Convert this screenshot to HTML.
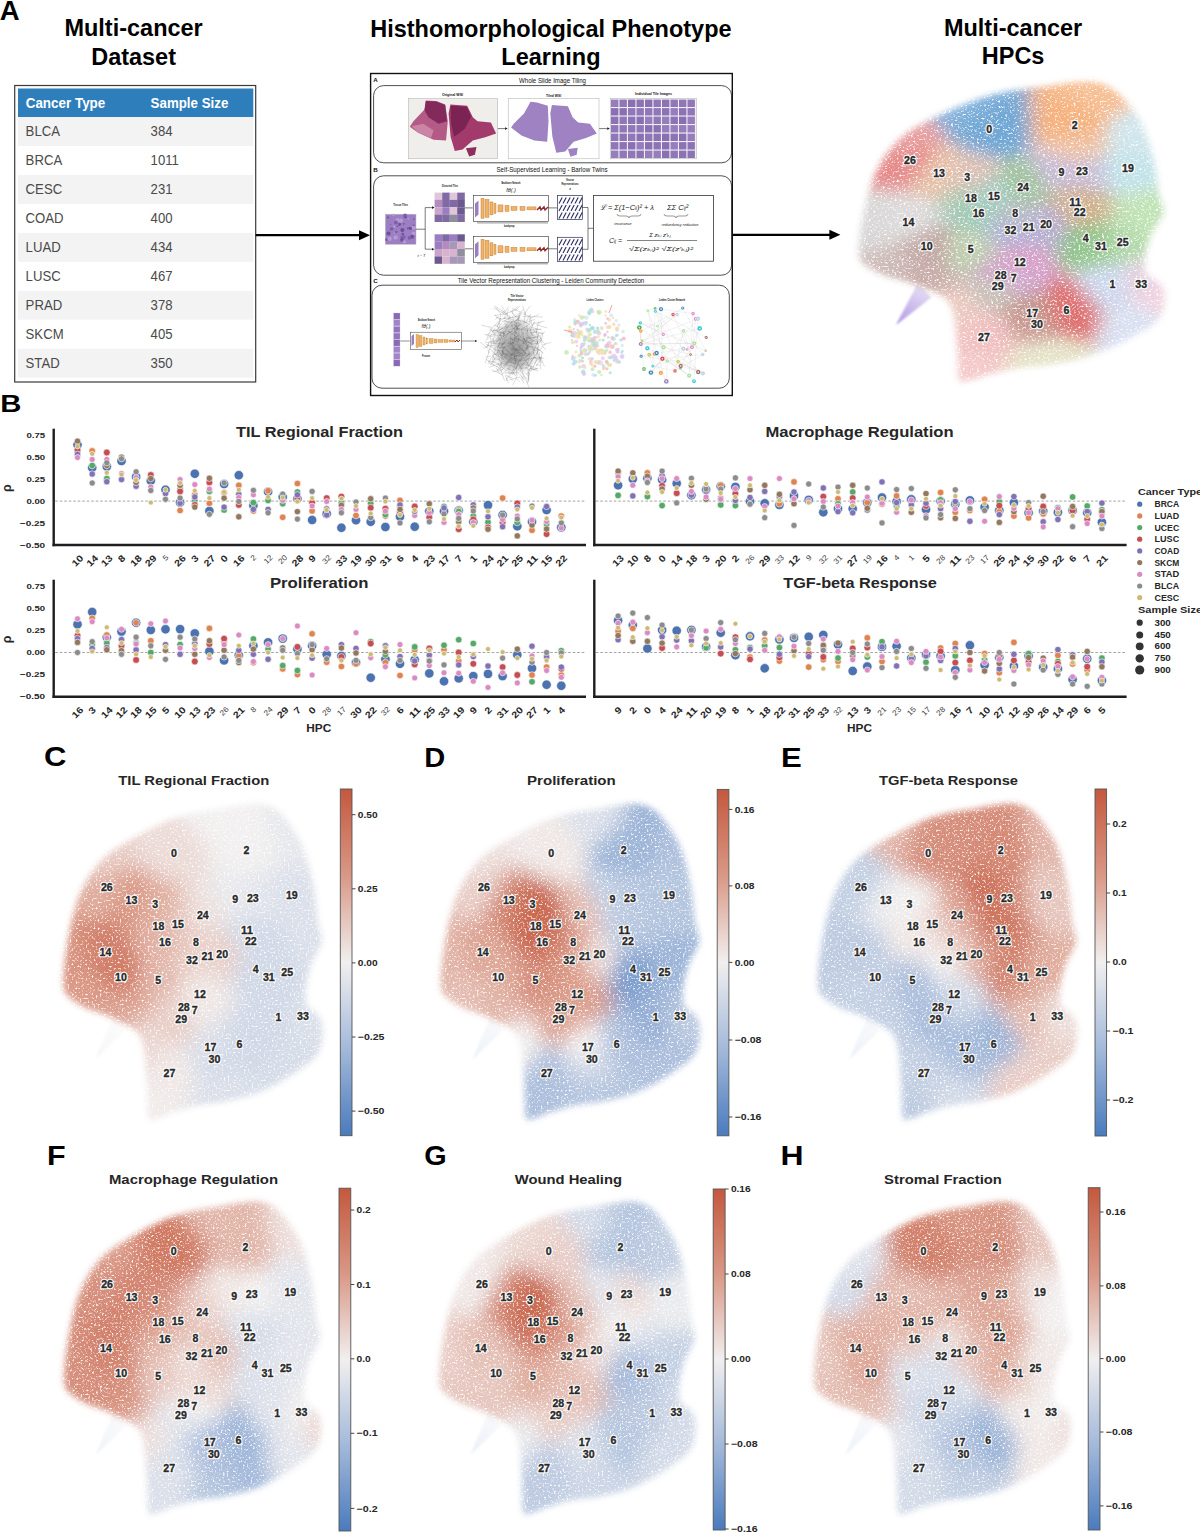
<!DOCTYPE html><html><head><meta charset="utf-8"><title>HPC figure</title><style>html,body{margin:0;padding:0;background:#fff;width:1200px;height:1532px;overflow:hidden}svg{display:block}text{font-family:"Liberation Sans",sans-serif}</style></head><body><svg width="1200" height="1532" viewBox="0 0 1200 1532"><rect width="1200" height="1532" fill="#fff"/><defs><path id="uo" d="M63.5,985.0 C63.1,980.0 63.6,973.3 64.5,965.0 C65.4,956.7 67.1,945.0 69.0,935.0 C70.9,925.0 72.8,914.5 76.0,905.0 C79.2,895.5 83.3,885.8 88.0,878.0 C92.7,870.2 98.3,863.5 104.0,858.0 C109.7,852.5 115.2,849.3 122.0,845.0 C128.8,840.7 137.0,836.2 145.0,832.0 C153.0,827.8 161.7,823.2 170.0,820.0 C178.3,816.8 186.7,814.8 195.0,813.0 C203.3,811.2 212.2,810.3 220.0,809.0 C227.8,807.7 235.0,805.8 242.0,805.0 C249.0,804.2 256.0,803.0 262.0,804.0 C268.0,805.0 273.2,807.3 278.0,811.0 C282.8,814.7 286.8,820.0 291.0,826.0 C295.2,832.0 299.8,839.7 303.0,847.0 C306.2,854.3 308.0,862.0 310.0,870.0 C312.0,878.0 313.7,886.3 315.0,895.0 C316.3,903.7 316.8,914.5 318.0,922.0 C319.2,929.5 322.0,935.2 322.0,940.0 C322.0,944.8 319.8,946.8 318.0,951.0 C316.2,955.2 313.0,958.8 311.0,965.0 C309.0,971.2 306.7,981.2 306.0,988.0 C305.3,994.8 305.2,1001.7 307.0,1006.0 C308.8,1010.3 314.4,1010.7 317.0,1014.0 C319.6,1017.3 321.8,1020.7 322.5,1026.0 C323.2,1031.3 322.4,1040.7 321.0,1046.0 C319.6,1051.3 317.0,1054.5 314.0,1058.0 C311.0,1061.5 308.3,1063.2 303.0,1067.0 C297.7,1070.8 289.5,1076.7 282.0,1081.0 C274.5,1085.3 267.0,1089.7 258.0,1093.0 C249.0,1096.3 237.7,1099.0 228.0,1101.0 C218.3,1103.0 208.5,1103.3 200.0,1105.0 C191.5,1106.7 184.0,1108.8 177.0,1111.0 C170.0,1113.2 162.7,1116.7 158.0,1118.0 C153.3,1119.3 150.8,1122.0 149.0,1119.0 C147.2,1116.0 147.9,1107.0 147.5,1100.0 C147.1,1093.0 147.1,1085.5 146.5,1077.0 C145.9,1068.5 145.6,1056.5 144.0,1049.0 C142.4,1041.5 141.3,1036.7 137.0,1032.0 C132.7,1027.3 123.2,1023.8 118.0,1021.0 C112.8,1018.2 111.7,1017.3 106.0,1015.0 C100.3,1012.7 90.5,1010.3 84.0,1007.0 C77.5,1003.7 70.4,998.7 67.0,995.0 C63.6,991.3 63.9,990.0 63.5,985.0Z"/><path id="ut" d="M113.0,1017.0 L118.0,1021.5 L125.0,1031.0 L97.0,1058.0 L95.0,1059.5Z"/><filter id="fsoft" x="-20%" y="-20%" width="140%" height="140%"><feGaussianBlur stdDeviation="3.2"/></filter><filter id="fsoft1" x="-30%" y="-30%" width="160%" height="160%"><feGaussianBlur stdDeviation="0.9"/></filter><filter id="fblob" x="-50%" y="-50%" width="200%" height="200%"><feGaussianBlur stdDeviation="10"/></filter><filter id="fblob2" x="-50%" y="-50%" width="200%" height="200%"><feGaussianBlur stdDeviation="8.5"/></filter><filter id="fspeck" x="0" y="760" width="400" height="400" filterUnits="userSpaceOnUse"><feGaussianBlur in="SourceGraphic" stdDeviation="3.2" result="b"/><feTurbulence type="fractalNoise" baseFrequency="0.5" numOctaves="2" seed="5" result="n"/><feColorMatrix in="n" type="matrix" values="0 0 0 0 1 0 0 0 0 1 0 0 0 0 1 4 0 0 0 -0.8" result="nm"/><feComposite in="b" in2="nm" operator="in"/></filter><mask id="um" maskUnits="userSpaceOnUse" x="0" y="760" width="400" height="400"><g filter="url(#fspeck)"><use href="#uo" fill="#fff"/></g></mask><linearGradient id="cmap" x1="0" y1="0" x2="0" y2="1"><stop offset="0" stop-color="#c4583e"/><stop offset="0.25" stop-color="#d99886"/><stop offset="0.5" stop-color="#f1efef"/><stop offset="0.75" stop-color="#a3b9da"/><stop offset="1" stop-color="#4a7bbd"/></linearGradient></defs><text x="-0.3" y="20.3" font-size="27.50" font-weight="bold" fill="#000" text-anchor="start">A</text><text x="133.6" y="36.4" font-size="23.60" font-weight="bold" fill="#000" text-anchor="middle" textLength="138.3" lengthAdjust="spacingAndGlyphs">Multi-cancer</text><text x="133.6" y="64.6" font-size="23.60" font-weight="bold" fill="#000" text-anchor="middle" textLength="84.8" lengthAdjust="spacingAndGlyphs">Dataset</text><text x="550.9" y="36.7" font-size="23.60" font-weight="bold" fill="#000" text-anchor="middle" textLength="361.4" lengthAdjust="spacingAndGlyphs">Histhomorphological Phenotype</text><text x="550.9" y="65.0" font-size="23.60" font-weight="bold" fill="#000" text-anchor="middle" textLength="99.2" lengthAdjust="spacingAndGlyphs">Learning</text><text x="1013.1" y="36.4" font-size="23.60" font-weight="bold" fill="#000" text-anchor="middle" textLength="138.3" lengthAdjust="spacingAndGlyphs">Multi-cancer</text><text x="1013.1" y="64.4" font-size="23.60" font-weight="bold" fill="#000" text-anchor="middle" textLength="62.6" lengthAdjust="spacingAndGlyphs">HPCs</text><rect x="14.7" y="85.5" width="241" height="296.5" fill="#fff" stroke="#3a3a3a" stroke-width="1.2"/><rect x="18" y="88.5" width="235.3" height="28.6" fill="#2e7ebc"/><rect x="18" y="117.1" width="235.3" height="28.95" fill="#f3f3f3"/><text x="25.6" y="136.4" font-size="14.60" fill="#4a4a4a" text-anchor="start" textLength="34.4" lengthAdjust="spacingAndGlyphs">BLCA</text><text x="150.6" y="136.4" font-size="14.60" fill="#4a4a4a" text-anchor="start" textLength="21.9" lengthAdjust="spacingAndGlyphs">384</text><rect x="18" y="146.0" width="235.3" height="28.95" fill="#fff"/><text x="25.6" y="165.3" font-size="14.60" fill="#4a4a4a" text-anchor="start" textLength="36.6" lengthAdjust="spacingAndGlyphs">BRCA</text><text x="150.6" y="165.3" font-size="14.60" fill="#4a4a4a" text-anchor="start" textLength="28.2" lengthAdjust="spacingAndGlyphs">1011</text><rect x="18" y="175.0" width="235.3" height="28.95" fill="#f3f3f3"/><text x="25.6" y="194.3" font-size="14.60" fill="#4a4a4a" text-anchor="start" textLength="36.6" lengthAdjust="spacingAndGlyphs">CESC</text><text x="150.6" y="194.3" font-size="14.60" fill="#4a4a4a" text-anchor="start" textLength="21.9" lengthAdjust="spacingAndGlyphs">231</text><rect x="18" y="203.9" width="235.3" height="28.95" fill="#fff"/><text x="25.6" y="223.2" font-size="14.60" fill="#4a4a4a" text-anchor="start" textLength="38.0" lengthAdjust="spacingAndGlyphs">COAD</text><text x="150.6" y="223.2" font-size="14.60" fill="#4a4a4a" text-anchor="start" textLength="21.9" lengthAdjust="spacingAndGlyphs">400</text><rect x="18" y="232.9" width="235.3" height="28.95" fill="#f3f3f3"/><text x="25.6" y="252.2" font-size="14.60" fill="#4a4a4a" text-anchor="start" textLength="35.1" lengthAdjust="spacingAndGlyphs">LUAD</text><text x="150.6" y="252.2" font-size="14.60" fill="#4a4a4a" text-anchor="start" textLength="21.9" lengthAdjust="spacingAndGlyphs">434</text><rect x="18" y="261.9" width="235.3" height="28.95" fill="#fff"/><text x="25.6" y="281.2" font-size="14.60" fill="#4a4a4a" text-anchor="start" textLength="35.1" lengthAdjust="spacingAndGlyphs">LUSC</text><text x="150.6" y="281.2" font-size="14.60" fill="#4a4a4a" text-anchor="start" textLength="21.9" lengthAdjust="spacingAndGlyphs">467</text><rect x="18" y="290.8" width="235.3" height="28.95" fill="#f3f3f3"/><text x="25.6" y="310.1" font-size="14.60" fill="#4a4a4a" text-anchor="start" textLength="36.6" lengthAdjust="spacingAndGlyphs">PRAD</text><text x="150.6" y="310.1" font-size="14.60" fill="#4a4a4a" text-anchor="start" textLength="21.9" lengthAdjust="spacingAndGlyphs">378</text><rect x="18" y="319.8" width="235.3" height="28.95" fill="#fff"/><text x="25.6" y="339.1" font-size="14.60" fill="#4a4a4a" text-anchor="start" textLength="38.0" lengthAdjust="spacingAndGlyphs">SKCM</text><text x="150.6" y="339.1" font-size="14.60" fill="#4a4a4a" text-anchor="start" textLength="21.9" lengthAdjust="spacingAndGlyphs">405</text><rect x="18" y="348.7" width="235.3" height="28.95" fill="#f3f3f3"/><text x="25.6" y="368.0" font-size="14.60" fill="#4a4a4a" text-anchor="start" textLength="34.1" lengthAdjust="spacingAndGlyphs">STAD</text><text x="150.6" y="368.0" font-size="14.60" fill="#4a4a4a" text-anchor="start" textLength="21.9" lengthAdjust="spacingAndGlyphs">350</text><text x="25.7" y="108.0" font-size="15.00" font-weight="bold" fill="#fff" text-anchor="start" textLength="79.6" lengthAdjust="spacingAndGlyphs">Cancer Type</text><text x="150.6" y="108.0" font-size="15.00" font-weight="bold" fill="#fff" text-anchor="start" textLength="77.7" lengthAdjust="spacingAndGlyphs">Sample Size</text><line x1="255.7" y1="235.2" x2="360.0" y2="235.2" stroke="#000" stroke-width="2.2"/><path d="M370.0,235.2 L359.0,230.2 L359.0,240.2Z" fill="#000"/><line x1="732.8" y1="234.8" x2="830.4" y2="234.8" stroke="#000" stroke-width="2.2"/><path d="M840.4,234.8 L829.4,229.8 L829.4,239.8Z" fill="#000"/><rect x="370.6" y="73.5" width="361.7" height="322" fill="#fff" stroke="#111" stroke-width="1.4"/><text x="373.2" y="82.0" font-size="6.20" font-weight="bold" fill="#111" text-anchor="start">A</text><text x="552.5" y="82.6" font-size="6.30" fill="#111" text-anchor="middle" textLength="67.0" lengthAdjust="spacingAndGlyphs">Whole Slide Image Tiling</text><rect x="373.6" y="85.6" width="358" height="77.2" rx="10" fill="none" stroke="#222" stroke-width="0.8"/><text x="452.5" y="96.0" font-size="3.80" font-weight="bold" fill="#111" text-anchor="middle" textLength="21.0" lengthAdjust="spacingAndGlyphs">Original WSI</text><text x="553.6" y="96.6" font-size="3.80" font-weight="bold" fill="#111" text-anchor="middle" textLength="15.0" lengthAdjust="spacingAndGlyphs">Tiled WSI</text><text x="653.5" y="95.4" font-size="3.80" font-weight="bold" fill="#111" text-anchor="middle" textLength="37.0" lengthAdjust="spacingAndGlyphs">Individual Tile Images</text><rect x="408.4" y="98.6" width="89.3" height="60.2" fill="#efeeea" stroke="#aaa" stroke-width="0.5"/><path d="M425.8,100.5 L436.2,101.0 L445.2,104.4 L447.8,121.2 L446.0,140.5 L433.6,139.8 L418.1,132.8 L409.8,126.8 L413.4,121.2 L424.5,109.5 Z" fill="#b45a86"/><path d="M425.8,101.0 L436.2,101.5 L445.2,104.9 L447.0,121.2 L438.7,123.7 L428.4,117.3 L424.5,110.1 Z" fill="#7e2456" opacity="0.9"/><path d="M450.4,104.4 L467.2,105.7 L472.8,117.3 L477.5,121.2 L490.9,122.5 L496.1,133.6 L485.2,137.2 L472.8,140.5 L462.5,149.6 L454.8,151.1 L450.6,136.7 L448.6,113.4 Z" fill="#a23a6c"/><path d="M450.6,105.7 L466.6,106.7 L471.3,116.5 L464.6,128.9 L454.2,136.7 L451.1,123.7 Z" fill="#74204e" opacity="0.85"/><path d="M465.9,148.3 L476.5,147.0 L474.9,154.7 L469.2,156.6 Z" fill="#8e2e5e"/><path d="M411.6,126.3 L423.2,123.7 L433.6,130.2 L431.0,138.0 L418.1,132.8 Z" fill="#cf8fae" opacity="0.8"/><rect x="508.2" y="98.6" width="90.8" height="60.2" fill="#fff" stroke="#aaa" stroke-width="0.5"/><path d="M530.5,101.8 L536.9,102.6 L547.8,105.7 L548.5,121.2 L547.2,141.8 L534.3,140.5 L521.4,135.4 L511.1,127.6 L513.7,123.7 L524.0,113.4 Z" fill="#9f82c2"/><path d="M551.9,105.1 L567.9,106.2 L572.6,117.3 L578.2,122.5 L589.9,123.7 L596.8,133.6 L586.0,138.0 L573.6,141.8 L565.3,151.6 L556.3,152.7 L552.4,136.7 L550.3,113.4 Z" fill="#9f82c2"/><path d="M567.9,149.1 L577.7,147.8 L576.7,154.7 L570.5,156.8 Z" fill="#9f82c2"/><rect x="610.2" y="98.6" width="86.1" height="60.2" fill="#f2eef6" stroke="#aaa" stroke-width="0.5"/><rect x="611.0" y="99.6" width="7.4" height="7.4" fill="#967dbb"/><rect x="611.0" y="108.1" width="7.4" height="7.4" fill="#8a70b2"/><rect x="611.0" y="116.6" width="7.4" height="7.4" fill="#8c74b4"/><rect x="611.0" y="125.1" width="7.4" height="7.4" fill="#9077b7"/><rect x="611.0" y="133.6" width="7.4" height="7.4" fill="#9077b7"/><rect x="611.0" y="142.1" width="7.4" height="7.4" fill="#9077b7"/><rect x="611.0" y="150.6" width="7.4" height="7.4" fill="#967dbb"/><rect x="619.5" y="99.6" width="7.4" height="7.4" fill="#9077b7"/><rect x="619.5" y="108.1" width="7.4" height="7.4" fill="#8a70b2"/><rect x="619.5" y="116.6" width="7.4" height="7.4" fill="#9077b7"/><rect x="619.5" y="125.1" width="7.4" height="7.4" fill="#9077b7"/><rect x="619.5" y="133.6" width="7.4" height="7.4" fill="#8c74b4"/><rect x="619.5" y="142.1" width="7.4" height="7.4" fill="#8c74b4"/><rect x="619.5" y="150.6" width="7.4" height="7.4" fill="#9077b7"/><rect x="628.0" y="99.6" width="7.4" height="7.4" fill="#8a70b2"/><rect x="628.0" y="108.1" width="7.4" height="7.4" fill="#9077b7"/><rect x="628.0" y="116.6" width="7.4" height="7.4" fill="#8c74b4"/><rect x="628.0" y="125.1" width="7.4" height="7.4" fill="#9077b7"/><rect x="628.0" y="133.6" width="7.4" height="7.4" fill="#9077b7"/><rect x="628.0" y="142.1" width="7.4" height="7.4" fill="#8a70b2"/><rect x="628.0" y="150.6" width="7.4" height="7.4" fill="#9077b7"/><rect x="636.5" y="99.6" width="7.4" height="7.4" fill="#8c74b4"/><rect x="636.5" y="108.1" width="7.4" height="7.4" fill="#9077b7"/><rect x="636.5" y="116.6" width="7.4" height="7.4" fill="#8a70b2"/><rect x="636.5" y="125.1" width="7.4" height="7.4" fill="#9077b7"/><rect x="636.5" y="133.6" width="7.4" height="7.4" fill="#8a70b2"/><rect x="636.5" y="142.1" width="7.4" height="7.4" fill="#967dbb"/><rect x="636.5" y="150.6" width="7.4" height="7.4" fill="#8c74b4"/><rect x="645.0" y="99.6" width="7.4" height="7.4" fill="#8a70b2"/><rect x="645.0" y="108.1" width="7.4" height="7.4" fill="#9077b7"/><rect x="645.0" y="116.6" width="7.4" height="7.4" fill="#967dbb"/><rect x="645.0" y="125.1" width="7.4" height="7.4" fill="#8a70b2"/><rect x="645.0" y="133.6" width="7.4" height="7.4" fill="#9077b7"/><rect x="645.0" y="142.1" width="7.4" height="7.4" fill="#8a70b2"/><rect x="645.0" y="150.6" width="7.4" height="7.4" fill="#967dbb"/><rect x="653.5" y="99.6" width="7.4" height="7.4" fill="#9077b7"/><rect x="653.5" y="108.1" width="7.4" height="7.4" fill="#9077b7"/><rect x="653.5" y="116.6" width="7.4" height="7.4" fill="#9077b7"/><rect x="653.5" y="125.1" width="7.4" height="7.4" fill="#8a70b2"/><rect x="653.5" y="133.6" width="7.4" height="7.4" fill="#8c74b4"/><rect x="653.5" y="142.1" width="7.4" height="7.4" fill="#8c74b4"/><rect x="653.5" y="150.6" width="7.4" height="7.4" fill="#967dbb"/><rect x="662.0" y="99.6" width="7.4" height="7.4" fill="#8c74b4"/><rect x="662.0" y="108.1" width="7.4" height="7.4" fill="#8c74b4"/><rect x="662.0" y="116.6" width="7.4" height="7.4" fill="#967dbb"/><rect x="662.0" y="125.1" width="7.4" height="7.4" fill="#967dbb"/><rect x="662.0" y="133.6" width="7.4" height="7.4" fill="#8a70b2"/><rect x="662.0" y="142.1" width="7.4" height="7.4" fill="#8a70b2"/><rect x="662.0" y="150.6" width="7.4" height="7.4" fill="#8a70b2"/><rect x="670.5" y="99.6" width="7.4" height="7.4" fill="#9077b7"/><rect x="670.5" y="108.1" width="7.4" height="7.4" fill="#967dbb"/><rect x="670.5" y="116.6" width="7.4" height="7.4" fill="#8c74b4"/><rect x="670.5" y="125.1" width="7.4" height="7.4" fill="#967dbb"/><rect x="670.5" y="133.6" width="7.4" height="7.4" fill="#8c74b4"/><rect x="670.5" y="142.1" width="7.4" height="7.4" fill="#967dbb"/><rect x="670.5" y="150.6" width="7.4" height="7.4" fill="#9077b7"/><rect x="679.0" y="99.6" width="7.4" height="7.4" fill="#9077b7"/><rect x="679.0" y="108.1" width="7.4" height="7.4" fill="#8c74b4"/><rect x="679.0" y="116.6" width="7.4" height="7.4" fill="#8a70b2"/><rect x="679.0" y="125.1" width="7.4" height="7.4" fill="#967dbb"/><rect x="679.0" y="133.6" width="7.4" height="7.4" fill="#8a70b2"/><rect x="679.0" y="142.1" width="7.4" height="7.4" fill="#8c74b4"/><rect x="679.0" y="150.6" width="7.4" height="7.4" fill="#8c74b4"/><rect x="687.5" y="99.6" width="7.4" height="7.4" fill="#9077b7"/><rect x="687.5" y="108.1" width="7.4" height="7.4" fill="#9077b7"/><rect x="687.5" y="116.6" width="7.4" height="7.4" fill="#967dbb"/><rect x="687.5" y="125.1" width="7.4" height="7.4" fill="#967dbb"/><rect x="687.5" y="133.6" width="7.4" height="7.4" fill="#967dbb"/><rect x="687.5" y="142.1" width="7.4" height="7.4" fill="#8c74b4"/><rect x="687.5" y="150.6" width="7.4" height="7.4" fill="#8c74b4"/><line x1="497.9" y1="128.6" x2="506.1" y2="128.6" stroke="#222" stroke-width="0.6"/><path d="M507.6,128.6 L505.1,127.2 L505.1,130Z" fill="#222"/><line x1="599.2" y1="128.6" x2="608.3" y2="128.6" stroke="#222" stroke-width="0.6"/><path d="M609.8,128.6 L607.3,127.2 L607.3,130Z" fill="#222"/><text x="373.2" y="171.8" font-size="6.20" font-weight="bold" fill="#111" text-anchor="start">B</text><text x="552.0" y="172.2" font-size="6.30" fill="#111" text-anchor="middle" textLength="111.0" lengthAdjust="spacingAndGlyphs">Self-Supervised Learning - Barlow Twins</text><rect x="373.6" y="175.8" width="358" height="99.4" rx="10" fill="none" stroke="#222" stroke-width="0.8"/><text x="400.6" y="206.2" font-size="3.60" font-weight="bold" fill="#111" text-anchor="middle" textLength="14.5" lengthAdjust="spacingAndGlyphs">Tissue Tiles</text><rect x="385.3" y="214.2" width="30.7" height="30.1" fill="#9c7fc3" stroke="#bbb" stroke-width="0.5"/><circle cx="388.0" cy="217.6" r="1.0" fill="#6e4f99"/><circle cx="405.3" cy="216.7" r="1.7" fill="#6e4f99"/><circle cx="402.8" cy="234.1" r="1.3" fill="#6e4f99"/><circle cx="397.2" cy="233.7" r="0.6" fill="#b49bd3"/><circle cx="396.3" cy="232.1" r="1.4" fill="#7d5ea8"/><circle cx="408.3" cy="218.6" r="1.0" fill="#b49bd3"/><circle cx="412.6" cy="228.9" r="0.9" fill="#b49bd3"/><circle cx="401.9" cy="239.7" r="1.9" fill="#6e4f99"/><circle cx="394.1" cy="226.6" r="1.2" fill="#b49bd3"/><circle cx="413.8" cy="219.2" r="0.9" fill="#7d5ea8"/><circle cx="405.1" cy="215.3" r="1.9" fill="#7d5ea8"/><circle cx="393.6" cy="215.1" r="1.3" fill="#b49bd3"/><circle cx="403.7" cy="223.9" r="0.8" fill="#6e4f99"/><circle cx="413.6" cy="233.3" r="1.8" fill="#b49bd3"/><circle cx="412.1" cy="236.8" r="2.0" fill="#6e4f99"/><circle cx="397.4" cy="226.2" r="0.8" fill="#6e4f99"/><circle cx="397.6" cy="220.3" r="2.2" fill="#b49bd3"/><circle cx="390.7" cy="224.5" r="0.7" fill="#7d5ea8"/><circle cx="402.4" cy="230.0" r="2.1" fill="#6e4f99"/><circle cx="386.7" cy="239.5" r="1.6" fill="#7d5ea8"/><circle cx="404.4" cy="241.8" r="1.6" fill="#b49bd3"/><circle cx="389.6" cy="238.8" r="2.2" fill="#b49bd3"/><circle cx="399.9" cy="223.7" r="0.8" fill="#6e4f99"/><circle cx="395.9" cy="222.4" r="1.9" fill="#7d5ea8"/><circle cx="401.0" cy="220.7" r="2.1" fill="#b49bd3"/><circle cx="390.3" cy="230.2" r="0.6" fill="#6e4f99"/><circle cx="394.6" cy="233.0" r="0.7" fill="#b49bd3"/><circle cx="401.0" cy="240.4" r="1.2" fill="#7d5ea8"/><circle cx="401.4" cy="236.8" r="1.1" fill="#7d5ea8"/><circle cx="403.8" cy="237.1" r="1.8" fill="#7d5ea8"/><circle cx="409.4" cy="237.9" r="1.8" fill="#7d5ea8"/><circle cx="391.8" cy="228.8" r="1.8" fill="#7d5ea8"/><circle cx="408.9" cy="228.2" r="0.9" fill="#6e4f99"/><circle cx="413.7" cy="227.5" r="2.1" fill="#b49bd3"/><circle cx="413.7" cy="225.2" r="1.0" fill="#7d5ea8"/><circle cx="399.6" cy="224.5" r="1.4" fill="#6e4f99"/><circle cx="410.4" cy="228.4" r="1.6" fill="#6e4f99"/><circle cx="388.5" cy="233.5" r="2.1" fill="#6e4f99"/><circle cx="407.8" cy="228.4" r="0.9" fill="#6e4f99"/><circle cx="395.6" cy="237.4" r="2.2" fill="#b49bd3"/><path d="M416,229.2 H425.2 M425.2,207.6 V249.2 M425.2,207.6 H432.6 M425.2,249.2 H432.6" stroke="#222" stroke-width="0.6" fill="none"/><path d="M434.6,207.6 L432,206.3 L432,208.9Z M434.6,249.2 L432,247.9 L432,250.5Z" fill="#222"/><text x="421.5" y="257" font-size="4" font-style="italic" fill="#222" font-family="Liberation Serif,serif" text-anchor="middle">t ~ T</text><text x="450.0" y="186.5" font-size="3.60" font-weight="bold" fill="#111" text-anchor="middle" textLength="16.0" lengthAdjust="spacingAndGlyphs">Distorted Tiles</text><rect x="434.6" y="192.6" width="7.6" height="7.4" fill="#e0c6da"/><rect x="434.6" y="199.9" width="7.6" height="7.4" fill="#b58ac0"/><rect x="434.6" y="207.3" width="7.6" height="7.4" fill="#c9a5c9"/><rect x="434.6" y="214.6" width="7.6" height="7.4" fill="#7f6aa3"/><rect x="442.2" y="192.6" width="7.6" height="7.4" fill="#7f6aa3"/><rect x="442.2" y="199.9" width="7.6" height="7.4" fill="#7f6aa3"/><rect x="442.2" y="207.3" width="7.6" height="7.4" fill="#9b7ec2"/><rect x="442.2" y="214.6" width="7.6" height="7.4" fill="#7f6aa3"/><rect x="449.7" y="192.6" width="7.6" height="7.4" fill="#e0c6da"/><rect x="449.7" y="199.9" width="7.6" height="7.4" fill="#7f6aa3"/><rect x="449.7" y="207.3" width="7.6" height="7.4" fill="#e0c6da"/><rect x="449.7" y="214.6" width="7.6" height="7.4" fill="#8e8e9e"/><rect x="457.2" y="192.6" width="7.6" height="7.4" fill="#7f6aa3"/><rect x="457.2" y="199.9" width="7.6" height="7.4" fill="#6c5a8e"/><rect x="457.2" y="207.3" width="7.6" height="7.4" fill="#6c5a8e"/><rect x="457.2" y="214.6" width="7.6" height="7.4" fill="#7f6aa3"/><rect x="434.6" y="234.3" width="7.6" height="7.4" fill="#9b7ec2"/><rect x="434.6" y="241.7" width="7.6" height="7.4" fill="#9b7ec2"/><rect x="434.6" y="249.0" width="7.6" height="7.4" fill="#c9a5c9"/><rect x="434.6" y="256.4" width="7.6" height="7.4" fill="#6c5a8e"/><rect x="442.2" y="234.3" width="7.6" height="7.4" fill="#7f6aa3"/><rect x="442.2" y="241.7" width="7.6" height="7.4" fill="#b58ac0"/><rect x="442.2" y="249.0" width="7.6" height="7.4" fill="#d8b3cf"/><rect x="442.2" y="256.4" width="7.6" height="7.4" fill="#d8b3cf"/><rect x="449.7" y="234.3" width="7.6" height="7.4" fill="#9b7ec2"/><rect x="449.7" y="241.7" width="7.6" height="7.4" fill="#a898b8"/><rect x="449.7" y="249.0" width="7.6" height="7.4" fill="#d8b3cf"/><rect x="449.7" y="256.4" width="7.6" height="7.4" fill="#a898b8"/><rect x="457.2" y="234.3" width="7.6" height="7.4" fill="#6c5a8e"/><rect x="457.2" y="241.7" width="7.6" height="7.4" fill="#d8b3cf"/><rect x="457.2" y="249.0" width="7.6" height="7.4" fill="#8e8e9e"/><rect x="457.2" y="256.4" width="7.6" height="7.4" fill="#a898b8"/><text x="511.0" y="184.0" font-size="3.60" font-weight="bold" fill="#111" text-anchor="middle" textLength="19.0" lengthAdjust="spacingAndGlyphs">Backbone Network</text><text x="511" y="191.5" font-size="5.5" font-style="italic" fill="#222" font-family="Liberation Serif,serif" text-anchor="middle">fθ(.)</text><line x1="464.9" y1="207.9" x2="472.8" y2="207.9" stroke="#222" stroke-width="0.6"/><rect x="473.3" y="195.4" width="75.1" height="26" fill="#fff" stroke="#333" stroke-width="0.6"/><path d="M475,203.4 l3.5,-3 v14 l-3.5,3Z" fill="#9b7ec2"/><rect x="481.0" y="198.4" width="3.0" height="20.0" fill="#f0b266" stroke="#b7772e" stroke-width="0.4"/><rect x="485.0" y="199.4" width="4.0" height="18.0" fill="#f0b266" stroke="#b7772e" stroke-width="0.4"/><rect x="490.0" y="201.9" width="3.0" height="13.0" fill="#f0b266" stroke="#b7772e" stroke-width="0.4"/><rect x="494.0" y="203.4" width="2.0" height="10.0" fill="#f0b266" stroke="#b7772e" stroke-width="0.4"/><rect x="498.0" y="204.9" width="5.0" height="7.0" fill="#f0b266" stroke="#b7772e" stroke-width="0.4"/><rect x="505.0" y="205.4" width="4.0" height="6.0" fill="#f0b266" stroke="#b7772e" stroke-width="0.4"/><rect x="511.0" y="206.4" width="6.0" height="4.0" fill="#f0b266" stroke="#b7772e" stroke-width="0.4"/><rect x="520.0" y="206.4" width="5.0" height="4.0" fill="#f0b266" stroke="#b7772e" stroke-width="0.4"/><rect x="527.0" y="206.9" width="9.0" height="3.0" fill="#f0b266" stroke="#b7772e" stroke-width="0.4"/><path d="M537,209.9 l3,-3 l1,3 l3,-3 l1,3 l3,-3" stroke="#8e2a2a" stroke-width="1.4" fill="none"/><line x1="548.5" y1="207.9" x2="557" y2="207.9" stroke="#222" stroke-width="0.6"/><line x1="548" y1="222.9" x2="477" y2="222.9" stroke="#222" stroke-width="0.5"/><text x="509.5" y="226.6" font-size="3.50" font-weight="bold" fill="#111" text-anchor="middle" textLength="11.0" lengthAdjust="spacingAndGlyphs">backprop.</text><line x1="464.9" y1="248.8" x2="472.8" y2="248.8" stroke="#222" stroke-width="0.6"/><rect x="473.3" y="236.3" width="75.1" height="26" fill="#fff" stroke="#333" stroke-width="0.6"/><path d="M475,244.3 l3.5,-3 v14 l-3.5,3Z" fill="#9b7ec2"/><rect x="481.0" y="239.3" width="3.0" height="20.0" fill="#f0b266" stroke="#b7772e" stroke-width="0.4"/><rect x="485.0" y="240.3" width="4.0" height="18.0" fill="#f0b266" stroke="#b7772e" stroke-width="0.4"/><rect x="490.0" y="242.8" width="3.0" height="13.0" fill="#f0b266" stroke="#b7772e" stroke-width="0.4"/><rect x="494.0" y="244.3" width="2.0" height="10.0" fill="#f0b266" stroke="#b7772e" stroke-width="0.4"/><rect x="498.0" y="245.8" width="5.0" height="7.0" fill="#f0b266" stroke="#b7772e" stroke-width="0.4"/><rect x="505.0" y="246.3" width="4.0" height="6.0" fill="#f0b266" stroke="#b7772e" stroke-width="0.4"/><rect x="511.0" y="247.3" width="6.0" height="4.0" fill="#f0b266" stroke="#b7772e" stroke-width="0.4"/><rect x="520.0" y="247.3" width="5.0" height="4.0" fill="#f0b266" stroke="#b7772e" stroke-width="0.4"/><rect x="527.0" y="247.8" width="9.0" height="3.0" fill="#f0b266" stroke="#b7772e" stroke-width="0.4"/><path d="M537,250.8 l3,-3 l1,3 l3,-3 l1,3 l3,-3" stroke="#8e2a2a" stroke-width="1.4" fill="none"/><line x1="548.5" y1="248.8" x2="557" y2="248.8" stroke="#222" stroke-width="0.6"/><line x1="548" y1="263.8" x2="477" y2="263.8" stroke="#222" stroke-width="0.5"/><text x="509.5" y="267.5" font-size="3.50" font-weight="bold" fill="#111" text-anchor="middle" textLength="11.0" lengthAdjust="spacingAndGlyphs">backprop.</text><text x="570.0" y="181.0" font-size="3.50" font-weight="bold" fill="#111" text-anchor="middle" textLength="8.0" lengthAdjust="spacingAndGlyphs">Vector</text><text x="570.0" y="185.2" font-size="3.50" font-weight="bold" fill="#111" text-anchor="middle" textLength="17.0" lengthAdjust="spacingAndGlyphs">Representations</text><text x="570.0" y="189.5" font-size="3.50" font-weight="bold" fill="#111" text-anchor="middle">z</text><rect x="557.6" y="195.4" width="24.7" height="24.2" fill="#fff" stroke="#2a2a55" stroke-width="0.7"/><line x1="559.0" y1="203.4" x2="562.2" y2="197.4" stroke="#2a2a5e" stroke-width="1.1"/><line x1="559.0" y1="211.0" x2="562.2" y2="205.0" stroke="#2a2a5e" stroke-width="1.1"/><line x1="559.0" y1="218.6" x2="562.2" y2="212.6" stroke="#2a2a5e" stroke-width="1.1"/><line x1="563.0" y1="203.4" x2="566.2" y2="197.4" stroke="#2a2a5e" stroke-width="1.1"/><line x1="563.0" y1="211.0" x2="566.2" y2="205.0" stroke="#2a2a5e" stroke-width="1.1"/><line x1="563.0" y1="218.6" x2="566.2" y2="212.6" stroke="#2a2a5e" stroke-width="1.1"/><line x1="567.0" y1="203.4" x2="570.2" y2="197.4" stroke="#2a2a5e" stroke-width="1.1"/><line x1="567.0" y1="211.0" x2="570.2" y2="205.0" stroke="#2a2a5e" stroke-width="1.1"/><line x1="567.0" y1="218.6" x2="570.2" y2="212.6" stroke="#2a2a5e" stroke-width="1.1"/><line x1="571.0" y1="203.4" x2="574.2" y2="197.4" stroke="#2a2a5e" stroke-width="1.1"/><line x1="571.0" y1="211.0" x2="574.2" y2="205.0" stroke="#2a2a5e" stroke-width="1.1"/><line x1="571.0" y1="218.6" x2="574.2" y2="212.6" stroke="#2a2a5e" stroke-width="1.1"/><line x1="575.0" y1="203.4" x2="578.2" y2="197.4" stroke="#2a2a5e" stroke-width="1.1"/><line x1="575.0" y1="211.0" x2="578.2" y2="205.0" stroke="#2a2a5e" stroke-width="1.1"/><line x1="575.0" y1="218.6" x2="578.2" y2="212.6" stroke="#2a2a5e" stroke-width="1.1"/><line x1="579.0" y1="203.4" x2="582.2" y2="197.4" stroke="#2a2a5e" stroke-width="1.1"/><line x1="579.0" y1="211.0" x2="582.2" y2="205.0" stroke="#2a2a5e" stroke-width="1.1"/><line x1="579.0" y1="218.6" x2="582.2" y2="212.6" stroke="#2a2a5e" stroke-width="1.1"/><rect x="557.6" y="237.3" width="24.7" height="24.2" fill="#fff" stroke="#2a2a55" stroke-width="0.7"/><line x1="559.0" y1="245.3" x2="562.2" y2="239.3" stroke="#2a2a5e" stroke-width="1.1"/><line x1="559.0" y1="252.9" x2="562.2" y2="246.9" stroke="#2a2a5e" stroke-width="1.1"/><line x1="559.0" y1="260.5" x2="562.2" y2="254.5" stroke="#2a2a5e" stroke-width="1.1"/><line x1="563.0" y1="245.3" x2="566.2" y2="239.3" stroke="#2a2a5e" stroke-width="1.1"/><line x1="563.0" y1="252.9" x2="566.2" y2="246.9" stroke="#2a2a5e" stroke-width="1.1"/><line x1="563.0" y1="260.5" x2="566.2" y2="254.5" stroke="#2a2a5e" stroke-width="1.1"/><line x1="567.0" y1="245.3" x2="570.2" y2="239.3" stroke="#2a2a5e" stroke-width="1.1"/><line x1="567.0" y1="252.9" x2="570.2" y2="246.9" stroke="#2a2a5e" stroke-width="1.1"/><line x1="567.0" y1="260.5" x2="570.2" y2="254.5" stroke="#2a2a5e" stroke-width="1.1"/><line x1="571.0" y1="245.3" x2="574.2" y2="239.3" stroke="#2a2a5e" stroke-width="1.1"/><line x1="571.0" y1="252.9" x2="574.2" y2="246.9" stroke="#2a2a5e" stroke-width="1.1"/><line x1="571.0" y1="260.5" x2="574.2" y2="254.5" stroke="#2a2a5e" stroke-width="1.1"/><line x1="575.0" y1="245.3" x2="578.2" y2="239.3" stroke="#2a2a5e" stroke-width="1.1"/><line x1="575.0" y1="252.9" x2="578.2" y2="246.9" stroke="#2a2a5e" stroke-width="1.1"/><line x1="575.0" y1="260.5" x2="578.2" y2="254.5" stroke="#2a2a5e" stroke-width="1.1"/><line x1="579.0" y1="245.3" x2="582.2" y2="239.3" stroke="#2a2a5e" stroke-width="1.1"/><line x1="579.0" y1="252.9" x2="582.2" y2="246.9" stroke="#2a2a5e" stroke-width="1.1"/><line x1="579.0" y1="260.5" x2="582.2" y2="254.5" stroke="#2a2a5e" stroke-width="1.1"/><path d="M582.3,207.5 H588 V228.3 H593 M582.3,249.3 H588 V228.3" stroke="#222" stroke-width="0.6" fill="none"/><rect x="593.4" y="195.4" width="120.1" height="65.8" fill="#fff" stroke="#333" stroke-width="0.8"/><text x="600" y="210" font-size="7.6" font-family="Liberation Serif,serif" font-style="italic" fill="#222" textLength="54" lengthAdjust="spacingAndGlyphs">ℒ = Σ(1−C<tspan font-size="4.5">ii</tspan>)² + λ</text><text x="667" y="210" font-size="7.6" font-family="Liberation Serif,serif" font-style="italic" fill="#222">ΣΣ C<tspan font-size="4.5">ij</tspan>²</text><path d="M617,214 q0,2 3,2 h6 q3,0 3,2 q0,-2 3,-2 h6 q3,0 3,-2" stroke="#333" stroke-width="0.5" fill="none"/><path d="M664,214 q0,2 3,2 h6 q3,0 3,2 q0,-2 3,-2 h6 q3,0 3,-2" stroke="#333" stroke-width="0.5" fill="none"/><text x="623" y="225" font-size="3.8" font-family="Liberation Serif,serif" font-style="italic" fill="#222" text-anchor="middle">invariance</text><text x="680" y="226" font-size="3.8" font-family="Liberation Serif,serif" font-style="italic" fill="#222" text-anchor="middle">redundancy reduction</text><text x="609" y="243" font-size="7" font-family="Liberation Serif,serif" font-style="italic" fill="#222">C<tspan font-size="4.5">ij</tspan> =</text><text x="660" y="237" font-size="6" font-family="Liberation Serif,serif" font-style="italic" fill="#222" text-anchor="middle">Σ z<tspan font-size="3.5">b,i</tspan> z′<tspan font-size="3.5">b,j</tspan></text><line x1="627" y1="240.5" x2="697" y2="240.5" stroke="#333" stroke-width="0.6"/><text x="661" y="251" font-size="6.2" font-family="Liberation Serif,serif" font-style="italic" fill="#222" text-anchor="middle" textLength="64" lengthAdjust="spacingAndGlyphs">√Σ(z<tspan font-size="3.5">b,i</tspan>)² √Σ(z′<tspan font-size="3.5">b,j</tspan>)²</text><text x="373.2" y="282.6" font-size="6.20" font-weight="bold" fill="#111" text-anchor="start">C</text><text x="551.0" y="282.9" font-size="6.30" fill="#111" text-anchor="middle" textLength="186.5" lengthAdjust="spacingAndGlyphs">Tile Vector Representation Clustering - Leiden Community Detection</text><rect x="372" y="285.2" width="357.3" height="103" rx="10" fill="none" stroke="#222" stroke-width="0.8"/><rect x="393.6" y="313.0" width="6.4" height="6.2" fill="#8a69b3" stroke="#c9b8dd" stroke-width="0.3"/><rect x="393.6" y="319.7" width="6.4" height="6.2" fill="#a284c7" stroke="#c9b8dd" stroke-width="0.3"/><rect x="393.6" y="326.4" width="6.4" height="6.2" fill="#9474bd" stroke="#c9b8dd" stroke-width="0.3"/><rect x="393.6" y="333.1" width="6.4" height="6.2" fill="#9474bd" stroke="#c9b8dd" stroke-width="0.3"/><rect x="393.6" y="339.8" width="6.4" height="6.2" fill="#8a69b3" stroke="#c9b8dd" stroke-width="0.3"/><rect x="393.6" y="346.5" width="6.4" height="6.2" fill="#a284c7" stroke="#c9b8dd" stroke-width="0.3"/><rect x="393.6" y="353.2" width="6.4" height="6.2" fill="#a284c7" stroke="#c9b8dd" stroke-width="0.3"/><rect x="393.6" y="359.9" width="6.4" height="6.2" fill="#8a69b3" stroke="#c9b8dd" stroke-width="0.3"/><line x1="400.3" y1="341" x2="409.8" y2="341" stroke="#222" stroke-width="0.5"/><text x="426.5" y="320.8" font-size="3.30" font-weight="bold" fill="#111" text-anchor="middle" textLength="17.0" lengthAdjust="spacingAndGlyphs">Backbone Network</text><text x="426" y="328" font-size="5" font-family="Liberation Serif,serif" font-style="italic" fill="#222" text-anchor="middle">fθ(.)</text><rect x="410.3" y="332.2" width="51" height="17.4" fill="#fff" stroke="#333" stroke-width="0.5"/><path d="M411.5,336 l2.5,-2 v10 l-2.5,2Z" fill="#9b7ec2"/><rect x="416.0" y="334.5" width="2.5" height="13.0" fill="#f0b266" stroke="#b7772e" stroke-width="0.3"/><rect x="419.0" y="335.5" width="3.0" height="11.0" fill="#f0b266" stroke="#b7772e" stroke-width="0.3"/><rect x="423.0" y="337.0" width="2.0" height="8.0" fill="#f0b266" stroke="#b7772e" stroke-width="0.3"/><rect x="426.0" y="338.0" width="1.5" height="6.0" fill="#f0b266" stroke="#b7772e" stroke-width="0.3"/><rect x="429.0" y="338.5" width="4.0" height="5.0" fill="#f0b266" stroke="#b7772e" stroke-width="0.3"/><rect x="434.0" y="339.0" width="3.0" height="4.0" fill="#f0b266" stroke="#b7772e" stroke-width="0.3"/><rect x="438.0" y="339.5" width="5.0" height="3.0" fill="#f0b266" stroke="#b7772e" stroke-width="0.3"/><rect x="444.0" y="339.5" width="4.0" height="3.0" fill="#f0b266" stroke="#b7772e" stroke-width="0.3"/><rect x="449.0" y="340.0" width="6.0" height="2.0" fill="#f0b266" stroke="#b7772e" stroke-width="0.3"/><path d="M455,342 l2,-2 l1,2 l2,-2" stroke="#8e2a2a" stroke-width="1" fill="none"/><line x1="461.3" y1="341" x2="476" y2="341" stroke="#222" stroke-width="0.5"/><path d="M477.5,341 L475,340 L475,342Z" fill="#222"/><text x="426.0" y="357.0" font-size="3.30" font-weight="bold" fill="#111" text-anchor="middle" textLength="8.0" lengthAdjust="spacingAndGlyphs">Frozen</text><text x="517.0" y="296.8" font-size="3.40" font-weight="bold" fill="#111" text-anchor="middle" textLength="13.0" lengthAdjust="spacingAndGlyphs">Tile Vector</text><text x="517.0" y="300.8" font-size="3.40" font-weight="bold" fill="#111" text-anchor="middle" textLength="18.0" lengthAdjust="spacingAndGlyphs">Representations</text><path d="M492.2,327.5l-11.0,-2.3M495.8,343.8l-3.2,-0.3M505.6,348.6l7.2,7.2M523.4,363.7l-3.2,7.3M506.3,365.0l-6.5,7.7M530.5,359.3l5.2,-1.8M517.6,320.9l3.7,-9.1M529.7,332.8l7.5,-0.8M492.6,341.9l-7.7,0.9M488.3,348.6l-8.6,-6.7M526.7,338.5l11.4,-1.4M519.6,335.0l-5.7,-4.1M525.7,350.6l2.8,-8.6M520.6,312.0l-8.7,-3.7M510.3,334.8l9.6,-6.6M520.2,377.4l4.2,6.1M540.0,342.0l1.0,-6.8M500.4,342.2l-2.6,5.3M514.5,340.8l0.3,-7.0M529.3,346.0l6.2,4.4M540.5,357.6l0.2,11.7M525.0,353.7l3.8,-9.3M513.9,354.2l2.0,11.0M520.2,329.9l-9.3,-6.4M494.6,331.9l-1.3,3.3M508.7,324.6l-9.9,5.8M498.7,321.1l-7.3,7.8M538.4,357.0l5.9,1.4M489.7,333.1l-3.4,2.3M503.3,341.5l-0.8,4.4M525.2,348.2l5.2,-2.4M515.8,327.4l0.3,-4.6M513.6,346.6l1.2,2.9M512.9,319.7l-7.1,-1.6M521.7,340.4l4.5,5.2M489.9,345.0l-6.8,3.3M504.4,312.0l-8.9,-5.5M509.3,318.3l-3.7,-4.9M522.7,347.4l1.9,-9.5M514.7,355.8l10.6,-0.6M530.1,324.0l-0.6,-5.1M510.3,365.2l6.2,3.2M512.7,378.1l-7.3,-3.1M516.0,378.3l4.4,4.3M530.7,344.1l7.5,-0.7M520.6,366.1l4.1,-3.5M528.6,354.8l1.0,-3.1M511.1,357.8l-4.9,6.0M515.1,316.8l8.3,-7.1M504.0,355.4l-1.4,-4.1M511.5,317.5l-9.6,4.3M531.5,327.4l10.0,2.6M527.2,362.2l6.6,8.2M523.4,314.6l6.9,-8.6M505.8,318.4l-3.3,-0.2M525.2,358.1l7.7,-7.1M495.2,334.5l-5.9,-7.0M514.1,344.1l-4.2,-8.8M495.8,343.6l-2.8,-2.2M514.0,328.7l-5.3,1.1M513.6,330.6l8.7,-8.0M499.3,344.7l-9.1,1.1M517.2,318.0l2.3,-2.9M522.4,356.3l-1.9,5.4M513.2,343.0l-1.3,5.3M504.4,319.2l1.2,-5.5M497.4,341.7l-4.1,0.1M523.3,335.8l3.7,10.8M532.4,346.4l2.1,11.5M502.9,349.0l-1.1,11.5M519.9,368.5l7.7,-0.8M523.0,341.0l4.2,6.3M532.2,325.5l-2.4,-10.8M512.0,344.3l3.6,6.5M502.0,349.2l1.1,6.0M504.8,372.9l9.8,-0.1M519.2,335.7l7.2,6.0M525.9,334.3l2.8,-5.9M535.4,343.8l5.8,-3.7M514.3,349.6l10.4,1.4M509.0,376.8l3.8,3.8M504.7,343.1l-10.5,4.9M533.5,323.5l11.0,-2.3M533.2,335.1l3.0,1.7M513.1,322.4l6.9,-5.5M514.0,349.6l-3.9,-1.5M500.5,347.2l-5.3,8.0M527.3,341.7l5.1,2.6M500.0,336.9l-2.5,3.7M521.9,375.8l1.4,4.8M538.2,324.6l3.0,-3.0M517.3,351.8l3.2,2.1M515.8,359.5l-2.3,10.7M515.0,323.4l-2.6,-7.3M504.5,356.8l4.5,3.2M522.9,342.0l8.5,-1.6M522.3,333.4l-1.1,-5.1M501.1,356.7l-4.0,-9.9M517.0,341.5l-8.4,-4.3M529.2,330.4l2.9,-0.9M494.2,365.1l-8.7,-6.2M527.0,341.4l-0.7,-4.3M493.0,340.1l3.1,-9.0M500.7,320.2l-5.8,-5.5M538.4,351.4l7.7,-8.3M506.6,330.4l-4.4,2.9M500.2,322.7l-2.8,2.3M495.0,340.1l-4.8,1.5M513.5,342.7l-7.1,1.1M535.8,337.1l2.1,7.0M516.2,359.1l-9.2,-1.6M514.0,347.3l-3.1,8.5M504.1,351.5l-11.2,-1.9M515.5,348.6l4.8,4.8M510.6,331.9l6.7,-7.0M504.2,343.6l1.9,-5.5M519.9,330.9l-6.1,-7.7M507.4,376.6l-1.2,4.5M517.8,364.4l-5.5,10.2M524.7,359.9l11.5,-2.7M518.0,348.6l4.2,-5.0M535.9,324.6l11.5,3.4M528.1,336.5l-1.3,-11.3M514.9,339.6l3.8,-5.2M504.9,356.9l1.6,2.6M512.2,362.4l-3.7,-1.7M525.6,341.0l7.3,-7.4M522.4,325.0l-7.1,-1.6M496.4,367.9l2.8,5.6M517.7,341.4l5.5,-8.7M515.4,338.9l-3.5,0.7M525.9,336.5l9.8,5.2M508.2,357.6l-5.8,-6.3M513.2,372.6l3.3,4.3M538.7,344.7l-1.0,8.6M517.8,342.7l1.1,-7.2M541.2,334.9l3.9,-3.5M498.4,353.8l-1.4,-4.4M522.6,316.4l9.9,0.5M503.8,332.8l-6.2,0.3M516.2,336.5l-8.3,-5.2M515.1,350.8l7.6,-2.4M502.3,374.7l-10.8,-5.1M514.4,351.9l7.5,0.4M510.7,323.1l-6.5,-1.7M498.9,325.1l1.9,-10.5M511.0,335.5l4.1,-3.8M500.9,336.1l-0.9,-4.7M515.2,359.1l10.8,1.8M502.4,335.6l-11.9,-0.9M503.4,343.3l-2.5,-8.5M522.1,343.5l10.2,-1.6M529.3,316.1l-5.4,-1.7M522.6,352.8l-7.2,4.0M529.0,335.8l3.7,6.0M513.5,374.0l-3.8,-1.1M497.7,329.1l-5.5,3.2M521.8,354.5l8.4,-0.8M508.8,333.0l-3.2,5.0M510.6,332.5l-4.5,-1.7M520.5,320.6l-3.9,-0.4M499.5,359.0l-3.8,0.4M526.6,368.1l4.4,3.4M505.4,375.8l3.1,7.5M504.7,360.2l-10.1,-6.4M508.1,354.0l-4.8,-0.3M541.3,345.2l10.0,-2.8M493.4,362.0l-3.3,3.0M534.5,346.3l8.9,6.8M532.9,358.0l7.5,0.3M523.0,357.0l6.1,9.5M529.2,358.4l-3.8,11.1M517.6,353.6l-11.7,1.5M510.2,344.7l0.2,-6.5M532.3,329.1l3.4,2.8M517.5,330.2l-1.7,-10.5M519.8,332.9l-3.9,-5.3M499.3,341.8l-0.9,5.1M510.9,311.6l-7.4,3.3M515.2,339.1l4.0,-0.7M499.1,329.7l-2.4,-5.2M497.3,356.2l-6.2,6.4M498.9,351.0l5.3,6.7M503.3,345.0l-5.5,-8.4M505.3,347.2l-3.7,1.4M526.7,359.2l4.7,-5.1M510.9,343.7l-3.1,-2.1M512.5,314.1l-0.2,-3.5M499.4,343.5l1.1,-4.1M532.4,316.7l10.3,0.3M524.6,376.5l4.4,10.8M523.2,338.0l9.2,6.7M528.7,351.5l0.6,4.4M525.3,334.2l3.5,2.5M488.4,343.5l-2.2,4.9M500.9,343.3l1.1,4.5M529.2,372.5l-1.8,10.9M526.8,370.4l6.9,-3.6M505.1,329.7l5.6,-5.7M492.2,328.3l-5.6,10.5M504.0,329.4l2.3,-4.9M535.1,342.5l8.1,-5.7M505.7,348.4l-2.8,-2.0M520.2,330.1l9.9,-6.4M496.2,329.9l-2.9,0.6M523.7,346.4l5.4,4.3M488.9,341.4l-0.9,5.0M513.4,341.1l-3.2,5.3M526.8,355.7l7.5,-3.5M505.9,336.8l-3.6,-6.3M532.8,369.2l4.3,-0.8M532.6,359.1l-5.0,8.7M504.7,353.1l7.4,4.8M501.2,336.9l-3.9,-5.8M536.5,332.8l1.9,-11.0M533.4,350.5l5.1,-0.5M537.5,354.8l-0.1,-8.0M523.1,340.1l-0.0,-8.5M493.6,342.8l-1.2,-4.4M510.0,359.8l10.9,1.5M519.7,316.0l-10.4,2.1M514.5,321.9l5.7,-4.2M516.1,353.0l3.1,1.1M502.9,369.3l-10.3,2.7M512.0,328.6l-0.2,-6.9M519.5,321.0l-5.6,-6.7M525.9,341.0l0.8,3.0M514.2,358.7l-9.9,5.8M514.7,326.1l5.9,-0.4M516.8,376.9l-4.1,8.3M501.0,314.2l-6.4,-8.4M506.7,313.8l-5.2,-8.0M502.5,336.6l-6.5,5.6M538.4,359.5l1.9,-2.6M536.0,364.8l4.3,0.2M519.1,344.9l5.1,7.1M507.4,316.5l-7.3,4.0M498.8,367.5l-10.1,-4.5M538.5,356.9l-5.5,10.1M523.5,352.4l2.1,-2.5M529.2,318.8l9.5,-4.3M506.0,331.8l-2.8,2.7M515.5,330.5l-4.3,-5.3M527.3,346.0l7.0,-6.4M505.4,357.0l-3.9,-6.4M527.5,322.9l-6.4,-2.2M492.9,355.7l-5.0,7.9M504.1,340.7l0.4,-3.8M519.1,333.0l-4.8,-0.1M517.1,309.6l-7.0,2.4M490.6,345.6l-1.9,7.2M500.6,369.7l3.9,10.8M512.7,357.6l-6.3,4.0M531.5,361.0l5.6,-8.4M507.1,315.3l1.1,-6.1M502.0,355.6l-2.2,-3.1M517.3,341.5l-1.6,-5.1M530.0,330.6l4.9,-9.8M516.8,365.9l-0.2,9.8M515.4,317.1l-3.3,-4.9M529.2,370.2l-0.5,9.7M523.3,362.7l-4.6,6.8M527.4,359.7l-3.5,3.7M519.9,359.9l-4.6,9.6M520.2,353.5l5.9,-0.2M505.7,342.4l-4.0,2.5M537.9,339.5l-2.1,-11.5M527.7,355.8l-8.6,5.5M513.2,322.9l-8.5,-2.2M523.5,352.4l3.2,0.7M495.4,362.0l-7.4,-1.0M503.1,327.7l-7.0,4.8M495.7,360.5l-3.5,-5.9M494.0,330.8l-5.0,-0.8M510.5,312.1l7.4,-5.6M528.3,321.8l6.6,-2.5M506.8,368.4l6.3,2.4M519.6,316.0l3.5,-3.9M499.5,354.1l-6.7,-0.0M502.9,314.1l-8.8,1.5M517.8,324.5l1.6,-11.7M533.9,349.8l4.4,-9.0M532.6,335.4l-3.2,-7.5M492.8,336.7l-8.3,-2.6M524.0,323.2l1.6,-11.4M520.5,371.0l6.2,7.7M534.9,368.1l3.4,0.7M512.5,364.0l6.6,-1.5M495.2,357.5l-2.5,4.8M518.7,372.9l-7.7,-0.2M519.8,374.1l2.9,4.0M531.5,365.8l-4.0,7.7M495.6,348.8l-3.2,11.2M502.1,365.3l-9.7,-3.6M501.8,347.3l-4.1,0.0M522.6,327.7l5.1,1.9M506.2,354.8l-2.2,4.1M538.0,344.5l3.4,-3.9M509.2,365.3l-0.3,8.7M506.8,328.0l9.7,-4.4M538.4,355.0l-4.0,9.2M530.9,368.2l0.5,3.1M542.1,346.4l4.0,3.4M522.0,350.5l9.1,-4.1M509.8,353.3l-8.1,-6.1M527.9,372.4l0.8,10.0M502.2,315.5l6.3,-8.5M522.3,370.6l2.0,9.5M490.9,356.2l-5.3,0.9M515.9,354.7l0.4,3.5M506.4,346.3l-7.3,1.8M490.2,336.1l1.6,10.4M495.6,349.0l-9.5,-4.7M503.3,358.7l-1.8,-3.2M501.1,323.8l-4.4,7.3M504.0,313.4l-10.6,-5.4M496.9,342.5l0.3,-3.3M510.8,318.1l-8.0,-7.1M503.1,360.7l-7.3,6.7M519.2,364.6l4.2,6.8M521.2,329.2l6.5,1.5M502.2,343.6l-11.8,-0.6M501.3,318.9l-5.6,-1.7M508.8,368.2l-7.5,6.6M537.3,351.2l-1.8,7.7M527.9,349.2l-0.4,-4.7M533.3,331.7l10.0,1.4M532.6,330.0l8.6,-0.9M508.2,319.8l1.9,-4.5M506.3,325.0l2.0,-3.4M516.6,348.4l-6.9,8.8M506.4,328.0l6.5,-7.7M503.5,338.1l-6.3,2.7M508.0,363.2l-9.6,6.2M533.8,352.4l0.3,-4.1M522.4,320.7l6.2,3.3M530.8,345.8l10.3,5.0M532.8,341.3l3.5,-1.8M508.2,333.1l-2.8,1.5M537.3,344.8l1.0,-11.7M536.9,360.9l1.9,-2.5M512.7,329.3l3.2,-3.5M537.8,353.3l4.2,9.8M514.2,336.1l3.5,-8.7M489.0,352.2l-3.9,11.0M514.6,341.7l-7.4,4.8M517.5,337.0l-3.1,-9.0M527.9,371.6l1.9,3.0M501.5,362.6l-4.3,8.0M530.0,368.1l8.2,3.1M503.6,328.9l-9.4,-3.5M537.8,333.7l5.6,-0.4M540.6,356.8l3.8,9.7M504.8,366.5l-6.9,-7.9M503.9,333.7l-10.3,-3.8M499.1,363.5l-10.3,4.0M519.6,328.6l-5.4,0.3M497.0,355.9l-7.8,-7.7M539.2,352.2l0.6,10.8M503.4,337.0l2.9,-9.8M504.4,313.6l-3.2,-2.0M491.9,333.9l-6.4,7.4M525.7,337.9l9.1,-0.0M504.4,346.9l-3.5,9.1M519.5,322.8l-10.1,-1.9M516.6,329.5l4.9,-9.9M529.2,328.3l5.7,-6.0M518.9,356.1l9.3,-0.8M502.1,362.9l-2.4,7.3M517.6,348.4l-6.2,1.4M531.7,360.4l-1.1,4.3M502.9,333.4l-2.5,-2.0M542.2,351.3l-0.8,7.3M503.6,337.6l-0.2,-6.8M537.5,334.2l6.9,9.4M514.9,348.9l4.3,1.8M519.1,346.9l7.9,7.4M488.8,352.8l-0.7,-3.5M501.9,332.4l-7.2,9.1M514.1,368.8l-6.6,9.5M507.3,326.5l-2.9,-3.4M542.2,336.6l0.8,-3.2M514.4,362.7l-11.1,-0.9M517.3,339.2l9.3,1.1M498.2,316.4l-2.8,3.2M515.8,310.3l3.8,-4.2M495.1,327.9l-3.2,5.0M514.6,354.0l0.1,4.5M515.6,354.9l-1.9,2.5M512.9,331.1l-10.0,5.4M519.9,377.0l-10.5,3.1M526.0,360.6l8.4,-7.6M526.6,321.8l2.3,-5.6M523.0,323.9l3.5,-2.4M515.9,350.2l-5.0,6.2M530.8,369.4l6.7,-0.2M522.1,357.3l-4.2,4.3M524.0,363.9l10.5,3.6M535.8,366.7l5.5,-9.6M509.6,332.0l-3.2,-4.6M514.5,357.4l5.7,10.5M541.7,343.6l-0.3,-5.6M519.0,340.2l5.5,1.4M517.3,343.6l2.8,5.4M515.4,344.6l-4.6,6.2M521.7,363.5l-4.7,1.6M507.3,339.4l-6.7,7.3M512.5,331.2l-3.6,1.3M500.7,329.5l-4.7,1.1M497.7,325.5l3.1,-7.7M516.6,350.5l-3.9,5.4M514.1,337.9l5.3,-2.9M529.0,317.1l1.6,-2.7M530.2,332.0l3.3,4.3M524.8,372.8l3.6,2.7M500.9,362.6l7.2,2.6M497.3,351.9l2.7,9.0M525.4,314.7l-2.8,-9.0M497.7,364.0l8.7,6.5M532.6,337.5l7.6,-1.8" stroke="#3a3a3a" stroke-width="0.25" stroke-opacity="0.7" fill="none"/><ellipse cx="516" cy="346" rx="20" ry="25" fill="#444" fill-opacity="0.3" filter="url(#fsoft)"/><ellipse cx="514" cy="350" rx="11" ry="14" fill="#333" fill-opacity="0.25" filter="url(#fsoft)"/><text x="595.0" y="301.2" font-size="3.40" font-weight="bold" fill="#111" text-anchor="middle" textLength="17.0" lengthAdjust="spacingAndGlyphs">Leiden Clusters</text><circle cx="593.1" cy="343.5" r="2.4" fill="#f9d8a8" fill-opacity="0.8"/><circle cx="588.7" cy="337.2" r="1.4" fill="#e6e6a0" fill-opacity="0.8"/><circle cx="596.1" cy="341.3" r="1.1" fill="#f9d8a8" fill-opacity="0.8"/><circle cx="593.1" cy="374.8" r="1.9" fill="#cfe8f8" fill-opacity="0.8"/><circle cx="571.8" cy="340.1" r="1.1" fill="#b6d7f4" fill-opacity="0.8"/><circle cx="594.3" cy="340.1" r="1.2" fill="#cfe8f8" fill-opacity="0.8"/><circle cx="573.7" cy="329.1" r="1.2" fill="#b6d7f4" fill-opacity="0.8"/><circle cx="588.8" cy="348.9" r="1.8" fill="#f9d8a8" fill-opacity="0.8"/><circle cx="607.2" cy="362.9" r="2.0" fill="#c5e6b5" fill-opacity="0.8"/><circle cx="596.7" cy="343.3" r="1.9" fill="#f0c8e8" fill-opacity="0.8"/><circle cx="577.7" cy="329.9" r="1.1" fill="#f4b6c2" fill-opacity="0.8"/><circle cx="597.4" cy="327.8" r="1.3" fill="#a8e0dc" fill-opacity="0.8"/><circle cx="589.3" cy="313.7" r="1.8" fill="#a8e0dc" fill-opacity="0.8"/><circle cx="605.6" cy="315.4" r="1.1" fill="#e6e6a0" fill-opacity="0.8"/><circle cx="608.9" cy="365.3" r="1.5" fill="#f0c8e8" fill-opacity="0.8"/><circle cx="594.3" cy="342.7" r="1.2" fill="#c5e6b5" fill-opacity="0.8"/><circle cx="610.1" cy="352.2" r="1.7" fill="#f4b6c2" fill-opacity="0.8"/><circle cx="597.5" cy="362.9" r="1.6" fill="#cfe8f8" fill-opacity="0.8"/><circle cx="577.7" cy="321.6" r="2.2" fill="#f4b6c2" fill-opacity="0.8"/><circle cx="616.5" cy="349.5" r="1.4" fill="#d7c4ec" fill-opacity="0.8"/><circle cx="577.1" cy="322.3" r="1.1" fill="#b6d7f4" fill-opacity="0.8"/><circle cx="594.9" cy="366.2" r="1.6" fill="#f4b6c2" fill-opacity="0.8"/><circle cx="591.9" cy="358.8" r="1.9" fill="#b6d7f4" fill-opacity="0.8"/><circle cx="622.1" cy="356.6" r="2.3" fill="#d7c4ec" fill-opacity="0.8"/><circle cx="612.9" cy="356.2" r="2.3" fill="#cfe8f8" fill-opacity="0.8"/><circle cx="600.2" cy="349.9" r="1.4" fill="#f0c8e8" fill-opacity="0.8"/><circle cx="584.3" cy="337.4" r="2.0" fill="#e6e6a0" fill-opacity="0.8"/><circle cx="591.0" cy="363.6" r="2.0" fill="#f9d8a8" fill-opacity="0.8"/><circle cx="589.3" cy="334.8" r="2.0" fill="#cfe8f8" fill-opacity="0.8"/><circle cx="605.1" cy="334.4" r="1.7" fill="#d7c4ec" fill-opacity="0.8"/><circle cx="608.7" cy="347.1" r="1.3" fill="#e6e6a0" fill-opacity="0.8"/><circle cx="579.7" cy="360.1" r="1.0" fill="#a8e0dc" fill-opacity="0.8"/><circle cx="610.2" cy="372.8" r="1.5" fill="#a8e0dc" fill-opacity="0.8"/><circle cx="582.6" cy="344.8" r="2.4" fill="#d7c4ec" fill-opacity="0.8"/><circle cx="596.9" cy="344.8" r="1.8" fill="#a8e0dc" fill-opacity="0.8"/><circle cx="591.0" cy="345.8" r="1.5" fill="#cfe8f8" fill-opacity="0.8"/><circle cx="579.9" cy="367.0" r="1.7" fill="#c5e6b5" fill-opacity="0.8"/><circle cx="575.4" cy="357.2" r="1.2" fill="#f9d8a8" fill-opacity="0.8"/><circle cx="575.1" cy="323.2" r="2.1" fill="#e6e6a0" fill-opacity="0.8"/><circle cx="617.3" cy="361.7" r="2.3" fill="#cfe8f8" fill-opacity="0.8"/><circle cx="592.5" cy="369.2" r="1.9" fill="#c5e6b5" fill-opacity="0.8"/><circle cx="589.8" cy="347.7" r="1.6" fill="#e6e6a0" fill-opacity="0.8"/><circle cx="579.2" cy="333.0" r="2.3" fill="#c5e6b5" fill-opacity="0.8"/><circle cx="573.0" cy="358.6" r="2.2" fill="#b6d7f4" fill-opacity="0.8"/><circle cx="582.5" cy="357.8" r="1.6" fill="#a8e0dc" fill-opacity="0.8"/><circle cx="590.9" cy="361.5" r="1.8" fill="#f0c8e8" fill-opacity="0.8"/><circle cx="594.5" cy="343.1" r="2.0" fill="#cfe8f8" fill-opacity="0.8"/><circle cx="585.5" cy="354.3" r="1.8" fill="#c5e6b5" fill-opacity="0.8"/><circle cx="581.1" cy="351.0" r="1.3" fill="#a8e0dc" fill-opacity="0.8"/><circle cx="583.1" cy="371.8" r="2.2" fill="#a8e0dc" fill-opacity="0.8"/><circle cx="599.7" cy="362.5" r="2.3" fill="#f4b6c2" fill-opacity="0.8"/><circle cx="606.4" cy="346.2" r="2.3" fill="#d7c4ec" fill-opacity="0.8"/><circle cx="617.0" cy="330.0" r="1.8" fill="#f0c8e8" fill-opacity="0.8"/><circle cx="576.2" cy="341.6" r="2.0" fill="#f0c8e8" fill-opacity="0.8"/><circle cx="591.9" cy="344.8" r="1.9" fill="#cfe8f8" fill-opacity="0.8"/><circle cx="616.6" cy="335.4" r="1.7" fill="#b6d7f4" fill-opacity="0.8"/><circle cx="579.4" cy="355.6" r="1.9" fill="#c5e6b5" fill-opacity="0.8"/><circle cx="616.3" cy="320.6" r="1.7" fill="#cfe8f8" fill-opacity="0.8"/><circle cx="598.0" cy="311.7" r="1.8" fill="#e6e6a0" fill-opacity="0.8"/><circle cx="594.9" cy="337.4" r="1.5" fill="#a8e0dc" fill-opacity="0.8"/><circle cx="621.0" cy="339.9" r="1.7" fill="#b6d7f4" fill-opacity="0.8"/><circle cx="587.9" cy="331.6" r="1.5" fill="#e6e6a0" fill-opacity="0.8"/><circle cx="607.5" cy="331.7" r="1.2" fill="#d7c4ec" fill-opacity="0.8"/><circle cx="599.0" cy="333.3" r="2.3" fill="#f0c8e8" fill-opacity="0.8"/><circle cx="603.9" cy="367.1" r="1.8" fill="#a8e0dc" fill-opacity="0.8"/><circle cx="575.3" cy="333.2" r="2.0" fill="#f0c8e8" fill-opacity="0.8"/><circle cx="595.5" cy="344.0" r="2.0" fill="#e6e6a0" fill-opacity="0.8"/><circle cx="608.0" cy="344.4" r="2.2" fill="#f4b6c2" fill-opacity="0.8"/><circle cx="590.3" cy="334.2" r="1.7" fill="#e6e6a0" fill-opacity="0.8"/><circle cx="570.1" cy="331.0" r="2.3" fill="#e6e6a0" fill-opacity="0.8"/><circle cx="615.3" cy="343.6" r="1.6" fill="#b6d7f4" fill-opacity="0.8"/><circle cx="606.6" cy="361.5" r="1.7" fill="#f4b6c2" fill-opacity="0.8"/><circle cx="602.0" cy="350.0" r="1.7" fill="#cfe8f8" fill-opacity="0.8"/><circle cx="575.4" cy="324.4" r="1.1" fill="#f4b6c2" fill-opacity="0.8"/><circle cx="586.8" cy="322.1" r="1.2" fill="#f9d8a8" fill-opacity="0.8"/><circle cx="589.7" cy="352.0" r="1.4" fill="#b6d7f4" fill-opacity="0.8"/><circle cx="613.3" cy="317.9" r="1.1" fill="#f9d8a8" fill-opacity="0.8"/><circle cx="580.4" cy="349.6" r="1.1" fill="#f0c8e8" fill-opacity="0.8"/><circle cx="569.7" cy="327.1" r="1.6" fill="#f9d8a8" fill-opacity="0.8"/><circle cx="595.0" cy="347.9" r="2.3" fill="#c5e6b5" fill-opacity="0.8"/><circle cx="584.0" cy="373.8" r="2.1" fill="#d7c4ec" fill-opacity="0.8"/><circle cx="585.0" cy="350.5" r="2.2" fill="#b6d7f4" fill-opacity="0.8"/><circle cx="595.7" cy="362.1" r="2.0" fill="#f9d8a8" fill-opacity="0.8"/><circle cx="581.5" cy="353.5" r="2.0" fill="#f4b6c2" fill-opacity="0.8"/><circle cx="598.0" cy="331.5" r="1.2" fill="#a8e0dc" fill-opacity="0.8"/><circle cx="594.3" cy="344.8" r="2.2" fill="#f0c8e8" fill-opacity="0.8"/><circle cx="588.9" cy="341.1" r="1.7" fill="#f0c8e8" fill-opacity="0.8"/><circle cx="583.6" cy="366.2" r="2.3" fill="#f0c8e8" fill-opacity="0.8"/><circle cx="601.6" cy="329.0" r="1.3" fill="#f9d8a8" fill-opacity="0.8"/><circle cx="581.1" cy="347.4" r="1.6" fill="#d7c4ec" fill-opacity="0.8"/><circle cx="587.7" cy="329.8" r="1.2" fill="#c5e6b5" fill-opacity="0.8"/><circle cx="605.0" cy="351.7" r="2.2" fill="#c5e6b5" fill-opacity="0.8"/><circle cx="578.4" cy="337.0" r="2.1" fill="#f9d8a8" fill-opacity="0.8"/><circle cx="602.8" cy="358.2" r="2.0" fill="#f0c8e8" fill-opacity="0.8"/><circle cx="580.9" cy="326.6" r="1.4" fill="#cfe8f8" fill-opacity="0.8"/><circle cx="584.4" cy="343.6" r="1.6" fill="#c5e6b5" fill-opacity="0.8"/><circle cx="623.0" cy="331.6" r="1.8" fill="#cfe8f8" fill-opacity="0.8"/><circle cx="582.3" cy="334.9" r="1.3" fill="#e6e6a0" fill-opacity="0.8"/><circle cx="601.4" cy="374.9" r="1.2" fill="#e6e6a0" fill-opacity="0.8"/><circle cx="617.5" cy="361.0" r="2.0" fill="#f0c8e8" fill-opacity="0.8"/><circle cx="618.4" cy="349.0" r="1.2" fill="#f4b6c2" fill-opacity="0.8"/><circle cx="590.9" cy="348.0" r="1.2" fill="#f9d8a8" fill-opacity="0.8"/><circle cx="585.3" cy="367.7" r="1.2" fill="#e6e6a0" fill-opacity="0.8"/><circle cx="617.1" cy="328.5" r="2.1" fill="#f9d8a8" fill-opacity="0.8"/><circle cx="607.1" cy="350.2" r="1.3" fill="#c5e6b5" fill-opacity="0.8"/><circle cx="601.4" cy="327.2" r="1.5" fill="#cfe8f8" fill-opacity="0.8"/><circle cx="599.3" cy="312.3" r="2.2" fill="#c5e6b5" fill-opacity="0.8"/><circle cx="603.2" cy="340.0" r="1.5" fill="#a8e0dc" fill-opacity="0.8"/><circle cx="596.8" cy="342.4" r="2.0" fill="#cfe8f8" fill-opacity="0.8"/><circle cx="595.3" cy="375.2" r="1.5" fill="#b6d7f4" fill-opacity="0.8"/><circle cx="597.8" cy="351.0" r="2.3" fill="#f9d8a8" fill-opacity="0.8"/><circle cx="594.3" cy="340.4" r="1.1" fill="#c5e6b5" fill-opacity="0.8"/><circle cx="572.6" cy="356.1" r="1.2" fill="#f4b6c2" fill-opacity="0.8"/><circle cx="574.5" cy="335.8" r="2.3" fill="#f9d8a8" fill-opacity="0.8"/><circle cx="573.5" cy="332.2" r="1.4" fill="#f0c8e8" fill-opacity="0.8"/><circle cx="585.2" cy="323.2" r="2.3" fill="#b6d7f4" fill-opacity="0.8"/><circle cx="607.7" cy="318.7" r="1.4" fill="#f4b6c2" fill-opacity="0.8"/><circle cx="609.6" cy="327.0" r="2.0" fill="#f9d8a8" fill-opacity="0.8"/><circle cx="593.7" cy="340.8" r="1.4" fill="#a8e0dc" fill-opacity="0.8"/><circle cx="595.0" cy="337.7" r="2.0" fill="#f0c8e8" fill-opacity="0.8"/><circle cx="616.4" cy="343.7" r="1.3" fill="#e6e6a0" fill-opacity="0.8"/><circle cx="619.4" cy="362.0" r="1.6" fill="#a8e0dc" fill-opacity="0.8"/><circle cx="586.3" cy="317.6" r="2.2" fill="#cfe8f8" fill-opacity="0.8"/><circle cx="572.2" cy="342.6" r="1.3" fill="#e6e6a0" fill-opacity="0.8"/><circle cx="609.4" cy="319.9" r="1.7" fill="#f9d8a8" fill-opacity="0.8"/><circle cx="617.6" cy="351.4" r="2.1" fill="#d7c4ec" fill-opacity="0.8"/><circle cx="598.9" cy="352.8" r="2.1" fill="#f9d8a8" fill-opacity="0.8"/><circle cx="584.1" cy="340.4" r="1.1" fill="#a8e0dc" fill-opacity="0.8"/><circle cx="591.7" cy="349.4" r="1.9" fill="#c5e6b5" fill-opacity="0.8"/><circle cx="610.4" cy="364.8" r="1.9" fill="#f9d8a8" fill-opacity="0.8"/><circle cx="594.8" cy="343.1" r="2.0" fill="#c5e6b5" fill-opacity="0.8"/><circle cx="608.3" cy="337.4" r="1.4" fill="#c5e6b5" fill-opacity="0.8"/><circle cx="585.6" cy="337.2" r="1.9" fill="#b6d7f4" fill-opacity="0.8"/><circle cx="571.4" cy="335.4" r="1.2" fill="#c5e6b5" fill-opacity="0.8"/><circle cx="580.8" cy="332.2" r="2.1" fill="#f9d8a8" fill-opacity="0.8"/><circle cx="604.5" cy="353.7" r="1.5" fill="#f9d8a8" fill-opacity="0.8"/><circle cx="621.8" cy="352.7" r="1.4" fill="#b6d7f4" fill-opacity="0.8"/><circle cx="589.9" cy="325.0" r="1.2" fill="#a8e0dc" fill-opacity="0.8"/><circle cx="576.0" cy="352.0" r="1.4" fill="#e6e6a0" fill-opacity="0.8"/><circle cx="596.1" cy="344.6" r="2.4" fill="#cfe8f8" fill-opacity="0.8"/><circle cx="615.5" cy="358.0" r="2.4" fill="#d7c4ec" fill-opacity="0.8"/><circle cx="609.1" cy="357.4" r="1.6" fill="#f9d8a8" fill-opacity="0.8"/><circle cx="597.9" cy="328.5" r="1.5" fill="#b6d7f4" fill-opacity="0.8"/><circle cx="581.7" cy="324.1" r="2.3" fill="#d7c4ec" fill-opacity="0.8"/><circle cx="592.1" cy="339.2" r="2.0" fill="#f4b6c2" fill-opacity="0.8"/><circle cx="599.1" cy="313.4" r="1.4" fill="#c5e6b5" fill-opacity="0.8"/><circle cx="613.6" cy="338.7" r="2.3" fill="#c5e6b5" fill-opacity="0.8"/><circle cx="614.1" cy="360.6" r="1.4" fill="#a8e0dc" fill-opacity="0.8"/><circle cx="578.9" cy="361.7" r="1.5" fill="#f9d8a8" fill-opacity="0.8"/><circle cx="581.6" cy="361.0" r="1.5" fill="#d7c4ec" fill-opacity="0.8"/><circle cx="595.2" cy="347.7" r="1.8" fill="#f0c8e8" fill-opacity="0.8"/><circle cx="618.9" cy="325.1" r="1.7" fill="#cfe8f8" fill-opacity="0.8"/><circle cx="591.4" cy="309.4" r="1.8" fill="#b6d7f4" fill-opacity="0.8"/><circle cx="601.7" cy="353.7" r="1.2" fill="#f0c8e8" fill-opacity="0.8"/><circle cx="597.7" cy="346.0" r="1.6" fill="#f9d8a8" fill-opacity="0.8"/><circle cx="598.0" cy="361.2" r="1.0" fill="#e6e6a0" fill-opacity="0.8"/><circle cx="583.9" cy="350.5" r="1.9" fill="#e6e6a0" fill-opacity="0.8"/><circle cx="588.3" cy="312.7" r="1.1" fill="#f4b6c2" fill-opacity="0.8"/><circle cx="581.8" cy="317.5" r="2.3" fill="#c5e6b5" fill-opacity="0.8"/><circle cx="594.5" cy="344.5" r="2.1" fill="#a8e0dc" fill-opacity="0.8"/><circle cx="578.9" cy="335.5" r="1.8" fill="#e6e6a0" fill-opacity="0.8"/><circle cx="566.5" cy="352.4" r="2.3" fill="#c5e6b5" fill-opacity="0.8"/><circle cx="623.8" cy="338.5" r="1.9" fill="#f4b6c2" fill-opacity="0.8"/><circle cx="592.6" cy="328.1" r="1.9" fill="#f0c8e8" fill-opacity="0.8"/><circle cx="612.2" cy="337.9" r="1.9" fill="#d7c4ec" fill-opacity="0.8"/><circle cx="607.8" cy="327.2" r="1.9" fill="#f9d8a8" fill-opacity="0.8"/><circle cx="599.2" cy="371.9" r="2.0" fill="#c5e6b5" fill-opacity="0.8"/><circle cx="587.0" cy="329.2" r="1.8" fill="#f0c8e8" fill-opacity="0.8"/><circle cx="588.0" cy="353.9" r="1.6" fill="#d7c4ec" fill-opacity="0.8"/><circle cx="601.8" cy="350.9" r="2.2" fill="#e6e6a0" fill-opacity="0.8"/><circle cx="595.0" cy="331.8" r="2.2" fill="#b6d7f4" fill-opacity="0.8"/><circle cx="603.7" cy="368.4" r="2.0" fill="#f9d8a8" fill-opacity="0.8"/><circle cx="585.0" cy="339.9" r="1.8" fill="#b6d7f4" fill-opacity="0.8"/><circle cx="592.5" cy="311.4" r="1.8" fill="#f0c8e8" fill-opacity="0.8"/><circle cx="584.0" cy="316.9" r="1.2" fill="#e6e6a0" fill-opacity="0.8"/><circle cx="572.5" cy="335.4" r="2.1" fill="#b6d7f4" fill-opacity="0.8"/><circle cx="574.6" cy="319.7" r="1.7" fill="#cfe8f8" fill-opacity="0.8"/><circle cx="602.5" cy="328.1" r="1.2" fill="#f9d8a8" fill-opacity="0.8"/><circle cx="571.8" cy="332.7" r="1.2" fill="#f4b6c2" fill-opacity="0.8"/><circle cx="592.1" cy="346.3" r="1.1" fill="#f9d8a8" fill-opacity="0.8"/><circle cx="588.4" cy="346.0" r="1.2" fill="#b6d7f4" fill-opacity="0.8"/><circle cx="575.3" cy="322.1" r="1.8" fill="#a8e0dc" fill-opacity="0.8"/><circle cx="607.0" cy="368.8" r="1.5" fill="#f4b6c2" fill-opacity="0.8"/><circle cx="598.2" cy="336.8" r="1.5" fill="#e6e6a0" fill-opacity="0.8"/><circle cx="617.6" cy="335.1" r="1.1" fill="#a8e0dc" fill-opacity="0.8"/><circle cx="611.0" cy="357.5" r="2.1" fill="#b6d7f4" fill-opacity="0.8"/><circle cx="622.4" cy="351.0" r="1.3" fill="#a8e0dc" fill-opacity="0.8"/><circle cx="601.0" cy="362.7" r="2.2" fill="#cfe8f8" fill-opacity="0.8"/><circle cx="596.5" cy="345.5" r="1.2" fill="#d7c4ec" fill-opacity="0.8"/><circle cx="602.9" cy="365.3" r="1.4" fill="#f0c8e8" fill-opacity="0.8"/><circle cx="605.7" cy="323.3" r="1.4" fill="#d7c4ec" fill-opacity="0.8"/><circle cx="596.4" cy="343.4" r="1.5" fill="#c5e6b5" fill-opacity="0.8"/><circle cx="577.0" cy="345.7" r="1.0" fill="#f4b6c2" fill-opacity="0.8"/><circle cx="614.2" cy="355.3" r="1.9" fill="#f0c8e8" fill-opacity="0.8"/><circle cx="611.2" cy="315.5" r="2.0" fill="#cfe8f8" fill-opacity="0.8"/><circle cx="573.6" cy="363.8" r="1.9" fill="#b6d7f4" fill-opacity="0.8"/><circle cx="582.7" cy="361.2" r="1.4" fill="#c5e6b5" fill-opacity="0.8"/><circle cx="592.2" cy="341.9" r="1.2" fill="#a8e0dc" fill-opacity="0.8"/><circle cx="593.0" cy="328.0" r="1.7" fill="#a8e0dc" fill-opacity="0.8"/><circle cx="589.5" cy="359.0" r="1.7" fill="#f9d8a8" fill-opacity="0.8"/><circle cx="612.3" cy="346.6" r="2.4" fill="#f4b6c2" fill-opacity="0.8"/><circle cx="578.7" cy="323.5" r="1.2" fill="#f0c8e8" fill-opacity="0.8"/><circle cx="592.3" cy="365.3" r="1.4" fill="#e6e6a0" fill-opacity="0.8"/><circle cx="588.5" cy="339.5" r="2.0" fill="#e6e6a0" fill-opacity="0.8"/><circle cx="599.7" cy="340.1" r="1.3" fill="#f0c8e8" fill-opacity="0.8"/><circle cx="580.4" cy="325.1" r="1.5" fill="#d7c4ec" fill-opacity="0.8"/><circle cx="597.9" cy="331.7" r="2.1" fill="#c5e6b5" fill-opacity="0.8"/><circle cx="589.5" cy="330.2" r="2.1" fill="#a8e0dc" fill-opacity="0.8"/><circle cx="573.2" cy="342.6" r="1.5" fill="#e6e6a0" fill-opacity="0.8"/><circle cx="592.0" cy="328.1" r="2.0" fill="#a8e0dc" fill-opacity="0.8"/><circle cx="613.8" cy="324.3" r="1.7" fill="#f9d8a8" fill-opacity="0.8"/><circle cx="605.9" cy="311.5" r="1.2" fill="#f9d8a8" fill-opacity="0.8"/><circle cx="622.2" cy="345.4" r="1.6" fill="#cfe8f8" fill-opacity="0.8"/><circle cx="575.1" cy="361.7" r="2.3" fill="#b6d7f4" fill-opacity="0.8"/><circle cx="609.7" cy="365.8" r="1.4" fill="#e6e6a0" fill-opacity="0.8"/><circle cx="579.1" cy="315.3" r="1.1" fill="#f9d8a8" fill-opacity="0.8"/><circle cx="590.6" cy="341.0" r="1.3" fill="#a8e0dc" fill-opacity="0.8"/><circle cx="609.5" cy="342.7" r="2.1" fill="#f0c8e8" fill-opacity="0.8"/><circle cx="589.9" cy="311.5" r="2.2" fill="#a8e0dc" fill-opacity="0.8"/><circle cx="604.8" cy="335.6" r="1.4" fill="#f4b6c2" fill-opacity="0.8"/><path d="M564,330 l8,2 M612,305 l-3,8" stroke="#e88" stroke-width="0.8"/><text x="672.0" y="301.2" font-size="3.40" font-weight="bold" fill="#111" text-anchor="middle" textLength="26.0" lengthAdjust="spacingAndGlyphs">Leiden Cluster Network</text><path d="M667.2,361.0L689.2,375.6M650.9,372.6L697.9,318.7M694.3,343.3L640.8,344.0M666.3,381.4L667.2,361.0M640.3,323.0L705.7,350.7M640.8,344.0L640.8,331.1M655.1,308.5L647.8,310.7M647.3,348.3L698.2,372.0M690.6,354.6L673.1,314.6M702.7,354.5L675.0,370.9M652.9,366.1L667.2,361.0M699.7,328.5L680.5,367.8M657.6,326.2L640.3,323.0M663.3,334.5L640.3,323.0M647.3,348.3L666.3,381.4M680.5,367.8L655.1,308.5M693.1,313.6L655.1,308.5M693.1,313.6L689.2,375.6M662.4,358.7L650.9,372.6M680.5,367.8L667.2,361.0M640.8,344.0L640.8,331.1M662.4,358.7L702.7,354.5M680.7,366.0L702.9,373.4M694.3,343.3L640.8,344.0M657.6,326.2L682.7,308.1M654.6,354.0L680.7,366.0M678.1,361.6L702.9,373.4M706.2,337.4L655.4,311.3M683.5,330.8L690.6,354.6M694.3,343.3L650.9,372.6M682.7,308.1L640.8,331.1M652.9,366.1L649.2,354.8M694.0,381.2L697.9,318.7M640.8,344.0L677.0,314.6M699.7,328.5L640.8,344.0M692.0,347.2L695.8,318.9M642.2,341.0L697.9,318.7M661.0,309.1L662.4,358.7M678.1,361.6L702.9,373.4M652.9,366.1L655.1,308.5M644.0,369.0L639.3,327.6M690.6,354.6L678.1,361.6M702.9,373.4L639.3,327.6M641.2,356.2L692.0,347.2M667.2,361.0L647.8,310.7M682.7,308.1L705.7,350.7M652.9,366.1L675.0,370.9M655.4,311.3L663.3,334.5M683.5,330.8L702.7,354.5M647.3,348.3L689.2,375.6M675.0,370.9L683.5,330.8M642.2,341.0L677.0,314.6M650.9,372.6L660.9,372.9M666.3,381.4L656.6,353.1M690.6,354.6L642.2,341.0M678.1,361.6L641.2,356.2M694.0,381.2L680.5,367.8M657.6,326.2L662.4,358.7M656.6,353.1L647.8,310.7M698.2,372.0L655.1,308.5" stroke="#bbb" stroke-width="0.2" fill="none"/><circle cx="690.6" cy="354.6" r="1.4" fill="#8c564b" stroke="#fff" stroke-width="0.4"/><circle cx="690.6" cy="354.6" r="0.6" fill="#f4f0f0" fill-opacity="0.85"/><circle cx="655.1" cy="308.5" r="1.4" fill="#2ca02c" stroke="#fff" stroke-width="0.4"/><circle cx="655.1" cy="308.5" r="0.6" fill="#f4f0f0" fill-opacity="0.85"/><circle cx="642.2" cy="341.0" r="1.4" fill="#bcbd22" stroke="#fff" stroke-width="0.4"/><circle cx="642.2" cy="341.0" r="0.6" fill="#f4f0f0" fill-opacity="0.85"/><circle cx="699.7" cy="328.5" r="2.4" fill="#17becf" stroke="#fff" stroke-width="0.4"/><circle cx="699.7" cy="328.5" r="1.1" fill="#f4f0f0" fill-opacity="0.85"/><circle cx="673.1" cy="314.6" r="1.8" fill="#d62728" stroke="#fff" stroke-width="0.4"/><circle cx="673.1" cy="314.6" r="0.8" fill="#f4f0f0" fill-opacity="0.85"/><circle cx="655.4" cy="311.3" r="1.5" fill="#17becf" stroke="#fff" stroke-width="0.4"/><circle cx="655.4" cy="311.3" r="0.7" fill="#f4f0f0" fill-opacity="0.85"/><circle cx="647.8" cy="310.7" r="1.5" fill="#98df8a" stroke="#fff" stroke-width="0.4"/><circle cx="647.8" cy="310.7" r="0.7" fill="#f4f0f0" fill-opacity="0.85"/><circle cx="644.0" cy="369.0" r="1.9" fill="#2ca02c" stroke="#fff" stroke-width="0.4"/><circle cx="644.0" cy="369.0" r="0.9" fill="#f4f0f0" fill-opacity="0.85"/><circle cx="678.1" cy="361.6" r="1.9" fill="#bcbd22" stroke="#fff" stroke-width="0.4"/><circle cx="678.1" cy="361.6" r="0.8" fill="#f4f0f0" fill-opacity="0.85"/><circle cx="639.3" cy="327.6" r="2.4" fill="#2ca02c" stroke="#fff" stroke-width="0.4"/><circle cx="639.3" cy="327.6" r="1.1" fill="#f4f0f0" fill-opacity="0.85"/><circle cx="682.7" cy="308.1" r="1.7" fill="#1f77b4" stroke="#fff" stroke-width="0.4"/><circle cx="682.7" cy="308.1" r="0.8" fill="#f4f0f0" fill-opacity="0.85"/><circle cx="661.0" cy="309.1" r="2.2" fill="#1f77b4" stroke="#fff" stroke-width="0.4"/><circle cx="661.0" cy="309.1" r="1.0" fill="#f4f0f0" fill-opacity="0.85"/><circle cx="660.9" cy="372.9" r="2.1" fill="#ff7f0e" stroke="#fff" stroke-width="0.4"/><circle cx="660.9" cy="372.9" r="0.9" fill="#f4f0f0" fill-opacity="0.85"/><circle cx="640.8" cy="344.0" r="2.1" fill="#9467bd" stroke="#fff" stroke-width="0.4"/><circle cx="640.8" cy="344.0" r="0.9" fill="#f4f0f0" fill-opacity="0.85"/><circle cx="680.5" cy="367.8" r="1.6" fill="#2ca02c" stroke="#fff" stroke-width="0.4"/><circle cx="680.5" cy="367.8" r="0.7" fill="#f4f0f0" fill-opacity="0.85"/><circle cx="650.9" cy="372.6" r="2.4" fill="#1f77b4" stroke="#fff" stroke-width="0.4"/><circle cx="650.9" cy="372.6" r="1.1" fill="#f4f0f0" fill-opacity="0.85"/><circle cx="693.1" cy="313.6" r="1.9" fill="#e377c2" stroke="#fff" stroke-width="0.4"/><circle cx="693.1" cy="313.6" r="0.8" fill="#f4f0f0" fill-opacity="0.85"/><circle cx="680.7" cy="366.0" r="2.2" fill="#8c564b" stroke="#fff" stroke-width="0.4"/><circle cx="680.7" cy="366.0" r="1.0" fill="#f4f0f0" fill-opacity="0.85"/><circle cx="706.2" cy="337.4" r="1.6" fill="#8c564b" stroke="#fff" stroke-width="0.4"/><circle cx="706.2" cy="337.4" r="0.7" fill="#f4f0f0" fill-opacity="0.85"/><circle cx="702.9" cy="373.4" r="2.1" fill="#aec7e8" stroke="#fff" stroke-width="0.4"/><circle cx="702.9" cy="373.4" r="0.9" fill="#f4f0f0" fill-opacity="0.85"/><circle cx="640.8" cy="331.1" r="1.8" fill="#ff7f0e" stroke="#fff" stroke-width="0.4"/><circle cx="640.8" cy="331.1" r="0.8" fill="#f4f0f0" fill-opacity="0.85"/><circle cx="683.5" cy="330.8" r="1.9" fill="#98df8a" stroke="#fff" stroke-width="0.4"/><circle cx="683.5" cy="330.8" r="0.9" fill="#f4f0f0" fill-opacity="0.85"/><circle cx="667.2" cy="361.0" r="1.8" fill="#98df8a" stroke="#fff" stroke-width="0.4"/><circle cx="667.2" cy="361.0" r="0.8" fill="#f4f0f0" fill-opacity="0.85"/><circle cx="695.8" cy="318.9" r="2.1" fill="#e377c2" stroke="#fff" stroke-width="0.4"/><circle cx="695.8" cy="318.9" r="0.9" fill="#f4f0f0" fill-opacity="0.85"/><circle cx="640.3" cy="323.0" r="1.8" fill="#17becf" stroke="#fff" stroke-width="0.4"/><circle cx="640.3" cy="323.0" r="0.8" fill="#f4f0f0" fill-opacity="0.85"/><circle cx="675.0" cy="370.9" r="1.8" fill="#d62728" stroke="#fff" stroke-width="0.4"/><circle cx="675.0" cy="370.9" r="0.8" fill="#f4f0f0" fill-opacity="0.85"/><circle cx="663.3" cy="334.5" r="1.7" fill="#e377c2" stroke="#fff" stroke-width="0.4"/><circle cx="663.3" cy="334.5" r="0.8" fill="#f4f0f0" fill-opacity="0.85"/><circle cx="662.4" cy="358.7" r="2.3" fill="#d62728" stroke="#fff" stroke-width="0.4"/><circle cx="662.4" cy="358.7" r="1.0" fill="#f4f0f0" fill-opacity="0.85"/><circle cx="697.9" cy="318.7" r="2.3" fill="#aec7e8" stroke="#fff" stroke-width="0.4"/><circle cx="697.9" cy="318.7" r="1.0" fill="#f4f0f0" fill-opacity="0.85"/><circle cx="705.7" cy="350.7" r="1.3" fill="#c49c94" stroke="#fff" stroke-width="0.4"/><circle cx="705.7" cy="350.7" r="0.6" fill="#f4f0f0" fill-opacity="0.85"/><circle cx="654.6" cy="354.0" r="1.9" fill="#ff7f0e" stroke="#fff" stroke-width="0.4"/><circle cx="654.6" cy="354.0" r="0.8" fill="#f4f0f0" fill-opacity="0.85"/><circle cx="694.3" cy="343.3" r="2.1" fill="#98df8a" stroke="#fff" stroke-width="0.4"/><circle cx="694.3" cy="343.3" r="0.9" fill="#f4f0f0" fill-opacity="0.85"/><circle cx="641.2" cy="356.2" r="1.7" fill="#1f77b4" stroke="#fff" stroke-width="0.4"/><circle cx="641.2" cy="356.2" r="0.8" fill="#f4f0f0" fill-opacity="0.85"/><circle cx="683.3" cy="348.8" r="2.2" fill="#aec7e8" stroke="#fff" stroke-width="0.4"/><circle cx="683.3" cy="348.8" r="1.0" fill="#f4f0f0" fill-opacity="0.85"/><circle cx="687.0" cy="349.5" r="1.4" fill="#c49c94" stroke="#fff" stroke-width="0.4"/><circle cx="687.0" cy="349.5" r="0.6" fill="#f4f0f0" fill-opacity="0.85"/><circle cx="663.6" cy="347.3" r="2.2" fill="#98df8a" stroke="#fff" stroke-width="0.4"/><circle cx="663.6" cy="347.3" r="1.0" fill="#f4f0f0" fill-opacity="0.85"/><circle cx="657.6" cy="326.2" r="1.4" fill="#98df8a" stroke="#fff" stroke-width="0.4"/><circle cx="657.6" cy="326.2" r="0.6" fill="#f4f0f0" fill-opacity="0.85"/><circle cx="677.0" cy="314.6" r="1.9" fill="#aec7e8" stroke="#fff" stroke-width="0.4"/><circle cx="677.0" cy="314.6" r="0.9" fill="#f4f0f0" fill-opacity="0.85"/><circle cx="694.0" cy="381.2" r="2.0" fill="#17becf" stroke="#fff" stroke-width="0.4"/><circle cx="694.0" cy="381.2" r="0.9" fill="#f4f0f0" fill-opacity="0.85"/><circle cx="649.2" cy="354.8" r="2.0" fill="#bcbd22" stroke="#fff" stroke-width="0.4"/><circle cx="649.2" cy="354.8" r="0.9" fill="#f4f0f0" fill-opacity="0.85"/><circle cx="666.3" cy="381.4" r="2.4" fill="#9467bd" stroke="#fff" stroke-width="0.4"/><circle cx="666.3" cy="381.4" r="1.1" fill="#f4f0f0" fill-opacity="0.85"/><circle cx="702.7" cy="354.5" r="1.8" fill="#aec7e8" stroke="#fff" stroke-width="0.4"/><circle cx="702.7" cy="354.5" r="0.8" fill="#f4f0f0" fill-opacity="0.85"/><circle cx="647.3" cy="348.3" r="2.2" fill="#17becf" stroke="#fff" stroke-width="0.4"/><circle cx="647.3" cy="348.3" r="1.0" fill="#f4f0f0" fill-opacity="0.85"/><circle cx="652.9" cy="366.1" r="1.7" fill="#17becf" stroke="#fff" stroke-width="0.4"/><circle cx="652.9" cy="366.1" r="0.8" fill="#f4f0f0" fill-opacity="0.85"/><circle cx="656.6" cy="353.1" r="2.4" fill="#1f77b4" stroke="#fff" stroke-width="0.4"/><circle cx="656.6" cy="353.1" r="1.1" fill="#f4f0f0" fill-opacity="0.85"/><circle cx="689.2" cy="375.6" r="2.2" fill="#98df8a" stroke="#fff" stroke-width="0.4"/><circle cx="689.2" cy="375.6" r="1.0" fill="#f4f0f0" fill-opacity="0.85"/><circle cx="698.2" cy="372.0" r="2.3" fill="#8c564b" stroke="#fff" stroke-width="0.4"/><circle cx="698.2" cy="372.0" r="1.0" fill="#f4f0f0" fill-opacity="0.85"/><circle cx="692.0" cy="347.2" r="2.1" fill="#e377c2" stroke="#fff" stroke-width="0.4"/><circle cx="692.0" cy="347.2" r="0.9" fill="#f4f0f0" fill-opacity="0.85"/><g transform="matrix(1.1787,0,0,0.9493,784.1,-681.2)"><linearGradient id="tg1" gradientUnits="userSpaceOnUse" x1="120" y1="1024" x2="96" y2="1059"><stop offset="0" stop-color="#ad93e0" stop-opacity="0.33"/><stop offset="1" stop-color="#ad93e0" stop-opacity="0.95"/></linearGradient><use href="#ut" fill="url(#tg1)" filter="url(#fsoft1)"/><g mask="url(#um)"><rect x="40" y="780" width="305" height="360" fill="#ddd"/><g filter="url(#fblob2)"><path d="M207.6,801.3 L210.9,864.7 L209.3,870.2 L204.0,877.4 L184.7,886.4 L147.7,872.6 L137.5,863.3 L137.3,860.0Z" fill="#72a8d5"/><path d="M270.8,1048.1 L241.3,1005.4 L242.8,1004.7 L282.9,995.0 L290.1,996.4 L291.4,1037.7Z" fill="#cdd9ee"/><path d="M275.3,844.0 L272.1,861.0 L210.9,864.7 L207.6,801.3 L208.2,798.9Z" fill="#f6b27f"/><path d="M147.7,872.6 L184.7,886.4 L182.1,897.1 L167.2,913.6 L141.1,917.4Z" fill="#ddc1b6"/><path d="M242.8,1004.7 L241.3,1005.4 L238.3,1004.7 L229.1,984.2 L240.9,957.2 L273.7,951.4 L273.2,955.2Z" fill="#91c48d"/><path d="M181.3,980.5 L179.6,985.9 L156.2,1008.0 L151.2,1010.9 L138.2,994.0 L141.6,958.0 L170.9,963.3Z" fill="#c1d0b2"/><path d="M239.7,1073.6 L225.3,1048.8 L222.4,1020.6 L228.7,1012.2 L238.3,1004.7 L241.3,1005.4 L270.8,1048.1 L262.1,1082.2Z" fill="#df6f6f"/><path d="M191.6,1000.4 L228.7,1012.2 L222.4,1020.6 L198.5,1030.8 L187.7,1014.6Z" fill="#d1aad1"/><path d="M216.1,933.1 L212.4,941.0 L198.4,952.1 L180.6,948.1 L180.5,940.0 L193.0,927.3Z" fill="#bac0c1"/><path d="M204.0,877.4 L209.3,870.2 L243.2,888.0 L245.1,913.5 L225.7,920.8Z" fill="#c9bdd7"/><path d="M95.9,975.5 L135.7,950.5 L141.6,958.0 L138.2,994.0 L108.9,993.1Z" fill="#c3a8a4"/><path d="M233.6,941.5 L222.6,929.8 L225.7,920.8 L245.1,913.5 L273.8,918.6 L278.8,924.9Z" fill="#d1b292"/><path d="M179.6,985.9 L181.3,980.5 L203.3,975.3 L218.8,978.4 L229.1,984.2 L238.3,1004.7 L228.7,1012.2 L191.6,1000.4Z" fill="#d9a2c9"/><path d="M137.5,863.3 L147.7,872.6 L141.1,917.4 L128.0,931.2 L105.0,919.6 L134.4,865.7Z" fill="#e8c3aa"/><path d="M79.7,919.1 L105.0,919.6 L128.0,931.2 L134.9,945.1 L135.7,950.5 L95.9,975.5 L91.7,974.2Z" fill="#dddbdb"/><path d="M167.2,913.6 L182.1,897.1 L193.0,927.3 L180.5,940.0 L168.8,931.7Z" fill="#a4cdc5"/><path d="M168.8,931.7 L180.5,940.0 L180.6,948.1 L170.9,963.3 L141.6,958.0 L135.7,950.5 L134.9,945.1Z" fill="#a1cbb9"/><path d="M198.5,1030.8 L222.4,1020.6 L225.3,1048.8 L190.3,1061.0 L182.0,1048.0Z" fill="#c4988e"/><path d="M141.1,917.4 L167.2,913.6 L168.8,931.7 L134.9,945.1 L128.0,931.2Z" fill="#aac9b2"/><path d="M345.0,889.1 L345.0,907.7 L279.2,925.2 L278.8,924.9 L273.8,918.6 L271.2,882.2 L275.5,872.9Z" fill="#c3e3ea"/><path d="M240.9,957.2 L229.1,984.2 L218.8,978.4 L212.4,941.0 L216.1,933.1 L222.6,929.8 L233.6,941.5Z" fill="#b9aed1"/><path d="M198.4,952.1 L212.4,941.0 L218.8,978.4 L203.3,975.3Z" fill="#b6b2d5"/><path d="M273.7,951.4 L240.9,957.2 L233.6,941.5 L278.8,924.9 L279.2,925.2 L277.6,946.8Z" fill="#d0b08c"/><path d="M273.8,918.6 L245.1,913.5 L243.2,888.0 L271.2,882.2Z" fill="#c9bdd7"/><path d="M182.1,897.1 L184.7,886.4 L204.0,877.4 L225.7,920.8 L222.6,929.8 L216.1,933.1 L193.0,927.3Z" fill="#a2c4a0"/><path d="M331.6,981.6 L290.1,996.4 L282.9,995.0 L273.2,955.2 L273.7,951.4 L277.6,946.8Z" fill="#b2d9aa"/><path d="M134.4,865.7 L105.0,919.6 L79.7,919.1 L40.0,899.1 L40.0,889.3Z" fill="#e68c8c"/><path d="M168.5,1045.0 L182.0,1048.0 L190.3,1061.0 L196.5,1080.2 L187.3,1101.7 L134.1,1080.6Z" fill="#f2c1c1"/><path d="M156.2,1008.0 L179.6,985.9 L191.6,1000.4 L187.7,1014.6Z" fill="#d1a2c9"/><path d="M151.2,1010.9 L156.2,1008.0 L187.7,1014.6 L198.5,1030.8 L182.0,1048.0 L168.5,1045.0 L150.5,1015.8Z" fill="#c9c1b9"/><path d="M196.5,1080.2 L190.3,1061.0 L225.3,1048.8 L239.7,1073.6Z" fill="#ca9a92"/><path d="M282.9,995.0 L242.8,1004.7 L273.2,955.2Z" fill="#9ac992"/><path d="M203.3,975.3 L181.3,980.5 L170.9,963.3 L180.6,948.1 L198.4,952.1Z" fill="#b2b2d5"/><path d="M343.8,982.0 L299.9,1038.3 L291.4,1037.7 L290.1,996.4 L331.6,981.6Z" fill="#e8d1e1"/><path d="M40.0,1000.0 L40.0,899.1 L79.7,919.1 L91.7,974.2Z" fill="#d9d7d7"/><path d="M40.0,1103.8 L40.0,1000.0 L91.7,974.2 L95.9,975.5 L108.9,993.2 L89.9,1050.4 L44.0,1101.4Z" fill="#cebbb7"/><path d="M108.9,993.1 L138.2,994.0 L151.2,1010.9 L150.5,1015.8 L89.9,1050.4Z" fill="#c9aeaa"/><path d="M40.0,780.0 L81.2,780.0 L137.3,860.0 L137.5,863.3 L134.4,865.7 L40.0,889.3Z" fill="#e9a2a2"/><path d="M345.0,797.5 L345.0,889.1 L275.5,872.9 L272.1,861.0 L275.3,844.0Z" fill="#d0e6ec"/><path d="M345.0,1068.3 L345.0,1140.0 L287.3,1140.0 L262.1,1082.2 L270.8,1048.1 L291.4,1037.7 L299.9,1038.3Z" fill="#d9e1f2"/><path d="M287.3,1140.0 L196.2,1140.0 L187.3,1101.7 L196.5,1080.2 L239.7,1073.6 L262.1,1082.2Z" fill="#e6e3c9"/><path d="M196.2,1140.0 L40.0,1140.0 L40.0,1103.8 L44.0,1101.4 L134.1,1080.6 L187.3,1101.7Z" fill="#f4cbcb"/><path d="M44.0,1101.4 L89.9,1050.4 L150.5,1015.8 L168.5,1045.0 L134.1,1080.6Z" fill="#eccbc1"/><path d="M345.0,981.8 L345.0,1068.3 L299.9,1038.3 L343.8,982.0Z" fill="#f3d4df"/><path d="M345.0,907.7 L345.0,981.8 L343.8,982.0 L331.6,981.6 L277.6,946.8 L279.2,925.2Z" fill="#c1e3b6"/><path d="M81.2,780.0 L206.7,780.0 L208.2,798.9 L207.6,801.3 L137.3,860.0Z" fill="#83b2db"/><path d="M206.7,780.0 L345.0,780.0 L345.0,797.5 L275.3,844.0 L208.2,798.9Z" fill="#f7bf94"/><path d="M243.2,888.0 L209.3,870.2 L210.9,864.7 L272.1,861.0 L275.5,872.9 L271.2,882.2Z" fill="#eec4a8"/></g></g></g><text x="989.2" y="132.8" font-size="10.4" font-weight="bold" fill="#fff" stroke="#fff" stroke-width="2.6" stroke-linejoin="round" text-anchor="middle" textLength="5.9" lengthAdjust="spacingAndGlyphs">0</text><text x="989.2" y="132.8" font-size="10.4" font-weight="bold" fill="#2a2a2a" stroke="#2a2a2a" stroke-width="0.35" text-anchor="middle" textLength="5.9" lengthAdjust="spacingAndGlyphs">0</text><text x="1074.6" y="129.2" font-size="10.4" font-weight="bold" fill="#fff" stroke="#fff" stroke-width="2.6" stroke-linejoin="round" text-anchor="middle" textLength="5.9" lengthAdjust="spacingAndGlyphs">2</text><text x="1074.6" y="129.2" font-size="10.4" font-weight="bold" fill="#2a2a2a" stroke="#2a2a2a" stroke-width="0.35" text-anchor="middle" textLength="5.9" lengthAdjust="spacingAndGlyphs">2</text><text x="909.9" y="164.3" font-size="10.4" font-weight="bold" fill="#fff" stroke="#fff" stroke-width="2.6" stroke-linejoin="round" text-anchor="middle" textLength="11.8" lengthAdjust="spacingAndGlyphs">26</text><text x="909.9" y="164.3" font-size="10.4" font-weight="bold" fill="#2a2a2a" stroke="#2a2a2a" stroke-width="0.35" text-anchor="middle" textLength="11.8" lengthAdjust="spacingAndGlyphs">26</text><text x="939.1" y="177.1" font-size="10.4" font-weight="bold" fill="#fff" stroke="#fff" stroke-width="2.6" stroke-linejoin="round" text-anchor="middle" textLength="11.8" lengthAdjust="spacingAndGlyphs">13</text><text x="939.1" y="177.1" font-size="10.4" font-weight="bold" fill="#2a2a2a" stroke="#2a2a2a" stroke-width="0.35" text-anchor="middle" textLength="11.8" lengthAdjust="spacingAndGlyphs">13</text><text x="967.1" y="180.5" font-size="10.4" font-weight="bold" fill="#fff" stroke="#fff" stroke-width="2.6" stroke-linejoin="round" text-anchor="middle" textLength="5.9" lengthAdjust="spacingAndGlyphs">3</text><text x="967.1" y="180.5" font-size="10.4" font-weight="bold" fill="#2a2a2a" stroke="#2a2a2a" stroke-width="0.35" text-anchor="middle" textLength="5.9" lengthAdjust="spacingAndGlyphs">3</text><text x="1061.4" y="176.0" font-size="10.4" font-weight="bold" fill="#fff" stroke="#fff" stroke-width="2.6" stroke-linejoin="round" text-anchor="middle" textLength="5.9" lengthAdjust="spacingAndGlyphs">9</text><text x="1061.4" y="176.0" font-size="10.4" font-weight="bold" fill="#2a2a2a" stroke="#2a2a2a" stroke-width="0.35" text-anchor="middle" textLength="5.9" lengthAdjust="spacingAndGlyphs">9</text><text x="1082.0" y="174.8" font-size="10.4" font-weight="bold" fill="#fff" stroke="#fff" stroke-width="2.6" stroke-linejoin="round" text-anchor="middle" textLength="11.8" lengthAdjust="spacingAndGlyphs">23</text><text x="1082.0" y="174.8" font-size="10.4" font-weight="bold" fill="#2a2a2a" stroke="#2a2a2a" stroke-width="0.35" text-anchor="middle" textLength="11.8" lengthAdjust="spacingAndGlyphs">23</text><text x="1128.0" y="172.2" font-size="10.4" font-weight="bold" fill="#fff" stroke="#fff" stroke-width="2.6" stroke-linejoin="round" text-anchor="middle" textLength="11.8" lengthAdjust="spacingAndGlyphs">19</text><text x="1128.0" y="172.2" font-size="10.4" font-weight="bold" fill="#2a2a2a" stroke="#2a2a2a" stroke-width="0.35" text-anchor="middle" textLength="11.8" lengthAdjust="spacingAndGlyphs">19</text><text x="1023.1" y="191.4" font-size="10.4" font-weight="bold" fill="#fff" stroke="#fff" stroke-width="2.6" stroke-linejoin="round" text-anchor="middle" textLength="11.8" lengthAdjust="spacingAndGlyphs">24</text><text x="1023.1" y="191.4" font-size="10.4" font-weight="bold" fill="#2a2a2a" stroke="#2a2a2a" stroke-width="0.35" text-anchor="middle" textLength="11.8" lengthAdjust="spacingAndGlyphs">24</text><text x="970.9" y="201.6" font-size="10.4" font-weight="bold" fill="#fff" stroke="#fff" stroke-width="2.6" stroke-linejoin="round" text-anchor="middle" textLength="11.8" lengthAdjust="spacingAndGlyphs">18</text><text x="970.9" y="201.6" font-size="10.4" font-weight="bold" fill="#2a2a2a" stroke="#2a2a2a" stroke-width="0.35" text-anchor="middle" textLength="11.8" lengthAdjust="spacingAndGlyphs">18</text><text x="993.9" y="199.9" font-size="10.4" font-weight="bold" fill="#fff" stroke="#fff" stroke-width="2.6" stroke-linejoin="round" text-anchor="middle" textLength="11.8" lengthAdjust="spacingAndGlyphs">15</text><text x="993.9" y="199.9" font-size="10.4" font-weight="bold" fill="#2a2a2a" stroke="#2a2a2a" stroke-width="0.35" text-anchor="middle" textLength="11.8" lengthAdjust="spacingAndGlyphs">15</text><text x="1075.2" y="205.9" font-size="10.4" font-weight="bold" fill="#fff" stroke="#fff" stroke-width="2.6" stroke-linejoin="round" text-anchor="middle" textLength="11.8" lengthAdjust="spacingAndGlyphs">11</text><text x="1075.2" y="205.9" font-size="10.4" font-weight="bold" fill="#2a2a2a" stroke="#2a2a2a" stroke-width="0.35" text-anchor="middle" textLength="11.8" lengthAdjust="spacingAndGlyphs">11</text><text x="1079.7" y="215.6" font-size="10.4" font-weight="bold" fill="#fff" stroke="#fff" stroke-width="2.6" stroke-linejoin="round" text-anchor="middle" textLength="11.8" lengthAdjust="spacingAndGlyphs">22</text><text x="1079.7" y="215.6" font-size="10.4" font-weight="bold" fill="#2a2a2a" stroke="#2a2a2a" stroke-width="0.35" text-anchor="middle" textLength="11.8" lengthAdjust="spacingAndGlyphs">22</text><text x="978.6" y="217.3" font-size="10.4" font-weight="bold" fill="#fff" stroke="#fff" stroke-width="2.6" stroke-linejoin="round" text-anchor="middle" textLength="11.8" lengthAdjust="spacingAndGlyphs">16</text><text x="978.6" y="217.3" font-size="10.4" font-weight="bold" fill="#2a2a2a" stroke="#2a2a2a" stroke-width="0.35" text-anchor="middle" textLength="11.8" lengthAdjust="spacingAndGlyphs">16</text><text x="1015.1" y="216.8" font-size="10.4" font-weight="bold" fill="#fff" stroke="#fff" stroke-width="2.6" stroke-linejoin="round" text-anchor="middle" textLength="5.9" lengthAdjust="spacingAndGlyphs">8</text><text x="1015.1" y="216.8" font-size="10.4" font-weight="bold" fill="#2a2a2a" stroke="#2a2a2a" stroke-width="0.35" text-anchor="middle" textLength="5.9" lengthAdjust="spacingAndGlyphs">8</text><text x="908.5" y="226.3" font-size="10.4" font-weight="bold" fill="#fff" stroke="#fff" stroke-width="2.6" stroke-linejoin="round" text-anchor="middle" textLength="11.8" lengthAdjust="spacingAndGlyphs">14</text><text x="908.5" y="226.3" font-size="10.4" font-weight="bold" fill="#2a2a2a" stroke="#2a2a2a" stroke-width="0.35" text-anchor="middle" textLength="11.8" lengthAdjust="spacingAndGlyphs">14</text><text x="1028.7" y="230.5" font-size="10.4" font-weight="bold" fill="#fff" stroke="#fff" stroke-width="2.6" stroke-linejoin="round" text-anchor="middle" textLength="11.8" lengthAdjust="spacingAndGlyphs">21</text><text x="1028.7" y="230.5" font-size="10.4" font-weight="bold" fill="#2a2a2a" stroke="#2a2a2a" stroke-width="0.35" text-anchor="middle" textLength="11.8" lengthAdjust="spacingAndGlyphs">21</text><text x="1046.1" y="228.2" font-size="10.4" font-weight="bold" fill="#fff" stroke="#fff" stroke-width="2.6" stroke-linejoin="round" text-anchor="middle" textLength="11.8" lengthAdjust="spacingAndGlyphs">20</text><text x="1046.1" y="228.2" font-size="10.4" font-weight="bold" fill="#2a2a2a" stroke="#2a2a2a" stroke-width="0.35" text-anchor="middle" textLength="11.8" lengthAdjust="spacingAndGlyphs">20</text><text x="1010.4" y="233.6" font-size="10.4" font-weight="bold" fill="#fff" stroke="#fff" stroke-width="2.6" stroke-linejoin="round" text-anchor="middle" textLength="11.8" lengthAdjust="spacingAndGlyphs">32</text><text x="1010.4" y="233.6" font-size="10.4" font-weight="bold" fill="#2a2a2a" stroke="#2a2a2a" stroke-width="0.35" text-anchor="middle" textLength="11.8" lengthAdjust="spacingAndGlyphs">32</text><text x="1085.6" y="242.2" font-size="10.4" font-weight="bold" fill="#fff" stroke="#fff" stroke-width="2.6" stroke-linejoin="round" text-anchor="middle" textLength="5.9" lengthAdjust="spacingAndGlyphs">4</text><text x="1085.6" y="242.2" font-size="10.4" font-weight="bold" fill="#2a2a2a" stroke="#2a2a2a" stroke-width="0.35" text-anchor="middle" textLength="5.9" lengthAdjust="spacingAndGlyphs">4</text><text x="1100.9" y="249.8" font-size="10.4" font-weight="bold" fill="#fff" stroke="#fff" stroke-width="2.6" stroke-linejoin="round" text-anchor="middle" textLength="11.8" lengthAdjust="spacingAndGlyphs">31</text><text x="1100.9" y="249.8" font-size="10.4" font-weight="bold" fill="#2a2a2a" stroke="#2a2a2a" stroke-width="0.35" text-anchor="middle" textLength="11.8" lengthAdjust="spacingAndGlyphs">31</text><text x="1122.7" y="245.5" font-size="10.4" font-weight="bold" fill="#fff" stroke="#fff" stroke-width="2.6" stroke-linejoin="round" text-anchor="middle" textLength="11.8" lengthAdjust="spacingAndGlyphs">25</text><text x="1122.7" y="245.5" font-size="10.4" font-weight="bold" fill="#2a2a2a" stroke="#2a2a2a" stroke-width="0.35" text-anchor="middle" textLength="11.8" lengthAdjust="spacingAndGlyphs">25</text><text x="926.7" y="249.8" font-size="10.4" font-weight="bold" fill="#fff" stroke="#fff" stroke-width="2.6" stroke-linejoin="round" text-anchor="middle" textLength="11.8" lengthAdjust="spacingAndGlyphs">10</text><text x="926.7" y="249.8" font-size="10.4" font-weight="bold" fill="#2a2a2a" stroke="#2a2a2a" stroke-width="0.35" text-anchor="middle" textLength="11.8" lengthAdjust="spacingAndGlyphs">10</text><text x="970.6" y="253.1" font-size="10.4" font-weight="bold" fill="#fff" stroke="#fff" stroke-width="2.6" stroke-linejoin="round" text-anchor="middle" textLength="5.9" lengthAdjust="spacingAndGlyphs">5</text><text x="970.6" y="253.1" font-size="10.4" font-weight="bold" fill="#2a2a2a" stroke="#2a2a2a" stroke-width="0.35" text-anchor="middle" textLength="5.9" lengthAdjust="spacingAndGlyphs">5</text><text x="1019.8" y="265.9" font-size="10.4" font-weight="bold" fill="#fff" stroke="#fff" stroke-width="2.6" stroke-linejoin="round" text-anchor="middle" textLength="11.8" lengthAdjust="spacingAndGlyphs">12</text><text x="1019.8" y="265.9" font-size="10.4" font-weight="bold" fill="#2a2a2a" stroke="#2a2a2a" stroke-width="0.35" text-anchor="middle" textLength="11.8" lengthAdjust="spacingAndGlyphs">12</text><text x="1000.7" y="278.7" font-size="10.4" font-weight="bold" fill="#fff" stroke="#fff" stroke-width="2.6" stroke-linejoin="round" text-anchor="middle" textLength="11.8" lengthAdjust="spacingAndGlyphs">28</text><text x="1000.7" y="278.7" font-size="10.4" font-weight="bold" fill="#2a2a2a" stroke="#2a2a2a" stroke-width="0.35" text-anchor="middle" textLength="11.8" lengthAdjust="spacingAndGlyphs">28</text><text x="1013.7" y="281.6" font-size="10.4" font-weight="bold" fill="#fff" stroke="#fff" stroke-width="2.6" stroke-linejoin="round" text-anchor="middle" textLength="5.9" lengthAdjust="spacingAndGlyphs">7</text><text x="1013.7" y="281.6" font-size="10.4" font-weight="bold" fill="#2a2a2a" stroke="#2a2a2a" stroke-width="0.35" text-anchor="middle" textLength="5.9" lengthAdjust="spacingAndGlyphs">7</text><text x="997.7" y="290.1" font-size="10.4" font-weight="bold" fill="#fff" stroke="#fff" stroke-width="2.6" stroke-linejoin="round" text-anchor="middle" textLength="11.8" lengthAdjust="spacingAndGlyphs">29</text><text x="997.7" y="290.1" font-size="10.4" font-weight="bold" fill="#2a2a2a" stroke="#2a2a2a" stroke-width="0.35" text-anchor="middle" textLength="11.8" lengthAdjust="spacingAndGlyphs">29</text><text x="1112.4" y="288.2" font-size="10.4" font-weight="bold" fill="#fff" stroke="#fff" stroke-width="2.6" stroke-linejoin="round" text-anchor="middle" textLength="5.9" lengthAdjust="spacingAndGlyphs">1</text><text x="1112.4" y="288.2" font-size="10.4" font-weight="bold" fill="#2a2a2a" stroke="#2a2a2a" stroke-width="0.35" text-anchor="middle" textLength="5.9" lengthAdjust="spacingAndGlyphs">1</text><text x="1141.2" y="287.5" font-size="10.4" font-weight="bold" fill="#fff" stroke="#fff" stroke-width="2.6" stroke-linejoin="round" text-anchor="middle" textLength="11.8" lengthAdjust="spacingAndGlyphs">33</text><text x="1141.2" y="287.5" font-size="10.4" font-weight="bold" fill="#2a2a2a" stroke="#2a2a2a" stroke-width="0.35" text-anchor="middle" textLength="11.8" lengthAdjust="spacingAndGlyphs">33</text><text x="1032.2" y="316.7" font-size="10.4" font-weight="bold" fill="#fff" stroke="#fff" stroke-width="2.6" stroke-linejoin="round" text-anchor="middle" textLength="11.8" lengthAdjust="spacingAndGlyphs">17</text><text x="1032.2" y="316.7" font-size="10.4" font-weight="bold" fill="#2a2a2a" stroke="#2a2a2a" stroke-width="0.35" text-anchor="middle" textLength="11.8" lengthAdjust="spacingAndGlyphs">17</text><text x="1066.4" y="313.8" font-size="10.4" font-weight="bold" fill="#fff" stroke="#fff" stroke-width="2.6" stroke-linejoin="round" text-anchor="middle" textLength="5.9" lengthAdjust="spacingAndGlyphs">6</text><text x="1066.4" y="313.8" font-size="10.4" font-weight="bold" fill="#2a2a2a" stroke="#2a2a2a" stroke-width="0.35" text-anchor="middle" textLength="5.9" lengthAdjust="spacingAndGlyphs">6</text><text x="1036.9" y="327.6" font-size="10.4" font-weight="bold" fill="#fff" stroke="#fff" stroke-width="2.6" stroke-linejoin="round" text-anchor="middle" textLength="11.8" lengthAdjust="spacingAndGlyphs">30</text><text x="1036.9" y="327.6" font-size="10.4" font-weight="bold" fill="#2a2a2a" stroke="#2a2a2a" stroke-width="0.35" text-anchor="middle" textLength="11.8" lengthAdjust="spacingAndGlyphs">30</text><text x="983.9" y="341.4" font-size="10.4" font-weight="bold" fill="#fff" stroke="#fff" stroke-width="2.6" stroke-linejoin="round" text-anchor="middle" textLength="11.8" lengthAdjust="spacingAndGlyphs">27</text><text x="983.9" y="341.4" font-size="10.4" font-weight="bold" fill="#2a2a2a" stroke="#2a2a2a" stroke-width="0.35" text-anchor="middle" textLength="11.8" lengthAdjust="spacingAndGlyphs">27</text><text transform="translate(0.3,411.8) scale(1.190,1)" x="0" y="0" font-size="24.6" font-weight="bold" fill="#000">B</text><line x1="55.2" y1="501.1" x2="585.7" y2="501.1" stroke="#9a9a9a" stroke-width="0.9" stroke-dasharray="2.6,1.9"/><circle cx="77.5" cy="444.8" r="4.7" fill="#4c72b0" stroke="#fff" stroke-width="0.6"/><circle cx="77.5" cy="451.6" r="3.3" fill="#dd8452" stroke="#fff" stroke-width="0.6"/><circle cx="77.5" cy="449.8" r="3.4" fill="#c44e52" stroke="#fff" stroke-width="0.6"/><circle cx="77.5" cy="454.3" r="3.2" fill="#8172b3" stroke="#fff" stroke-width="0.6"/><circle cx="77.5" cy="441.2" r="3.2" fill="#937860" stroke="#fff" stroke-width="0.6"/><circle cx="77.5" cy="457.6" r="3.0" fill="#da8bc3" stroke="#fff" stroke-width="0.6"/><circle cx="77.5" cy="446.4" r="2.5" fill="#ccb974" stroke="#fff" stroke-width="0.6"/><text transform="translate(77.5,560.8) rotate(-45)" x="0" y="3.2" font-size="9.2" font-weight="bold" fill="#262626" text-anchor="middle" textLength="12.0" lengthAdjust="spacingAndGlyphs">10</text><circle cx="92.2" cy="467.8" r="4.7" fill="#4c72b0" stroke="#fff" stroke-width="0.6"/><circle cx="92.2" cy="450.9" r="3.3" fill="#dd8452" stroke="#fff" stroke-width="0.6"/><circle cx="92.2" cy="465.5" r="3.3" fill="#55a868" stroke="#fff" stroke-width="0.6"/><circle cx="92.2" cy="474.0" r="3.2" fill="#8172b3" stroke="#fff" stroke-width="0.6"/><circle cx="92.2" cy="459.4" r="3.0" fill="#da8bc3" stroke="#fff" stroke-width="0.6"/><circle cx="92.2" cy="483.0" r="3.1" fill="#8c8c8c" stroke="#fff" stroke-width="0.6"/><circle cx="92.2" cy="453.8" r="2.5" fill="#ccb974" stroke="#fff" stroke-width="0.6"/><text transform="translate(92.2,560.8) rotate(-45)" x="0" y="3.2" font-size="9.2" font-weight="bold" fill="#262626" text-anchor="middle" textLength="12.0" lengthAdjust="spacingAndGlyphs">14</text><circle cx="106.8" cy="466.6" r="4.7" fill="#4c72b0" stroke="#fff" stroke-width="0.6"/><circle cx="106.8" cy="478.6" r="3.3" fill="#55a868" stroke="#fff" stroke-width="0.6"/><circle cx="106.8" cy="452.5" r="3.4" fill="#c44e52" stroke="#fff" stroke-width="0.6"/><circle cx="106.8" cy="481.7" r="3.2" fill="#8172b3" stroke="#fff" stroke-width="0.6"/><circle cx="106.8" cy="465.5" r="3.2" fill="#937860" stroke="#fff" stroke-width="0.6"/><circle cx="106.8" cy="459.4" r="3.0" fill="#da8bc3" stroke="#fff" stroke-width="0.6"/><circle cx="106.8" cy="462.8" r="3.1" fill="#8c8c8c" stroke="#fff" stroke-width="0.6"/><circle cx="106.8" cy="472.7" r="2.5" fill="#ccb974" stroke="#fff" stroke-width="0.6"/><text transform="translate(106.8,560.8) rotate(-45)" x="0" y="3.2" font-size="9.2" font-weight="bold" fill="#262626" text-anchor="middle" textLength="12.0" lengthAdjust="spacingAndGlyphs">13</text><circle cx="121.5" cy="461.0" r="4.7" fill="#4c72b0" stroke="#fff" stroke-width="0.6"/><circle cx="121.5" cy="479.5" r="3.2" fill="#8172b3" stroke="#fff" stroke-width="0.6"/><circle cx="121.5" cy="457.2" r="3.2" fill="#937860" stroke="#fff" stroke-width="0.6"/><circle cx="121.5" cy="473.4" r="3.0" fill="#da8bc3" stroke="#fff" stroke-width="0.6"/><circle cx="121.5" cy="458.8" r="3.1" fill="#8c8c8c" stroke="#fff" stroke-width="0.6"/><circle cx="121.5" cy="474.5" r="2.5" fill="#ccb974" stroke="#fff" stroke-width="0.6"/><text transform="translate(121.5,558.7) rotate(-45)" x="0" y="3.2" font-size="9.2" font-weight="bold" fill="#262626" text-anchor="middle" textLength="6.0" lengthAdjust="spacingAndGlyphs">8</text><circle cx="136.1" cy="476.8" r="4.7" fill="#4c72b0" stroke="#fff" stroke-width="0.6"/><circle cx="136.1" cy="486.2" r="3.2" fill="#8172b3" stroke="#fff" stroke-width="0.6"/><circle cx="136.1" cy="482.4" r="3.2" fill="#937860" stroke="#fff" stroke-width="0.6"/><circle cx="136.1" cy="477.4" r="3.0" fill="#da8bc3" stroke="#fff" stroke-width="0.6"/><circle cx="136.1" cy="471.8" r="3.1" fill="#8c8c8c" stroke="#fff" stroke-width="0.6"/><circle cx="136.1" cy="480.1" r="2.5" fill="#ccb974" stroke="#fff" stroke-width="0.6"/><text transform="translate(136.1,560.8) rotate(-45)" x="0" y="3.2" font-size="9.2" font-weight="bold" fill="#262626" text-anchor="middle" textLength="12.0" lengthAdjust="spacingAndGlyphs">18</text><circle cx="150.8" cy="480.8" r="4.7" fill="#4c72b0" stroke="#fff" stroke-width="0.6"/><circle cx="150.8" cy="475.0" r="3.4" fill="#c44e52" stroke="#fff" stroke-width="0.6"/><circle cx="150.8" cy="478.6" r="3.2" fill="#937860" stroke="#fff" stroke-width="0.6"/><circle cx="150.8" cy="486.9" r="3.0" fill="#da8bc3" stroke="#fff" stroke-width="0.6"/><circle cx="150.8" cy="490.5" r="3.1" fill="#8c8c8c" stroke="#fff" stroke-width="0.6"/><circle cx="150.8" cy="502.6" r="2.5" fill="#ccb974" stroke="#fff" stroke-width="0.6"/><text transform="translate(150.8,560.8) rotate(-45)" x="0" y="3.2" font-size="9.2" font-weight="bold" fill="#262626" text-anchor="middle" textLength="12.0" lengthAdjust="spacingAndGlyphs">29</text><circle cx="165.5" cy="489.8" r="4.7" fill="#4c72b0" stroke="#fff" stroke-width="0.6"/><circle cx="165.5" cy="493.6" r="3.2" fill="#8172b3" stroke="#fff" stroke-width="0.6"/><circle cx="165.5" cy="499.3" r="3.0" fill="#da8bc3" stroke="#fff" stroke-width="0.6"/><circle cx="165.5" cy="499.3" r="3.1" fill="#8c8c8c" stroke="#fff" stroke-width="0.6"/><circle cx="165.5" cy="489.8" r="2.5" fill="#ccb974" stroke="#fff" stroke-width="0.6"/><text transform="translate(165.5,557.8) rotate(-45)" x="0" y="2.6" font-size="7.6" fill="#444" text-anchor="middle" textLength="4.6" lengthAdjust="spacingAndGlyphs">5</text><circle cx="180.1" cy="502.6" r="4.7" fill="#4c72b0" stroke="#fff" stroke-width="0.6"/><circle cx="180.1" cy="510.5" r="3.3" fill="#dd8452" stroke="#fff" stroke-width="0.6"/><circle cx="180.1" cy="489.1" r="3.3" fill="#55a868" stroke="#fff" stroke-width="0.6"/><circle cx="180.1" cy="491.4" r="3.4" fill="#c44e52" stroke="#fff" stroke-width="0.6"/><circle cx="180.1" cy="503.3" r="3.2" fill="#8172b3" stroke="#fff" stroke-width="0.6"/><circle cx="180.1" cy="485.3" r="3.2" fill="#937860" stroke="#fff" stroke-width="0.6"/><circle cx="180.1" cy="479.5" r="3.0" fill="#da8bc3" stroke="#fff" stroke-width="0.6"/><circle cx="180.1" cy="498.1" r="3.1" fill="#8c8c8c" stroke="#fff" stroke-width="0.6"/><circle cx="180.1" cy="483.0" r="2.5" fill="#ccb974" stroke="#fff" stroke-width="0.6"/><text transform="translate(180.1,560.8) rotate(-45)" x="0" y="3.2" font-size="9.2" font-weight="bold" fill="#262626" text-anchor="middle" textLength="12.0" lengthAdjust="spacingAndGlyphs">26</text><circle cx="194.8" cy="473.8" r="4.7" fill="#4c72b0" stroke="#fff" stroke-width="0.6"/><circle cx="194.8" cy="494.8" r="3.3" fill="#dd8452" stroke="#fff" stroke-width="0.6"/><circle cx="194.8" cy="500.4" r="3.3" fill="#55a868" stroke="#fff" stroke-width="0.6"/><circle cx="194.8" cy="504.9" r="3.4" fill="#c44e52" stroke="#fff" stroke-width="0.6"/><circle cx="194.8" cy="497.0" r="3.2" fill="#8172b3" stroke="#fff" stroke-width="0.6"/><circle cx="194.8" cy="507.1" r="3.2" fill="#937860" stroke="#fff" stroke-width="0.6"/><circle cx="194.8" cy="484.6" r="3.0" fill="#da8bc3" stroke="#fff" stroke-width="0.6"/><circle cx="194.8" cy="490.7" r="2.5" fill="#ccb974" stroke="#fff" stroke-width="0.6"/><text transform="translate(194.8,558.7) rotate(-45)" x="0" y="3.2" font-size="9.2" font-weight="bold" fill="#262626" text-anchor="middle" textLength="6.0" lengthAdjust="spacingAndGlyphs">3</text><circle cx="209.4" cy="511.0" r="4.7" fill="#4c72b0" stroke="#fff" stroke-width="0.6"/><circle cx="209.4" cy="503.3" r="3.3" fill="#dd8452" stroke="#fff" stroke-width="0.6"/><circle cx="209.4" cy="491.4" r="3.3" fill="#55a868" stroke="#fff" stroke-width="0.6"/><circle cx="209.4" cy="482.4" r="3.4" fill="#c44e52" stroke="#fff" stroke-width="0.6"/><circle cx="209.4" cy="478.3" r="3.2" fill="#937860" stroke="#fff" stroke-width="0.6"/><circle cx="209.4" cy="489.1" r="3.0" fill="#da8bc3" stroke="#fff" stroke-width="0.6"/><circle cx="209.4" cy="514.3" r="3.1" fill="#8c8c8c" stroke="#fff" stroke-width="0.6"/><circle cx="209.4" cy="498.1" r="2.5" fill="#ccb974" stroke="#fff" stroke-width="0.6"/><text transform="translate(209.4,560.8) rotate(-45)" x="0" y="3.2" font-size="9.2" font-weight="bold" fill="#262626" text-anchor="middle" textLength="12.0" lengthAdjust="spacingAndGlyphs">27</text><circle cx="224.1" cy="484.0" r="4.7" fill="#4c72b0" stroke="#fff" stroke-width="0.6"/><circle cx="224.1" cy="492.5" r="3.3" fill="#dd8452" stroke="#fff" stroke-width="0.6"/><circle cx="224.1" cy="510.0" r="3.3" fill="#55a868" stroke="#fff" stroke-width="0.6"/><circle cx="224.1" cy="507.1" r="3.2" fill="#8172b3" stroke="#fff" stroke-width="0.6"/><circle cx="224.1" cy="498.1" r="3.2" fill="#937860" stroke="#fff" stroke-width="0.6"/><circle cx="224.1" cy="483.0" r="3.1" fill="#8c8c8c" stroke="#fff" stroke-width="0.6"/><circle cx="224.1" cy="492.0" r="2.5" fill="#ccb974" stroke="#fff" stroke-width="0.6"/><text transform="translate(224.1,558.7) rotate(-45)" x="0" y="3.2" font-size="9.2" font-weight="bold" fill="#262626" text-anchor="middle" textLength="6.0" lengthAdjust="spacingAndGlyphs">0</text><circle cx="238.8" cy="475.2" r="4.7" fill="#4c72b0" stroke="#fff" stroke-width="0.6"/><circle cx="238.8" cy="485.3" r="3.3" fill="#dd8452" stroke="#fff" stroke-width="0.6"/><circle cx="238.8" cy="504.9" r="3.4" fill="#c44e52" stroke="#fff" stroke-width="0.6"/><circle cx="238.8" cy="494.3" r="3.2" fill="#8172b3" stroke="#fff" stroke-width="0.6"/><circle cx="238.8" cy="516.8" r="3.2" fill="#937860" stroke="#fff" stroke-width="0.6"/><circle cx="238.8" cy="497.5" r="3.0" fill="#da8bc3" stroke="#fff" stroke-width="0.6"/><circle cx="238.8" cy="501.5" r="3.1" fill="#8c8c8c" stroke="#fff" stroke-width="0.6"/><circle cx="238.8" cy="489.8" r="2.5" fill="#ccb974" stroke="#fff" stroke-width="0.6"/><text transform="translate(238.8,560.8) rotate(-45)" x="0" y="3.2" font-size="9.2" font-weight="bold" fill="#262626" text-anchor="middle" textLength="12.0" lengthAdjust="spacingAndGlyphs">16</text><circle cx="253.4" cy="505.6" r="4.7" fill="#4c72b0" stroke="#fff" stroke-width="0.6"/><circle cx="253.4" cy="511.0" r="3.3" fill="#dd8452" stroke="#fff" stroke-width="0.6"/><circle cx="253.4" cy="502.6" r="3.3" fill="#55a868" stroke="#fff" stroke-width="0.6"/><circle cx="253.4" cy="509.4" r="3.2" fill="#8172b3" stroke="#fff" stroke-width="0.6"/><circle cx="253.4" cy="494.8" r="3.0" fill="#da8bc3" stroke="#fff" stroke-width="0.6"/><circle cx="253.4" cy="490.3" r="3.1" fill="#8c8c8c" stroke="#fff" stroke-width="0.6"/><text transform="translate(253.4,557.8) rotate(-45)" x="0" y="2.6" font-size="7.6" fill="#444" text-anchor="middle" textLength="4.6" lengthAdjust="spacingAndGlyphs">2</text><circle cx="268.1" cy="491.8" r="4.7" fill="#4c72b0" stroke="#fff" stroke-width="0.6"/><circle cx="268.1" cy="490.7" r="3.3" fill="#dd8452" stroke="#fff" stroke-width="0.6"/><circle cx="268.1" cy="500.4" r="3.3" fill="#55a868" stroke="#fff" stroke-width="0.6"/><circle cx="268.1" cy="509.4" r="3.2" fill="#8172b3" stroke="#fff" stroke-width="0.6"/><circle cx="268.1" cy="512.8" r="3.1" fill="#8c8c8c" stroke="#fff" stroke-width="0.6"/><circle cx="268.1" cy="497.0" r="2.5" fill="#ccb974" stroke="#fff" stroke-width="0.6"/><text transform="translate(268.1,559.4) rotate(-45)" x="0" y="2.6" font-size="7.6" fill="#444" text-anchor="middle" textLength="9.2" lengthAdjust="spacingAndGlyphs">12</text><circle cx="282.7" cy="497.0" r="4.7" fill="#4c72b0" stroke="#fff" stroke-width="0.6"/><circle cx="282.7" cy="517.3" r="3.3" fill="#dd8452" stroke="#fff" stroke-width="0.6"/><circle cx="282.7" cy="503.8" r="3.3" fill="#55a868" stroke="#fff" stroke-width="0.6"/><circle cx="282.7" cy="500.4" r="3.0" fill="#da8bc3" stroke="#fff" stroke-width="0.6"/><circle cx="282.7" cy="494.1" r="3.1" fill="#8c8c8c" stroke="#fff" stroke-width="0.6"/><circle cx="282.7" cy="497.5" r="2.5" fill="#ccb974" stroke="#fff" stroke-width="0.6"/><text transform="translate(282.7,559.4) rotate(-45)" x="0" y="2.6" font-size="7.6" fill="#444" text-anchor="middle" textLength="9.2" lengthAdjust="spacingAndGlyphs">20</text><circle cx="297.4" cy="498.8" r="4.7" fill="#4c72b0" stroke="#fff" stroke-width="0.6"/><circle cx="297.4" cy="483.5" r="3.3" fill="#dd8452" stroke="#fff" stroke-width="0.6"/><circle cx="297.4" cy="492.0" r="3.3" fill="#55a868" stroke="#fff" stroke-width="0.6"/><circle cx="297.4" cy="499.0" r="3.4" fill="#c44e52" stroke="#fff" stroke-width="0.6"/><circle cx="297.4" cy="494.8" r="3.2" fill="#8172b3" stroke="#fff" stroke-width="0.6"/><circle cx="297.4" cy="511.6" r="3.2" fill="#937860" stroke="#fff" stroke-width="0.6"/><circle cx="297.4" cy="519.1" r="3.1" fill="#8c8c8c" stroke="#fff" stroke-width="0.6"/><circle cx="297.4" cy="501.5" r="2.5" fill="#ccb974" stroke="#fff" stroke-width="0.6"/><text transform="translate(297.4,560.8) rotate(-45)" x="0" y="3.2" font-size="9.2" font-weight="bold" fill="#262626" text-anchor="middle" textLength="12.0" lengthAdjust="spacingAndGlyphs">28</text><circle cx="312.1" cy="520.0" r="4.7" fill="#4c72b0" stroke="#fff" stroke-width="0.6"/><circle cx="312.1" cy="511.0" r="3.3" fill="#dd8452" stroke="#fff" stroke-width="0.6"/><circle cx="312.1" cy="502.6" r="3.4" fill="#c44e52" stroke="#fff" stroke-width="0.6"/><circle cx="312.1" cy="506.0" r="3.0" fill="#da8bc3" stroke="#fff" stroke-width="0.6"/><circle cx="312.1" cy="491.4" r="3.1" fill="#8c8c8c" stroke="#fff" stroke-width="0.6"/><circle cx="312.1" cy="498.1" r="2.5" fill="#ccb974" stroke="#fff" stroke-width="0.6"/><text transform="translate(312.1,558.7) rotate(-45)" x="0" y="3.2" font-size="9.2" font-weight="bold" fill="#262626" text-anchor="middle" textLength="6.0" lengthAdjust="spacingAndGlyphs">9</text><circle cx="326.7" cy="513.9" r="4.7" fill="#4c72b0" stroke="#fff" stroke-width="0.6"/><circle cx="326.7" cy="498.1" r="3.4" fill="#c44e52" stroke="#fff" stroke-width="0.6"/><circle cx="326.7" cy="515.0" r="3.2" fill="#8172b3" stroke="#fff" stroke-width="0.6"/><circle cx="326.7" cy="501.5" r="3.0" fill="#da8bc3" stroke="#fff" stroke-width="0.6"/><circle cx="326.7" cy="508.7" r="3.1" fill="#8c8c8c" stroke="#fff" stroke-width="0.6"/><circle cx="326.7" cy="510.0" r="2.5" fill="#ccb974" stroke="#fff" stroke-width="0.6"/><text transform="translate(326.7,559.4) rotate(-45)" x="0" y="2.6" font-size="7.6" fill="#444" text-anchor="middle" textLength="9.2" lengthAdjust="spacingAndGlyphs">32</text><circle cx="341.4" cy="527.8" r="4.7" fill="#4c72b0" stroke="#fff" stroke-width="0.6"/><circle cx="341.4" cy="502.6" r="3.3" fill="#55a868" stroke="#fff" stroke-width="0.6"/><circle cx="341.4" cy="496.6" r="3.4" fill="#c44e52" stroke="#fff" stroke-width="0.6"/><circle cx="341.4" cy="505.3" r="3.2" fill="#937860" stroke="#fff" stroke-width="0.6"/><circle cx="341.4" cy="509.4" r="3.0" fill="#da8bc3" stroke="#fff" stroke-width="0.6"/><circle cx="341.4" cy="512.8" r="3.1" fill="#8c8c8c" stroke="#fff" stroke-width="0.6"/><circle cx="341.4" cy="498.6" r="2.5" fill="#ccb974" stroke="#fff" stroke-width="0.6"/><text transform="translate(341.4,560.8) rotate(-45)" x="0" y="3.2" font-size="9.2" font-weight="bold" fill="#262626" text-anchor="middle" textLength="12.0" lengthAdjust="spacingAndGlyphs">33</text><circle cx="356.0" cy="520.2" r="4.7" fill="#4c72b0" stroke="#fff" stroke-width="0.6"/><circle cx="356.0" cy="515.5" r="3.3" fill="#dd8452" stroke="#fff" stroke-width="0.6"/><circle cx="356.0" cy="509.4" r="3.0" fill="#da8bc3" stroke="#fff" stroke-width="0.6"/><circle cx="356.0" cy="502.0" r="3.1" fill="#8c8c8c" stroke="#fff" stroke-width="0.6"/><circle cx="356.0" cy="506.0" r="2.5" fill="#ccb974" stroke="#fff" stroke-width="0.6"/><text transform="translate(356.0,560.8) rotate(-45)" x="0" y="3.2" font-size="9.2" font-weight="bold" fill="#262626" text-anchor="middle" textLength="12.0" lengthAdjust="spacingAndGlyphs">19</text><circle cx="370.7" cy="521.8" r="4.7" fill="#4c72b0" stroke="#fff" stroke-width="0.6"/><circle cx="370.7" cy="503.3" r="3.3" fill="#55a868" stroke="#fff" stroke-width="0.6"/><circle cx="370.7" cy="507.8" r="3.4" fill="#c44e52" stroke="#fff" stroke-width="0.6"/><circle cx="370.7" cy="498.8" r="3.2" fill="#937860" stroke="#fff" stroke-width="0.6"/><circle cx="370.7" cy="517.7" r="3.1" fill="#8c8c8c" stroke="#fff" stroke-width="0.6"/><circle cx="370.7" cy="513.4" r="2.5" fill="#ccb974" stroke="#fff" stroke-width="0.6"/><text transform="translate(370.7,560.8) rotate(-45)" x="0" y="3.2" font-size="9.2" font-weight="bold" fill="#262626" text-anchor="middle" textLength="12.0" lengthAdjust="spacingAndGlyphs">30</text><circle cx="385.4" cy="527.0" r="4.7" fill="#4c72b0" stroke="#fff" stroke-width="0.6"/><circle cx="385.4" cy="516.1" r="3.3" fill="#dd8452" stroke="#fff" stroke-width="0.6"/><circle cx="385.4" cy="514.6" r="3.3" fill="#55a868" stroke="#fff" stroke-width="0.6"/><circle cx="385.4" cy="508.7" r="3.4" fill="#c44e52" stroke="#fff" stroke-width="0.6"/><circle cx="385.4" cy="511.2" r="3.0" fill="#da8bc3" stroke="#fff" stroke-width="0.6"/><circle cx="385.4" cy="498.1" r="3.1" fill="#8c8c8c" stroke="#fff" stroke-width="0.6"/><circle cx="385.4" cy="501.5" r="2.5" fill="#ccb974" stroke="#fff" stroke-width="0.6"/><text transform="translate(385.4,560.8) rotate(-45)" x="0" y="3.2" font-size="9.2" font-weight="bold" fill="#262626" text-anchor="middle" textLength="12.0" lengthAdjust="spacingAndGlyphs">31</text><circle cx="400.0" cy="516.8" r="4.7" fill="#4c72b0" stroke="#fff" stroke-width="0.6"/><circle cx="400.0" cy="500.4" r="3.3" fill="#dd8452" stroke="#fff" stroke-width="0.6"/><circle cx="400.0" cy="506.5" r="3.3" fill="#55a868" stroke="#fff" stroke-width="0.6"/><circle cx="400.0" cy="512.0" r="3.4" fill="#c44e52" stroke="#fff" stroke-width="0.6"/><circle cx="400.0" cy="504.9" r="3.2" fill="#8172b3" stroke="#fff" stroke-width="0.6"/><circle cx="400.0" cy="509.4" r="3.2" fill="#937860" stroke="#fff" stroke-width="0.6"/><circle cx="400.0" cy="522.9" r="3.1" fill="#8c8c8c" stroke="#fff" stroke-width="0.6"/><circle cx="400.0" cy="515.0" r="2.5" fill="#ccb974" stroke="#fff" stroke-width="0.6"/><text transform="translate(400.0,558.7) rotate(-45)" x="0" y="3.2" font-size="9.2" font-weight="bold" fill="#262626" text-anchor="middle" textLength="6.0" lengthAdjust="spacingAndGlyphs">6</text><circle cx="414.7" cy="526.7" r="4.7" fill="#4c72b0" stroke="#fff" stroke-width="0.6"/><circle cx="414.7" cy="506.5" r="3.4" fill="#c44e52" stroke="#fff" stroke-width="0.6"/><circle cx="414.7" cy="515.5" r="3.0" fill="#da8bc3" stroke="#fff" stroke-width="0.6"/><circle cx="414.7" cy="511.5" r="3.1" fill="#8c8c8c" stroke="#fff" stroke-width="0.6"/><circle cx="414.7" cy="510.0" r="2.5" fill="#ccb974" stroke="#fff" stroke-width="0.6"/><text transform="translate(414.7,558.7) rotate(-45)" x="0" y="3.2" font-size="9.2" font-weight="bold" fill="#262626" text-anchor="middle" textLength="6.0" lengthAdjust="spacingAndGlyphs">4</text><circle cx="429.3" cy="511.2" r="4.7" fill="#4c72b0" stroke="#fff" stroke-width="0.6"/><circle cx="429.3" cy="517.3" r="3.4" fill="#c44e52" stroke="#fff" stroke-width="0.6"/><circle cx="429.3" cy="503.8" r="3.2" fill="#937860" stroke="#fff" stroke-width="0.6"/><circle cx="429.3" cy="512.5" r="3.0" fill="#da8bc3" stroke="#fff" stroke-width="0.6"/><circle cx="429.3" cy="521.8" r="3.1" fill="#8c8c8c" stroke="#fff" stroke-width="0.6"/><circle cx="429.3" cy="508.7" r="2.5" fill="#ccb974" stroke="#fff" stroke-width="0.6"/><text transform="translate(429.3,560.8) rotate(-45)" x="0" y="3.2" font-size="9.2" font-weight="bold" fill="#262626" text-anchor="middle" textLength="12.0" lengthAdjust="spacingAndGlyphs">23</text><circle cx="444.0" cy="511.2" r="4.7" fill="#4c72b0" stroke="#fff" stroke-width="0.6"/><circle cx="444.0" cy="506.5" r="3.3" fill="#55a868" stroke="#fff" stroke-width="0.6"/><circle cx="444.0" cy="508.0" r="3.2" fill="#8172b3" stroke="#fff" stroke-width="0.6"/><circle cx="444.0" cy="522.4" r="3.0" fill="#da8bc3" stroke="#fff" stroke-width="0.6"/><circle cx="444.0" cy="513.9" r="3.1" fill="#8c8c8c" stroke="#fff" stroke-width="0.6"/><circle cx="444.0" cy="519.0" r="2.5" fill="#ccb974" stroke="#fff" stroke-width="0.6"/><text transform="translate(444.0,560.8) rotate(-45)" x="0" y="3.2" font-size="9.2" font-weight="bold" fill="#262626" text-anchor="middle" textLength="12.0" lengthAdjust="spacingAndGlyphs">17</text><circle cx="458.7" cy="510.5" r="4.7" fill="#4c72b0" stroke="#fff" stroke-width="0.6"/><circle cx="458.7" cy="510.0" r="3.3" fill="#dd8452" stroke="#fff" stroke-width="0.6"/><circle cx="458.7" cy="511.5" r="3.3" fill="#55a868" stroke="#fff" stroke-width="0.6"/><circle cx="458.7" cy="529.2" r="3.4" fill="#c44e52" stroke="#fff" stroke-width="0.6"/><circle cx="458.7" cy="497.5" r="3.2" fill="#8172b3" stroke="#fff" stroke-width="0.6"/><circle cx="458.7" cy="521.8" r="3.2" fill="#937860" stroke="#fff" stroke-width="0.6"/><circle cx="458.7" cy="514.6" r="3.0" fill="#da8bc3" stroke="#fff" stroke-width="0.6"/><circle cx="458.7" cy="518.4" r="3.1" fill="#8c8c8c" stroke="#fff" stroke-width="0.6"/><circle cx="458.7" cy="526.3" r="2.5" fill="#ccb974" stroke="#fff" stroke-width="0.6"/><text transform="translate(458.7,558.7) rotate(-45)" x="0" y="3.2" font-size="9.2" font-weight="bold" fill="#262626" text-anchor="middle" textLength="6.0" lengthAdjust="spacingAndGlyphs">7</text><circle cx="473.3" cy="521.8" r="4.7" fill="#4c72b0" stroke="#fff" stroke-width="0.6"/><circle cx="473.3" cy="516.1" r="3.3" fill="#55a868" stroke="#fff" stroke-width="0.6"/><circle cx="473.3" cy="519.5" r="3.4" fill="#c44e52" stroke="#fff" stroke-width="0.6"/><circle cx="473.3" cy="504.9" r="3.2" fill="#8172b3" stroke="#fff" stroke-width="0.6"/><circle cx="473.3" cy="508.0" r="3.2" fill="#937860" stroke="#fff" stroke-width="0.6"/><circle cx="473.3" cy="522.5" r="3.0" fill="#da8bc3" stroke="#fff" stroke-width="0.6"/><circle cx="473.3" cy="511.0" r="3.1" fill="#8c8c8c" stroke="#fff" stroke-width="0.6"/><circle cx="473.3" cy="525.8" r="2.5" fill="#ccb974" stroke="#fff" stroke-width="0.6"/><text transform="translate(473.3,558.7) rotate(-45)" x="0" y="3.2" font-size="9.2" font-weight="bold" fill="#262626" text-anchor="middle" textLength="6.0" lengthAdjust="spacingAndGlyphs">1</text><circle cx="488.0" cy="505.1" r="4.7" fill="#4c72b0" stroke="#fff" stroke-width="0.6"/><circle cx="488.0" cy="522.2" r="3.3" fill="#55a868" stroke="#fff" stroke-width="0.6"/><circle cx="488.0" cy="527.4" r="3.4" fill="#c44e52" stroke="#fff" stroke-width="0.6"/><circle cx="488.0" cy="516.8" r="3.2" fill="#8172b3" stroke="#fff" stroke-width="0.6"/><circle cx="488.0" cy="529.2" r="3.2" fill="#937860" stroke="#fff" stroke-width="0.6"/><circle cx="488.0" cy="511.2" r="2.5" fill="#ccb974" stroke="#fff" stroke-width="0.6"/><text transform="translate(488.0,560.8) rotate(-45)" x="0" y="3.2" font-size="9.2" font-weight="bold" fill="#262626" text-anchor="middle" textLength="12.0" lengthAdjust="spacingAndGlyphs">24</text><circle cx="502.6" cy="515.0" r="4.7" fill="#4c72b0" stroke="#fff" stroke-width="0.6"/><circle cx="502.6" cy="498.1" r="3.3" fill="#dd8452" stroke="#fff" stroke-width="0.6"/><circle cx="502.6" cy="522.4" r="3.4" fill="#c44e52" stroke="#fff" stroke-width="0.6"/><circle cx="502.6" cy="526.7" r="3.2" fill="#8172b3" stroke="#fff" stroke-width="0.6"/><circle cx="502.6" cy="519.5" r="3.0" fill="#da8bc3" stroke="#fff" stroke-width="0.6"/><circle cx="502.6" cy="515.0" r="3.1" fill="#8c8c8c" stroke="#fff" stroke-width="0.6"/><text transform="translate(502.6,560.8) rotate(-45)" x="0" y="3.2" font-size="9.2" font-weight="bold" fill="#262626" text-anchor="middle" textLength="12.0" lengthAdjust="spacingAndGlyphs">21</text><circle cx="517.3" cy="526.3" r="4.7" fill="#4c72b0" stroke="#fff" stroke-width="0.6"/><circle cx="517.3" cy="522.5" r="3.3" fill="#55a868" stroke="#fff" stroke-width="0.6"/><circle cx="517.3" cy="503.3" r="3.4" fill="#c44e52" stroke="#fff" stroke-width="0.6"/><circle cx="517.3" cy="507.1" r="3.2" fill="#8172b3" stroke="#fff" stroke-width="0.6"/><circle cx="517.3" cy="535.9" r="3.2" fill="#937860" stroke="#fff" stroke-width="0.6"/><circle cx="517.3" cy="516.1" r="3.0" fill="#da8bc3" stroke="#fff" stroke-width="0.6"/><circle cx="517.3" cy="519.0" r="3.1" fill="#8c8c8c" stroke="#fff" stroke-width="0.6"/><circle cx="517.3" cy="509.5" r="2.5" fill="#ccb974" stroke="#fff" stroke-width="0.6"/><text transform="translate(517.3,560.8) rotate(-45)" x="0" y="3.2" font-size="9.2" font-weight="bold" fill="#262626" text-anchor="middle" textLength="12.0" lengthAdjust="spacingAndGlyphs">25</text><circle cx="532.0" cy="521.8" r="4.7" fill="#4c72b0" stroke="#fff" stroke-width="0.6"/><circle cx="532.0" cy="530.3" r="3.3" fill="#dd8452" stroke="#fff" stroke-width="0.6"/><circle cx="532.0" cy="525.1" r="3.2" fill="#937860" stroke="#fff" stroke-width="0.6"/><circle cx="532.0" cy="520.2" r="3.0" fill="#da8bc3" stroke="#fff" stroke-width="0.6"/><circle cx="532.0" cy="506.0" r="3.1" fill="#8c8c8c" stroke="#fff" stroke-width="0.6"/><circle cx="532.0" cy="507.8" r="2.5" fill="#ccb974" stroke="#fff" stroke-width="0.6"/><text transform="translate(532.0,560.8) rotate(-45)" x="0" y="3.2" font-size="9.2" font-weight="bold" fill="#262626" text-anchor="middle" textLength="12.0" lengthAdjust="spacingAndGlyphs">11</text><circle cx="546.6" cy="510.0" r="4.7" fill="#4c72b0" stroke="#fff" stroke-width="0.6"/><circle cx="546.6" cy="524.0" r="3.3" fill="#55a868" stroke="#fff" stroke-width="0.6"/><circle cx="546.6" cy="534.1" r="3.4" fill="#c44e52" stroke="#fff" stroke-width="0.6"/><circle cx="546.6" cy="506.5" r="3.2" fill="#8172b3" stroke="#fff" stroke-width="0.6"/><circle cx="546.6" cy="529.0" r="3.2" fill="#937860" stroke="#fff" stroke-width="0.6"/><circle cx="546.6" cy="521.5" r="3.0" fill="#da8bc3" stroke="#fff" stroke-width="0.6"/><circle cx="546.6" cy="518.4" r="2.5" fill="#ccb974" stroke="#fff" stroke-width="0.6"/><text transform="translate(546.6,560.8) rotate(-45)" x="0" y="3.2" font-size="9.2" font-weight="bold" fill="#262626" text-anchor="middle" textLength="12.0" lengthAdjust="spacingAndGlyphs">15</text><circle cx="561.3" cy="527.4" r="4.7" fill="#4c72b0" stroke="#fff" stroke-width="0.6"/><circle cx="561.3" cy="516.1" r="3.3" fill="#dd8452" stroke="#fff" stroke-width="0.6"/><circle cx="561.3" cy="528.0" r="3.0" fill="#da8bc3" stroke="#fff" stroke-width="0.6"/><circle cx="561.3" cy="522.9" r="3.1" fill="#8c8c8c" stroke="#fff" stroke-width="0.6"/><circle cx="561.3" cy="517.5" r="2.5" fill="#ccb974" stroke="#fff" stroke-width="0.6"/><text transform="translate(561.3,560.8) rotate(-45)" x="0" y="3.2" font-size="9.2" font-weight="bold" fill="#262626" text-anchor="middle" textLength="12.0" lengthAdjust="spacingAndGlyphs">22</text><line x1="53.7" y1="428.7" x2="53.7" y2="546.2" stroke="#1e1e1e" stroke-width="2.4"/><line x1="52.5" y1="545.0" x2="586.0" y2="545.0" stroke="#1e1e1e" stroke-width="2.4"/><text x="319.5" y="436.9" font-size="14.00" font-weight="bold" fill="#262626" text-anchor="middle" textLength="167.0" lengthAdjust="spacingAndGlyphs">TIL Regional Fraction</text><text x="45.2" y="437.9" font-size="8.00" font-weight="bold" fill="#262626" text-anchor="end" textLength="18.7" lengthAdjust="spacingAndGlyphs">0.75</text><text x="45.2" y="459.9" font-size="8.00" font-weight="bold" fill="#262626" text-anchor="end" textLength="18.7" lengthAdjust="spacingAndGlyphs">0.50</text><text x="45.2" y="481.9" font-size="8.00" font-weight="bold" fill="#262626" text-anchor="end" textLength="18.7" lengthAdjust="spacingAndGlyphs">0.25</text><text x="45.2" y="503.9" font-size="8.00" font-weight="bold" fill="#262626" text-anchor="end" textLength="18.7" lengthAdjust="spacingAndGlyphs">0.00</text><text x="45.2" y="525.9" font-size="8.00" font-weight="bold" fill="#262626" text-anchor="end" textLength="25.3" lengthAdjust="spacingAndGlyphs">−0.25</text><text x="45.2" y="547.9" font-size="8.00" font-weight="bold" fill="#262626" text-anchor="end" textLength="25.3" lengthAdjust="spacingAndGlyphs">−0.50</text><text transform="translate(10.8,488.1) rotate(-90)" x="0" y="0" font-size="12.5" font-weight="bold" fill="#262626" text-anchor="middle">ρ</text><line x1="595.8" y1="501.1" x2="1126.3" y2="501.1" stroke="#9a9a9a" stroke-width="0.9" stroke-dasharray="2.6,1.9"/><circle cx="618.1" cy="485.3" r="4.7" fill="#4c72b0" stroke="#fff" stroke-width="0.6"/><circle cx="618.1" cy="495.4" r="3.3" fill="#55a868" stroke="#fff" stroke-width="0.6"/><circle cx="618.1" cy="472.9" r="3.2" fill="#8172b3" stroke="#fff" stroke-width="0.6"/><circle cx="618.1" cy="471.1" r="3.2" fill="#937860" stroke="#fff" stroke-width="0.6"/><circle cx="618.1" cy="476.8" r="3.0" fill="#da8bc3" stroke="#fff" stroke-width="0.6"/><circle cx="618.1" cy="480.8" r="2.5" fill="#ccb974" stroke="#fff" stroke-width="0.6"/><text transform="translate(618.1,560.8) rotate(-45)" x="0" y="3.2" font-size="9.2" font-weight="bold" fill="#262626" text-anchor="middle" textLength="12.0" lengthAdjust="spacingAndGlyphs">13</text><circle cx="632.8" cy="479.0" r="4.7" fill="#4c72b0" stroke="#fff" stroke-width="0.6"/><circle cx="632.8" cy="495.9" r="3.2" fill="#8172b3" stroke="#fff" stroke-width="0.6"/><circle cx="632.8" cy="472.9" r="3.2" fill="#937860" stroke="#fff" stroke-width="0.6"/><circle cx="632.8" cy="485.3" r="3.0" fill="#da8bc3" stroke="#fff" stroke-width="0.6"/><circle cx="632.8" cy="477.8" r="2.5" fill="#ccb974" stroke="#fff" stroke-width="0.6"/><text transform="translate(632.8,560.8) rotate(-45)" x="0" y="3.2" font-size="9.2" font-weight="bold" fill="#262626" text-anchor="middle" textLength="12.0" lengthAdjust="spacingAndGlyphs">10</text><circle cx="647.4" cy="478.3" r="4.7" fill="#4c72b0" stroke="#fff" stroke-width="0.6"/><circle cx="647.4" cy="472.9" r="3.3" fill="#dd8452" stroke="#fff" stroke-width="0.6"/><circle cx="647.4" cy="496.6" r="3.3" fill="#55a868" stroke="#fff" stroke-width="0.6"/><circle cx="647.4" cy="476.3" r="3.2" fill="#937860" stroke="#fff" stroke-width="0.6"/><circle cx="647.4" cy="480.8" r="3.0" fill="#da8bc3" stroke="#fff" stroke-width="0.6"/><circle cx="647.4" cy="482.5" r="3.1" fill="#8c8c8c" stroke="#fff" stroke-width="0.6"/><circle cx="647.4" cy="492.5" r="2.5" fill="#ccb974" stroke="#fff" stroke-width="0.6"/><text transform="translate(647.4,558.7) rotate(-45)" x="0" y="3.2" font-size="9.2" font-weight="bold" fill="#262626" text-anchor="middle" textLength="6.0" lengthAdjust="spacingAndGlyphs">8</text><circle cx="662.1" cy="479.7" r="4.7" fill="#4c72b0" stroke="#fff" stroke-width="0.6"/><circle cx="662.1" cy="505.6" r="3.3" fill="#55a868" stroke="#fff" stroke-width="0.6"/><circle cx="662.1" cy="485.8" r="3.4" fill="#c44e52" stroke="#fff" stroke-width="0.6"/><circle cx="662.1" cy="475.6" r="3.2" fill="#8172b3" stroke="#fff" stroke-width="0.6"/><circle cx="662.1" cy="489.0" r="3.2" fill="#937860" stroke="#fff" stroke-width="0.6"/><circle cx="662.1" cy="478.6" r="3.0" fill="#da8bc3" stroke="#fff" stroke-width="0.6"/><circle cx="662.1" cy="471.1" r="3.1" fill="#8c8c8c" stroke="#fff" stroke-width="0.6"/><circle cx="662.1" cy="492.0" r="2.5" fill="#ccb974" stroke="#fff" stroke-width="0.6"/><text transform="translate(662.1,558.7) rotate(-45)" x="0" y="3.2" font-size="9.2" font-weight="bold" fill="#262626" text-anchor="middle" textLength="6.0" lengthAdjust="spacingAndGlyphs">0</text><circle cx="676.7" cy="483.5" r="4.7" fill="#4c72b0" stroke="#fff" stroke-width="0.6"/><circle cx="676.7" cy="493.2" r="3.4" fill="#c44e52" stroke="#fff" stroke-width="0.6"/><circle cx="676.7" cy="478.6" r="3.0" fill="#da8bc3" stroke="#fff" stroke-width="0.6"/><circle cx="676.7" cy="502.9" r="3.1" fill="#8c8c8c" stroke="#fff" stroke-width="0.6"/><circle cx="676.7" cy="488.0" r="2.5" fill="#ccb974" stroke="#fff" stroke-width="0.6"/><text transform="translate(676.7,560.8) rotate(-45)" x="0" y="3.2" font-size="9.2" font-weight="bold" fill="#262626" text-anchor="middle" textLength="12.0" lengthAdjust="spacingAndGlyphs">14</text><circle cx="691.4" cy="495.2" r="4.7" fill="#4c72b0" stroke="#fff" stroke-width="0.6"/><circle cx="691.4" cy="495.2" r="3.2" fill="#8172b3" stroke="#fff" stroke-width="0.6"/><circle cx="691.4" cy="485.3" r="3.2" fill="#937860" stroke="#fff" stroke-width="0.6"/><circle cx="691.4" cy="491.4" r="3.0" fill="#da8bc3" stroke="#fff" stroke-width="0.6"/><circle cx="691.4" cy="478.3" r="3.1" fill="#8c8c8c" stroke="#fff" stroke-width="0.6"/><circle cx="691.4" cy="483.0" r="2.5" fill="#ccb974" stroke="#fff" stroke-width="0.6"/><text transform="translate(691.4,560.8) rotate(-45)" x="0" y="3.2" font-size="9.2" font-weight="bold" fill="#262626" text-anchor="middle" textLength="12.0" lengthAdjust="spacingAndGlyphs">18</text><circle cx="706.1" cy="489.8" r="4.7" fill="#4c72b0" stroke="#fff" stroke-width="0.6"/><circle cx="706.1" cy="491.4" r="3.2" fill="#8172b3" stroke="#fff" stroke-width="0.6"/><circle cx="706.1" cy="499.3" r="3.2" fill="#937860" stroke="#fff" stroke-width="0.6"/><circle cx="706.1" cy="497.0" r="3.0" fill="#da8bc3" stroke="#fff" stroke-width="0.6"/><circle cx="706.1" cy="489.1" r="3.1" fill="#8c8c8c" stroke="#fff" stroke-width="0.6"/><circle cx="706.1" cy="484.0" r="2.5" fill="#ccb974" stroke="#fff" stroke-width="0.6"/><text transform="translate(706.1,558.7) rotate(-45)" x="0" y="3.2" font-size="9.2" font-weight="bold" fill="#262626" text-anchor="middle" textLength="6.0" lengthAdjust="spacingAndGlyphs">3</text><circle cx="720.7" cy="486.2" r="4.7" fill="#4c72b0" stroke="#fff" stroke-width="0.6"/><circle cx="720.7" cy="485.3" r="3.3" fill="#dd8452" stroke="#fff" stroke-width="0.6"/><circle cx="720.7" cy="504.9" r="3.3" fill="#55a868" stroke="#fff" stroke-width="0.6"/><circle cx="720.7" cy="498.1" r="3.2" fill="#937860" stroke="#fff" stroke-width="0.6"/><circle cx="720.7" cy="499.3" r="3.0" fill="#da8bc3" stroke="#fff" stroke-width="0.6"/><circle cx="720.7" cy="489.1" r="3.1" fill="#8c8c8c" stroke="#fff" stroke-width="0.6"/><circle cx="720.7" cy="493.0" r="2.5" fill="#ccb974" stroke="#fff" stroke-width="0.6"/><text transform="translate(720.7,560.8) rotate(-45)" x="0" y="3.2" font-size="9.2" font-weight="bold" fill="#262626" text-anchor="middle" textLength="12.0" lengthAdjust="spacingAndGlyphs">20</text><circle cx="735.4" cy="486.9" r="4.7" fill="#4c72b0" stroke="#fff" stroke-width="0.6"/><circle cx="735.4" cy="505.6" r="3.3" fill="#55a868" stroke="#fff" stroke-width="0.6"/><circle cx="735.4" cy="493.6" r="3.4" fill="#c44e52" stroke="#fff" stroke-width="0.6"/><circle cx="735.4" cy="500.4" r="3.2" fill="#8172b3" stroke="#fff" stroke-width="0.6"/><circle cx="735.4" cy="488.5" r="3.0" fill="#da8bc3" stroke="#fff" stroke-width="0.6"/><circle cx="735.4" cy="477.9" r="3.1" fill="#8c8c8c" stroke="#fff" stroke-width="0.6"/><circle cx="735.4" cy="497.0" r="2.5" fill="#ccb974" stroke="#fff" stroke-width="0.6"/><text transform="translate(735.4,558.7) rotate(-45)" x="0" y="3.2" font-size="9.2" font-weight="bold" fill="#262626" text-anchor="middle" textLength="6.0" lengthAdjust="spacingAndGlyphs">2</text><circle cx="750.0" cy="501.5" r="4.7" fill="#4c72b0" stroke="#fff" stroke-width="0.6"/><circle cx="750.0" cy="497.5" r="3.2" fill="#8172b3" stroke="#fff" stroke-width="0.6"/><circle cx="750.0" cy="489.8" r="3.2" fill="#937860" stroke="#fff" stroke-width="0.6"/><circle cx="750.0" cy="478.6" r="3.0" fill="#da8bc3" stroke="#fff" stroke-width="0.6"/><circle cx="750.0" cy="504.2" r="3.1" fill="#8c8c8c" stroke="#fff" stroke-width="0.6"/><circle cx="750.0" cy="485.3" r="2.5" fill="#ccb974" stroke="#fff" stroke-width="0.6"/><text transform="translate(750.0,559.4) rotate(-45)" x="0" y="2.6" font-size="7.6" fill="#444" text-anchor="middle" textLength="9.2" lengthAdjust="spacingAndGlyphs">26</text><circle cx="764.7" cy="503.3" r="4.7" fill="#4c72b0" stroke="#fff" stroke-width="0.6"/><circle cx="764.7" cy="491.4" r="3.2" fill="#8172b3" stroke="#fff" stroke-width="0.6"/><circle cx="764.7" cy="485.3" r="3.2" fill="#937860" stroke="#fff" stroke-width="0.6"/><circle cx="764.7" cy="506.5" r="3.0" fill="#da8bc3" stroke="#fff" stroke-width="0.6"/><circle cx="764.7" cy="517.7" r="3.1" fill="#8c8c8c" stroke="#fff" stroke-width="0.6"/><circle cx="764.7" cy="510.5" r="2.5" fill="#ccb974" stroke="#fff" stroke-width="0.6"/><text transform="translate(764.7,560.8) rotate(-45)" x="0" y="3.2" font-size="9.2" font-weight="bold" fill="#262626" text-anchor="middle" textLength="12.0" lengthAdjust="spacingAndGlyphs">29</text><circle cx="779.4" cy="504.9" r="4.7" fill="#4c72b0" stroke="#fff" stroke-width="0.6"/><circle cx="779.4" cy="503.8" r="3.3" fill="#dd8452" stroke="#fff" stroke-width="0.6"/><circle cx="779.4" cy="497.0" r="3.2" fill="#8172b3" stroke="#fff" stroke-width="0.6"/><circle cx="779.4" cy="494.3" r="3.2" fill="#937860" stroke="#fff" stroke-width="0.6"/><circle cx="779.4" cy="478.6" r="3.0" fill="#da8bc3" stroke="#fff" stroke-width="0.6"/><circle cx="779.4" cy="500.4" r="2.5" fill="#ccb974" stroke="#fff" stroke-width="0.6"/><text transform="translate(779.4,559.4) rotate(-45)" x="0" y="2.6" font-size="7.6" fill="#444" text-anchor="middle" textLength="9.2" lengthAdjust="spacingAndGlyphs">33</text><circle cx="794.0" cy="495.9" r="4.7" fill="#4c72b0" stroke="#fff" stroke-width="0.6"/><circle cx="794.0" cy="481.9" r="3.3" fill="#dd8452" stroke="#fff" stroke-width="0.6"/><circle cx="794.0" cy="492.0" r="3.2" fill="#8172b3" stroke="#fff" stroke-width="0.6"/><circle cx="794.0" cy="503.8" r="3.2" fill="#937860" stroke="#fff" stroke-width="0.6"/><circle cx="794.0" cy="498.8" r="3.0" fill="#da8bc3" stroke="#fff" stroke-width="0.6"/><circle cx="794.0" cy="525.4" r="3.1" fill="#8c8c8c" stroke="#fff" stroke-width="0.6"/><text transform="translate(794.0,560.8) rotate(-45)" x="0" y="3.2" font-size="9.2" font-weight="bold" fill="#262626" text-anchor="middle" textLength="12.0" lengthAdjust="spacingAndGlyphs">12</text><circle cx="808.7" cy="499.9" r="4.7" fill="#4c72b0" stroke="#fff" stroke-width="0.6"/><circle cx="808.7" cy="500.4" r="3.0" fill="#da8bc3" stroke="#fff" stroke-width="0.6"/><circle cx="808.7" cy="484.0" r="3.1" fill="#8c8c8c" stroke="#fff" stroke-width="0.6"/><circle cx="808.7" cy="502.6" r="2.5" fill="#ccb974" stroke="#fff" stroke-width="0.6"/><text transform="translate(808.7,557.8) rotate(-45)" x="0" y="2.6" font-size="7.6" fill="#444" text-anchor="middle" textLength="4.6" lengthAdjust="spacingAndGlyphs">9</text><circle cx="823.3" cy="512.3" r="4.7" fill="#4c72b0" stroke="#fff" stroke-width="0.6"/><circle cx="823.3" cy="496.6" r="3.4" fill="#c44e52" stroke="#fff" stroke-width="0.6"/><circle cx="823.3" cy="488.0" r="3.2" fill="#8172b3" stroke="#fff" stroke-width="0.6"/><circle cx="823.3" cy="501.5" r="3.0" fill="#da8bc3" stroke="#fff" stroke-width="0.6"/><circle cx="823.3" cy="507.1" r="3.1" fill="#8c8c8c" stroke="#fff" stroke-width="0.6"/><text transform="translate(823.3,559.4) rotate(-45)" x="0" y="2.6" font-size="7.6" fill="#444" text-anchor="middle" textLength="9.2" lengthAdjust="spacingAndGlyphs">32</text><circle cx="838.0" cy="508.7" r="4.7" fill="#4c72b0" stroke="#fff" stroke-width="0.6"/><circle cx="838.0" cy="498.8" r="3.3" fill="#dd8452" stroke="#fff" stroke-width="0.6"/><circle cx="838.0" cy="503.8" r="3.3" fill="#55a868" stroke="#fff" stroke-width="0.6"/><circle cx="838.0" cy="511.6" r="3.2" fill="#8172b3" stroke="#fff" stroke-width="0.6"/><circle cx="838.0" cy="506.0" r="3.0" fill="#da8bc3" stroke="#fff" stroke-width="0.6"/><circle cx="838.0" cy="487.1" r="3.1" fill="#8c8c8c" stroke="#fff" stroke-width="0.6"/><circle cx="838.0" cy="492.0" r="2.5" fill="#ccb974" stroke="#fff" stroke-width="0.6"/><text transform="translate(838.0,559.4) rotate(-45)" x="0" y="2.6" font-size="7.6" fill="#444" text-anchor="middle" textLength="9.2" lengthAdjust="spacingAndGlyphs">31</text><circle cx="852.7" cy="508.7" r="4.7" fill="#4c72b0" stroke="#fff" stroke-width="0.6"/><circle cx="852.7" cy="492.0" r="3.3" fill="#55a868" stroke="#fff" stroke-width="0.6"/><circle cx="852.7" cy="498.1" r="3.4" fill="#c44e52" stroke="#fff" stroke-width="0.6"/><circle cx="852.7" cy="512.8" r="3.2" fill="#8172b3" stroke="#fff" stroke-width="0.6"/><circle cx="852.7" cy="485.3" r="3.2" fill="#937860" stroke="#fff" stroke-width="0.6"/><circle cx="852.7" cy="502.6" r="3.0" fill="#da8bc3" stroke="#fff" stroke-width="0.6"/><circle cx="852.7" cy="505.6" r="2.5" fill="#ccb974" stroke="#fff" stroke-width="0.6"/><text transform="translate(852.7,560.8) rotate(-45)" x="0" y="3.2" font-size="9.2" font-weight="bold" fill="#262626" text-anchor="middle" textLength="12.0" lengthAdjust="spacingAndGlyphs">27</text><circle cx="867.3" cy="502.6" r="4.7" fill="#4c72b0" stroke="#fff" stroke-width="0.6"/><circle cx="867.3" cy="502.6" r="3.3" fill="#dd8452" stroke="#fff" stroke-width="0.6"/><circle cx="867.3" cy="510.0" r="3.2" fill="#8172b3" stroke="#fff" stroke-width="0.6"/><circle cx="867.3" cy="508.3" r="3.2" fill="#937860" stroke="#fff" stroke-width="0.6"/><circle cx="867.3" cy="497.0" r="3.0" fill="#da8bc3" stroke="#fff" stroke-width="0.6"/><circle cx="867.3" cy="488.0" r="3.1" fill="#8c8c8c" stroke="#fff" stroke-width="0.6"/><text transform="translate(867.3,559.4) rotate(-45)" x="0" y="2.6" font-size="7.6" fill="#444" text-anchor="middle" textLength="9.2" lengthAdjust="spacingAndGlyphs">19</text><circle cx="882.0" cy="497.5" r="4.7" fill="#4c72b0" stroke="#fff" stroke-width="0.6"/><circle cx="882.0" cy="503.8" r="3.4" fill="#c44e52" stroke="#fff" stroke-width="0.6"/><circle cx="882.0" cy="481.9" r="3.2" fill="#8172b3" stroke="#fff" stroke-width="0.6"/><circle cx="882.0" cy="503.3" r="3.0" fill="#da8bc3" stroke="#fff" stroke-width="0.6"/><circle cx="882.0" cy="522.9" r="3.1" fill="#8c8c8c" stroke="#fff" stroke-width="0.6"/><circle cx="882.0" cy="498.8" r="2.5" fill="#ccb974" stroke="#fff" stroke-width="0.6"/><text transform="translate(882.0,560.8) rotate(-45)" x="0" y="3.2" font-size="9.2" font-weight="bold" fill="#262626" text-anchor="middle" textLength="12.0" lengthAdjust="spacingAndGlyphs">16</text><circle cx="896.6" cy="501.5" r="4.7" fill="#4c72b0" stroke="#fff" stroke-width="0.6"/><circle cx="896.6" cy="495.9" r="3.3" fill="#dd8452" stroke="#fff" stroke-width="0.6"/><circle cx="896.6" cy="506.5" r="3.3" fill="#55a868" stroke="#fff" stroke-width="0.6"/><circle cx="896.6" cy="502.6" r="3.2" fill="#8172b3" stroke="#fff" stroke-width="0.6"/><circle cx="896.6" cy="512.3" r="3.0" fill="#da8bc3" stroke="#fff" stroke-width="0.6"/><circle cx="896.6" cy="489.6" r="3.1" fill="#8c8c8c" stroke="#fff" stroke-width="0.6"/><circle cx="896.6" cy="508.7" r="2.5" fill="#ccb974" stroke="#fff" stroke-width="0.6"/><text transform="translate(896.6,557.8) rotate(-45)" x="0" y="2.6" font-size="7.6" fill="#444" text-anchor="middle" textLength="4.6" lengthAdjust="spacingAndGlyphs">4</text><circle cx="911.3" cy="499.3" r="4.7" fill="#4c72b0" stroke="#fff" stroke-width="0.6"/><circle cx="911.3" cy="504.9" r="3.2" fill="#8172b3" stroke="#fff" stroke-width="0.6"/><circle cx="911.3" cy="512.3" r="3.2" fill="#937860" stroke="#fff" stroke-width="0.6"/><circle cx="911.3" cy="500.0" r="3.0" fill="#da8bc3" stroke="#fff" stroke-width="0.6"/><circle cx="911.3" cy="488.5" r="3.1" fill="#8c8c8c" stroke="#fff" stroke-width="0.6"/><circle cx="911.3" cy="508.7" r="2.5" fill="#ccb974" stroke="#fff" stroke-width="0.6"/><text transform="translate(911.3,557.8) rotate(-45)" x="0" y="2.6" font-size="7.6" fill="#444" text-anchor="middle" textLength="4.6" lengthAdjust="spacingAndGlyphs">1</text><circle cx="926.0" cy="509.4" r="4.7" fill="#4c72b0" stroke="#fff" stroke-width="0.6"/><circle cx="926.0" cy="506.0" r="3.4" fill="#c44e52" stroke="#fff" stroke-width="0.6"/><circle cx="926.0" cy="503.3" r="3.2" fill="#8172b3" stroke="#fff" stroke-width="0.6"/><circle cx="926.0" cy="493.6" r="3.2" fill="#937860" stroke="#fff" stroke-width="0.6"/><circle cx="926.0" cy="515.7" r="3.0" fill="#da8bc3" stroke="#fff" stroke-width="0.6"/><circle cx="926.0" cy="517.9" r="3.1" fill="#8c8c8c" stroke="#fff" stroke-width="0.6"/><circle cx="926.0" cy="498.8" r="2.5" fill="#ccb974" stroke="#fff" stroke-width="0.6"/><text transform="translate(926.0,558.7) rotate(-45)" x="0" y="3.2" font-size="9.2" font-weight="bold" fill="#262626" text-anchor="middle" textLength="6.0" lengthAdjust="spacingAndGlyphs">5</text><circle cx="940.6" cy="501.1" r="4.7" fill="#4c72b0" stroke="#fff" stroke-width="0.6"/><circle cx="940.6" cy="492.5" r="3.3" fill="#dd8452" stroke="#fff" stroke-width="0.6"/><circle cx="940.6" cy="499.9" r="3.3" fill="#55a868" stroke="#fff" stroke-width="0.6"/><circle cx="940.6" cy="508.7" r="3.2" fill="#8172b3" stroke="#fff" stroke-width="0.6"/><circle cx="940.6" cy="517.7" r="3.2" fill="#937860" stroke="#fff" stroke-width="0.6"/><circle cx="940.6" cy="502.6" r="3.0" fill="#da8bc3" stroke="#fff" stroke-width="0.6"/><circle cx="940.6" cy="514.6" r="3.1" fill="#8c8c8c" stroke="#fff" stroke-width="0.6"/><circle cx="940.6" cy="505.6" r="2.5" fill="#ccb974" stroke="#fff" stroke-width="0.6"/><text transform="translate(940.6,559.4) rotate(-45)" x="0" y="2.6" font-size="7.6" fill="#444" text-anchor="middle" textLength="9.2" lengthAdjust="spacingAndGlyphs">28</text><circle cx="955.3" cy="504.2" r="4.7" fill="#4c72b0" stroke="#fff" stroke-width="0.6"/><circle cx="955.3" cy="512.3" r="3.3" fill="#dd8452" stroke="#fff" stroke-width="0.6"/><circle cx="955.3" cy="503.8" r="3.3" fill="#55a868" stroke="#fff" stroke-width="0.6"/><circle cx="955.3" cy="501.5" r="3.2" fill="#8172b3" stroke="#fff" stroke-width="0.6"/><circle cx="955.3" cy="518.4" r="3.2" fill="#937860" stroke="#fff" stroke-width="0.6"/><circle cx="955.3" cy="508.7" r="3.0" fill="#da8bc3" stroke="#fff" stroke-width="0.6"/><circle cx="955.3" cy="489.8" r="3.1" fill="#8c8c8c" stroke="#fff" stroke-width="0.6"/><circle cx="955.3" cy="496.1" r="2.5" fill="#ccb974" stroke="#fff" stroke-width="0.6"/><text transform="translate(955.3,560.8) rotate(-45)" x="0" y="3.2" font-size="9.2" font-weight="bold" fill="#262626" text-anchor="middle" textLength="12.0" lengthAdjust="spacingAndGlyphs">11</text><circle cx="969.9" cy="500.4" r="4.7" fill="#4c72b0" stroke="#fff" stroke-width="0.6"/><circle cx="969.9" cy="510.5" r="3.3" fill="#dd8452" stroke="#fff" stroke-width="0.6"/><circle cx="969.9" cy="521.3" r="3.2" fill="#8172b3" stroke="#fff" stroke-width="0.6"/><circle cx="969.9" cy="501.5" r="3.0" fill="#da8bc3" stroke="#fff" stroke-width="0.6"/><circle cx="969.9" cy="508.7" r="3.1" fill="#8c8c8c" stroke="#fff" stroke-width="0.6"/><text transform="translate(969.9,559.4) rotate(-45)" x="0" y="2.6" font-size="7.6" fill="#444" text-anchor="middle" textLength="9.2" lengthAdjust="spacingAndGlyphs">23</text><circle cx="984.6" cy="507.1" r="4.7" fill="#4c72b0" stroke="#fff" stroke-width="0.6"/><circle cx="984.6" cy="499.3" r="3.3" fill="#dd8452" stroke="#fff" stroke-width="0.6"/><circle cx="984.6" cy="521.3" r="3.0" fill="#da8bc3" stroke="#fff" stroke-width="0.6"/><circle cx="984.6" cy="510.5" r="3.1" fill="#8c8c8c" stroke="#fff" stroke-width="0.6"/><circle cx="984.6" cy="503.8" r="2.5" fill="#ccb974" stroke="#fff" stroke-width="0.6"/><text transform="translate(984.6,559.4) rotate(-45)" x="0" y="2.6" font-size="7.6" fill="#444" text-anchor="middle" textLength="9.2" lengthAdjust="spacingAndGlyphs">17</text><circle cx="999.3" cy="510.5" r="4.7" fill="#4c72b0" stroke="#fff" stroke-width="0.6"/><circle cx="999.3" cy="511.6" r="3.3" fill="#dd8452" stroke="#fff" stroke-width="0.6"/><circle cx="999.3" cy="501.5" r="3.3" fill="#55a868" stroke="#fff" stroke-width="0.6"/><circle cx="999.3" cy="505.6" r="3.4" fill="#c44e52" stroke="#fff" stroke-width="0.6"/><circle cx="999.3" cy="514.6" r="3.2" fill="#8172b3" stroke="#fff" stroke-width="0.6"/><circle cx="999.3" cy="522.4" r="3.2" fill="#937860" stroke="#fff" stroke-width="0.6"/><circle cx="999.3" cy="496.6" r="3.0" fill="#da8bc3" stroke="#fff" stroke-width="0.6"/><text transform="translate(999.3,560.8) rotate(-45)" x="0" y="3.2" font-size="9.2" font-weight="bold" fill="#262626" text-anchor="middle" textLength="12.0" lengthAdjust="spacingAndGlyphs">25</text><circle cx="1013.9" cy="502.6" r="4.7" fill="#4c72b0" stroke="#fff" stroke-width="0.6"/><circle cx="1013.9" cy="516.1" r="3.3" fill="#dd8452" stroke="#fff" stroke-width="0.6"/><circle cx="1013.9" cy="496.6" r="3.2" fill="#8172b3" stroke="#fff" stroke-width="0.6"/><circle cx="1013.9" cy="511.6" r="3.2" fill="#937860" stroke="#fff" stroke-width="0.6"/><circle cx="1013.9" cy="508.3" r="3.0" fill="#da8bc3" stroke="#fff" stroke-width="0.6"/><circle cx="1013.9" cy="505.0" r="2.5" fill="#ccb974" stroke="#fff" stroke-width="0.6"/><text transform="translate(1013.9,560.8) rotate(-45)" x="0" y="3.2" font-size="9.2" font-weight="bold" fill="#262626" text-anchor="middle" textLength="12.0" lengthAdjust="spacingAndGlyphs">24</text><circle cx="1028.6" cy="512.8" r="4.7" fill="#4c72b0" stroke="#fff" stroke-width="0.6"/><circle cx="1028.6" cy="517.9" r="3.3" fill="#dd8452" stroke="#fff" stroke-width="0.6"/><circle cx="1028.6" cy="508.3" r="3.4" fill="#c44e52" stroke="#fff" stroke-width="0.6"/><circle cx="1028.6" cy="512.8" r="3.0" fill="#da8bc3" stroke="#fff" stroke-width="0.6"/><circle cx="1028.6" cy="502.6" r="3.1" fill="#8c8c8c" stroke="#fff" stroke-width="0.6"/><circle cx="1028.6" cy="506.0" r="2.5" fill="#ccb974" stroke="#fff" stroke-width="0.6"/><text transform="translate(1028.6,560.8) rotate(-45)" x="0" y="3.2" font-size="9.2" font-weight="bold" fill="#262626" text-anchor="middle" textLength="12.0" lengthAdjust="spacingAndGlyphs">15</text><circle cx="1043.2" cy="511.2" r="4.7" fill="#4c72b0" stroke="#fff" stroke-width="0.6"/><circle cx="1043.2" cy="513.9" r="3.3" fill="#dd8452" stroke="#fff" stroke-width="0.6"/><circle cx="1043.2" cy="506.5" r="3.4" fill="#c44e52" stroke="#fff" stroke-width="0.6"/><circle cx="1043.2" cy="521.8" r="3.2" fill="#8172b3" stroke="#fff" stroke-width="0.6"/><circle cx="1043.2" cy="496.3" r="3.2" fill="#937860" stroke="#fff" stroke-width="0.6"/><circle cx="1043.2" cy="526.9" r="3.0" fill="#da8bc3" stroke="#fff" stroke-width="0.6"/><circle cx="1043.2" cy="511.6" r="3.1" fill="#8c8c8c" stroke="#fff" stroke-width="0.6"/><text transform="translate(1043.2,560.8) rotate(-45)" x="0" y="3.2" font-size="9.2" font-weight="bold" fill="#262626" text-anchor="middle" textLength="12.0" lengthAdjust="spacingAndGlyphs">30</text><circle cx="1057.9" cy="512.3" r="4.7" fill="#4c72b0" stroke="#fff" stroke-width="0.6"/><circle cx="1057.9" cy="507.8" r="3.3" fill="#55a868" stroke="#fff" stroke-width="0.6"/><circle cx="1057.9" cy="519.5" r="3.2" fill="#8172b3" stroke="#fff" stroke-width="0.6"/><circle cx="1057.9" cy="508.7" r="3.0" fill="#da8bc3" stroke="#fff" stroke-width="0.6"/><circle cx="1057.9" cy="512.8" r="2.5" fill="#ccb974" stroke="#fff" stroke-width="0.6"/><text transform="translate(1057.9,560.8) rotate(-45)" x="0" y="3.2" font-size="9.2" font-weight="bold" fill="#262626" text-anchor="middle" textLength="12.0" lengthAdjust="spacingAndGlyphs">22</text><circle cx="1072.6" cy="510.5" r="4.7" fill="#4c72b0" stroke="#fff" stroke-width="0.6"/><circle cx="1072.6" cy="497.0" r="3.3" fill="#55a868" stroke="#fff" stroke-width="0.6"/><circle cx="1072.6" cy="510.5" r="3.4" fill="#c44e52" stroke="#fff" stroke-width="0.6"/><circle cx="1072.6" cy="506.5" r="3.2" fill="#937860" stroke="#fff" stroke-width="0.6"/><circle cx="1072.6" cy="526.7" r="3.1" fill="#8c8c8c" stroke="#fff" stroke-width="0.6"/><circle cx="1072.6" cy="515.7" r="2.5" fill="#ccb974" stroke="#fff" stroke-width="0.6"/><text transform="translate(1072.6,558.7) rotate(-45)" x="0" y="3.2" font-size="9.2" font-weight="bold" fill="#262626" text-anchor="middle" textLength="6.0" lengthAdjust="spacingAndGlyphs">6</text><circle cx="1087.2" cy="512.8" r="4.7" fill="#4c72b0" stroke="#fff" stroke-width="0.6"/><circle cx="1087.2" cy="506.0" r="3.3" fill="#55a868" stroke="#fff" stroke-width="0.6"/><circle cx="1087.2" cy="519.0" r="3.4" fill="#c44e52" stroke="#fff" stroke-width="0.6"/><circle cx="1087.2" cy="511.6" r="3.2" fill="#8172b3" stroke="#fff" stroke-width="0.6"/><circle cx="1087.2" cy="523.6" r="3.0" fill="#da8bc3" stroke="#fff" stroke-width="0.6"/><circle cx="1087.2" cy="516.1" r="2.5" fill="#ccb974" stroke="#fff" stroke-width="0.6"/><text transform="translate(1087.2,558.7) rotate(-45)" x="0" y="3.2" font-size="9.2" font-weight="bold" fill="#262626" text-anchor="middle" textLength="6.0" lengthAdjust="spacingAndGlyphs">7</text><circle cx="1101.9" cy="522.2" r="4.7" fill="#4c72b0" stroke="#fff" stroke-width="0.6"/><circle cx="1101.9" cy="513.9" r="3.3" fill="#dd8452" stroke="#fff" stroke-width="0.6"/><circle cx="1101.9" cy="509.8" r="3.3" fill="#55a868" stroke="#fff" stroke-width="0.6"/><circle cx="1101.9" cy="503.1" r="3.2" fill="#8172b3" stroke="#fff" stroke-width="0.6"/><circle cx="1101.9" cy="511.6" r="3.2" fill="#937860" stroke="#fff" stroke-width="0.6"/><circle cx="1101.9" cy="516.1" r="3.0" fill="#da8bc3" stroke="#fff" stroke-width="0.6"/><circle cx="1101.9" cy="528.5" r="3.1" fill="#8c8c8c" stroke="#fff" stroke-width="0.6"/><circle cx="1101.9" cy="524.6" r="2.5" fill="#ccb974" stroke="#fff" stroke-width="0.6"/><text transform="translate(1101.9,560.8) rotate(-45)" x="0" y="3.2" font-size="9.2" font-weight="bold" fill="#262626" text-anchor="middle" textLength="12.0" lengthAdjust="spacingAndGlyphs">21</text><line x1="594.3" y1="428.7" x2="594.3" y2="546.2" stroke="#1e1e1e" stroke-width="2.4"/><line x1="593.1" y1="545.0" x2="1126.6" y2="545.0" stroke="#1e1e1e" stroke-width="2.4"/><text x="859.5" y="436.6" font-size="14.00" font-weight="bold" fill="#262626" text-anchor="middle" textLength="188.1" lengthAdjust="spacingAndGlyphs">Macrophage Regulation</text><line x1="55.2" y1="652.5" x2="585.7" y2="652.5" stroke="#9a9a9a" stroke-width="0.9" stroke-dasharray="2.6,1.9"/><circle cx="77.5" cy="624.4" r="4.7" fill="#4c72b0" stroke="#fff" stroke-width="0.6"/><circle cx="77.5" cy="635.6" r="3.4" fill="#c44e52" stroke="#fff" stroke-width="0.6"/><circle cx="77.5" cy="638.6" r="3.2" fill="#8172b3" stroke="#fff" stroke-width="0.6"/><circle cx="77.5" cy="642.4" r="3.2" fill="#937860" stroke="#fff" stroke-width="0.6"/><circle cx="77.5" cy="618.8" r="3.0" fill="#da8bc3" stroke="#fff" stroke-width="0.6"/><circle cx="77.5" cy="652.5" r="3.1" fill="#8c8c8c" stroke="#fff" stroke-width="0.6"/><circle cx="77.5" cy="631.1" r="2.5" fill="#ccb974" stroke="#fff" stroke-width="0.6"/><text transform="translate(77.5,712.5) rotate(-45)" x="0" y="3.2" font-size="9.2" font-weight="bold" fill="#262626" text-anchor="middle" textLength="12.0" lengthAdjust="spacingAndGlyphs">16</text><circle cx="92.2" cy="612.0" r="4.7" fill="#4c72b0" stroke="#fff" stroke-width="0.6"/><circle cx="92.2" cy="618.3" r="3.3" fill="#dd8452" stroke="#fff" stroke-width="0.6"/><circle cx="92.2" cy="644.6" r="3.3" fill="#55a868" stroke="#fff" stroke-width="0.6"/><circle cx="92.2" cy="648.5" r="3.2" fill="#8172b3" stroke="#fff" stroke-width="0.6"/><circle cx="92.2" cy="621.7" r="3.0" fill="#da8bc3" stroke="#fff" stroke-width="0.6"/><circle cx="92.2" cy="641.7" r="3.1" fill="#8c8c8c" stroke="#fff" stroke-width="0.6"/><circle cx="92.2" cy="651.4" r="2.5" fill="#ccb974" stroke="#fff" stroke-width="0.6"/><text transform="translate(92.2,710.4) rotate(-45)" x="0" y="3.2" font-size="9.2" font-weight="bold" fill="#262626" text-anchor="middle" textLength="6.0" lengthAdjust="spacingAndGlyphs">3</text><circle cx="106.8" cy="637.2" r="4.7" fill="#4c72b0" stroke="#fff" stroke-width="0.6"/><circle cx="106.8" cy="635.0" r="3.3" fill="#dd8452" stroke="#fff" stroke-width="0.6"/><circle cx="106.8" cy="643.1" r="3.3" fill="#55a868" stroke="#fff" stroke-width="0.6"/><circle cx="106.8" cy="647.6" r="3.2" fill="#8172b3" stroke="#fff" stroke-width="0.6"/><circle cx="106.8" cy="649.8" r="3.2" fill="#937860" stroke="#fff" stroke-width="0.6"/><circle cx="106.8" cy="637.9" r="3.0" fill="#da8bc3" stroke="#fff" stroke-width="0.6"/><circle cx="106.8" cy="627.3" r="2.5" fill="#ccb974" stroke="#fff" stroke-width="0.6"/><text transform="translate(106.8,712.5) rotate(-45)" x="0" y="3.2" font-size="9.2" font-weight="bold" fill="#262626" text-anchor="middle" textLength="12.0" lengthAdjust="spacingAndGlyphs">14</text><circle cx="121.5" cy="631.6" r="4.7" fill="#4c72b0" stroke="#fff" stroke-width="0.6"/><circle cx="121.5" cy="645.8" r="3.4" fill="#c44e52" stroke="#fff" stroke-width="0.6"/><circle cx="121.5" cy="639.5" r="3.2" fill="#8172b3" stroke="#fff" stroke-width="0.6"/><circle cx="121.5" cy="650.7" r="3.2" fill="#937860" stroke="#fff" stroke-width="0.6"/><circle cx="121.5" cy="629.3" r="3.0" fill="#da8bc3" stroke="#fff" stroke-width="0.6"/><circle cx="121.5" cy="654.3" r="3.1" fill="#8c8c8c" stroke="#fff" stroke-width="0.6"/><circle cx="121.5" cy="643.1" r="2.5" fill="#ccb974" stroke="#fff" stroke-width="0.6"/><text transform="translate(121.5,712.5) rotate(-45)" x="0" y="3.2" font-size="9.2" font-weight="bold" fill="#262626" text-anchor="middle" textLength="12.0" lengthAdjust="spacingAndGlyphs">12</text><circle cx="136.1" cy="622.8" r="4.7" fill="#4c72b0" stroke="#fff" stroke-width="0.6"/><circle cx="136.1" cy="622.8" r="3.3" fill="#dd8452" stroke="#fff" stroke-width="0.6"/><circle cx="136.1" cy="643.1" r="3.3" fill="#55a868" stroke="#fff" stroke-width="0.6"/><circle cx="136.1" cy="659.9" r="3.4" fill="#c44e52" stroke="#fff" stroke-width="0.6"/><circle cx="136.1" cy="649.8" r="3.2" fill="#8172b3" stroke="#fff" stroke-width="0.6"/><circle cx="136.1" cy="644.0" r="3.0" fill="#da8bc3" stroke="#fff" stroke-width="0.6"/><circle cx="136.1" cy="637.2" r="3.1" fill="#8c8c8c" stroke="#fff" stroke-width="0.6"/><circle cx="136.1" cy="654.3" r="2.5" fill="#ccb974" stroke="#fff" stroke-width="0.6"/><text transform="translate(136.1,712.5) rotate(-45)" x="0" y="3.2" font-size="9.2" font-weight="bold" fill="#262626" text-anchor="middle" textLength="12.0" lengthAdjust="spacingAndGlyphs">18</text><circle cx="150.8" cy="630.0" r="4.7" fill="#4c72b0" stroke="#fff" stroke-width="0.6"/><circle cx="150.8" cy="640.8" r="3.3" fill="#dd8452" stroke="#fff" stroke-width="0.6"/><circle cx="150.8" cy="652.5" r="3.3" fill="#55a868" stroke="#fff" stroke-width="0.6"/><circle cx="150.8" cy="623.7" r="3.0" fill="#da8bc3" stroke="#fff" stroke-width="0.6"/><circle cx="150.8" cy="645.8" r="3.1" fill="#8c8c8c" stroke="#fff" stroke-width="0.6"/><circle cx="150.8" cy="657.0" r="2.5" fill="#ccb974" stroke="#fff" stroke-width="0.6"/><text transform="translate(150.8,712.5) rotate(-45)" x="0" y="3.2" font-size="9.2" font-weight="bold" fill="#262626" text-anchor="middle" textLength="12.0" lengthAdjust="spacingAndGlyphs">15</text><circle cx="165.5" cy="629.3" r="4.7" fill="#4c72b0" stroke="#fff" stroke-width="0.6"/><circle cx="165.5" cy="644.6" r="3.2" fill="#8172b3" stroke="#fff" stroke-width="0.6"/><circle cx="165.5" cy="650.3" r="3.2" fill="#937860" stroke="#fff" stroke-width="0.6"/><circle cx="165.5" cy="621.0" r="3.0" fill="#da8bc3" stroke="#fff" stroke-width="0.6"/><circle cx="165.5" cy="659.3" r="3.1" fill="#8c8c8c" stroke="#fff" stroke-width="0.6"/><circle cx="165.5" cy="646.8" r="2.5" fill="#ccb974" stroke="#fff" stroke-width="0.6"/><text transform="translate(165.5,710.4) rotate(-45)" x="0" y="3.2" font-size="9.2" font-weight="bold" fill="#262626" text-anchor="middle" textLength="6.0" lengthAdjust="spacingAndGlyphs">5</text><circle cx="180.1" cy="629.1" r="4.7" fill="#4c72b0" stroke="#fff" stroke-width="0.6"/><circle cx="180.1" cy="644.6" r="3.3" fill="#55a868" stroke="#fff" stroke-width="0.6"/><circle cx="180.1" cy="654.3" r="3.2" fill="#8172b3" stroke="#fff" stroke-width="0.6"/><circle cx="180.1" cy="648.0" r="3.0" fill="#da8bc3" stroke="#fff" stroke-width="0.6"/><circle cx="180.1" cy="637.2" r="3.1" fill="#8c8c8c" stroke="#fff" stroke-width="0.6"/><text transform="translate(180.1,712.5) rotate(-45)" x="0" y="3.2" font-size="9.2" font-weight="bold" fill="#262626" text-anchor="middle" textLength="12.0" lengthAdjust="spacingAndGlyphs">10</text><circle cx="194.8" cy="633.4" r="4.7" fill="#4c72b0" stroke="#fff" stroke-width="0.6"/><circle cx="194.8" cy="661.5" r="3.4" fill="#c44e52" stroke="#fff" stroke-width="0.6"/><circle cx="194.8" cy="643.5" r="3.2" fill="#8172b3" stroke="#fff" stroke-width="0.6"/><circle cx="194.8" cy="654.3" r="3.2" fill="#937860" stroke="#fff" stroke-width="0.6"/><circle cx="194.8" cy="648.5" r="3.0" fill="#da8bc3" stroke="#fff" stroke-width="0.6"/><circle cx="194.8" cy="639.0" r="3.1" fill="#8c8c8c" stroke="#fff" stroke-width="0.6"/><circle cx="194.8" cy="645.8" r="2.5" fill="#ccb974" stroke="#fff" stroke-width="0.6"/><text transform="translate(194.8,712.5) rotate(-45)" x="0" y="3.2" font-size="9.2" font-weight="bold" fill="#262626" text-anchor="middle" textLength="12.0" lengthAdjust="spacingAndGlyphs">13</text><circle cx="209.4" cy="651.4" r="4.7" fill="#4c72b0" stroke="#fff" stroke-width="0.6"/><circle cx="209.4" cy="628.4" r="3.3" fill="#dd8452" stroke="#fff" stroke-width="0.6"/><circle cx="209.4" cy="644.0" r="3.4" fill="#c44e52" stroke="#fff" stroke-width="0.6"/><circle cx="209.4" cy="640.8" r="3.2" fill="#937860" stroke="#fff" stroke-width="0.6"/><circle cx="209.4" cy="657.5" r="3.0" fill="#da8bc3" stroke="#fff" stroke-width="0.6"/><circle cx="209.4" cy="655.2" r="2.5" fill="#ccb974" stroke="#fff" stroke-width="0.6"/><text transform="translate(209.4,712.5) rotate(-45)" x="0" y="3.2" font-size="9.2" font-weight="bold" fill="#262626" text-anchor="middle" textLength="12.0" lengthAdjust="spacingAndGlyphs">23</text><circle cx="224.1" cy="660.4" r="4.7" fill="#4c72b0" stroke="#fff" stroke-width="0.6"/><circle cx="224.1" cy="641.7" r="3.3" fill="#dd8452" stroke="#fff" stroke-width="0.6"/><circle cx="224.1" cy="638.6" r="3.4" fill="#c44e52" stroke="#fff" stroke-width="0.6"/><circle cx="224.1" cy="650.3" r="3.2" fill="#937860" stroke="#fff" stroke-width="0.6"/><circle cx="224.1" cy="644.6" r="3.0" fill="#da8bc3" stroke="#fff" stroke-width="0.6"/><circle cx="224.1" cy="657.0" r="3.1" fill="#8c8c8c" stroke="#fff" stroke-width="0.6"/><text transform="translate(224.1,711.1) rotate(-45)" x="0" y="2.6" font-size="7.6" fill="#444" text-anchor="middle" textLength="9.2" lengthAdjust="spacingAndGlyphs">26</text><circle cx="238.8" cy="655.2" r="4.7" fill="#4c72b0" stroke="#fff" stroke-width="0.6"/><circle cx="238.8" cy="656.0" r="3.3" fill="#dd8452" stroke="#fff" stroke-width="0.6"/><circle cx="238.8" cy="650.3" r="3.2" fill="#8172b3" stroke="#fff" stroke-width="0.6"/><circle cx="238.8" cy="662.6" r="3.2" fill="#937860" stroke="#fff" stroke-width="0.6"/><circle cx="238.8" cy="635.0" r="3.0" fill="#da8bc3" stroke="#fff" stroke-width="0.6"/><circle cx="238.8" cy="660.4" r="3.1" fill="#8c8c8c" stroke="#fff" stroke-width="0.6"/><circle cx="238.8" cy="645.8" r="2.5" fill="#ccb974" stroke="#fff" stroke-width="0.6"/><text transform="translate(238.8,712.5) rotate(-45)" x="0" y="3.2" font-size="9.2" font-weight="bold" fill="#262626" text-anchor="middle" textLength="12.0" lengthAdjust="spacingAndGlyphs">21</text><circle cx="253.4" cy="645.8" r="4.7" fill="#4c72b0" stroke="#fff" stroke-width="0.6"/><circle cx="253.4" cy="662.6" r="3.3" fill="#dd8452" stroke="#fff" stroke-width="0.6"/><circle cx="253.4" cy="639.0" r="3.3" fill="#55a868" stroke="#fff" stroke-width="0.6"/><circle cx="253.4" cy="654.3" r="3.2" fill="#8172b3" stroke="#fff" stroke-width="0.6"/><circle cx="253.4" cy="649.1" r="3.2" fill="#937860" stroke="#fff" stroke-width="0.6"/><circle cx="253.4" cy="661.5" r="3.0" fill="#da8bc3" stroke="#fff" stroke-width="0.6"/><circle cx="253.4" cy="643.5" r="2.5" fill="#ccb974" stroke="#fff" stroke-width="0.6"/><text transform="translate(253.4,709.5) rotate(-45)" x="0" y="2.6" font-size="7.6" fill="#444" text-anchor="middle" textLength="4.6" lengthAdjust="spacingAndGlyphs">8</text><circle cx="268.1" cy="642.4" r="4.7" fill="#4c72b0" stroke="#fff" stroke-width="0.6"/><circle cx="268.1" cy="649.1" r="3.3" fill="#55a868" stroke="#fff" stroke-width="0.6"/><circle cx="268.1" cy="659.3" r="3.2" fill="#8172b3" stroke="#fff" stroke-width="0.6"/><circle cx="268.1" cy="644.6" r="3.0" fill="#da8bc3" stroke="#fff" stroke-width="0.6"/><circle cx="268.1" cy="652.5" r="2.5" fill="#ccb974" stroke="#fff" stroke-width="0.6"/><text transform="translate(268.1,711.1) rotate(-45)" x="0" y="2.6" font-size="7.6" fill="#444" text-anchor="middle" textLength="9.2" lengthAdjust="spacingAndGlyphs">24</text><circle cx="282.7" cy="638.6" r="4.7" fill="#4c72b0" stroke="#fff" stroke-width="0.6"/><circle cx="282.7" cy="668.9" r="3.3" fill="#dd8452" stroke="#fff" stroke-width="0.6"/><circle cx="282.7" cy="665.6" r="3.3" fill="#55a868" stroke="#fff" stroke-width="0.6"/><circle cx="282.7" cy="648.0" r="3.2" fill="#937860" stroke="#fff" stroke-width="0.6"/><circle cx="282.7" cy="638.6" r="3.0" fill="#da8bc3" stroke="#fff" stroke-width="0.6"/><circle cx="282.7" cy="650.3" r="3.1" fill="#8c8c8c" stroke="#fff" stroke-width="0.6"/><circle cx="282.7" cy="657.5" r="2.5" fill="#ccb974" stroke="#fff" stroke-width="0.6"/><text transform="translate(282.7,712.5) rotate(-45)" x="0" y="3.2" font-size="9.2" font-weight="bold" fill="#262626" text-anchor="middle" textLength="12.0" lengthAdjust="spacingAndGlyphs">29</text><circle cx="297.4" cy="649.1" r="4.7" fill="#4c72b0" stroke="#fff" stroke-width="0.6"/><circle cx="297.4" cy="674.6" r="3.3" fill="#dd8452" stroke="#fff" stroke-width="0.6"/><circle cx="297.4" cy="670.5" r="3.3" fill="#55a868" stroke="#fff" stroke-width="0.6"/><circle cx="297.4" cy="646.9" r="3.4" fill="#c44e52" stroke="#fff" stroke-width="0.6"/><circle cx="297.4" cy="626.0" r="3.0" fill="#da8bc3" stroke="#fff" stroke-width="0.6"/><circle cx="297.4" cy="653.6" r="3.1" fill="#8c8c8c" stroke="#fff" stroke-width="0.6"/><circle cx="297.4" cy="658.1" r="2.5" fill="#ccb974" stroke="#fff" stroke-width="0.6"/><text transform="translate(297.4,710.4) rotate(-45)" x="0" y="3.2" font-size="9.2" font-weight="bold" fill="#262626" text-anchor="middle" textLength="6.0" lengthAdjust="spacingAndGlyphs">7</text><circle cx="312.1" cy="645.8" r="4.7" fill="#4c72b0" stroke="#fff" stroke-width="0.6"/><circle cx="312.1" cy="633.8" r="3.3" fill="#dd8452" stroke="#fff" stroke-width="0.6"/><circle cx="312.1" cy="658.1" r="3.2" fill="#8172b3" stroke="#fff" stroke-width="0.6"/><circle cx="312.1" cy="649.8" r="3.2" fill="#937860" stroke="#fff" stroke-width="0.6"/><circle cx="312.1" cy="675.0" r="3.0" fill="#da8bc3" stroke="#fff" stroke-width="0.6"/><circle cx="312.1" cy="644.6" r="3.1" fill="#8c8c8c" stroke="#fff" stroke-width="0.6"/><circle cx="312.1" cy="655.2" r="2.5" fill="#ccb974" stroke="#fff" stroke-width="0.6"/><text transform="translate(312.1,710.4) rotate(-45)" x="0" y="3.2" font-size="9.2" font-weight="bold" fill="#262626" text-anchor="middle" textLength="6.0" lengthAdjust="spacingAndGlyphs">0</text><circle cx="326.7" cy="654.3" r="4.7" fill="#4c72b0" stroke="#fff" stroke-width="0.6"/><circle cx="326.7" cy="662.2" r="3.3" fill="#dd8452" stroke="#fff" stroke-width="0.6"/><circle cx="326.7" cy="648.5" r="3.0" fill="#da8bc3" stroke="#fff" stroke-width="0.6"/><circle cx="326.7" cy="658.8" r="3.1" fill="#8c8c8c" stroke="#fff" stroke-width="0.6"/><text transform="translate(326.7,711.1) rotate(-45)" x="0" y="2.6" font-size="7.6" fill="#444" text-anchor="middle" textLength="9.2" lengthAdjust="spacingAndGlyphs">28</text><circle cx="341.4" cy="655.9" r="4.7" fill="#4c72b0" stroke="#fff" stroke-width="0.6"/><circle cx="341.4" cy="666.5" r="3.3" fill="#dd8452" stroke="#fff" stroke-width="0.6"/><circle cx="341.4" cy="657.0" r="3.4" fill="#c44e52" stroke="#fff" stroke-width="0.6"/><circle cx="341.4" cy="644.6" r="3.2" fill="#8172b3" stroke="#fff" stroke-width="0.6"/><circle cx="341.4" cy="648.0" r="3.2" fill="#937860" stroke="#fff" stroke-width="0.6"/><circle cx="341.4" cy="660.4" r="2.5" fill="#ccb974" stroke="#fff" stroke-width="0.6"/><text transform="translate(341.4,711.1) rotate(-45)" x="0" y="2.6" font-size="7.6" fill="#444" text-anchor="middle" textLength="9.2" lengthAdjust="spacingAndGlyphs">17</text><circle cx="356.0" cy="662.6" r="4.7" fill="#4c72b0" stroke="#fff" stroke-width="0.6"/><circle cx="356.0" cy="663.8" r="3.3" fill="#dd8452" stroke="#fff" stroke-width="0.6"/><circle cx="356.0" cy="648.5" r="3.2" fill="#8172b3" stroke="#fff" stroke-width="0.6"/><circle cx="356.0" cy="653.0" r="3.2" fill="#937860" stroke="#fff" stroke-width="0.6"/><circle cx="356.0" cy="632.7" r="3.0" fill="#da8bc3" stroke="#fff" stroke-width="0.6"/><circle cx="356.0" cy="660.4" r="3.1" fill="#8c8c8c" stroke="#fff" stroke-width="0.6"/><text transform="translate(356.0,712.5) rotate(-45)" x="0" y="3.2" font-size="9.2" font-weight="bold" fill="#262626" text-anchor="middle" textLength="12.0" lengthAdjust="spacingAndGlyphs">30</text><circle cx="370.7" cy="677.7" r="4.7" fill="#4c72b0" stroke="#fff" stroke-width="0.6"/><circle cx="370.7" cy="641.7" r="3.3" fill="#55a868" stroke="#fff" stroke-width="0.6"/><circle cx="370.7" cy="643.5" r="3.4" fill="#c44e52" stroke="#fff" stroke-width="0.6"/><circle cx="370.7" cy="657.7" r="3.0" fill="#da8bc3" stroke="#fff" stroke-width="0.6"/><circle cx="370.7" cy="654.3" r="2.5" fill="#ccb974" stroke="#fff" stroke-width="0.6"/><text transform="translate(370.7,712.5) rotate(-45)" x="0" y="3.2" font-size="9.2" font-weight="bold" fill="#262626" text-anchor="middle" textLength="12.0" lengthAdjust="spacingAndGlyphs">22</text><circle cx="385.4" cy="659.3" r="4.7" fill="#4c72b0" stroke="#fff" stroke-width="0.6"/><circle cx="385.4" cy="662.5" r="3.3" fill="#dd8452" stroke="#fff" stroke-width="0.6"/><circle cx="385.4" cy="654.8" r="3.3" fill="#55a868" stroke="#fff" stroke-width="0.6"/><circle cx="385.4" cy="645.8" r="3.2" fill="#8172b3" stroke="#fff" stroke-width="0.6"/><circle cx="385.4" cy="651.4" r="3.2" fill="#937860" stroke="#fff" stroke-width="0.6"/><circle cx="385.4" cy="666.7" r="3.0" fill="#da8bc3" stroke="#fff" stroke-width="0.6"/><circle cx="385.4" cy="647.5" r="2.5" fill="#ccb974" stroke="#fff" stroke-width="0.6"/><text transform="translate(385.4,711.1) rotate(-45)" x="0" y="2.6" font-size="7.6" fill="#444" text-anchor="middle" textLength="9.2" lengthAdjust="spacingAndGlyphs">32</text><circle cx="400.0" cy="663.8" r="4.7" fill="#4c72b0" stroke="#fff" stroke-width="0.6"/><circle cx="400.0" cy="675.5" r="3.3" fill="#dd8452" stroke="#fff" stroke-width="0.6"/><circle cx="400.0" cy="656.6" r="3.2" fill="#8172b3" stroke="#fff" stroke-width="0.6"/><circle cx="400.0" cy="644.6" r="3.0" fill="#da8bc3" stroke="#fff" stroke-width="0.6"/><circle cx="400.0" cy="660.4" r="3.1" fill="#8c8c8c" stroke="#fff" stroke-width="0.6"/><circle cx="400.0" cy="650.3" r="2.5" fill="#ccb974" stroke="#fff" stroke-width="0.6"/><text transform="translate(400.0,710.4) rotate(-45)" x="0" y="3.2" font-size="9.2" font-weight="bold" fill="#262626" text-anchor="middle" textLength="6.0" lengthAdjust="spacingAndGlyphs">6</text><circle cx="414.7" cy="659.7" r="4.7" fill="#4c72b0" stroke="#fff" stroke-width="0.6"/><circle cx="414.7" cy="649.8" r="3.3" fill="#dd8452" stroke="#fff" stroke-width="0.6"/><circle cx="414.7" cy="646.9" r="3.3" fill="#55a868" stroke="#fff" stroke-width="0.6"/><circle cx="414.7" cy="664.4" r="3.4" fill="#c44e52" stroke="#fff" stroke-width="0.6"/><circle cx="414.7" cy="661.0" r="3.2" fill="#8172b3" stroke="#fff" stroke-width="0.6"/><circle cx="414.7" cy="677.9" r="3.0" fill="#da8bc3" stroke="#fff" stroke-width="0.6"/><circle cx="414.7" cy="654.8" r="2.5" fill="#ccb974" stroke="#fff" stroke-width="0.6"/><text transform="translate(414.7,712.5) rotate(-45)" x="0" y="3.2" font-size="9.2" font-weight="bold" fill="#262626" text-anchor="middle" textLength="12.0" lengthAdjust="spacingAndGlyphs">11</text><circle cx="429.3" cy="673.4" r="4.7" fill="#4c72b0" stroke="#fff" stroke-width="0.6"/><circle cx="429.3" cy="648.5" r="3.4" fill="#c44e52" stroke="#fff" stroke-width="0.6"/><circle cx="429.3" cy="655.2" r="3.2" fill="#8172b3" stroke="#fff" stroke-width="0.6"/><circle cx="429.3" cy="660.4" r="3.2" fill="#937860" stroke="#fff" stroke-width="0.6"/><circle cx="429.3" cy="665.6" r="3.0" fill="#da8bc3" stroke="#fff" stroke-width="0.6"/><circle cx="429.3" cy="661.1" r="3.1" fill="#8c8c8c" stroke="#fff" stroke-width="0.6"/><circle cx="429.3" cy="650.3" r="2.5" fill="#ccb974" stroke="#fff" stroke-width="0.6"/><text transform="translate(429.3,712.5) rotate(-45)" x="0" y="3.2" font-size="9.2" font-weight="bold" fill="#262626" text-anchor="middle" textLength="12.0" lengthAdjust="spacingAndGlyphs">25</text><circle cx="444.0" cy="681.3" r="4.7" fill="#4c72b0" stroke="#fff" stroke-width="0.6"/><circle cx="444.0" cy="649.8" r="3.3" fill="#dd8452" stroke="#fff" stroke-width="0.6"/><circle cx="444.0" cy="645.3" r="3.3" fill="#55a868" stroke="#fff" stroke-width="0.6"/><circle cx="444.0" cy="672.8" r="3.0" fill="#da8bc3" stroke="#fff" stroke-width="0.6"/><circle cx="444.0" cy="664.9" r="3.1" fill="#8c8c8c" stroke="#fff" stroke-width="0.6"/><circle cx="444.0" cy="653.6" r="2.5" fill="#ccb974" stroke="#fff" stroke-width="0.6"/><text transform="translate(444.0,712.5) rotate(-45)" x="0" y="3.2" font-size="9.2" font-weight="bold" fill="#262626" text-anchor="middle" textLength="12.0" lengthAdjust="spacingAndGlyphs">33</text><circle cx="458.7" cy="678.4" r="4.7" fill="#4c72b0" stroke="#fff" stroke-width="0.6"/><circle cx="458.7" cy="661.0" r="3.3" fill="#dd8452" stroke="#fff" stroke-width="0.6"/><circle cx="458.7" cy="639.7" r="3.3" fill="#55a868" stroke="#fff" stroke-width="0.6"/><circle cx="458.7" cy="652.5" r="3.4" fill="#c44e52" stroke="#fff" stroke-width="0.6"/><circle cx="458.7" cy="664.9" r="3.2" fill="#8172b3" stroke="#fff" stroke-width="0.6"/><circle cx="458.7" cy="673.2" r="3.0" fill="#da8bc3" stroke="#fff" stroke-width="0.6"/><circle cx="458.7" cy="657.0" r="2.5" fill="#ccb974" stroke="#fff" stroke-width="0.6"/><text transform="translate(458.7,712.5) rotate(-45)" x="0" y="3.2" font-size="9.2" font-weight="bold" fill="#262626" text-anchor="middle" textLength="12.0" lengthAdjust="spacingAndGlyphs">19</text><circle cx="473.3" cy="676.1" r="4.7" fill="#4c72b0" stroke="#fff" stroke-width="0.6"/><circle cx="473.3" cy="643.5" r="3.3" fill="#55a868" stroke="#fff" stroke-width="0.6"/><circle cx="473.3" cy="663.8" r="3.4" fill="#c44e52" stroke="#fff" stroke-width="0.6"/><circle cx="473.3" cy="656.6" r="3.2" fill="#8172b3" stroke="#fff" stroke-width="0.6"/><circle cx="473.3" cy="681.3" r="3.0" fill="#da8bc3" stroke="#fff" stroke-width="0.6"/><circle cx="473.3" cy="654.3" r="2.5" fill="#ccb974" stroke="#fff" stroke-width="0.6"/><text transform="translate(473.3,710.4) rotate(-45)" x="0" y="3.2" font-size="9.2" font-weight="bold" fill="#262626" text-anchor="middle" textLength="6.0" lengthAdjust="spacingAndGlyphs">9</text><circle cx="488.0" cy="673.9" r="4.7" fill="#4c72b0" stroke="#fff" stroke-width="0.6"/><circle cx="488.0" cy="666.0" r="3.2" fill="#8172b3" stroke="#fff" stroke-width="0.6"/><circle cx="488.0" cy="687.4" r="3.0" fill="#da8bc3" stroke="#fff" stroke-width="0.6"/><circle cx="488.0" cy="649.1" r="2.5" fill="#ccb974" stroke="#fff" stroke-width="0.6"/><text transform="translate(488.0,710.4) rotate(-45)" x="0" y="3.2" font-size="9.2" font-weight="bold" fill="#262626" text-anchor="middle" textLength="6.0" lengthAdjust="spacingAndGlyphs">2</text><circle cx="502.6" cy="676.1" r="4.7" fill="#4c72b0" stroke="#fff" stroke-width="0.6"/><circle cx="502.6" cy="667.1" r="3.4" fill="#c44e52" stroke="#fff" stroke-width="0.6"/><circle cx="502.6" cy="672.8" r="3.0" fill="#da8bc3" stroke="#fff" stroke-width="0.6"/><circle cx="502.6" cy="658.1" r="3.1" fill="#8c8c8c" stroke="#fff" stroke-width="0.6"/><circle cx="502.6" cy="652.1" r="2.5" fill="#ccb974" stroke="#fff" stroke-width="0.6"/><text transform="translate(502.6,712.5) rotate(-45)" x="0" y="3.2" font-size="9.2" font-weight="bold" fill="#262626" text-anchor="middle" textLength="12.0" lengthAdjust="spacingAndGlyphs">31</text><circle cx="517.3" cy="654.8" r="4.7" fill="#4c72b0" stroke="#fff" stroke-width="0.6"/><circle cx="517.3" cy="675.0" r="3.4" fill="#c44e52" stroke="#fff" stroke-width="0.6"/><circle cx="517.3" cy="649.1" r="3.2" fill="#937860" stroke="#fff" stroke-width="0.6"/><circle cx="517.3" cy="682.9" r="3.0" fill="#da8bc3" stroke="#fff" stroke-width="0.6"/><circle cx="517.3" cy="658.1" r="2.5" fill="#ccb974" stroke="#fff" stroke-width="0.6"/><text transform="translate(517.3,712.5) rotate(-45)" x="0" y="3.2" font-size="9.2" font-weight="bold" fill="#262626" text-anchor="middle" textLength="12.0" lengthAdjust="spacingAndGlyphs">20</text><circle cx="532.0" cy="668.3" r="4.7" fill="#4c72b0" stroke="#fff" stroke-width="0.6"/><circle cx="532.0" cy="675.0" r="3.3" fill="#dd8452" stroke="#fff" stroke-width="0.6"/><circle cx="532.0" cy="681.8" r="3.3" fill="#55a868" stroke="#fff" stroke-width="0.6"/><circle cx="532.0" cy="646.2" r="3.2" fill="#8172b3" stroke="#fff" stroke-width="0.6"/><circle cx="532.0" cy="655.9" r="3.0" fill="#da8bc3" stroke="#fff" stroke-width="0.6"/><circle cx="532.0" cy="662.2" r="3.1" fill="#8c8c8c" stroke="#fff" stroke-width="0.6"/><circle cx="532.0" cy="658.8" r="2.5" fill="#ccb974" stroke="#fff" stroke-width="0.6"/><text transform="translate(532.0,712.5) rotate(-45)" x="0" y="3.2" font-size="9.2" font-weight="bold" fill="#262626" text-anchor="middle" textLength="12.0" lengthAdjust="spacingAndGlyphs">27</text><circle cx="546.6" cy="684.7" r="4.7" fill="#4c72b0" stroke="#fff" stroke-width="0.6"/><circle cx="546.6" cy="667.1" r="3.3" fill="#dd8452" stroke="#fff" stroke-width="0.6"/><circle cx="546.6" cy="657.0" r="3.2" fill="#8172b3" stroke="#fff" stroke-width="0.6"/><circle cx="546.6" cy="670.5" r="3.0" fill="#da8bc3" stroke="#fff" stroke-width="0.6"/><circle cx="546.6" cy="652.5" r="3.1" fill="#8c8c8c" stroke="#fff" stroke-width="0.6"/><circle cx="546.6" cy="660.4" r="2.5" fill="#ccb974" stroke="#fff" stroke-width="0.6"/><text transform="translate(546.6,710.4) rotate(-45)" x="0" y="3.2" font-size="9.2" font-weight="bold" fill="#262626" text-anchor="middle" textLength="6.0" lengthAdjust="spacingAndGlyphs">1</text><circle cx="561.3" cy="685.8" r="4.7" fill="#4c72b0" stroke="#fff" stroke-width="0.6"/><circle cx="561.3" cy="675.0" r="3.3" fill="#dd8452" stroke="#fff" stroke-width="0.6"/><circle cx="561.3" cy="650.7" r="3.3" fill="#55a868" stroke="#fff" stroke-width="0.6"/><circle cx="561.3" cy="668.7" r="3.4" fill="#c44e52" stroke="#fff" stroke-width="0.6"/><circle cx="561.3" cy="667.1" r="3.2" fill="#8172b3" stroke="#fff" stroke-width="0.6"/><circle cx="561.3" cy="677.3" r="3.0" fill="#da8bc3" stroke="#fff" stroke-width="0.6"/><circle cx="561.3" cy="652.9" r="3.1" fill="#8c8c8c" stroke="#fff" stroke-width="0.6"/><circle cx="561.3" cy="656.6" r="2.5" fill="#ccb974" stroke="#fff" stroke-width="0.6"/><text transform="translate(561.3,710.4) rotate(-45)" x="0" y="3.2" font-size="9.2" font-weight="bold" fill="#262626" text-anchor="middle" textLength="6.0" lengthAdjust="spacingAndGlyphs">4</text><line x1="53.7" y1="579.7" x2="53.7" y2="697.9" stroke="#1e1e1e" stroke-width="2.4"/><line x1="52.5" y1="696.7" x2="586.0" y2="696.7" stroke="#1e1e1e" stroke-width="2.4"/><text x="319.2" y="587.9" font-size="14.00" font-weight="bold" fill="#262626" text-anchor="middle" textLength="98.5" lengthAdjust="spacingAndGlyphs">Proliferation</text><text x="45.2" y="589.3" font-size="8.00" font-weight="bold" fill="#262626" text-anchor="end" textLength="18.7" lengthAdjust="spacingAndGlyphs">0.75</text><text x="45.2" y="611.3" font-size="8.00" font-weight="bold" fill="#262626" text-anchor="end" textLength="18.7" lengthAdjust="spacingAndGlyphs">0.50</text><text x="45.2" y="633.3" font-size="8.00" font-weight="bold" fill="#262626" text-anchor="end" textLength="18.7" lengthAdjust="spacingAndGlyphs">0.25</text><text x="45.2" y="655.3" font-size="8.00" font-weight="bold" fill="#262626" text-anchor="end" textLength="18.7" lengthAdjust="spacingAndGlyphs">0.00</text><text x="45.2" y="677.3" font-size="8.00" font-weight="bold" fill="#262626" text-anchor="end" textLength="25.3" lengthAdjust="spacingAndGlyphs">−0.25</text><text x="45.2" y="699.3" font-size="8.00" font-weight="bold" fill="#262626" text-anchor="end" textLength="25.3" lengthAdjust="spacingAndGlyphs">−0.50</text><text transform="translate(10.8,639.5) rotate(-90)" x="0" y="0" font-size="12.5" font-weight="bold" fill="#262626" text-anchor="middle">ρ</text><text x="318.7" y="732.2" font-size="10.80" font-weight="bold" fill="#262626" text-anchor="middle" textLength="25.0" lengthAdjust="spacingAndGlyphs">HPC</text><line x1="595.8" y1="652.5" x2="1126.3" y2="652.5" stroke="#9a9a9a" stroke-width="0.9" stroke-dasharray="2.6,1.9"/><circle cx="618.1" cy="620.6" r="4.7" fill="#4c72b0" stroke="#fff" stroke-width="0.6"/><circle cx="618.1" cy="631.1" r="3.3" fill="#dd8452" stroke="#fff" stroke-width="0.6"/><circle cx="618.1" cy="639.7" r="3.2" fill="#8172b3" stroke="#fff" stroke-width="0.6"/><circle cx="618.1" cy="635.6" r="3.2" fill="#937860" stroke="#fff" stroke-width="0.6"/><circle cx="618.1" cy="623.3" r="3.0" fill="#da8bc3" stroke="#fff" stroke-width="0.6"/><circle cx="618.1" cy="616.0" r="3.1" fill="#8c8c8c" stroke="#fff" stroke-width="0.6"/><circle cx="618.1" cy="627.8" r="2.5" fill="#ccb974" stroke="#fff" stroke-width="0.6"/><text transform="translate(618.1,710.4) rotate(-45)" x="0" y="3.2" font-size="9.2" font-weight="bold" fill="#262626" text-anchor="middle" textLength="6.0" lengthAdjust="spacingAndGlyphs">9</text><circle cx="632.8" cy="625.1" r="4.7" fill="#4c72b0" stroke="#fff" stroke-width="0.6"/><circle cx="632.8" cy="628.4" r="3.3" fill="#dd8452" stroke="#fff" stroke-width="0.6"/><circle cx="632.8" cy="641.3" r="3.2" fill="#937860" stroke="#fff" stroke-width="0.6"/><circle cx="632.8" cy="622.1" r="3.0" fill="#da8bc3" stroke="#fff" stroke-width="0.6"/><circle cx="632.8" cy="613.1" r="3.1" fill="#8c8c8c" stroke="#fff" stroke-width="0.6"/><circle cx="632.8" cy="637.2" r="2.5" fill="#ccb974" stroke="#fff" stroke-width="0.6"/><text transform="translate(632.8,710.4) rotate(-45)" x="0" y="3.2" font-size="9.2" font-weight="bold" fill="#262626" text-anchor="middle" textLength="6.0" lengthAdjust="spacingAndGlyphs">2</text><circle cx="647.4" cy="648.5" r="4.7" fill="#4c72b0" stroke="#fff" stroke-width="0.6"/><circle cx="647.4" cy="641.3" r="3.2" fill="#937860" stroke="#fff" stroke-width="0.6"/><circle cx="647.4" cy="632.7" r="3.0" fill="#da8bc3" stroke="#fff" stroke-width="0.6"/><circle cx="647.4" cy="617.6" r="3.1" fill="#8c8c8c" stroke="#fff" stroke-width="0.6"/><circle cx="647.4" cy="628.2" r="2.5" fill="#ccb974" stroke="#fff" stroke-width="0.6"/><text transform="translate(647.4,710.4) rotate(-45)" x="0" y="3.2" font-size="9.2" font-weight="bold" fill="#262626" text-anchor="middle" textLength="6.0" lengthAdjust="spacingAndGlyphs">0</text><circle cx="662.1" cy="630.0" r="4.7" fill="#4c72b0" stroke="#fff" stroke-width="0.6"/><circle cx="662.1" cy="648.0" r="3.4" fill="#c44e52" stroke="#fff" stroke-width="0.6"/><circle cx="662.1" cy="636.8" r="3.2" fill="#8172b3" stroke="#fff" stroke-width="0.6"/><circle cx="662.1" cy="643.1" r="3.2" fill="#937860" stroke="#fff" stroke-width="0.6"/><circle cx="662.1" cy="625.1" r="3.1" fill="#8c8c8c" stroke="#fff" stroke-width="0.6"/><circle cx="662.1" cy="630.4" r="2.5" fill="#ccb974" stroke="#fff" stroke-width="0.6"/><text transform="translate(662.1,710.4) rotate(-45)" x="0" y="3.2" font-size="9.2" font-weight="bold" fill="#262626" text-anchor="middle" textLength="6.0" lengthAdjust="spacingAndGlyphs">4</text><circle cx="676.7" cy="630.7" r="4.7" fill="#4c72b0" stroke="#fff" stroke-width="0.6"/><circle cx="676.7" cy="640.1" r="3.2" fill="#8172b3" stroke="#fff" stroke-width="0.6"/><circle cx="676.7" cy="646.9" r="3.0" fill="#da8bc3" stroke="#fff" stroke-width="0.6"/><circle cx="676.7" cy="636.8" r="2.5" fill="#ccb974" stroke="#fff" stroke-width="0.6"/><text transform="translate(676.7,712.5) rotate(-45)" x="0" y="3.2" font-size="9.2" font-weight="bold" fill="#262626" text-anchor="middle" textLength="12.0" lengthAdjust="spacingAndGlyphs">24</text><circle cx="691.4" cy="630.0" r="4.7" fill="#4c72b0" stroke="#fff" stroke-width="0.6"/><circle cx="691.4" cy="640.8" r="3.2" fill="#8172b3" stroke="#fff" stroke-width="0.6"/><circle cx="691.4" cy="635.6" r="3.0" fill="#da8bc3" stroke="#fff" stroke-width="0.6"/><circle cx="691.4" cy="630.0" r="3.1" fill="#8c8c8c" stroke="#fff" stroke-width="0.6"/><circle cx="691.4" cy="645.3" r="2.5" fill="#ccb974" stroke="#fff" stroke-width="0.6"/><text transform="translate(691.4,712.5) rotate(-45)" x="0" y="3.2" font-size="9.2" font-weight="bold" fill="#262626" text-anchor="middle" textLength="12.0" lengthAdjust="spacingAndGlyphs">11</text><circle cx="706.1" cy="646.9" r="4.7" fill="#4c72b0" stroke="#fff" stroke-width="0.6"/><circle cx="706.1" cy="647.8" r="3.3" fill="#55a868" stroke="#fff" stroke-width="0.6"/><circle cx="706.1" cy="631.1" r="3.0" fill="#da8bc3" stroke="#fff" stroke-width="0.6"/><circle cx="706.1" cy="638.6" r="3.1" fill="#8c8c8c" stroke="#fff" stroke-width="0.6"/><circle cx="706.1" cy="643.5" r="2.5" fill="#ccb974" stroke="#fff" stroke-width="0.6"/><text transform="translate(706.1,712.5) rotate(-45)" x="0" y="3.2" font-size="9.2" font-weight="bold" fill="#262626" text-anchor="middle" textLength="12.0" lengthAdjust="spacingAndGlyphs">20</text><circle cx="720.7" cy="632.7" r="4.7" fill="#4c72b0" stroke="#fff" stroke-width="0.6"/><circle cx="720.7" cy="653.6" r="3.4" fill="#c44e52" stroke="#fff" stroke-width="0.6"/><circle cx="720.7" cy="646.9" r="3.2" fill="#8172b3" stroke="#fff" stroke-width="0.6"/><circle cx="720.7" cy="629.3" r="3.0" fill="#da8bc3" stroke="#fff" stroke-width="0.6"/><circle cx="720.7" cy="622.6" r="3.1" fill="#8c8c8c" stroke="#fff" stroke-width="0.6"/><circle cx="720.7" cy="643.1" r="2.5" fill="#ccb974" stroke="#fff" stroke-width="0.6"/><text transform="translate(720.7,712.5) rotate(-45)" x="0" y="3.2" font-size="9.2" font-weight="bold" fill="#262626" text-anchor="middle" textLength="12.0" lengthAdjust="spacingAndGlyphs">19</text><circle cx="735.4" cy="655.2" r="4.7" fill="#4c72b0" stroke="#fff" stroke-width="0.6"/><circle cx="735.4" cy="649.8" r="3.3" fill="#55a868" stroke="#fff" stroke-width="0.6"/><circle cx="735.4" cy="637.2" r="3.4" fill="#c44e52" stroke="#fff" stroke-width="0.6"/><circle cx="735.4" cy="653.6" r="3.2" fill="#937860" stroke="#fff" stroke-width="0.6"/><circle cx="735.4" cy="643.5" r="3.0" fill="#da8bc3" stroke="#fff" stroke-width="0.6"/><circle cx="735.4" cy="639.7" r="3.1" fill="#8c8c8c" stroke="#fff" stroke-width="0.6"/><circle cx="735.4" cy="623.7" r="2.5" fill="#ccb974" stroke="#fff" stroke-width="0.6"/><text transform="translate(735.4,710.4) rotate(-45)" x="0" y="3.2" font-size="9.2" font-weight="bold" fill="#262626" text-anchor="middle" textLength="6.0" lengthAdjust="spacingAndGlyphs">8</text><circle cx="750.0" cy="636.3" r="4.7" fill="#4c72b0" stroke="#fff" stroke-width="0.6"/><circle cx="750.0" cy="657.0" r="3.3" fill="#dd8452" stroke="#fff" stroke-width="0.6"/><circle cx="750.0" cy="647.6" r="3.3" fill="#55a868" stroke="#fff" stroke-width="0.6"/><circle cx="750.0" cy="659.3" r="3.4" fill="#c44e52" stroke="#fff" stroke-width="0.6"/><circle cx="750.0" cy="649.1" r="3.2" fill="#8172b3" stroke="#fff" stroke-width="0.6"/><circle cx="750.0" cy="636.3" r="2.5" fill="#ccb974" stroke="#fff" stroke-width="0.6"/><text transform="translate(750.0,710.4) rotate(-45)" x="0" y="3.2" font-size="9.2" font-weight="bold" fill="#262626" text-anchor="middle" textLength="6.0" lengthAdjust="spacingAndGlyphs">1</text><circle cx="764.7" cy="668.3" r="4.7" fill="#4c72b0" stroke="#fff" stroke-width="0.6"/><circle cx="764.7" cy="640.1" r="3.3" fill="#dd8452" stroke="#fff" stroke-width="0.6"/><circle cx="764.7" cy="645.8" r="3.3" fill="#55a868" stroke="#fff" stroke-width="0.6"/><circle cx="764.7" cy="650.3" r="3.0" fill="#da8bc3" stroke="#fff" stroke-width="0.6"/><circle cx="764.7" cy="633.4" r="3.1" fill="#8c8c8c" stroke="#fff" stroke-width="0.6"/><circle cx="764.7" cy="641.7" r="2.5" fill="#ccb974" stroke="#fff" stroke-width="0.6"/><text transform="translate(764.7,712.5) rotate(-45)" x="0" y="3.2" font-size="9.2" font-weight="bold" fill="#262626" text-anchor="middle" textLength="12.0" lengthAdjust="spacingAndGlyphs">18</text><circle cx="779.4" cy="639.5" r="4.7" fill="#4c72b0" stroke="#fff" stroke-width="0.6"/><circle cx="779.4" cy="661.1" r="3.3" fill="#dd8452" stroke="#fff" stroke-width="0.6"/><circle cx="779.4" cy="647.6" r="3.3" fill="#55a868" stroke="#fff" stroke-width="0.6"/><circle cx="779.4" cy="657.5" r="3.4" fill="#c44e52" stroke="#fff" stroke-width="0.6"/><circle cx="779.4" cy="654.3" r="3.2" fill="#8172b3" stroke="#fff" stroke-width="0.6"/><circle cx="779.4" cy="636.8" r="3.0" fill="#da8bc3" stroke="#fff" stroke-width="0.6"/><circle cx="779.4" cy="639.5" r="2.5" fill="#ccb974" stroke="#fff" stroke-width="0.6"/><text transform="translate(779.4,712.5) rotate(-45)" x="0" y="3.2" font-size="9.2" font-weight="bold" fill="#262626" text-anchor="middle" textLength="12.0" lengthAdjust="spacingAndGlyphs">22</text><circle cx="794.0" cy="637.9" r="4.7" fill="#4c72b0" stroke="#fff" stroke-width="0.6"/><circle cx="794.0" cy="650.7" r="3.2" fill="#937860" stroke="#fff" stroke-width="0.6"/><circle cx="794.0" cy="646.2" r="3.0" fill="#da8bc3" stroke="#fff" stroke-width="0.6"/><circle cx="794.0" cy="637.2" r="3.1" fill="#8c8c8c" stroke="#fff" stroke-width="0.6"/><circle cx="794.0" cy="655.9" r="2.5" fill="#ccb974" stroke="#fff" stroke-width="0.6"/><text transform="translate(794.0,712.5) rotate(-45)" x="0" y="3.2" font-size="9.2" font-weight="bold" fill="#262626" text-anchor="middle" textLength="12.0" lengthAdjust="spacingAndGlyphs">31</text><circle cx="808.7" cy="636.8" r="4.7" fill="#4c72b0" stroke="#fff" stroke-width="0.6"/><circle cx="808.7" cy="667.1" r="3.3" fill="#dd8452" stroke="#fff" stroke-width="0.6"/><circle cx="808.7" cy="653.6" r="3.4" fill="#c44e52" stroke="#fff" stroke-width="0.6"/><circle cx="808.7" cy="656.6" r="3.2" fill="#8172b3" stroke="#fff" stroke-width="0.6"/><circle cx="808.7" cy="643.5" r="3.1" fill="#8c8c8c" stroke="#fff" stroke-width="0.6"/><circle cx="808.7" cy="649.1" r="2.5" fill="#ccb974" stroke="#fff" stroke-width="0.6"/><text transform="translate(808.7,712.5) rotate(-45)" x="0" y="3.2" font-size="9.2" font-weight="bold" fill="#262626" text-anchor="middle" textLength="12.0" lengthAdjust="spacingAndGlyphs">25</text><circle cx="823.3" cy="635.0" r="4.7" fill="#4c72b0" stroke="#fff" stroke-width="0.6"/><circle cx="823.3" cy="659.7" r="3.3" fill="#dd8452" stroke="#fff" stroke-width="0.6"/><circle cx="823.3" cy="657.0" r="3.4" fill="#c44e52" stroke="#fff" stroke-width="0.6"/><circle cx="823.3" cy="647.8" r="3.2" fill="#8172b3" stroke="#fff" stroke-width="0.6"/><circle cx="823.3" cy="645.3" r="3.2" fill="#937860" stroke="#fff" stroke-width="0.6"/><circle cx="823.3" cy="639.0" r="3.0" fill="#da8bc3" stroke="#fff" stroke-width="0.6"/><circle cx="823.3" cy="650.3" r="3.1" fill="#8c8c8c" stroke="#fff" stroke-width="0.6"/><circle cx="823.3" cy="668.7" r="2.5" fill="#ccb974" stroke="#fff" stroke-width="0.6"/><text transform="translate(823.3,712.5) rotate(-45)" x="0" y="3.2" font-size="9.2" font-weight="bold" fill="#262626" text-anchor="middle" textLength="12.0" lengthAdjust="spacingAndGlyphs">33</text><circle cx="838.0" cy="644.6" r="4.7" fill="#4c72b0" stroke="#fff" stroke-width="0.6"/><circle cx="838.0" cy="661.5" r="3.3" fill="#dd8452" stroke="#fff" stroke-width="0.6"/><circle cx="838.0" cy="658.1" r="3.3" fill="#55a868" stroke="#fff" stroke-width="0.6"/><circle cx="838.0" cy="643.1" r="3.2" fill="#937860" stroke="#fff" stroke-width="0.6"/><circle cx="838.0" cy="651.4" r="3.0" fill="#da8bc3" stroke="#fff" stroke-width="0.6"/><circle cx="838.0" cy="666.5" r="2.5" fill="#ccb974" stroke="#fff" stroke-width="0.6"/><text transform="translate(838.0,711.1) rotate(-45)" x="0" y="2.6" font-size="7.6" fill="#444" text-anchor="middle" textLength="9.2" lengthAdjust="spacingAndGlyphs">32</text><circle cx="852.7" cy="671.0" r="4.7" fill="#4c72b0" stroke="#fff" stroke-width="0.6"/><circle cx="852.7" cy="648.5" r="3.4" fill="#c44e52" stroke="#fff" stroke-width="0.6"/><circle cx="852.7" cy="655.9" r="3.2" fill="#937860" stroke="#fff" stroke-width="0.6"/><circle cx="852.7" cy="659.7" r="3.0" fill="#da8bc3" stroke="#fff" stroke-width="0.6"/><circle cx="852.7" cy="652.5" r="3.1" fill="#8c8c8c" stroke="#fff" stroke-width="0.6"/><circle cx="852.7" cy="641.7" r="2.5" fill="#ccb974" stroke="#fff" stroke-width="0.6"/><text transform="translate(852.7,712.5) rotate(-45)" x="0" y="3.2" font-size="9.2" font-weight="bold" fill="#262626" text-anchor="middle" textLength="12.0" lengthAdjust="spacingAndGlyphs">13</text><circle cx="867.3" cy="666.5" r="4.7" fill="#4c72b0" stroke="#fff" stroke-width="0.6"/><circle cx="867.3" cy="637.9" r="3.3" fill="#dd8452" stroke="#fff" stroke-width="0.6"/><circle cx="867.3" cy="657.0" r="3.3" fill="#55a868" stroke="#fff" stroke-width="0.6"/><circle cx="867.3" cy="647.6" r="3.4" fill="#c44e52" stroke="#fff" stroke-width="0.6"/><circle cx="867.3" cy="670.0" r="3.0" fill="#da8bc3" stroke="#fff" stroke-width="0.6"/><circle cx="867.3" cy="644.0" r="3.1" fill="#8c8c8c" stroke="#fff" stroke-width="0.6"/><circle cx="867.3" cy="654.8" r="2.5" fill="#ccb974" stroke="#fff" stroke-width="0.6"/><text transform="translate(867.3,710.4) rotate(-45)" x="0" y="3.2" font-size="9.2" font-weight="bold" fill="#262626" text-anchor="middle" textLength="6.0" lengthAdjust="spacingAndGlyphs">3</text><circle cx="882.0" cy="646.9" r="4.7" fill="#4c72b0" stroke="#fff" stroke-width="0.6"/><circle cx="882.0" cy="661.5" r="3.3" fill="#dd8452" stroke="#fff" stroke-width="0.6"/><circle cx="882.0" cy="641.7" r="3.3" fill="#55a868" stroke="#fff" stroke-width="0.6"/><circle cx="882.0" cy="646.9" r="3.2" fill="#8172b3" stroke="#fff" stroke-width="0.6"/><circle cx="882.0" cy="656.6" r="3.0" fill="#da8bc3" stroke="#fff" stroke-width="0.6"/><circle cx="882.0" cy="667.6" r="3.1" fill="#8c8c8c" stroke="#fff" stroke-width="0.6"/><text transform="translate(882.0,711.1) rotate(-45)" x="0" y="2.6" font-size="7.6" fill="#444" text-anchor="middle" textLength="9.2" lengthAdjust="spacingAndGlyphs">21</text><circle cx="896.6" cy="646.2" r="4.7" fill="#4c72b0" stroke="#fff" stroke-width="0.6"/><circle cx="896.6" cy="666.0" r="3.2" fill="#8172b3" stroke="#fff" stroke-width="0.6"/><circle cx="896.6" cy="641.3" r="3.0" fill="#da8bc3" stroke="#fff" stroke-width="0.6"/><circle cx="896.6" cy="651.4" r="3.1" fill="#8c8c8c" stroke="#fff" stroke-width="0.6"/><circle cx="896.6" cy="658.1" r="2.5" fill="#ccb974" stroke="#fff" stroke-width="0.6"/><text transform="translate(896.6,711.1) rotate(-45)" x="0" y="2.6" font-size="7.6" fill="#444" text-anchor="middle" textLength="9.2" lengthAdjust="spacingAndGlyphs">23</text><circle cx="911.3" cy="658.1" r="4.7" fill="#4c72b0" stroke="#fff" stroke-width="0.6"/><circle cx="911.3" cy="658.5" r="3.2" fill="#8172b3" stroke="#fff" stroke-width="0.6"/><circle cx="911.3" cy="662.6" r="3.0" fill="#da8bc3" stroke="#fff" stroke-width="0.6"/><circle cx="911.3" cy="648.5" r="3.1" fill="#8c8c8c" stroke="#fff" stroke-width="0.6"/><circle cx="911.3" cy="654.3" r="2.5" fill="#ccb974" stroke="#fff" stroke-width="0.6"/><text transform="translate(911.3,711.1) rotate(-45)" x="0" y="2.6" font-size="7.6" fill="#444" text-anchor="middle" textLength="9.2" lengthAdjust="spacingAndGlyphs">15</text><circle cx="926.0" cy="654.8" r="4.7" fill="#4c72b0" stroke="#fff" stroke-width="0.6"/><circle cx="926.0" cy="662.2" r="3.3" fill="#55a868" stroke="#fff" stroke-width="0.6"/><circle cx="926.0" cy="655.9" r="3.2" fill="#8172b3" stroke="#fff" stroke-width="0.6"/><circle cx="926.0" cy="651.4" r="3.0" fill="#da8bc3" stroke="#fff" stroke-width="0.6"/><circle cx="926.0" cy="668.3" r="3.1" fill="#8c8c8c" stroke="#fff" stroke-width="0.6"/><text transform="translate(926.0,711.1) rotate(-45)" x="0" y="2.6" font-size="7.6" fill="#444" text-anchor="middle" textLength="9.2" lengthAdjust="spacingAndGlyphs">17</text><circle cx="940.6" cy="655.9" r="4.7" fill="#4c72b0" stroke="#fff" stroke-width="0.6"/><circle cx="940.6" cy="648.0" r="3.3" fill="#dd8452" stroke="#fff" stroke-width="0.6"/><circle cx="940.6" cy="651.4" r="3.4" fill="#c44e52" stroke="#fff" stroke-width="0.6"/><circle cx="940.6" cy="660.4" r="3.2" fill="#8172b3" stroke="#fff" stroke-width="0.6"/><circle cx="940.6" cy="657.0" r="3.0" fill="#da8bc3" stroke="#fff" stroke-width="0.6"/><circle cx="940.6" cy="670.1" r="2.5" fill="#ccb974" stroke="#fff" stroke-width="0.6"/><text transform="translate(940.6,711.1) rotate(-45)" x="0" y="2.6" font-size="7.6" fill="#444" text-anchor="middle" textLength="9.2" lengthAdjust="spacingAndGlyphs">28</text><circle cx="955.3" cy="670.1" r="4.7" fill="#4c72b0" stroke="#fff" stroke-width="0.6"/><circle cx="955.3" cy="643.5" r="3.3" fill="#dd8452" stroke="#fff" stroke-width="0.6"/><circle cx="955.3" cy="655.9" r="3.3" fill="#55a868" stroke="#fff" stroke-width="0.6"/><circle cx="955.3" cy="662.6" r="3.4" fill="#c44e52" stroke="#fff" stroke-width="0.6"/><circle cx="955.3" cy="648.5" r="3.2" fill="#8172b3" stroke="#fff" stroke-width="0.6"/><circle cx="955.3" cy="672.5" r="3.0" fill="#da8bc3" stroke="#fff" stroke-width="0.6"/><circle cx="955.3" cy="677.3" r="3.1" fill="#8c8c8c" stroke="#fff" stroke-width="0.6"/><circle cx="955.3" cy="651.5" r="2.5" fill="#ccb974" stroke="#fff" stroke-width="0.6"/><text transform="translate(955.3,712.5) rotate(-45)" x="0" y="3.2" font-size="9.2" font-weight="bold" fill="#262626" text-anchor="middle" textLength="12.0" lengthAdjust="spacingAndGlyphs">16</text><circle cx="969.9" cy="645.3" r="4.7" fill="#4c72b0" stroke="#fff" stroke-width="0.6"/><circle cx="969.9" cy="660.4" r="3.4" fill="#c44e52" stroke="#fff" stroke-width="0.6"/><circle cx="969.9" cy="652.5" r="3.2" fill="#937860" stroke="#fff" stroke-width="0.6"/><circle cx="969.9" cy="670.0" r="3.0" fill="#da8bc3" stroke="#fff" stroke-width="0.6"/><circle cx="969.9" cy="665.6" r="2.5" fill="#ccb974" stroke="#fff" stroke-width="0.6"/><text transform="translate(969.9,710.4) rotate(-45)" x="0" y="3.2" font-size="9.2" font-weight="bold" fill="#262626" text-anchor="middle" textLength="6.0" lengthAdjust="spacingAndGlyphs">7</text><circle cx="984.6" cy="664.9" r="4.7" fill="#4c72b0" stroke="#fff" stroke-width="0.6"/><circle cx="984.6" cy="653.6" r="3.3" fill="#dd8452" stroke="#fff" stroke-width="0.6"/><circle cx="984.6" cy="659.7" r="3.3" fill="#55a868" stroke="#fff" stroke-width="0.6"/><circle cx="984.6" cy="671.0" r="3.2" fill="#937860" stroke="#fff" stroke-width="0.6"/><circle cx="984.6" cy="662.5" r="3.0" fill="#da8bc3" stroke="#fff" stroke-width="0.6"/><circle cx="984.6" cy="655.9" r="2.5" fill="#ccb974" stroke="#fff" stroke-width="0.6"/><text transform="translate(984.6,712.5) rotate(-45)" x="0" y="3.2" font-size="9.2" font-weight="bold" fill="#262626" text-anchor="middle" textLength="12.0" lengthAdjust="spacingAndGlyphs">10</text><circle cx="999.3" cy="657.5" r="4.7" fill="#4c72b0" stroke="#fff" stroke-width="0.6"/><circle cx="999.3" cy="672.8" r="3.3" fill="#dd8452" stroke="#fff" stroke-width="0.6"/><circle cx="999.3" cy="655.9" r="3.4" fill="#c44e52" stroke="#fff" stroke-width="0.6"/><circle cx="999.3" cy="668.9" r="3.2" fill="#8172b3" stroke="#fff" stroke-width="0.6"/><circle cx="999.3" cy="663.3" r="3.2" fill="#937860" stroke="#fff" stroke-width="0.6"/><circle cx="999.3" cy="659.3" r="3.0" fill="#da8bc3" stroke="#fff" stroke-width="0.6"/><circle cx="999.3" cy="652.5" r="3.1" fill="#8c8c8c" stroke="#fff" stroke-width="0.6"/><circle cx="999.3" cy="679.5" r="2.5" fill="#ccb974" stroke="#fff" stroke-width="0.6"/><text transform="translate(999.3,712.5) rotate(-45)" x="0" y="3.2" font-size="9.2" font-weight="bold" fill="#262626" text-anchor="middle" textLength="12.0" lengthAdjust="spacingAndGlyphs">27</text><circle cx="1013.9" cy="666.0" r="4.7" fill="#4c72b0" stroke="#fff" stroke-width="0.6"/><circle cx="1013.9" cy="642.4" r="3.3" fill="#dd8452" stroke="#fff" stroke-width="0.6"/><circle cx="1013.9" cy="660.4" r="3.4" fill="#c44e52" stroke="#fff" stroke-width="0.6"/><circle cx="1013.9" cy="654.3" r="3.2" fill="#8172b3" stroke="#fff" stroke-width="0.6"/><circle cx="1013.9" cy="670.5" r="3.0" fill="#da8bc3" stroke="#fff" stroke-width="0.6"/><circle cx="1013.9" cy="684.0" r="3.1" fill="#8c8c8c" stroke="#fff" stroke-width="0.6"/><circle cx="1013.9" cy="667.1" r="2.5" fill="#ccb974" stroke="#fff" stroke-width="0.6"/><text transform="translate(1013.9,712.5) rotate(-45)" x="0" y="3.2" font-size="9.2" font-weight="bold" fill="#262626" text-anchor="middle" textLength="12.0" lengthAdjust="spacingAndGlyphs">12</text><circle cx="1028.6" cy="655.9" r="4.7" fill="#4c72b0" stroke="#fff" stroke-width="0.6"/><circle cx="1028.6" cy="653.6" r="3.3" fill="#55a868" stroke="#fff" stroke-width="0.6"/><circle cx="1028.6" cy="662.0" r="3.4" fill="#c44e52" stroke="#fff" stroke-width="0.6"/><circle cx="1028.6" cy="657.5" r="3.2" fill="#937860" stroke="#fff" stroke-width="0.6"/><circle cx="1028.6" cy="664.9" r="3.0" fill="#da8bc3" stroke="#fff" stroke-width="0.6"/><circle cx="1028.6" cy="669.4" r="2.5" fill="#ccb974" stroke="#fff" stroke-width="0.6"/><text transform="translate(1028.6,712.5) rotate(-45)" x="0" y="3.2" font-size="9.2" font-weight="bold" fill="#262626" text-anchor="middle" textLength="12.0" lengthAdjust="spacingAndGlyphs">30</text><circle cx="1043.2" cy="667.1" r="4.7" fill="#4c72b0" stroke="#fff" stroke-width="0.6"/><circle cx="1043.2" cy="658.1" r="3.2" fill="#937860" stroke="#fff" stroke-width="0.6"/><circle cx="1043.2" cy="661.1" r="3.0" fill="#da8bc3" stroke="#fff" stroke-width="0.6"/><circle cx="1043.2" cy="670.0" r="3.1" fill="#8c8c8c" stroke="#fff" stroke-width="0.6"/><circle cx="1043.2" cy="664.9" r="2.5" fill="#ccb974" stroke="#fff" stroke-width="0.6"/><text transform="translate(1043.2,712.5) rotate(-45)" x="0" y="3.2" font-size="9.2" font-weight="bold" fill="#262626" text-anchor="middle" textLength="12.0" lengthAdjust="spacingAndGlyphs">26</text><circle cx="1057.9" cy="668.7" r="4.7" fill="#4c72b0" stroke="#fff" stroke-width="0.6"/><circle cx="1057.9" cy="655.4" r="3.3" fill="#dd8452" stroke="#fff" stroke-width="0.6"/><circle cx="1057.9" cy="661.5" r="3.3" fill="#55a868" stroke="#fff" stroke-width="0.6"/><circle cx="1057.9" cy="663.8" r="3.4" fill="#c44e52" stroke="#fff" stroke-width="0.6"/><circle cx="1057.9" cy="649.6" r="3.2" fill="#8172b3" stroke="#fff" stroke-width="0.6"/><circle cx="1057.9" cy="666.5" r="3.0" fill="#da8bc3" stroke="#fff" stroke-width="0.6"/><circle cx="1057.9" cy="674.3" r="3.1" fill="#8c8c8c" stroke="#fff" stroke-width="0.6"/><circle cx="1057.9" cy="671.0" r="2.5" fill="#ccb974" stroke="#fff" stroke-width="0.6"/><text transform="translate(1057.9,712.5) rotate(-45)" x="0" y="3.2" font-size="9.2" font-weight="bold" fill="#262626" text-anchor="middle" textLength="12.0" lengthAdjust="spacingAndGlyphs">14</text><circle cx="1072.6" cy="679.5" r="4.7" fill="#4c72b0" stroke="#fff" stroke-width="0.6"/><circle cx="1072.6" cy="664.0" r="3.3" fill="#dd8452" stroke="#fff" stroke-width="0.6"/><circle cx="1072.6" cy="654.8" r="3.2" fill="#8172b3" stroke="#fff" stroke-width="0.6"/><circle cx="1072.6" cy="657.2" r="3.2" fill="#937860" stroke="#fff" stroke-width="0.6"/><circle cx="1072.6" cy="676.8" r="3.0" fill="#da8bc3" stroke="#fff" stroke-width="0.6"/><circle cx="1072.6" cy="684.0" r="3.1" fill="#8c8c8c" stroke="#fff" stroke-width="0.6"/><circle cx="1072.6" cy="662.6" r="2.5" fill="#ccb974" stroke="#fff" stroke-width="0.6"/><text transform="translate(1072.6,712.5) rotate(-45)" x="0" y="3.2" font-size="9.2" font-weight="bold" fill="#262626" text-anchor="middle" textLength="12.0" lengthAdjust="spacingAndGlyphs">29</text><circle cx="1087.2" cy="658.8" r="4.7" fill="#4c72b0" stroke="#fff" stroke-width="0.6"/><circle cx="1087.2" cy="670.1" r="3.3" fill="#dd8452" stroke="#fff" stroke-width="0.6"/><circle cx="1087.2" cy="666.7" r="3.4" fill="#c44e52" stroke="#fff" stroke-width="0.6"/><circle cx="1087.2" cy="651.4" r="3.2" fill="#937860" stroke="#fff" stroke-width="0.6"/><circle cx="1087.2" cy="658.8" r="3.0" fill="#da8bc3" stroke="#fff" stroke-width="0.6"/><circle cx="1087.2" cy="686.3" r="3.1" fill="#8c8c8c" stroke="#fff" stroke-width="0.6"/><circle cx="1087.2" cy="673.9" r="2.5" fill="#ccb974" stroke="#fff" stroke-width="0.6"/><text transform="translate(1087.2,710.4) rotate(-45)" x="0" y="3.2" font-size="9.2" font-weight="bold" fill="#262626" text-anchor="middle" textLength="6.0" lengthAdjust="spacingAndGlyphs">6</text><circle cx="1101.9" cy="680.6" r="4.7" fill="#4c72b0" stroke="#fff" stroke-width="0.6"/><circle cx="1101.9" cy="658.1" r="3.3" fill="#55a868" stroke="#fff" stroke-width="0.6"/><circle cx="1101.9" cy="662.0" r="3.2" fill="#8172b3" stroke="#fff" stroke-width="0.6"/><circle cx="1101.9" cy="666.7" r="3.2" fill="#937860" stroke="#fff" stroke-width="0.6"/><circle cx="1101.9" cy="677.3" r="3.0" fill="#da8bc3" stroke="#fff" stroke-width="0.6"/><circle cx="1101.9" cy="684.0" r="3.1" fill="#8c8c8c" stroke="#fff" stroke-width="0.6"/><circle cx="1101.9" cy="680.6" r="2.5" fill="#ccb974" stroke="#fff" stroke-width="0.6"/><text transform="translate(1101.9,710.4) rotate(-45)" x="0" y="3.2" font-size="9.2" font-weight="bold" fill="#262626" text-anchor="middle" textLength="6.0" lengthAdjust="spacingAndGlyphs">5</text><line x1="594.3" y1="579.7" x2="594.3" y2="697.9" stroke="#1e1e1e" stroke-width="2.4"/><line x1="593.1" y1="696.7" x2="1126.6" y2="696.7" stroke="#1e1e1e" stroke-width="2.4"/><text x="860.0" y="588.1" font-size="14.00" font-weight="bold" fill="#262626" text-anchor="middle" textLength="153.5" lengthAdjust="spacingAndGlyphs">TGF-beta Response</text><text x="859.5" y="732.2" font-size="10.80" font-weight="bold" fill="#262626" text-anchor="middle" textLength="25.0" lengthAdjust="spacingAndGlyphs">HPC</text><text x="1138.0" y="494.6" font-size="8.60" font-weight="bold" fill="#262626" text-anchor="start" textLength="64.0" lengthAdjust="spacingAndGlyphs">Cancer Type</text><circle cx="1139.7" cy="504.2" r="2.6" fill="#4c72b0"/><text x="1154.5" y="507.2" font-size="8.30" font-weight="bold" fill="#262626" text-anchor="start" textLength="24.7" lengthAdjust="spacingAndGlyphs">BRCA</text><circle cx="1139.7" cy="515.9" r="2.6" fill="#dd8452"/><text x="1154.5" y="518.9" font-size="8.30" font-weight="bold" fill="#262626" text-anchor="start" textLength="24.7" lengthAdjust="spacingAndGlyphs">LUAD</text><circle cx="1139.7" cy="527.6" r="2.6" fill="#55a868"/><text x="1154.5" y="530.6" font-size="8.30" font-weight="bold" fill="#262626" text-anchor="start" textLength="24.7" lengthAdjust="spacingAndGlyphs">UCEC</text><circle cx="1139.7" cy="539.2" r="2.6" fill="#c44e52"/><text x="1154.5" y="542.2" font-size="8.30" font-weight="bold" fill="#262626" text-anchor="start" textLength="24.7" lengthAdjust="spacingAndGlyphs">LUSC</text><circle cx="1139.7" cy="550.9" r="2.6" fill="#8172b3"/><text x="1154.5" y="553.9" font-size="8.30" font-weight="bold" fill="#262626" text-anchor="start" textLength="24.7" lengthAdjust="spacingAndGlyphs">COAD</text><circle cx="1139.7" cy="562.6" r="2.6" fill="#937860"/><text x="1154.5" y="565.6" font-size="8.30" font-weight="bold" fill="#262626" text-anchor="start" textLength="24.7" lengthAdjust="spacingAndGlyphs">SKCM</text><circle cx="1139.7" cy="574.3" r="2.6" fill="#da8bc3"/><text x="1154.5" y="577.3" font-size="8.30" font-weight="bold" fill="#262626" text-anchor="start" textLength="24.7" lengthAdjust="spacingAndGlyphs">STAD</text><circle cx="1139.7" cy="586.0" r="2.6" fill="#8c8c8c"/><text x="1154.5" y="589.0" font-size="8.30" font-weight="bold" fill="#262626" text-anchor="start" textLength="24.7" lengthAdjust="spacingAndGlyphs">BLCA</text><circle cx="1139.7" cy="597.6" r="2.6" fill="#ccb974"/><text x="1154.5" y="600.6" font-size="8.30" font-weight="bold" fill="#262626" text-anchor="start" textLength="24.7" lengthAdjust="spacingAndGlyphs">CESC</text><text x="1138.0" y="613.2" font-size="8.60" font-weight="bold" fill="#262626" text-anchor="start" textLength="64.0" lengthAdjust="spacingAndGlyphs">Sample Size</text><circle cx="1139.7" cy="622.7" r="3.1" fill="#333"/><text x="1154.5" y="625.7" font-size="8.30" font-weight="bold" fill="#262626" text-anchor="start" textLength="16.3" lengthAdjust="spacingAndGlyphs">300</text><circle cx="1139.7" cy="635.0" r="3.5" fill="#333"/><text x="1154.5" y="638.0" font-size="8.30" font-weight="bold" fill="#262626" text-anchor="start" textLength="16.3" lengthAdjust="spacingAndGlyphs">450</text><circle cx="1139.7" cy="646.3" r="3.9" fill="#333"/><text x="1154.5" y="649.3" font-size="8.30" font-weight="bold" fill="#262626" text-anchor="start" textLength="16.3" lengthAdjust="spacingAndGlyphs">600</text><circle cx="1139.7" cy="658.4" r="4.2" fill="#333"/><text x="1154.5" y="661.4" font-size="8.30" font-weight="bold" fill="#262626" text-anchor="start" textLength="16.3" lengthAdjust="spacingAndGlyphs">750</text><circle cx="1139.7" cy="670.0" r="4.6" fill="#333"/><text x="1154.5" y="673.0" font-size="8.30" font-weight="bold" fill="#262626" text-anchor="start" textLength="16.3" lengthAdjust="spacingAndGlyphs">900</text><text transform="translate(44.0,766.2) scale(1.090,1)" x="0" y="0" font-size="28.5" font-weight="bold" fill="#000">C</text><text x="193.8" y="785.1" font-size="12.30" font-weight="bold" fill="#262626" text-anchor="middle" textLength="151.0" lengthAdjust="spacingAndGlyphs">TIL Regional Fraction</text><g transform="matrix(1.0000,0,0,1.0000,0.00,0.00)"><linearGradient id="tg2" gradientUnits="userSpaceOnUse" x1="120" y1="1024" x2="96" y2="1059"><stop offset="0" stop-color="#eeeef0" stop-opacity="0.17"/><stop offset="1" stop-color="#eeeef0" stop-opacity="0.50"/></linearGradient><use href="#ut" fill="url(#tg2)" filter="url(#fsoft1)"/><g mask="url(#um)"><rect x="40" y="780" width="305" height="360" fill="#f2f0f0"/><g filter="url(#fblob)"><path d="M130.5,780.0 L151.2,780.0 L210.2,850.0 L211.1,867.8 L204.0,877.4 L184.7,886.4 L147.7,872.6 L137.5,863.3Z" fill="#ecdcd8"/><path d="M277.0,864.8 L270.5,871.3 L242.3,875.0 L211.1,867.8 L210.2,850.0 L266.2,807.5Z" fill="#f2f0f0"/><path d="M134.4,865.7 L105.0,919.6 L79.7,919.1 L40.0,899.1 L40.0,889.3Z" fill="#e0ad9e"/><path d="M137.5,863.3 L147.7,872.6 L141.1,917.4 L128.0,931.2 L105.0,919.6 L134.4,865.7Z" fill="#d99582"/><path d="M141.1,917.4 L147.7,872.6 L184.7,886.4 L182.1,897.1 L167.2,913.6Z" fill="#e0ad9e"/><path d="M204.0,877.4 L211.1,867.8 L242.3,875.0 L245.1,913.5 L225.7,920.8Z" fill="#e9eaed"/><path d="M245.1,913.5 L242.3,875.0 L270.5,871.3 L273.8,918.6Z" fill="#e3e5ec"/><path d="M345.0,875.0 L345.0,915.2 L286.4,931.7 L278.8,924.9 L273.8,918.6 L270.5,871.3 L277.0,864.8Z" fill="#dbe0ea"/><path d="M193.0,927.3 L182.1,897.1 L184.7,886.4 L204.0,877.4 L225.7,920.8 L222.6,929.8 L216.1,933.1Z" fill="#eddfdc"/><path d="M128.0,931.2 L141.1,917.4 L167.2,913.6 L168.8,931.7 L134.9,945.1Z" fill="#e0ad9e"/><path d="M168.8,931.7 L167.2,913.6 L182.1,897.1 L193.0,927.3 L180.5,940.0Z" fill="#e6c6bd"/><path d="M222.6,929.8 L225.7,920.8 L245.1,913.5 L273.8,918.6 L278.8,924.9 L233.6,941.5Z" fill="#d4dbe8"/><path d="M240.9,957.2 L233.6,941.5 L278.8,924.9 L286.4,931.7 L283.9,939.5 L273.7,951.4Z" fill="#d1d9e7"/><path d="M135.7,950.5 L134.9,945.1 L168.8,931.7 L180.5,940.0 L180.6,948.1 L170.9,963.3 L141.6,958.0Z" fill="#e2b5a9"/><path d="M180.6,948.1 L180.5,940.0 L193.0,927.3 L216.1,933.1 L212.4,941.0 L198.4,952.1Z" fill="#e9cec7"/><path d="M79.7,919.1 L105.0,919.6 L128.0,931.2 L134.9,945.1 L135.7,950.5 L95.9,975.5 L91.7,974.2Z" fill="#d17e69"/><path d="M203.3,975.3 L198.4,952.1 L212.4,941.0 L218.8,978.4Z" fill="#ebd7d1"/><path d="M218.8,978.4 L212.4,941.0 L216.1,933.1 L222.6,929.8 L233.6,941.5 L240.9,957.2 L229.1,984.2Z" fill="#e9cec7"/><path d="M170.9,963.3 L180.6,948.1 L198.4,952.1 L203.3,975.3 L181.3,980.5Z" fill="#e9cec7"/><path d="M229.1,984.2 L240.9,957.2 L273.7,951.4 L273.2,955.2 L242.8,1004.7 L241.3,1005.4 L238.3,1004.7Z" fill="#d1d9e7"/><path d="M242.8,1004.7 L273.2,955.2 L282.9,995.0Z" fill="#d1d9e7"/><path d="M311.1,988.9 L290.1,996.4 L282.9,995.0 L273.2,955.2 L273.7,951.4 L283.9,939.5Z" fill="#d1d9e7"/><path d="M95.9,975.5 L135.7,950.5 L141.6,958.0 L138.2,994.0 L108.9,993.1Z" fill="#d07a64"/><path d="M138.2,994.0 L141.6,958.0 L170.9,963.3 L181.3,980.5 L179.6,985.9 L156.2,1008.0 L151.2,1010.9Z" fill="#e2b5a9"/><path d="M179.6,985.9 L181.3,980.5 L203.3,975.3 L218.8,978.4 L229.1,984.2 L238.3,1004.7 L228.7,1012.2 L191.6,1000.4Z" fill="#f0e8e6"/><path d="M156.2,1008.0 L179.6,985.9 L191.6,1000.4 L187.7,1014.6Z" fill="#ebd7d1"/><path d="M198.5,1030.8 L187.7,1014.6 L191.6,1000.4 L228.7,1012.2 L222.4,1020.6Z" fill="#f0e8e6"/><path d="M151.2,1010.9 L156.2,1008.0 L187.7,1014.6 L198.5,1030.8 L182.0,1048.0 L168.5,1045.0 L150.5,1015.8Z" fill="#e9cec7"/><path d="M241.3,1005.4 L242.8,1004.7 L282.9,995.0 L290.1,996.4 L291.4,1037.7 L270.8,1048.1Z" fill="#d1d9e7"/><path d="M345.0,993.1 L345.0,1041.4 L291.4,1037.7 L290.1,996.4 L311.1,988.9Z" fill="#dbe0ea"/><path d="M182.0,1048.0 L198.5,1030.8 L222.4,1020.6 L225.3,1048.8 L190.3,1061.0Z" fill="#dbe0ea"/><path d="M239.7,1073.6 L225.3,1048.8 L222.4,1020.6 L228.7,1012.2 L238.3,1004.7 L241.3,1005.4 L270.8,1048.1 L262.1,1082.2Z" fill="#d1d9e7"/><path d="M196.5,1080.2 L190.3,1061.0 L225.3,1048.8 L239.7,1073.6Z" fill="#d4dbe8"/><path d="M168.5,1045.0 L182.0,1048.0 L190.3,1061.0 L196.5,1080.2 L187.3,1101.7 L134.1,1080.6Z" fill="#f0e8e6"/><path d="M40.0,1000.0 L40.0,899.1 L79.7,919.1 L91.7,974.2Z" fill="#d99582"/><path d="M40.0,1103.8 L40.0,1000.0 L91.7,974.2 L95.9,975.5 L108.9,993.1 L89.9,1050.4 L44.0,1101.4Z" fill="#db9c8a"/><path d="M108.9,993.1 L138.2,994.0 L151.2,1010.9 L150.5,1015.8 L89.9,1050.4Z" fill="#dda494"/><path d="M40.0,780.0 L130.5,780.0 L137.5,863.3 L134.4,865.7 L40.0,889.3Z" fill="#e9cec7"/><path d="M151.2,780.0 L274.8,780.0 L266.2,807.5 L210.2,850.0Z" fill="#f2f0f0"/><path d="M274.8,780.0 L345.0,780.0 L345.0,875.0 L277.0,864.8 L266.2,807.5Z" fill="#e6e8ed"/><path d="M345.0,1041.4 L345.0,1140.0 L287.3,1140.0 L262.1,1082.2 L270.8,1048.1 L291.4,1037.7Z" fill="#d7dde8"/><path d="M287.3,1140.0 L196.2,1140.0 L187.3,1101.7 L196.5,1080.2 L239.7,1073.6 L262.1,1082.2Z" fill="#dbe0ea"/><path d="M196.2,1140.0 L40.0,1140.0 L40.0,1103.8 L44.0,1101.4 L134.1,1080.6 L187.3,1101.7Z" fill="#f1ebea"/><path d="M44.0,1101.4 L89.9,1050.4 L150.5,1015.8 L168.5,1045.0 L134.1,1080.6Z" fill="#ebd7d1"/><path d="M345.0,915.2 L345.0,993.1 L311.1,988.9 L283.9,939.5 L286.4,931.7Z" fill="#dbe0ea"/></g></g></g><text x="174.0" y="857.2" font-size="10.4" font-weight="bold" fill="#fff" stroke="#fff" stroke-width="2.6" stroke-linejoin="round" text-anchor="middle" textLength="5.9" lengthAdjust="spacingAndGlyphs">0</text><text x="174.0" y="857.2" font-size="10.4" font-weight="bold" fill="#2a2a2a" stroke="#2a2a2a" stroke-width="0.35" text-anchor="middle" textLength="5.9" lengthAdjust="spacingAndGlyphs">0</text><text x="246.5" y="853.5" font-size="10.4" font-weight="bold" fill="#fff" stroke="#fff" stroke-width="2.6" stroke-linejoin="round" text-anchor="middle" textLength="5.9" lengthAdjust="spacingAndGlyphs">2</text><text x="246.5" y="853.5" font-size="10.4" font-weight="bold" fill="#2a2a2a" stroke="#2a2a2a" stroke-width="0.35" text-anchor="middle" textLength="5.9" lengthAdjust="spacingAndGlyphs">2</text><text x="106.8" y="890.5" font-size="10.4" font-weight="bold" fill="#fff" stroke="#fff" stroke-width="2.6" stroke-linejoin="round" text-anchor="middle" textLength="11.8" lengthAdjust="spacingAndGlyphs">26</text><text x="106.8" y="890.5" font-size="10.4" font-weight="bold" fill="#2a2a2a" stroke="#2a2a2a" stroke-width="0.35" text-anchor="middle" textLength="11.8" lengthAdjust="spacingAndGlyphs">26</text><text x="131.5" y="904.0" font-size="10.4" font-weight="bold" fill="#fff" stroke="#fff" stroke-width="2.6" stroke-linejoin="round" text-anchor="middle" textLength="11.8" lengthAdjust="spacingAndGlyphs">13</text><text x="131.5" y="904.0" font-size="10.4" font-weight="bold" fill="#2a2a2a" stroke="#2a2a2a" stroke-width="0.35" text-anchor="middle" textLength="11.8" lengthAdjust="spacingAndGlyphs">13</text><text x="155.2" y="907.5" font-size="10.4" font-weight="bold" fill="#fff" stroke="#fff" stroke-width="2.6" stroke-linejoin="round" text-anchor="middle" textLength="5.9" lengthAdjust="spacingAndGlyphs">3</text><text x="155.2" y="907.5" font-size="10.4" font-weight="bold" fill="#2a2a2a" stroke="#2a2a2a" stroke-width="0.35" text-anchor="middle" textLength="5.9" lengthAdjust="spacingAndGlyphs">3</text><text x="235.2" y="902.8" font-size="10.4" font-weight="bold" fill="#fff" stroke="#fff" stroke-width="2.6" stroke-linejoin="round" text-anchor="middle" textLength="5.9" lengthAdjust="spacingAndGlyphs">9</text><text x="235.2" y="902.8" font-size="10.4" font-weight="bold" fill="#2a2a2a" stroke="#2a2a2a" stroke-width="0.35" text-anchor="middle" textLength="5.9" lengthAdjust="spacingAndGlyphs">9</text><text x="252.8" y="901.5" font-size="10.4" font-weight="bold" fill="#fff" stroke="#fff" stroke-width="2.6" stroke-linejoin="round" text-anchor="middle" textLength="11.8" lengthAdjust="spacingAndGlyphs">23</text><text x="252.8" y="901.5" font-size="10.4" font-weight="bold" fill="#2a2a2a" stroke="#2a2a2a" stroke-width="0.35" text-anchor="middle" textLength="11.8" lengthAdjust="spacingAndGlyphs">23</text><text x="291.8" y="898.8" font-size="10.4" font-weight="bold" fill="#fff" stroke="#fff" stroke-width="2.6" stroke-linejoin="round" text-anchor="middle" textLength="11.8" lengthAdjust="spacingAndGlyphs">19</text><text x="291.8" y="898.8" font-size="10.4" font-weight="bold" fill="#2a2a2a" stroke="#2a2a2a" stroke-width="0.35" text-anchor="middle" textLength="11.8" lengthAdjust="spacingAndGlyphs">19</text><text x="202.8" y="919.0" font-size="10.4" font-weight="bold" fill="#fff" stroke="#fff" stroke-width="2.6" stroke-linejoin="round" text-anchor="middle" textLength="11.8" lengthAdjust="spacingAndGlyphs">24</text><text x="202.8" y="919.0" font-size="10.4" font-weight="bold" fill="#2a2a2a" stroke="#2a2a2a" stroke-width="0.35" text-anchor="middle" textLength="11.8" lengthAdjust="spacingAndGlyphs">24</text><text x="158.5" y="929.8" font-size="10.4" font-weight="bold" fill="#fff" stroke="#fff" stroke-width="2.6" stroke-linejoin="round" text-anchor="middle" textLength="11.8" lengthAdjust="spacingAndGlyphs">18</text><text x="158.5" y="929.8" font-size="10.4" font-weight="bold" fill="#2a2a2a" stroke="#2a2a2a" stroke-width="0.35" text-anchor="middle" textLength="11.8" lengthAdjust="spacingAndGlyphs">18</text><text x="178.0" y="928.0" font-size="10.4" font-weight="bold" fill="#fff" stroke="#fff" stroke-width="2.6" stroke-linejoin="round" text-anchor="middle" textLength="11.8" lengthAdjust="spacingAndGlyphs">15</text><text x="178.0" y="928.0" font-size="10.4" font-weight="bold" fill="#2a2a2a" stroke="#2a2a2a" stroke-width="0.35" text-anchor="middle" textLength="11.8" lengthAdjust="spacingAndGlyphs">15</text><text x="247.0" y="934.2" font-size="10.4" font-weight="bold" fill="#fff" stroke="#fff" stroke-width="2.6" stroke-linejoin="round" text-anchor="middle" textLength="11.8" lengthAdjust="spacingAndGlyphs">11</text><text x="247.0" y="934.2" font-size="10.4" font-weight="bold" fill="#2a2a2a" stroke="#2a2a2a" stroke-width="0.35" text-anchor="middle" textLength="11.8" lengthAdjust="spacingAndGlyphs">11</text><text x="250.8" y="944.5" font-size="10.4" font-weight="bold" fill="#fff" stroke="#fff" stroke-width="2.6" stroke-linejoin="round" text-anchor="middle" textLength="11.8" lengthAdjust="spacingAndGlyphs">22</text><text x="250.8" y="944.5" font-size="10.4" font-weight="bold" fill="#2a2a2a" stroke="#2a2a2a" stroke-width="0.35" text-anchor="middle" textLength="11.8" lengthAdjust="spacingAndGlyphs">22</text><text x="165.0" y="946.2" font-size="10.4" font-weight="bold" fill="#fff" stroke="#fff" stroke-width="2.6" stroke-linejoin="round" text-anchor="middle" textLength="11.8" lengthAdjust="spacingAndGlyphs">16</text><text x="165.0" y="946.2" font-size="10.4" font-weight="bold" fill="#2a2a2a" stroke="#2a2a2a" stroke-width="0.35" text-anchor="middle" textLength="11.8" lengthAdjust="spacingAndGlyphs">16</text><text x="196.0" y="945.8" font-size="10.4" font-weight="bold" fill="#fff" stroke="#fff" stroke-width="2.6" stroke-linejoin="round" text-anchor="middle" textLength="5.9" lengthAdjust="spacingAndGlyphs">8</text><text x="196.0" y="945.8" font-size="10.4" font-weight="bold" fill="#2a2a2a" stroke="#2a2a2a" stroke-width="0.35" text-anchor="middle" textLength="5.9" lengthAdjust="spacingAndGlyphs">8</text><text x="105.5" y="955.8" font-size="10.4" font-weight="bold" fill="#fff" stroke="#fff" stroke-width="2.6" stroke-linejoin="round" text-anchor="middle" textLength="11.8" lengthAdjust="spacingAndGlyphs">14</text><text x="105.5" y="955.8" font-size="10.4" font-weight="bold" fill="#2a2a2a" stroke="#2a2a2a" stroke-width="0.35" text-anchor="middle" textLength="11.8" lengthAdjust="spacingAndGlyphs">14</text><text x="207.5" y="960.2" font-size="10.4" font-weight="bold" fill="#fff" stroke="#fff" stroke-width="2.6" stroke-linejoin="round" text-anchor="middle" textLength="11.8" lengthAdjust="spacingAndGlyphs">21</text><text x="207.5" y="960.2" font-size="10.4" font-weight="bold" fill="#2a2a2a" stroke="#2a2a2a" stroke-width="0.35" text-anchor="middle" textLength="11.8" lengthAdjust="spacingAndGlyphs">21</text><text x="222.2" y="957.8" font-size="10.4" font-weight="bold" fill="#fff" stroke="#fff" stroke-width="2.6" stroke-linejoin="round" text-anchor="middle" textLength="11.8" lengthAdjust="spacingAndGlyphs">20</text><text x="222.2" y="957.8" font-size="10.4" font-weight="bold" fill="#2a2a2a" stroke="#2a2a2a" stroke-width="0.35" text-anchor="middle" textLength="11.8" lengthAdjust="spacingAndGlyphs">20</text><text x="192.0" y="963.5" font-size="10.4" font-weight="bold" fill="#fff" stroke="#fff" stroke-width="2.6" stroke-linejoin="round" text-anchor="middle" textLength="11.8" lengthAdjust="spacingAndGlyphs">32</text><text x="192.0" y="963.5" font-size="10.4" font-weight="bold" fill="#2a2a2a" stroke="#2a2a2a" stroke-width="0.35" text-anchor="middle" textLength="11.8" lengthAdjust="spacingAndGlyphs">32</text><text x="255.8" y="972.5" font-size="10.4" font-weight="bold" fill="#fff" stroke="#fff" stroke-width="2.6" stroke-linejoin="round" text-anchor="middle" textLength="5.9" lengthAdjust="spacingAndGlyphs">4</text><text x="255.8" y="972.5" font-size="10.4" font-weight="bold" fill="#2a2a2a" stroke="#2a2a2a" stroke-width="0.35" text-anchor="middle" textLength="5.9" lengthAdjust="spacingAndGlyphs">4</text><text x="268.8" y="980.5" font-size="10.4" font-weight="bold" fill="#fff" stroke="#fff" stroke-width="2.6" stroke-linejoin="round" text-anchor="middle" textLength="11.8" lengthAdjust="spacingAndGlyphs">31</text><text x="268.8" y="980.5" font-size="10.4" font-weight="bold" fill="#2a2a2a" stroke="#2a2a2a" stroke-width="0.35" text-anchor="middle" textLength="11.8" lengthAdjust="spacingAndGlyphs">31</text><text x="287.2" y="976.0" font-size="10.4" font-weight="bold" fill="#fff" stroke="#fff" stroke-width="2.6" stroke-linejoin="round" text-anchor="middle" textLength="11.8" lengthAdjust="spacingAndGlyphs">25</text><text x="287.2" y="976.0" font-size="10.4" font-weight="bold" fill="#2a2a2a" stroke="#2a2a2a" stroke-width="0.35" text-anchor="middle" textLength="11.8" lengthAdjust="spacingAndGlyphs">25</text><text x="121.0" y="980.5" font-size="10.4" font-weight="bold" fill="#fff" stroke="#fff" stroke-width="2.6" stroke-linejoin="round" text-anchor="middle" textLength="11.8" lengthAdjust="spacingAndGlyphs">10</text><text x="121.0" y="980.5" font-size="10.4" font-weight="bold" fill="#2a2a2a" stroke="#2a2a2a" stroke-width="0.35" text-anchor="middle" textLength="11.8" lengthAdjust="spacingAndGlyphs">10</text><text x="158.2" y="984.0" font-size="10.4" font-weight="bold" fill="#fff" stroke="#fff" stroke-width="2.6" stroke-linejoin="round" text-anchor="middle" textLength="5.9" lengthAdjust="spacingAndGlyphs">5</text><text x="158.2" y="984.0" font-size="10.4" font-weight="bold" fill="#2a2a2a" stroke="#2a2a2a" stroke-width="0.35" text-anchor="middle" textLength="5.9" lengthAdjust="spacingAndGlyphs">5</text><text x="200.0" y="997.5" font-size="10.4" font-weight="bold" fill="#fff" stroke="#fff" stroke-width="2.6" stroke-linejoin="round" text-anchor="middle" textLength="11.8" lengthAdjust="spacingAndGlyphs">12</text><text x="200.0" y="997.5" font-size="10.4" font-weight="bold" fill="#2a2a2a" stroke="#2a2a2a" stroke-width="0.35" text-anchor="middle" textLength="11.8" lengthAdjust="spacingAndGlyphs">12</text><text x="183.8" y="1011.0" font-size="10.4" font-weight="bold" fill="#fff" stroke="#fff" stroke-width="2.6" stroke-linejoin="round" text-anchor="middle" textLength="11.8" lengthAdjust="spacingAndGlyphs">28</text><text x="183.8" y="1011.0" font-size="10.4" font-weight="bold" fill="#2a2a2a" stroke="#2a2a2a" stroke-width="0.35" text-anchor="middle" textLength="11.8" lengthAdjust="spacingAndGlyphs">28</text><text x="194.8" y="1014.0" font-size="10.4" font-weight="bold" fill="#fff" stroke="#fff" stroke-width="2.6" stroke-linejoin="round" text-anchor="middle" textLength="5.9" lengthAdjust="spacingAndGlyphs">7</text><text x="194.8" y="1014.0" font-size="10.4" font-weight="bold" fill="#2a2a2a" stroke="#2a2a2a" stroke-width="0.35" text-anchor="middle" textLength="5.9" lengthAdjust="spacingAndGlyphs">7</text><text x="181.2" y="1023.0" font-size="10.4" font-weight="bold" fill="#fff" stroke="#fff" stroke-width="2.6" stroke-linejoin="round" text-anchor="middle" textLength="11.8" lengthAdjust="spacingAndGlyphs">29</text><text x="181.2" y="1023.0" font-size="10.4" font-weight="bold" fill="#2a2a2a" stroke="#2a2a2a" stroke-width="0.35" text-anchor="middle" textLength="11.8" lengthAdjust="spacingAndGlyphs">29</text><text x="278.5" y="1021.0" font-size="10.4" font-weight="bold" fill="#fff" stroke="#fff" stroke-width="2.6" stroke-linejoin="round" text-anchor="middle" textLength="5.9" lengthAdjust="spacingAndGlyphs">1</text><text x="278.5" y="1021.0" font-size="10.4" font-weight="bold" fill="#2a2a2a" stroke="#2a2a2a" stroke-width="0.35" text-anchor="middle" textLength="5.9" lengthAdjust="spacingAndGlyphs">1</text><text x="303.0" y="1020.2" font-size="10.4" font-weight="bold" fill="#fff" stroke="#fff" stroke-width="2.6" stroke-linejoin="round" text-anchor="middle" textLength="11.8" lengthAdjust="spacingAndGlyphs">33</text><text x="303.0" y="1020.2" font-size="10.4" font-weight="bold" fill="#2a2a2a" stroke="#2a2a2a" stroke-width="0.35" text-anchor="middle" textLength="11.8" lengthAdjust="spacingAndGlyphs">33</text><text x="210.5" y="1051.0" font-size="10.4" font-weight="bold" fill="#fff" stroke="#fff" stroke-width="2.6" stroke-linejoin="round" text-anchor="middle" textLength="11.8" lengthAdjust="spacingAndGlyphs">17</text><text x="210.5" y="1051.0" font-size="10.4" font-weight="bold" fill="#2a2a2a" stroke="#2a2a2a" stroke-width="0.35" text-anchor="middle" textLength="11.8" lengthAdjust="spacingAndGlyphs">17</text><text x="239.5" y="1048.0" font-size="10.4" font-weight="bold" fill="#fff" stroke="#fff" stroke-width="2.6" stroke-linejoin="round" text-anchor="middle" textLength="5.9" lengthAdjust="spacingAndGlyphs">6</text><text x="239.5" y="1048.0" font-size="10.4" font-weight="bold" fill="#2a2a2a" stroke="#2a2a2a" stroke-width="0.35" text-anchor="middle" textLength="5.9" lengthAdjust="spacingAndGlyphs">6</text><text x="214.5" y="1062.5" font-size="10.4" font-weight="bold" fill="#fff" stroke="#fff" stroke-width="2.6" stroke-linejoin="round" text-anchor="middle" textLength="11.8" lengthAdjust="spacingAndGlyphs">30</text><text x="214.5" y="1062.5" font-size="10.4" font-weight="bold" fill="#2a2a2a" stroke="#2a2a2a" stroke-width="0.35" text-anchor="middle" textLength="11.8" lengthAdjust="spacingAndGlyphs">30</text><text x="169.5" y="1077.0" font-size="10.4" font-weight="bold" fill="#fff" stroke="#fff" stroke-width="2.6" stroke-linejoin="round" text-anchor="middle" textLength="11.8" lengthAdjust="spacingAndGlyphs">27</text><text x="169.5" y="1077.0" font-size="10.4" font-weight="bold" fill="#2a2a2a" stroke="#2a2a2a" stroke-width="0.35" text-anchor="middle" textLength="11.8" lengthAdjust="spacingAndGlyphs">27</text><rect x="340.3" y="789.0" width="11.7" height="346.7" fill="url(#cmap)" stroke="#555" stroke-width="0.9"/><line x1="352.0" y1="814.7" x2="355.5" y2="814.7" stroke="#333" stroke-width="0.9"/><text x="357.8" y="817.8" font-size="9.00" font-weight="bold" fill="#262626" text-anchor="start" textLength="19.8" lengthAdjust="spacingAndGlyphs">0.50</text><line x1="352.0" y1="888.8" x2="355.5" y2="888.8" stroke="#333" stroke-width="0.9"/><text x="357.8" y="891.9" font-size="9.00" font-weight="bold" fill="#262626" text-anchor="start" textLength="19.8" lengthAdjust="spacingAndGlyphs">0.25</text><line x1="352.0" y1="962.9" x2="355.5" y2="962.9" stroke="#333" stroke-width="0.9"/><text x="357.8" y="966.0" font-size="9.00" font-weight="bold" fill="#262626" text-anchor="start" textLength="19.8" lengthAdjust="spacingAndGlyphs">0.00</text><line x1="352.0" y1="1037.0" x2="355.5" y2="1037.0" stroke="#333" stroke-width="0.9"/><text x="357.8" y="1040.1" font-size="9.00" font-weight="bold" fill="#262626" text-anchor="start" textLength="26.7" lengthAdjust="spacingAndGlyphs">−0.25</text><line x1="352.0" y1="1111.1" x2="355.5" y2="1111.1" stroke="#333" stroke-width="0.9"/><text x="357.8" y="1114.2" font-size="9.00" font-weight="bold" fill="#262626" text-anchor="start" textLength="26.7" lengthAdjust="spacingAndGlyphs">−0.50</text><text transform="translate(424.3,766.6) scale(1.020,1)" x="0" y="0" font-size="28.5" font-weight="bold" fill="#000">D</text><text x="571.4" y="785.3" font-size="12.30" font-weight="bold" fill="#262626" text-anchor="middle" textLength="88.7" lengthAdjust="spacingAndGlyphs">Proliferation</text><g transform="matrix(1.0000,0,0,1.0000,377.25,0.00)"><linearGradient id="tg3" gradientUnits="userSpaceOnUse" x1="120" y1="1024" x2="96" y2="1059"><stop offset="0" stop-color="#dfe7f3" stop-opacity="0.21"/><stop offset="1" stop-color="#dfe7f3" stop-opacity="0.60"/></linearGradient><use href="#ut" fill="url(#tg3)" filter="url(#fsoft1)"/><g mask="url(#um)"><rect x="40" y="780" width="305" height="360" fill="#f2f0f0"/><g filter="url(#fblob)"><path d="M188.8,824.7 L210.2,850.0 L211.1,867.8 L204.0,877.4 L184.7,886.4 L147.7,872.6 L144.6,869.7Z" fill="#f0e8e6"/><path d="M277.0,864.8 L270.5,871.3 L242.3,875.0 L211.1,867.8 L210.2,850.0 L241.2,826.5 L275.8,858.5Z" fill="#9db5d8"/><path d="M134.4,865.7 L105.0,919.6 L79.7,919.1 L40.0,899.1 L40.0,889.3Z" fill="#e9cec7"/><path d="M144.6,869.7 L147.7,872.6 L141.1,917.4 L128.0,931.2 L105.0,919.6 L134.4,865.7 L135.1,865.2Z" fill="#d2816c"/><path d="M141.1,917.4 L147.7,872.6 L184.7,886.4 L182.1,897.1 L167.2,913.6Z" fill="#c9664d"/><path d="M204.0,877.4 L211.1,867.8 L242.3,875.0 L245.1,913.5 L225.7,920.8Z" fill="#c4d0e3"/><path d="M245.1,913.5 L242.3,875.0 L270.5,871.3 L273.8,918.6Z" fill="#b5c6df"/><path d="M345.0,875.0 L345.0,937.1 L288.8,933.8 L278.8,924.9 L273.8,918.6 L270.5,871.3 L277.0,864.8Z" fill="#b5c6df"/><path d="M193.0,927.3 L182.1,897.1 L184.7,886.4 L204.0,877.4 L225.7,920.8 L222.6,929.8 L216.1,933.1Z" fill="#e4beb3"/><path d="M128.0,931.2 L141.1,917.4 L167.2,913.6 L168.8,931.7 L134.9,945.1Z" fill="#c9664d"/><path d="M168.8,931.7 L167.2,913.6 L182.1,897.1 L193.0,927.3 L180.5,940.0Z" fill="#cb6c55"/><path d="M222.6,929.8 L225.7,920.8 L245.1,913.5 L273.8,918.6 L278.8,924.9 L233.6,941.5Z" fill="#bdcbe1"/><path d="M240.9,957.2 L233.6,941.5 L278.8,924.9 L288.8,933.8 L273.7,951.4Z" fill="#aec0dd"/><path d="M135.7,950.5 L134.9,945.1 L168.8,931.7 L180.5,940.0 L180.6,948.1 L170.9,963.3 L141.6,958.0Z" fill="#cb6c55"/><path d="M180.6,948.1 L180.5,940.0 L193.0,927.3 L216.1,933.1 L212.4,941.0 L198.4,952.1Z" fill="#d99582"/><path d="M79.7,919.1 L105.0,919.6 L128.0,931.2 L134.9,945.1 L135.7,950.5 L95.9,975.5 L91.7,974.2Z" fill="#dda494"/><path d="M203.3,975.3 L198.4,952.1 L212.4,941.0 L218.8,978.4Z" fill="#e4beb3"/><path d="M218.8,978.4 L212.4,941.0 L216.1,933.1 L222.6,929.8 L233.6,941.5 L240.9,957.2 L229.1,984.2Z" fill="#eddfdc"/><path d="M170.9,963.3 L180.6,948.1 L198.4,952.1 L203.3,975.3 L181.3,980.5Z" fill="#d99582"/><path d="M229.1,984.2 L240.9,957.2 L273.7,951.4 L273.2,955.2 L242.8,1004.7 L241.3,1005.4 L238.3,1004.7Z" fill="#789bcc"/><path d="M242.8,1004.7 L273.2,955.2 L281.0,987.0 L268.6,998.5Z" fill="#81a1cf"/><path d="M345.0,937.1 L345.0,976.9 L330.4,982.1 L281.0,987.0 L273.2,955.2 L273.7,951.4 L288.8,933.8Z" fill="#9db5d8"/><path d="M95.9,975.5 L135.7,950.5 L141.6,958.0 L138.2,994.0 L108.9,993.1Z" fill="#e0ad9e"/><path d="M138.2,994.0 L141.6,958.0 L170.9,963.3 L181.3,980.5 L179.6,985.9 L156.2,1008.0 L151.2,1010.9Z" fill="#d68e7b"/><path d="M179.6,985.9 L181.3,980.5 L203.3,975.3 L218.8,978.4 L229.1,984.2 L238.3,1004.7 L228.7,1012.2 L191.6,1000.4Z" fill="#db9c8a"/><path d="M156.2,1008.0 L179.6,985.9 L191.6,1000.4 L187.7,1014.6Z" fill="#db9c8a"/><path d="M198.5,1030.8 L187.7,1014.6 L191.6,1000.4 L228.7,1012.2 L222.4,1020.6Z" fill="#dda494"/><path d="M151.2,1010.9 L156.2,1008.0 L187.7,1014.6 L198.5,1030.8 L182.0,1048.0 L168.5,1045.0 L150.5,1015.8Z" fill="#dda494"/><path d="M241.3,1005.4 L242.8,1004.7 L268.6,998.5 L290.6,1012.9 L291.4,1037.7 L270.8,1048.1Z" fill="#94aed5"/><path d="M345.0,976.9 L345.0,1041.4 L291.4,1037.7 L290.6,1012.9 L330.4,982.1Z" fill="#bdcbe1"/><path d="M182.0,1048.0 L198.5,1030.8 L222.4,1020.6 L225.3,1048.8 L190.3,1061.0Z" fill="#f2f0f0"/><path d="M239.7,1073.6 L225.3,1048.8 L222.4,1020.6 L228.7,1012.2 L238.3,1004.7 L241.3,1005.4 L270.8,1048.1 L262.1,1082.2Z" fill="#aec0dd"/><path d="M196.5,1080.2 L190.3,1061.0 L225.3,1048.8 L239.7,1073.6Z" fill="#d4dbe8"/><path d="M168.5,1045.0 L182.0,1048.0 L190.3,1061.0 L196.5,1080.2 L187.3,1101.7 L134.1,1080.6Z" fill="#aec0dd"/><path d="M40.0,1000.0 L40.0,899.1 L79.7,919.1 L91.7,974.2Z" fill="#e2b5a9"/><path d="M40.0,1103.8 L40.0,1000.0 L91.7,974.2 L95.9,975.5 L108.9,993.1 L89.9,1050.4 L44.0,1101.4Z" fill="#e4beb3"/><path d="M108.9,993.1 L138.2,994.0 L151.2,1010.9 L150.5,1015.8 L89.9,1050.4Z" fill="#e2b5a9"/><path d="M40.0,780.0 L106.7,780.0 L135.1,865.2 L134.4,865.7 L40.0,889.3Z" fill="#eddfdc"/><path d="M170.2,780.0 L256.7,780.0 L241.2,826.5 L210.2,850.0 L188.8,824.7Z" fill="#dbe0ea"/><path d="M298.2,780.0 L345.0,780.0 L345.0,875.0 L277.0,864.8 L275.8,858.5Z" fill="#aec0dd"/><path d="M345.0,1041.4 L345.0,1140.0 L287.3,1140.0 L262.1,1082.2 L270.8,1048.1 L291.4,1037.7Z" fill="#aec0dd"/><path d="M287.3,1140.0 L196.2,1140.0 L187.3,1101.7 L196.5,1080.2 L239.7,1073.6 L262.1,1082.2Z" fill="#b5c6df"/><path d="M196.2,1140.0 L40.0,1140.0 L40.0,1103.8 L44.0,1101.4 L134.1,1080.6 L187.3,1101.7Z" fill="#aec0dd"/><path d="M44.0,1101.4 L89.9,1050.4 L150.5,1015.8 L168.5,1045.0 L134.1,1080.6Z" fill="#f2f0f0"/><path d="M256.7,780.0 L298.2,780.0 L275.8,858.5 L241.2,826.5Z" fill="#9db5d8"/><path d="M106.7,780.0 L170.2,780.0 L188.8,824.7 L144.6,869.7 L135.1,865.2Z" fill="#f0e8e6"/><path d="M290.6,1012.9 L268.6,998.5 L281.0,987.0 L330.4,982.1Z" fill="#a6bbdb"/></g></g></g><text x="551.2" y="857.2" font-size="10.4" font-weight="bold" fill="#fff" stroke="#fff" stroke-width="2.6" stroke-linejoin="round" text-anchor="middle" textLength="5.9" lengthAdjust="spacingAndGlyphs">0</text><text x="551.2" y="857.2" font-size="10.4" font-weight="bold" fill="#2a2a2a" stroke="#2a2a2a" stroke-width="0.35" text-anchor="middle" textLength="5.9" lengthAdjust="spacingAndGlyphs">0</text><text x="623.8" y="853.5" font-size="10.4" font-weight="bold" fill="#fff" stroke="#fff" stroke-width="2.6" stroke-linejoin="round" text-anchor="middle" textLength="5.9" lengthAdjust="spacingAndGlyphs">2</text><text x="623.8" y="853.5" font-size="10.4" font-weight="bold" fill="#2a2a2a" stroke="#2a2a2a" stroke-width="0.35" text-anchor="middle" textLength="5.9" lengthAdjust="spacingAndGlyphs">2</text><text x="484.0" y="890.5" font-size="10.4" font-weight="bold" fill="#fff" stroke="#fff" stroke-width="2.6" stroke-linejoin="round" text-anchor="middle" textLength="11.8" lengthAdjust="spacingAndGlyphs">26</text><text x="484.0" y="890.5" font-size="10.4" font-weight="bold" fill="#2a2a2a" stroke="#2a2a2a" stroke-width="0.35" text-anchor="middle" textLength="11.8" lengthAdjust="spacingAndGlyphs">26</text><text x="508.8" y="904.0" font-size="10.4" font-weight="bold" fill="#fff" stroke="#fff" stroke-width="2.6" stroke-linejoin="round" text-anchor="middle" textLength="11.8" lengthAdjust="spacingAndGlyphs">13</text><text x="508.8" y="904.0" font-size="10.4" font-weight="bold" fill="#2a2a2a" stroke="#2a2a2a" stroke-width="0.35" text-anchor="middle" textLength="11.8" lengthAdjust="spacingAndGlyphs">13</text><text x="532.5" y="907.5" font-size="10.4" font-weight="bold" fill="#fff" stroke="#fff" stroke-width="2.6" stroke-linejoin="round" text-anchor="middle" textLength="5.9" lengthAdjust="spacingAndGlyphs">3</text><text x="532.5" y="907.5" font-size="10.4" font-weight="bold" fill="#2a2a2a" stroke="#2a2a2a" stroke-width="0.35" text-anchor="middle" textLength="5.9" lengthAdjust="spacingAndGlyphs">3</text><text x="612.5" y="902.8" font-size="10.4" font-weight="bold" fill="#fff" stroke="#fff" stroke-width="2.6" stroke-linejoin="round" text-anchor="middle" textLength="5.9" lengthAdjust="spacingAndGlyphs">9</text><text x="612.5" y="902.8" font-size="10.4" font-weight="bold" fill="#2a2a2a" stroke="#2a2a2a" stroke-width="0.35" text-anchor="middle" textLength="5.9" lengthAdjust="spacingAndGlyphs">9</text><text x="630.0" y="901.5" font-size="10.4" font-weight="bold" fill="#fff" stroke="#fff" stroke-width="2.6" stroke-linejoin="round" text-anchor="middle" textLength="11.8" lengthAdjust="spacingAndGlyphs">23</text><text x="630.0" y="901.5" font-size="10.4" font-weight="bold" fill="#2a2a2a" stroke="#2a2a2a" stroke-width="0.35" text-anchor="middle" textLength="11.8" lengthAdjust="spacingAndGlyphs">23</text><text x="669.0" y="898.8" font-size="10.4" font-weight="bold" fill="#fff" stroke="#fff" stroke-width="2.6" stroke-linejoin="round" text-anchor="middle" textLength="11.8" lengthAdjust="spacingAndGlyphs">19</text><text x="669.0" y="898.8" font-size="10.4" font-weight="bold" fill="#2a2a2a" stroke="#2a2a2a" stroke-width="0.35" text-anchor="middle" textLength="11.8" lengthAdjust="spacingAndGlyphs">19</text><text x="580.0" y="919.0" font-size="10.4" font-weight="bold" fill="#fff" stroke="#fff" stroke-width="2.6" stroke-linejoin="round" text-anchor="middle" textLength="11.8" lengthAdjust="spacingAndGlyphs">24</text><text x="580.0" y="919.0" font-size="10.4" font-weight="bold" fill="#2a2a2a" stroke="#2a2a2a" stroke-width="0.35" text-anchor="middle" textLength="11.8" lengthAdjust="spacingAndGlyphs">24</text><text x="535.8" y="929.8" font-size="10.4" font-weight="bold" fill="#fff" stroke="#fff" stroke-width="2.6" stroke-linejoin="round" text-anchor="middle" textLength="11.8" lengthAdjust="spacingAndGlyphs">18</text><text x="535.8" y="929.8" font-size="10.4" font-weight="bold" fill="#2a2a2a" stroke="#2a2a2a" stroke-width="0.35" text-anchor="middle" textLength="11.8" lengthAdjust="spacingAndGlyphs">18</text><text x="555.2" y="928.0" font-size="10.4" font-weight="bold" fill="#fff" stroke="#fff" stroke-width="2.6" stroke-linejoin="round" text-anchor="middle" textLength="11.8" lengthAdjust="spacingAndGlyphs">15</text><text x="555.2" y="928.0" font-size="10.4" font-weight="bold" fill="#2a2a2a" stroke="#2a2a2a" stroke-width="0.35" text-anchor="middle" textLength="11.8" lengthAdjust="spacingAndGlyphs">15</text><text x="624.2" y="934.2" font-size="10.4" font-weight="bold" fill="#fff" stroke="#fff" stroke-width="2.6" stroke-linejoin="round" text-anchor="middle" textLength="11.8" lengthAdjust="spacingAndGlyphs">11</text><text x="624.2" y="934.2" font-size="10.4" font-weight="bold" fill="#2a2a2a" stroke="#2a2a2a" stroke-width="0.35" text-anchor="middle" textLength="11.8" lengthAdjust="spacingAndGlyphs">11</text><text x="628.0" y="944.5" font-size="10.4" font-weight="bold" fill="#fff" stroke="#fff" stroke-width="2.6" stroke-linejoin="round" text-anchor="middle" textLength="11.8" lengthAdjust="spacingAndGlyphs">22</text><text x="628.0" y="944.5" font-size="10.4" font-weight="bold" fill="#2a2a2a" stroke="#2a2a2a" stroke-width="0.35" text-anchor="middle" textLength="11.8" lengthAdjust="spacingAndGlyphs">22</text><text x="542.2" y="946.2" font-size="10.4" font-weight="bold" fill="#fff" stroke="#fff" stroke-width="2.6" stroke-linejoin="round" text-anchor="middle" textLength="11.8" lengthAdjust="spacingAndGlyphs">16</text><text x="542.2" y="946.2" font-size="10.4" font-weight="bold" fill="#2a2a2a" stroke="#2a2a2a" stroke-width="0.35" text-anchor="middle" textLength="11.8" lengthAdjust="spacingAndGlyphs">16</text><text x="573.2" y="945.8" font-size="10.4" font-weight="bold" fill="#fff" stroke="#fff" stroke-width="2.6" stroke-linejoin="round" text-anchor="middle" textLength="5.9" lengthAdjust="spacingAndGlyphs">8</text><text x="573.2" y="945.8" font-size="10.4" font-weight="bold" fill="#2a2a2a" stroke="#2a2a2a" stroke-width="0.35" text-anchor="middle" textLength="5.9" lengthAdjust="spacingAndGlyphs">8</text><text x="482.8" y="955.8" font-size="10.4" font-weight="bold" fill="#fff" stroke="#fff" stroke-width="2.6" stroke-linejoin="round" text-anchor="middle" textLength="11.8" lengthAdjust="spacingAndGlyphs">14</text><text x="482.8" y="955.8" font-size="10.4" font-weight="bold" fill="#2a2a2a" stroke="#2a2a2a" stroke-width="0.35" text-anchor="middle" textLength="11.8" lengthAdjust="spacingAndGlyphs">14</text><text x="584.8" y="960.2" font-size="10.4" font-weight="bold" fill="#fff" stroke="#fff" stroke-width="2.6" stroke-linejoin="round" text-anchor="middle" textLength="11.8" lengthAdjust="spacingAndGlyphs">21</text><text x="584.8" y="960.2" font-size="10.4" font-weight="bold" fill="#2a2a2a" stroke="#2a2a2a" stroke-width="0.35" text-anchor="middle" textLength="11.8" lengthAdjust="spacingAndGlyphs">21</text><text x="599.5" y="957.8" font-size="10.4" font-weight="bold" fill="#fff" stroke="#fff" stroke-width="2.6" stroke-linejoin="round" text-anchor="middle" textLength="11.8" lengthAdjust="spacingAndGlyphs">20</text><text x="599.5" y="957.8" font-size="10.4" font-weight="bold" fill="#2a2a2a" stroke="#2a2a2a" stroke-width="0.35" text-anchor="middle" textLength="11.8" lengthAdjust="spacingAndGlyphs">20</text><text x="569.2" y="963.5" font-size="10.4" font-weight="bold" fill="#fff" stroke="#fff" stroke-width="2.6" stroke-linejoin="round" text-anchor="middle" textLength="11.8" lengthAdjust="spacingAndGlyphs">32</text><text x="569.2" y="963.5" font-size="10.4" font-weight="bold" fill="#2a2a2a" stroke="#2a2a2a" stroke-width="0.35" text-anchor="middle" textLength="11.8" lengthAdjust="spacingAndGlyphs">32</text><text x="633.0" y="972.5" font-size="10.4" font-weight="bold" fill="#fff" stroke="#fff" stroke-width="2.6" stroke-linejoin="round" text-anchor="middle" textLength="5.9" lengthAdjust="spacingAndGlyphs">4</text><text x="633.0" y="972.5" font-size="10.4" font-weight="bold" fill="#2a2a2a" stroke="#2a2a2a" stroke-width="0.35" text-anchor="middle" textLength="5.9" lengthAdjust="spacingAndGlyphs">4</text><text x="646.0" y="980.5" font-size="10.4" font-weight="bold" fill="#fff" stroke="#fff" stroke-width="2.6" stroke-linejoin="round" text-anchor="middle" textLength="11.8" lengthAdjust="spacingAndGlyphs">31</text><text x="646.0" y="980.5" font-size="10.4" font-weight="bold" fill="#2a2a2a" stroke="#2a2a2a" stroke-width="0.35" text-anchor="middle" textLength="11.8" lengthAdjust="spacingAndGlyphs">31</text><text x="664.5" y="976.0" font-size="10.4" font-weight="bold" fill="#fff" stroke="#fff" stroke-width="2.6" stroke-linejoin="round" text-anchor="middle" textLength="11.8" lengthAdjust="spacingAndGlyphs">25</text><text x="664.5" y="976.0" font-size="10.4" font-weight="bold" fill="#2a2a2a" stroke="#2a2a2a" stroke-width="0.35" text-anchor="middle" textLength="11.8" lengthAdjust="spacingAndGlyphs">25</text><text x="498.2" y="980.5" font-size="10.4" font-weight="bold" fill="#fff" stroke="#fff" stroke-width="2.6" stroke-linejoin="round" text-anchor="middle" textLength="11.8" lengthAdjust="spacingAndGlyphs">10</text><text x="498.2" y="980.5" font-size="10.4" font-weight="bold" fill="#2a2a2a" stroke="#2a2a2a" stroke-width="0.35" text-anchor="middle" textLength="11.8" lengthAdjust="spacingAndGlyphs">10</text><text x="535.5" y="984.0" font-size="10.4" font-weight="bold" fill="#fff" stroke="#fff" stroke-width="2.6" stroke-linejoin="round" text-anchor="middle" textLength="5.9" lengthAdjust="spacingAndGlyphs">5</text><text x="535.5" y="984.0" font-size="10.4" font-weight="bold" fill="#2a2a2a" stroke="#2a2a2a" stroke-width="0.35" text-anchor="middle" textLength="5.9" lengthAdjust="spacingAndGlyphs">5</text><text x="577.2" y="997.5" font-size="10.4" font-weight="bold" fill="#fff" stroke="#fff" stroke-width="2.6" stroke-linejoin="round" text-anchor="middle" textLength="11.8" lengthAdjust="spacingAndGlyphs">12</text><text x="577.2" y="997.5" font-size="10.4" font-weight="bold" fill="#2a2a2a" stroke="#2a2a2a" stroke-width="0.35" text-anchor="middle" textLength="11.8" lengthAdjust="spacingAndGlyphs">12</text><text x="561.0" y="1011.0" font-size="10.4" font-weight="bold" fill="#fff" stroke="#fff" stroke-width="2.6" stroke-linejoin="round" text-anchor="middle" textLength="11.8" lengthAdjust="spacingAndGlyphs">28</text><text x="561.0" y="1011.0" font-size="10.4" font-weight="bold" fill="#2a2a2a" stroke="#2a2a2a" stroke-width="0.35" text-anchor="middle" textLength="11.8" lengthAdjust="spacingAndGlyphs">28</text><text x="572.0" y="1014.0" font-size="10.4" font-weight="bold" fill="#fff" stroke="#fff" stroke-width="2.6" stroke-linejoin="round" text-anchor="middle" textLength="5.9" lengthAdjust="spacingAndGlyphs">7</text><text x="572.0" y="1014.0" font-size="10.4" font-weight="bold" fill="#2a2a2a" stroke="#2a2a2a" stroke-width="0.35" text-anchor="middle" textLength="5.9" lengthAdjust="spacingAndGlyphs">7</text><text x="558.5" y="1023.0" font-size="10.4" font-weight="bold" fill="#fff" stroke="#fff" stroke-width="2.6" stroke-linejoin="round" text-anchor="middle" textLength="11.8" lengthAdjust="spacingAndGlyphs">29</text><text x="558.5" y="1023.0" font-size="10.4" font-weight="bold" fill="#2a2a2a" stroke="#2a2a2a" stroke-width="0.35" text-anchor="middle" textLength="11.8" lengthAdjust="spacingAndGlyphs">29</text><text x="655.8" y="1021.0" font-size="10.4" font-weight="bold" fill="#fff" stroke="#fff" stroke-width="2.6" stroke-linejoin="round" text-anchor="middle" textLength="5.9" lengthAdjust="spacingAndGlyphs">1</text><text x="655.8" y="1021.0" font-size="10.4" font-weight="bold" fill="#2a2a2a" stroke="#2a2a2a" stroke-width="0.35" text-anchor="middle" textLength="5.9" lengthAdjust="spacingAndGlyphs">1</text><text x="680.2" y="1020.2" font-size="10.4" font-weight="bold" fill="#fff" stroke="#fff" stroke-width="2.6" stroke-linejoin="round" text-anchor="middle" textLength="11.8" lengthAdjust="spacingAndGlyphs">33</text><text x="680.2" y="1020.2" font-size="10.4" font-weight="bold" fill="#2a2a2a" stroke="#2a2a2a" stroke-width="0.35" text-anchor="middle" textLength="11.8" lengthAdjust="spacingAndGlyphs">33</text><text x="587.8" y="1051.0" font-size="10.4" font-weight="bold" fill="#fff" stroke="#fff" stroke-width="2.6" stroke-linejoin="round" text-anchor="middle" textLength="11.8" lengthAdjust="spacingAndGlyphs">17</text><text x="587.8" y="1051.0" font-size="10.4" font-weight="bold" fill="#2a2a2a" stroke="#2a2a2a" stroke-width="0.35" text-anchor="middle" textLength="11.8" lengthAdjust="spacingAndGlyphs">17</text><text x="616.8" y="1048.0" font-size="10.4" font-weight="bold" fill="#fff" stroke="#fff" stroke-width="2.6" stroke-linejoin="round" text-anchor="middle" textLength="5.9" lengthAdjust="spacingAndGlyphs">6</text><text x="616.8" y="1048.0" font-size="10.4" font-weight="bold" fill="#2a2a2a" stroke="#2a2a2a" stroke-width="0.35" text-anchor="middle" textLength="5.9" lengthAdjust="spacingAndGlyphs">6</text><text x="591.8" y="1062.5" font-size="10.4" font-weight="bold" fill="#fff" stroke="#fff" stroke-width="2.6" stroke-linejoin="round" text-anchor="middle" textLength="11.8" lengthAdjust="spacingAndGlyphs">30</text><text x="591.8" y="1062.5" font-size="10.4" font-weight="bold" fill="#2a2a2a" stroke="#2a2a2a" stroke-width="0.35" text-anchor="middle" textLength="11.8" lengthAdjust="spacingAndGlyphs">30</text><text x="546.8" y="1077.0" font-size="10.4" font-weight="bold" fill="#fff" stroke="#fff" stroke-width="2.6" stroke-linejoin="round" text-anchor="middle" textLength="11.8" lengthAdjust="spacingAndGlyphs">27</text><text x="546.8" y="1077.0" font-size="10.4" font-weight="bold" fill="#2a2a2a" stroke="#2a2a2a" stroke-width="0.35" text-anchor="middle" textLength="11.8" lengthAdjust="spacingAndGlyphs">27</text><rect x="717.2" y="789.4" width="11.7" height="346.4" fill="url(#cmap)" stroke="#555" stroke-width="0.9"/><line x1="728.9" y1="809.4" x2="732.4" y2="809.4" stroke="#333" stroke-width="0.9"/><text x="734.7" y="812.5" font-size="9.00" font-weight="bold" fill="#262626" text-anchor="start" textLength="19.8" lengthAdjust="spacingAndGlyphs">0.16</text><line x1="728.9" y1="885.9" x2="732.4" y2="885.9" stroke="#333" stroke-width="0.9"/><text x="734.7" y="889.0" font-size="9.00" font-weight="bold" fill="#262626" text-anchor="start" textLength="19.8" lengthAdjust="spacingAndGlyphs">0.08</text><line x1="728.9" y1="962.4" x2="732.4" y2="962.4" stroke="#333" stroke-width="0.9"/><text x="734.7" y="965.5" font-size="9.00" font-weight="bold" fill="#262626" text-anchor="start" textLength="19.8" lengthAdjust="spacingAndGlyphs">0.00</text><line x1="728.9" y1="1040.0" x2="732.4" y2="1040.0" stroke="#333" stroke-width="0.9"/><text x="734.7" y="1043.1" font-size="9.00" font-weight="bold" fill="#262626" text-anchor="start" textLength="26.7" lengthAdjust="spacingAndGlyphs">−0.08</text><line x1="728.9" y1="1117.0" x2="732.4" y2="1117.0" stroke="#333" stroke-width="0.9"/><text x="734.7" y="1120.1" font-size="9.00" font-weight="bold" fill="#262626" text-anchor="start" textLength="26.7" lengthAdjust="spacingAndGlyphs">−0.16</text><text transform="translate(781.0,766.8) scale(1.090,1)" x="0" y="0" font-size="28.5" font-weight="bold" fill="#000">E</text><text x="948.5" y="785.1" font-size="12.30" font-weight="bold" fill="#262626" text-anchor="middle" textLength="139.0" lengthAdjust="spacingAndGlyphs">TGF-beta Response</text><g transform="matrix(1.0000,0,0,1.0000,754.25,0.00)"><linearGradient id="tg4" gradientUnits="userSpaceOnUse" x1="120" y1="1024" x2="96" y2="1059"><stop offset="0" stop-color="#dfe7f3" stop-opacity="0.21"/><stop offset="1" stop-color="#dfe7f3" stop-opacity="0.60"/></linearGradient><use href="#ut" fill="url(#tg4)" filter="url(#fsoft1)"/><g mask="url(#um)"><rect x="40" y="780" width="305" height="360" fill="#f2f0f0"/><g filter="url(#fblob)"><path d="M210.2,850.0 L211.1,867.8 L204.0,877.4 L184.7,886.4 L147.7,872.6 L146.0,871.0 L170.1,802.5Z" fill="#d68e7b"/><path d="M277.0,864.8 L270.5,871.3 L242.3,875.0 L211.1,867.8 L210.2,850.0 L266.2,807.5Z" fill="#d48873"/><path d="M125.6,881.8 L105.0,919.6 L79.7,919.1 L40.0,899.1 L40.0,865.4Z" fill="#c4d0e3"/><path d="M146.0,871.0 L147.7,872.6 L141.1,917.4 L128.0,931.2 L105.0,919.6 L125.6,881.8 L141.4,870.7Z" fill="#eaebee"/><path d="M141.1,917.4 L147.7,872.6 L184.7,886.4 L182.1,897.1 L167.2,913.6Z" fill="#f2f0f0"/><path d="M204.0,877.4 L211.1,867.8 L242.3,875.0 L245.1,913.5 L225.7,920.8Z" fill="#cb6c55"/><path d="M245.1,913.5 L242.3,875.0 L270.5,871.3 L273.8,918.6Z" fill="#d2816c"/><path d="M345.0,875.0 L345.0,937.1 L288.8,933.8 L278.8,924.9 L273.8,918.6 L270.5,871.3 L277.0,864.8Z" fill="#e6c6bd"/><path d="M193.0,927.3 L182.1,897.1 L184.7,886.4 L204.0,877.4 L225.7,920.8 L222.6,929.8 L216.1,933.1Z" fill="#dda494"/><path d="M128.0,931.2 L141.1,917.4 L167.2,913.6 L168.8,931.7 L134.9,945.1Z" fill="#f0e8e6"/><path d="M168.8,931.7 L167.2,913.6 L182.1,897.1 L193.0,927.3 L180.5,940.0Z" fill="#ebd7d1"/><path d="M222.6,929.8 L225.7,920.8 L245.1,913.5 L273.8,918.6 L278.8,924.9 L233.6,941.5Z" fill="#cd735c"/><path d="M240.9,957.2 L233.6,941.5 L278.8,924.9 L288.8,933.8 L273.7,951.4Z" fill="#d2816c"/><path d="M135.7,950.5 L134.9,945.1 L168.8,931.7 L180.5,940.0 L180.6,948.1 L170.9,963.3 L141.6,958.0Z" fill="#f0e8e6"/><path d="M180.6,948.1 L180.5,940.0 L193.0,927.3 L216.1,933.1 L212.4,941.0 L198.4,952.1Z" fill="#e9cec7"/><path d="M79.7,919.1 L105.0,919.6 L128.0,931.2 L134.9,945.1 L135.7,950.5 L95.9,975.5 L91.7,974.2Z" fill="#bdcbe1"/><path d="M203.3,975.3 L198.4,952.1 L212.4,941.0 L218.8,978.4Z" fill="#e9cec7"/><path d="M218.8,978.4 L212.4,941.0 L216.1,933.1 L222.6,929.8 L233.6,941.5 L240.9,957.2 L229.1,984.2Z" fill="#dda494"/><path d="M170.9,963.3 L180.6,948.1 L198.4,952.1 L203.3,975.3 L181.3,980.5Z" fill="#f2f0f0"/><path d="M229.1,984.2 L240.9,957.2 L273.7,951.4 L273.2,955.2 L242.8,1004.7 L241.3,1005.4 L238.3,1004.7Z" fill="#d2816c"/><path d="M242.8,1004.7 L273.2,955.2 L282.9,995.0Z" fill="#d99582"/><path d="M345.0,937.1 L345.0,976.9 L290.1,996.4 L282.9,995.0 L273.2,955.2 L273.7,951.4 L288.8,933.8Z" fill="#e0ad9e"/><path d="M95.9,975.5 L135.7,950.5 L141.6,958.0 L138.2,994.0 L108.9,993.1Z" fill="#c4d0e3"/><path d="M138.2,994.0 L141.6,958.0 L170.9,963.3 L181.3,980.5 L179.6,985.9 L156.2,1008.0 L151.2,1010.9Z" fill="#aec0dd"/><path d="M179.6,985.9 L181.3,980.5 L203.3,975.3 L218.8,978.4 L229.1,984.2 L238.3,1004.7 L228.7,1012.2 L191.6,1000.4Z" fill="#d4dbe8"/><path d="M156.2,1008.0 L179.6,985.9 L191.6,1000.4 L187.7,1014.6Z" fill="#aec0dd"/><path d="M198.5,1030.8 L187.7,1014.6 L191.6,1000.4 L228.7,1012.2 L222.4,1020.6Z" fill="#c4d0e3"/><path d="M151.2,1010.9 L156.2,1008.0 L187.7,1014.6 L198.5,1030.8 L182.0,1048.0 L168.5,1045.0 L150.5,1015.8Z" fill="#a6bbdb"/><path d="M241.3,1005.4 L242.8,1004.7 L282.9,995.0 L290.1,996.4 L291.4,1037.7 L270.8,1048.1Z" fill="#e4beb3"/><path d="M345.0,976.9 L345.0,1041.4 L291.4,1037.7 L290.1,996.4Z" fill="#eddfdc"/><path d="M182.0,1048.0 L198.5,1030.8 L222.4,1020.6 L225.3,1048.8 L190.3,1061.0Z" fill="#a6bbdb"/><path d="M238.7,1072.0 L225.3,1048.8 L222.4,1020.6 L228.7,1012.2 L238.3,1004.7 L241.3,1005.4 L270.8,1048.1 L270.6,1049.1Z" fill="#9db5d8"/><path d="M194.9,1075.1 L190.3,1061.0 L225.3,1048.8 L238.7,1072.0 L232.0,1088.2Z" fill="#aec0dd"/><path d="M168.5,1045.0 L182.0,1048.0 L190.3,1061.0 L194.9,1075.1 L175.7,1097.1 L134.1,1080.6Z" fill="#c4d0e3"/><path d="M40.0,1000.0 L40.0,899.1 L79.7,919.1 L91.7,974.2Z" fill="#bdcbe1"/><path d="M40.0,1103.8 L40.0,1000.0 L91.7,974.2 L95.9,975.5 L108.9,993.1 L89.9,1050.4 L44.0,1101.4Z" fill="#c4d0e3"/><path d="M108.9,993.1 L138.2,994.0 L151.2,1010.9 L150.5,1015.8 L89.9,1050.4Z" fill="#c4d0e3"/><path d="M141.4,870.7 L125.6,881.8 L40.0,865.4 L40.0,786.2Z" fill="#c4d0e3"/><path d="M40.0,780.0 L163.5,780.0 L170.1,802.5 L146.0,871.0 L141.4,870.7 L40.0,786.2Z" fill="#e2b5a9"/><path d="M163.5,780.0 L274.8,780.0 L266.2,807.5 L210.2,850.0 L170.1,802.5Z" fill="#d68e7b"/><path d="M274.8,780.0 L345.0,780.0 L345.0,875.0 L277.0,864.8 L266.2,807.5Z" fill="#e2b5a9"/><path d="M345.0,1041.4 L345.0,1140.0 L322.5,1140.0 L270.6,1049.1 L270.8,1048.1 L291.4,1037.7Z" fill="#e9cec7"/><path d="M247.9,1140.0 L185.3,1140.0 L175.7,1097.1 L194.9,1075.1 L232.0,1088.2Z" fill="#d4dbe8"/><path d="M185.3,1140.0 L40.0,1140.0 L40.0,1103.8 L44.0,1101.4 L134.1,1080.6 L175.7,1097.1Z" fill="#bdcbe1"/><path d="M44.0,1101.4 L89.9,1050.4 L150.5,1015.8 L168.5,1045.0 L134.1,1080.6Z" fill="#c4d0e3"/><path d="M322.5,1140.0 L247.9,1140.0 L232.0,1088.2 L238.7,1072.0 L270.6,1049.1Z" fill="#e9cec7"/></g></g></g><text x="928.2" y="857.2" font-size="10.4" font-weight="bold" fill="#fff" stroke="#fff" stroke-width="2.6" stroke-linejoin="round" text-anchor="middle" textLength="5.9" lengthAdjust="spacingAndGlyphs">0</text><text x="928.2" y="857.2" font-size="10.4" font-weight="bold" fill="#2a2a2a" stroke="#2a2a2a" stroke-width="0.35" text-anchor="middle" textLength="5.9" lengthAdjust="spacingAndGlyphs">0</text><text x="1000.8" y="853.5" font-size="10.4" font-weight="bold" fill="#fff" stroke="#fff" stroke-width="2.6" stroke-linejoin="round" text-anchor="middle" textLength="5.9" lengthAdjust="spacingAndGlyphs">2</text><text x="1000.8" y="853.5" font-size="10.4" font-weight="bold" fill="#2a2a2a" stroke="#2a2a2a" stroke-width="0.35" text-anchor="middle" textLength="5.9" lengthAdjust="spacingAndGlyphs">2</text><text x="861.0" y="890.5" font-size="10.4" font-weight="bold" fill="#fff" stroke="#fff" stroke-width="2.6" stroke-linejoin="round" text-anchor="middle" textLength="11.8" lengthAdjust="spacingAndGlyphs">26</text><text x="861.0" y="890.5" font-size="10.4" font-weight="bold" fill="#2a2a2a" stroke="#2a2a2a" stroke-width="0.35" text-anchor="middle" textLength="11.8" lengthAdjust="spacingAndGlyphs">26</text><text x="885.8" y="904.0" font-size="10.4" font-weight="bold" fill="#fff" stroke="#fff" stroke-width="2.6" stroke-linejoin="round" text-anchor="middle" textLength="11.8" lengthAdjust="spacingAndGlyphs">13</text><text x="885.8" y="904.0" font-size="10.4" font-weight="bold" fill="#2a2a2a" stroke="#2a2a2a" stroke-width="0.35" text-anchor="middle" textLength="11.8" lengthAdjust="spacingAndGlyphs">13</text><text x="909.5" y="907.5" font-size="10.4" font-weight="bold" fill="#fff" stroke="#fff" stroke-width="2.6" stroke-linejoin="round" text-anchor="middle" textLength="5.9" lengthAdjust="spacingAndGlyphs">3</text><text x="909.5" y="907.5" font-size="10.4" font-weight="bold" fill="#2a2a2a" stroke="#2a2a2a" stroke-width="0.35" text-anchor="middle" textLength="5.9" lengthAdjust="spacingAndGlyphs">3</text><text x="989.5" y="902.8" font-size="10.4" font-weight="bold" fill="#fff" stroke="#fff" stroke-width="2.6" stroke-linejoin="round" text-anchor="middle" textLength="5.9" lengthAdjust="spacingAndGlyphs">9</text><text x="989.5" y="902.8" font-size="10.4" font-weight="bold" fill="#2a2a2a" stroke="#2a2a2a" stroke-width="0.35" text-anchor="middle" textLength="5.9" lengthAdjust="spacingAndGlyphs">9</text><text x="1007.0" y="901.5" font-size="10.4" font-weight="bold" fill="#fff" stroke="#fff" stroke-width="2.6" stroke-linejoin="round" text-anchor="middle" textLength="11.8" lengthAdjust="spacingAndGlyphs">23</text><text x="1007.0" y="901.5" font-size="10.4" font-weight="bold" fill="#2a2a2a" stroke="#2a2a2a" stroke-width="0.35" text-anchor="middle" textLength="11.8" lengthAdjust="spacingAndGlyphs">23</text><text x="1046.0" y="898.8" font-size="10.4" font-weight="bold" fill="#fff" stroke="#fff" stroke-width="2.6" stroke-linejoin="round" text-anchor="middle" textLength="11.8" lengthAdjust="spacingAndGlyphs">19</text><text x="1046.0" y="898.8" font-size="10.4" font-weight="bold" fill="#2a2a2a" stroke="#2a2a2a" stroke-width="0.35" text-anchor="middle" textLength="11.8" lengthAdjust="spacingAndGlyphs">19</text><text x="957.0" y="919.0" font-size="10.4" font-weight="bold" fill="#fff" stroke="#fff" stroke-width="2.6" stroke-linejoin="round" text-anchor="middle" textLength="11.8" lengthAdjust="spacingAndGlyphs">24</text><text x="957.0" y="919.0" font-size="10.4" font-weight="bold" fill="#2a2a2a" stroke="#2a2a2a" stroke-width="0.35" text-anchor="middle" textLength="11.8" lengthAdjust="spacingAndGlyphs">24</text><text x="912.8" y="929.8" font-size="10.4" font-weight="bold" fill="#fff" stroke="#fff" stroke-width="2.6" stroke-linejoin="round" text-anchor="middle" textLength="11.8" lengthAdjust="spacingAndGlyphs">18</text><text x="912.8" y="929.8" font-size="10.4" font-weight="bold" fill="#2a2a2a" stroke="#2a2a2a" stroke-width="0.35" text-anchor="middle" textLength="11.8" lengthAdjust="spacingAndGlyphs">18</text><text x="932.2" y="928.0" font-size="10.4" font-weight="bold" fill="#fff" stroke="#fff" stroke-width="2.6" stroke-linejoin="round" text-anchor="middle" textLength="11.8" lengthAdjust="spacingAndGlyphs">15</text><text x="932.2" y="928.0" font-size="10.4" font-weight="bold" fill="#2a2a2a" stroke="#2a2a2a" stroke-width="0.35" text-anchor="middle" textLength="11.8" lengthAdjust="spacingAndGlyphs">15</text><text x="1001.2" y="934.2" font-size="10.4" font-weight="bold" fill="#fff" stroke="#fff" stroke-width="2.6" stroke-linejoin="round" text-anchor="middle" textLength="11.8" lengthAdjust="spacingAndGlyphs">11</text><text x="1001.2" y="934.2" font-size="10.4" font-weight="bold" fill="#2a2a2a" stroke="#2a2a2a" stroke-width="0.35" text-anchor="middle" textLength="11.8" lengthAdjust="spacingAndGlyphs">11</text><text x="1005.0" y="944.5" font-size="10.4" font-weight="bold" fill="#fff" stroke="#fff" stroke-width="2.6" stroke-linejoin="round" text-anchor="middle" textLength="11.8" lengthAdjust="spacingAndGlyphs">22</text><text x="1005.0" y="944.5" font-size="10.4" font-weight="bold" fill="#2a2a2a" stroke="#2a2a2a" stroke-width="0.35" text-anchor="middle" textLength="11.8" lengthAdjust="spacingAndGlyphs">22</text><text x="919.2" y="946.2" font-size="10.4" font-weight="bold" fill="#fff" stroke="#fff" stroke-width="2.6" stroke-linejoin="round" text-anchor="middle" textLength="11.8" lengthAdjust="spacingAndGlyphs">16</text><text x="919.2" y="946.2" font-size="10.4" font-weight="bold" fill="#2a2a2a" stroke="#2a2a2a" stroke-width="0.35" text-anchor="middle" textLength="11.8" lengthAdjust="spacingAndGlyphs">16</text><text x="950.2" y="945.8" font-size="10.4" font-weight="bold" fill="#fff" stroke="#fff" stroke-width="2.6" stroke-linejoin="round" text-anchor="middle" textLength="5.9" lengthAdjust="spacingAndGlyphs">8</text><text x="950.2" y="945.8" font-size="10.4" font-weight="bold" fill="#2a2a2a" stroke="#2a2a2a" stroke-width="0.35" text-anchor="middle" textLength="5.9" lengthAdjust="spacingAndGlyphs">8</text><text x="859.8" y="955.8" font-size="10.4" font-weight="bold" fill="#fff" stroke="#fff" stroke-width="2.6" stroke-linejoin="round" text-anchor="middle" textLength="11.8" lengthAdjust="spacingAndGlyphs">14</text><text x="859.8" y="955.8" font-size="10.4" font-weight="bold" fill="#2a2a2a" stroke="#2a2a2a" stroke-width="0.35" text-anchor="middle" textLength="11.8" lengthAdjust="spacingAndGlyphs">14</text><text x="961.8" y="960.2" font-size="10.4" font-weight="bold" fill="#fff" stroke="#fff" stroke-width="2.6" stroke-linejoin="round" text-anchor="middle" textLength="11.8" lengthAdjust="spacingAndGlyphs">21</text><text x="961.8" y="960.2" font-size="10.4" font-weight="bold" fill="#2a2a2a" stroke="#2a2a2a" stroke-width="0.35" text-anchor="middle" textLength="11.8" lengthAdjust="spacingAndGlyphs">21</text><text x="976.5" y="957.8" font-size="10.4" font-weight="bold" fill="#fff" stroke="#fff" stroke-width="2.6" stroke-linejoin="round" text-anchor="middle" textLength="11.8" lengthAdjust="spacingAndGlyphs">20</text><text x="976.5" y="957.8" font-size="10.4" font-weight="bold" fill="#2a2a2a" stroke="#2a2a2a" stroke-width="0.35" text-anchor="middle" textLength="11.8" lengthAdjust="spacingAndGlyphs">20</text><text x="946.2" y="963.5" font-size="10.4" font-weight="bold" fill="#fff" stroke="#fff" stroke-width="2.6" stroke-linejoin="round" text-anchor="middle" textLength="11.8" lengthAdjust="spacingAndGlyphs">32</text><text x="946.2" y="963.5" font-size="10.4" font-weight="bold" fill="#2a2a2a" stroke="#2a2a2a" stroke-width="0.35" text-anchor="middle" textLength="11.8" lengthAdjust="spacingAndGlyphs">32</text><text x="1010.0" y="972.5" font-size="10.4" font-weight="bold" fill="#fff" stroke="#fff" stroke-width="2.6" stroke-linejoin="round" text-anchor="middle" textLength="5.9" lengthAdjust="spacingAndGlyphs">4</text><text x="1010.0" y="972.5" font-size="10.4" font-weight="bold" fill="#2a2a2a" stroke="#2a2a2a" stroke-width="0.35" text-anchor="middle" textLength="5.9" lengthAdjust="spacingAndGlyphs">4</text><text x="1023.0" y="980.5" font-size="10.4" font-weight="bold" fill="#fff" stroke="#fff" stroke-width="2.6" stroke-linejoin="round" text-anchor="middle" textLength="11.8" lengthAdjust="spacingAndGlyphs">31</text><text x="1023.0" y="980.5" font-size="10.4" font-weight="bold" fill="#2a2a2a" stroke="#2a2a2a" stroke-width="0.35" text-anchor="middle" textLength="11.8" lengthAdjust="spacingAndGlyphs">31</text><text x="1041.5" y="976.0" font-size="10.4" font-weight="bold" fill="#fff" stroke="#fff" stroke-width="2.6" stroke-linejoin="round" text-anchor="middle" textLength="11.8" lengthAdjust="spacingAndGlyphs">25</text><text x="1041.5" y="976.0" font-size="10.4" font-weight="bold" fill="#2a2a2a" stroke="#2a2a2a" stroke-width="0.35" text-anchor="middle" textLength="11.8" lengthAdjust="spacingAndGlyphs">25</text><text x="875.2" y="980.5" font-size="10.4" font-weight="bold" fill="#fff" stroke="#fff" stroke-width="2.6" stroke-linejoin="round" text-anchor="middle" textLength="11.8" lengthAdjust="spacingAndGlyphs">10</text><text x="875.2" y="980.5" font-size="10.4" font-weight="bold" fill="#2a2a2a" stroke="#2a2a2a" stroke-width="0.35" text-anchor="middle" textLength="11.8" lengthAdjust="spacingAndGlyphs">10</text><text x="912.5" y="984.0" font-size="10.4" font-weight="bold" fill="#fff" stroke="#fff" stroke-width="2.6" stroke-linejoin="round" text-anchor="middle" textLength="5.9" lengthAdjust="spacingAndGlyphs">5</text><text x="912.5" y="984.0" font-size="10.4" font-weight="bold" fill="#2a2a2a" stroke="#2a2a2a" stroke-width="0.35" text-anchor="middle" textLength="5.9" lengthAdjust="spacingAndGlyphs">5</text><text x="954.2" y="997.5" font-size="10.4" font-weight="bold" fill="#fff" stroke="#fff" stroke-width="2.6" stroke-linejoin="round" text-anchor="middle" textLength="11.8" lengthAdjust="spacingAndGlyphs">12</text><text x="954.2" y="997.5" font-size="10.4" font-weight="bold" fill="#2a2a2a" stroke="#2a2a2a" stroke-width="0.35" text-anchor="middle" textLength="11.8" lengthAdjust="spacingAndGlyphs">12</text><text x="938.0" y="1011.0" font-size="10.4" font-weight="bold" fill="#fff" stroke="#fff" stroke-width="2.6" stroke-linejoin="round" text-anchor="middle" textLength="11.8" lengthAdjust="spacingAndGlyphs">28</text><text x="938.0" y="1011.0" font-size="10.4" font-weight="bold" fill="#2a2a2a" stroke="#2a2a2a" stroke-width="0.35" text-anchor="middle" textLength="11.8" lengthAdjust="spacingAndGlyphs">28</text><text x="949.0" y="1014.0" font-size="10.4" font-weight="bold" fill="#fff" stroke="#fff" stroke-width="2.6" stroke-linejoin="round" text-anchor="middle" textLength="5.9" lengthAdjust="spacingAndGlyphs">7</text><text x="949.0" y="1014.0" font-size="10.4" font-weight="bold" fill="#2a2a2a" stroke="#2a2a2a" stroke-width="0.35" text-anchor="middle" textLength="5.9" lengthAdjust="spacingAndGlyphs">7</text><text x="935.5" y="1023.0" font-size="10.4" font-weight="bold" fill="#fff" stroke="#fff" stroke-width="2.6" stroke-linejoin="round" text-anchor="middle" textLength="11.8" lengthAdjust="spacingAndGlyphs">29</text><text x="935.5" y="1023.0" font-size="10.4" font-weight="bold" fill="#2a2a2a" stroke="#2a2a2a" stroke-width="0.35" text-anchor="middle" textLength="11.8" lengthAdjust="spacingAndGlyphs">29</text><text x="1032.8" y="1021.0" font-size="10.4" font-weight="bold" fill="#fff" stroke="#fff" stroke-width="2.6" stroke-linejoin="round" text-anchor="middle" textLength="5.9" lengthAdjust="spacingAndGlyphs">1</text><text x="1032.8" y="1021.0" font-size="10.4" font-weight="bold" fill="#2a2a2a" stroke="#2a2a2a" stroke-width="0.35" text-anchor="middle" textLength="5.9" lengthAdjust="spacingAndGlyphs">1</text><text x="1057.2" y="1020.2" font-size="10.4" font-weight="bold" fill="#fff" stroke="#fff" stroke-width="2.6" stroke-linejoin="round" text-anchor="middle" textLength="11.8" lengthAdjust="spacingAndGlyphs">33</text><text x="1057.2" y="1020.2" font-size="10.4" font-weight="bold" fill="#2a2a2a" stroke="#2a2a2a" stroke-width="0.35" text-anchor="middle" textLength="11.8" lengthAdjust="spacingAndGlyphs">33</text><text x="964.8" y="1051.0" font-size="10.4" font-weight="bold" fill="#fff" stroke="#fff" stroke-width="2.6" stroke-linejoin="round" text-anchor="middle" textLength="11.8" lengthAdjust="spacingAndGlyphs">17</text><text x="964.8" y="1051.0" font-size="10.4" font-weight="bold" fill="#2a2a2a" stroke="#2a2a2a" stroke-width="0.35" text-anchor="middle" textLength="11.8" lengthAdjust="spacingAndGlyphs">17</text><text x="993.8" y="1048.0" font-size="10.4" font-weight="bold" fill="#fff" stroke="#fff" stroke-width="2.6" stroke-linejoin="round" text-anchor="middle" textLength="5.9" lengthAdjust="spacingAndGlyphs">6</text><text x="993.8" y="1048.0" font-size="10.4" font-weight="bold" fill="#2a2a2a" stroke="#2a2a2a" stroke-width="0.35" text-anchor="middle" textLength="5.9" lengthAdjust="spacingAndGlyphs">6</text><text x="968.8" y="1062.5" font-size="10.4" font-weight="bold" fill="#fff" stroke="#fff" stroke-width="2.6" stroke-linejoin="round" text-anchor="middle" textLength="11.8" lengthAdjust="spacingAndGlyphs">30</text><text x="968.8" y="1062.5" font-size="10.4" font-weight="bold" fill="#2a2a2a" stroke="#2a2a2a" stroke-width="0.35" text-anchor="middle" textLength="11.8" lengthAdjust="spacingAndGlyphs">30</text><text x="923.8" y="1077.0" font-size="10.4" font-weight="bold" fill="#fff" stroke="#fff" stroke-width="2.6" stroke-linejoin="round" text-anchor="middle" textLength="11.8" lengthAdjust="spacingAndGlyphs">27</text><text x="923.8" y="1077.0" font-size="10.4" font-weight="bold" fill="#2a2a2a" stroke="#2a2a2a" stroke-width="0.35" text-anchor="middle" textLength="11.8" lengthAdjust="spacingAndGlyphs">27</text><rect x="1095.0" y="789.0" width="11.6" height="347.0" fill="url(#cmap)" stroke="#555" stroke-width="0.9"/><line x1="1106.6" y1="824.0" x2="1110.1" y2="824.0" stroke="#333" stroke-width="0.9"/><text x="1112.4" y="827.1" font-size="9.00" font-weight="bold" fill="#262626" text-anchor="start" textLength="14.2" lengthAdjust="spacingAndGlyphs">0.2</text><line x1="1106.6" y1="893.0" x2="1110.1" y2="893.0" stroke="#333" stroke-width="0.9"/><text x="1112.4" y="896.1" font-size="9.00" font-weight="bold" fill="#262626" text-anchor="start" textLength="14.2" lengthAdjust="spacingAndGlyphs">0.1</text><line x1="1106.6" y1="962.0" x2="1110.1" y2="962.0" stroke="#333" stroke-width="0.9"/><text x="1112.4" y="965.1" font-size="9.00" font-weight="bold" fill="#262626" text-anchor="start" textLength="14.2" lengthAdjust="spacingAndGlyphs">0.0</text><line x1="1106.6" y1="1031.0" x2="1110.1" y2="1031.0" stroke="#333" stroke-width="0.9"/><text x="1112.4" y="1034.1" font-size="9.00" font-weight="bold" fill="#262626" text-anchor="start" textLength="21.1" lengthAdjust="spacingAndGlyphs">−0.1</text><line x1="1106.6" y1="1100.0" x2="1110.1" y2="1100.0" stroke="#333" stroke-width="0.9"/><text x="1112.4" y="1103.1" font-size="9.00" font-weight="bold" fill="#262626" text-anchor="start" textLength="21.1" lengthAdjust="spacingAndGlyphs">−0.2</text><text transform="translate(47.0,1165.3) scale(1.070,1)" x="0" y="0" font-size="28.5" font-weight="bold" fill="#000">F</text><text x="193.5" y="1183.8" font-size="12.30" font-weight="bold" fill="#262626" text-anchor="middle" textLength="169.1" lengthAdjust="spacingAndGlyphs">Macrophage Regulation</text><g transform="matrix(0.9900,0,0,0.9900,1.44,405.90)"><linearGradient id="tg5" gradientUnits="userSpaceOnUse" x1="120" y1="1024" x2="96" y2="1059"><stop offset="0" stop-color="#e6eaf2" stop-opacity="0.21"/><stop offset="1" stop-color="#e6eaf2" stop-opacity="0.60"/></linearGradient><use href="#ut" fill="url(#tg5)" filter="url(#fsoft1)"/><g mask="url(#um)"><rect x="40" y="780" width="305" height="360" fill="#f2f0f0"/><g filter="url(#fblob)"><path d="M130.5,780.0 L151.2,780.0 L210.2,850.0 L211.1,867.8 L204.0,877.4 L184.7,886.4 L147.7,872.6 L137.5,863.3Z" fill="#d07a64"/><path d="M269.7,871.4 L242.3,875.0 L211.1,867.8 L210.2,850.0 L266.2,807.5 L276.1,860.0Z" fill="#e2b5a9"/><path d="M134.4,865.7 L105.0,919.6 L79.7,919.1 L40.0,899.1 L40.0,889.3Z" fill="#d68e7b"/><path d="M137.5,863.3 L147.7,872.6 L141.1,917.4 L128.0,931.2 L105.0,919.6 L134.4,865.7Z" fill="#d2816c"/><path d="M141.1,917.4 L147.7,872.6 L184.7,886.4 L182.1,897.1 L167.2,913.6Z" fill="#d68e7b"/><path d="M204.0,877.4 L211.1,867.8 L242.3,875.0 L245.1,913.5 L225.7,920.8Z" fill="#f0e8e6"/><path d="M245.1,913.5 L242.3,875.0 L269.7,871.4 L270.7,874.0 L273.8,918.6Z" fill="#f2f0f0"/><path d="M345.0,914.2 L345.0,937.1 L288.8,933.8 L278.8,924.9 L273.8,918.6 L270.7,874.0Z" fill="#e3e5ec"/><path d="M193.0,927.3 L182.1,897.1 L184.7,886.4 L204.0,877.4 L225.7,920.8 L222.6,929.8 L216.1,933.1Z" fill="#e9cec7"/><path d="M128.0,931.2 L141.1,917.4 L167.2,913.6 L168.8,931.7 L134.9,945.1Z" fill="#d99582"/><path d="M168.8,931.7 L167.2,913.6 L182.1,897.1 L193.0,927.3 L180.5,940.0Z" fill="#e2b5a9"/><path d="M222.6,929.8 L225.7,920.8 L245.1,913.5 L273.8,918.6 L278.8,924.9 L233.6,941.5Z" fill="#dbe0ea"/><path d="M240.9,957.2 L233.6,941.5 L278.8,924.9 L288.8,933.8 L273.7,951.4Z" fill="#d4dbe8"/><path d="M135.7,950.5 L134.9,945.1 L168.8,931.7 L180.5,940.0 L180.6,948.1 L170.9,963.3 L141.6,958.0Z" fill="#e2b5a9"/><path d="M180.6,948.1 L180.5,940.0 L193.0,927.3 L216.1,933.1 L212.4,941.0 L198.4,952.1Z" fill="#e6c6bd"/><path d="M79.7,919.1 L105.0,919.6 L128.0,931.2 L134.9,945.1 L135.7,950.5 L95.9,975.5 L91.7,974.2Z" fill="#d2816c"/><path d="M203.3,975.3 L198.4,952.1 L212.4,941.0 L218.8,978.4Z" fill="#e6c6bd"/><path d="M218.8,978.4 L212.4,941.0 L216.1,933.1 L222.6,929.8 L233.6,941.5 L240.9,957.2 L229.1,984.2Z" fill="#e4beb3"/><path d="M170.9,963.3 L180.6,948.1 L198.4,952.1 L203.3,975.3 L181.3,980.5Z" fill="#eddfdc"/><path d="M229.1,984.2 L240.9,957.2 L273.7,951.4 L273.2,955.2 L242.8,1004.7 L241.3,1005.4 L238.3,1004.7Z" fill="#dbe0ea"/><path d="M242.8,1004.7 L273.2,955.2 L282.9,995.0Z" fill="#dbe0ea"/><path d="M345.0,937.1 L345.0,976.9 L290.1,996.4 L282.9,995.0 L273.2,955.2 L273.7,951.4 L288.8,933.8Z" fill="#e3e5ec"/><path d="M95.9,975.5 L135.7,950.5 L141.6,958.0 L138.2,994.0 L108.9,993.1Z" fill="#d48873"/><path d="M138.2,994.0 L141.6,958.0 L170.9,963.3 L181.3,980.5 L179.6,985.9 L156.2,1008.0 L151.2,1010.9Z" fill="#e6c6bd"/><path d="M179.6,985.9 L181.3,980.5 L203.3,975.3 L218.8,978.4 L229.1,984.2 L238.3,1004.7 L228.7,1012.2 L191.6,1000.4Z" fill="#ebd7d1"/><path d="M156.2,1008.0 L179.6,985.9 L191.6,1000.4 L187.7,1014.6Z" fill="#eddfdc"/><path d="M198.5,1030.8 L187.7,1014.6 L191.6,1000.4 L228.7,1012.2 L222.4,1020.6Z" fill="#f2f0f0"/><path d="M151.2,1010.9 L156.2,1008.0 L187.7,1014.6 L198.5,1030.8 L182.0,1048.0 L168.5,1045.0 L150.5,1015.8Z" fill="#e3e5ec"/><path d="M241.3,1005.4 L242.8,1004.7 L282.9,995.0 L290.1,996.4 L291.4,1037.7 L270.8,1048.1Z" fill="#e0e3eb"/><path d="M345.0,976.9 L345.0,980.4 L299.9,1038.3 L291.4,1037.7 L290.1,996.4Z" fill="#f2f0f0"/><path d="M182.0,1048.0 L198.5,1030.8 L222.4,1020.6 L225.3,1048.8 L190.3,1061.0Z" fill="#aec0dd"/><path d="M231.7,1059.9 L225.3,1048.8 L222.4,1020.6 L228.7,1012.2 L238.3,1004.7 L241.3,1005.4 L270.8,1048.1 L267.9,1059.3Z" fill="#9db5d8"/><path d="M196.5,1080.2 L190.3,1061.0 L225.3,1048.8 L231.7,1059.9 L221.4,1076.4Z" fill="#aec0dd"/><path d="M168.5,1045.0 L182.0,1048.0 L190.3,1061.0 L196.5,1080.2 L187.3,1101.7 L134.1,1080.6Z" fill="#dbe0ea"/><path d="M40.0,1000.0 L40.0,899.1 L79.7,919.1 L91.7,974.2Z" fill="#d68e7b"/><path d="M40.0,1103.8 L40.0,1000.0 L91.7,974.2 L95.9,975.5 L108.9,993.1 L89.9,1050.4 L44.0,1101.4Z" fill="#d68e7b"/><path d="M108.9,993.1 L138.2,994.0 L151.2,1010.9 L150.5,1015.8 L89.9,1050.4Z" fill="#d99582"/><path d="M40.0,780.0 L130.5,780.0 L137.5,863.3 L134.4,865.7 L40.0,889.3Z" fill="#db9c8a"/><path d="M151.2,780.0 L274.8,780.0 L266.2,807.5 L210.2,850.0Z" fill="#e2b5a9"/><path d="M274.8,780.0 L345.0,780.0 L345.0,860.0 L276.1,860.0 L266.2,807.5Z" fill="#eddfdc"/><path d="M345.0,860.0 L345.0,914.2 L270.7,874.0 L269.7,871.4 L276.1,860.0Z" fill="#e3e5ec"/><path d="M345.0,1068.3 L345.0,1140.0 L288.1,1140.0 L267.9,1059.3 L270.8,1048.1 L291.4,1037.7 L299.9,1038.3Z" fill="#e3e5ec"/><path d="M285.0,1140.0 L196.2,1140.0 L187.3,1101.7 L196.5,1080.2 L221.4,1076.4Z" fill="#b5c6df"/><path d="M196.2,1140.0 L40.0,1140.0 L40.0,1103.8 L44.0,1101.4 L134.1,1080.6 L187.3,1101.7Z" fill="#dbe0ea"/><path d="M44.0,1101.4 L89.9,1050.4 L150.5,1015.8 L168.5,1045.0 L134.1,1080.6Z" fill="#eddfdc"/><path d="M345.0,980.4 L345.0,1068.3 L299.9,1038.3Z" fill="#ebd7d1"/><path d="M288.1,1140.0 L285.0,1140.0 L221.4,1076.4 L231.7,1059.9 L267.9,1059.3Z" fill="#a6bbdb"/></g></g></g><text x="173.7" y="1254.6" font-size="10.4" font-weight="bold" fill="#fff" stroke="#fff" stroke-width="2.6" stroke-linejoin="round" text-anchor="middle" textLength="5.9" lengthAdjust="spacingAndGlyphs">0</text><text x="173.7" y="1254.6" font-size="10.4" font-weight="bold" fill="#2a2a2a" stroke="#2a2a2a" stroke-width="0.35" text-anchor="middle" textLength="5.9" lengthAdjust="spacingAndGlyphs">0</text><text x="245.5" y="1250.9" font-size="10.4" font-weight="bold" fill="#fff" stroke="#fff" stroke-width="2.6" stroke-linejoin="round" text-anchor="middle" textLength="5.9" lengthAdjust="spacingAndGlyphs">2</text><text x="245.5" y="1250.9" font-size="10.4" font-weight="bold" fill="#2a2a2a" stroke="#2a2a2a" stroke-width="0.35" text-anchor="middle" textLength="5.9" lengthAdjust="spacingAndGlyphs">2</text><text x="107.1" y="1287.5" font-size="10.4" font-weight="bold" fill="#fff" stroke="#fff" stroke-width="2.6" stroke-linejoin="round" text-anchor="middle" textLength="11.8" lengthAdjust="spacingAndGlyphs">26</text><text x="107.1" y="1287.5" font-size="10.4" font-weight="bold" fill="#2a2a2a" stroke="#2a2a2a" stroke-width="0.35" text-anchor="middle" textLength="11.8" lengthAdjust="spacingAndGlyphs">26</text><text x="131.6" y="1300.9" font-size="10.4" font-weight="bold" fill="#fff" stroke="#fff" stroke-width="2.6" stroke-linejoin="round" text-anchor="middle" textLength="11.8" lengthAdjust="spacingAndGlyphs">13</text><text x="131.6" y="1300.9" font-size="10.4" font-weight="bold" fill="#2a2a2a" stroke="#2a2a2a" stroke-width="0.35" text-anchor="middle" textLength="11.8" lengthAdjust="spacingAndGlyphs">13</text><text x="155.1" y="1304.4" font-size="10.4" font-weight="bold" fill="#fff" stroke="#fff" stroke-width="2.6" stroke-linejoin="round" text-anchor="middle" textLength="5.9" lengthAdjust="spacingAndGlyphs">3</text><text x="155.1" y="1304.4" font-size="10.4" font-weight="bold" fill="#2a2a2a" stroke="#2a2a2a" stroke-width="0.35" text-anchor="middle" textLength="5.9" lengthAdjust="spacingAndGlyphs">3</text><text x="234.3" y="1299.7" font-size="10.4" font-weight="bold" fill="#fff" stroke="#fff" stroke-width="2.6" stroke-linejoin="round" text-anchor="middle" textLength="5.9" lengthAdjust="spacingAndGlyphs">9</text><text x="234.3" y="1299.7" font-size="10.4" font-weight="bold" fill="#2a2a2a" stroke="#2a2a2a" stroke-width="0.35" text-anchor="middle" textLength="5.9" lengthAdjust="spacingAndGlyphs">9</text><text x="251.7" y="1298.4" font-size="10.4" font-weight="bold" fill="#fff" stroke="#fff" stroke-width="2.6" stroke-linejoin="round" text-anchor="middle" textLength="11.8" lengthAdjust="spacingAndGlyphs">23</text><text x="251.7" y="1298.4" font-size="10.4" font-weight="bold" fill="#2a2a2a" stroke="#2a2a2a" stroke-width="0.35" text-anchor="middle" textLength="11.8" lengthAdjust="spacingAndGlyphs">23</text><text x="290.3" y="1295.7" font-size="10.4" font-weight="bold" fill="#fff" stroke="#fff" stroke-width="2.6" stroke-linejoin="round" text-anchor="middle" textLength="11.8" lengthAdjust="spacingAndGlyphs">19</text><text x="290.3" y="1295.7" font-size="10.4" font-weight="bold" fill="#2a2a2a" stroke="#2a2a2a" stroke-width="0.35" text-anchor="middle" textLength="11.8" lengthAdjust="spacingAndGlyphs">19</text><text x="202.2" y="1315.7" font-size="10.4" font-weight="bold" fill="#fff" stroke="#fff" stroke-width="2.6" stroke-linejoin="round" text-anchor="middle" textLength="11.8" lengthAdjust="spacingAndGlyphs">24</text><text x="202.2" y="1315.7" font-size="10.4" font-weight="bold" fill="#2a2a2a" stroke="#2a2a2a" stroke-width="0.35" text-anchor="middle" textLength="11.8" lengthAdjust="spacingAndGlyphs">24</text><text x="158.4" y="1326.4" font-size="10.4" font-weight="bold" fill="#fff" stroke="#fff" stroke-width="2.6" stroke-linejoin="round" text-anchor="middle" textLength="11.8" lengthAdjust="spacingAndGlyphs">18</text><text x="158.4" y="1326.4" font-size="10.4" font-weight="bold" fill="#2a2a2a" stroke="#2a2a2a" stroke-width="0.35" text-anchor="middle" textLength="11.8" lengthAdjust="spacingAndGlyphs">18</text><text x="177.7" y="1324.7" font-size="10.4" font-weight="bold" fill="#fff" stroke="#fff" stroke-width="2.6" stroke-linejoin="round" text-anchor="middle" textLength="11.8" lengthAdjust="spacingAndGlyphs">15</text><text x="177.7" y="1324.7" font-size="10.4" font-weight="bold" fill="#2a2a2a" stroke="#2a2a2a" stroke-width="0.35" text-anchor="middle" textLength="11.8" lengthAdjust="spacingAndGlyphs">15</text><text x="246.0" y="1330.8" font-size="10.4" font-weight="bold" fill="#fff" stroke="#fff" stroke-width="2.6" stroke-linejoin="round" text-anchor="middle" textLength="11.8" lengthAdjust="spacingAndGlyphs">11</text><text x="246.0" y="1330.8" font-size="10.4" font-weight="bold" fill="#2a2a2a" stroke="#2a2a2a" stroke-width="0.35" text-anchor="middle" textLength="11.8" lengthAdjust="spacingAndGlyphs">11</text><text x="249.7" y="1341.0" font-size="10.4" font-weight="bold" fill="#fff" stroke="#fff" stroke-width="2.6" stroke-linejoin="round" text-anchor="middle" textLength="11.8" lengthAdjust="spacingAndGlyphs">22</text><text x="249.7" y="1341.0" font-size="10.4" font-weight="bold" fill="#2a2a2a" stroke="#2a2a2a" stroke-width="0.35" text-anchor="middle" textLength="11.8" lengthAdjust="spacingAndGlyphs">22</text><text x="164.8" y="1342.7" font-size="10.4" font-weight="bold" fill="#fff" stroke="#fff" stroke-width="2.6" stroke-linejoin="round" text-anchor="middle" textLength="11.8" lengthAdjust="spacingAndGlyphs">16</text><text x="164.8" y="1342.7" font-size="10.4" font-weight="bold" fill="#2a2a2a" stroke="#2a2a2a" stroke-width="0.35" text-anchor="middle" textLength="11.8" lengthAdjust="spacingAndGlyphs">16</text><text x="195.5" y="1342.2" font-size="10.4" font-weight="bold" fill="#fff" stroke="#fff" stroke-width="2.6" stroke-linejoin="round" text-anchor="middle" textLength="5.9" lengthAdjust="spacingAndGlyphs">8</text><text x="195.5" y="1342.2" font-size="10.4" font-weight="bold" fill="#2a2a2a" stroke="#2a2a2a" stroke-width="0.35" text-anchor="middle" textLength="5.9" lengthAdjust="spacingAndGlyphs">8</text><text x="105.9" y="1352.1" font-size="10.4" font-weight="bold" fill="#fff" stroke="#fff" stroke-width="2.6" stroke-linejoin="round" text-anchor="middle" textLength="11.8" lengthAdjust="spacingAndGlyphs">14</text><text x="105.9" y="1352.1" font-size="10.4" font-weight="bold" fill="#2a2a2a" stroke="#2a2a2a" stroke-width="0.35" text-anchor="middle" textLength="11.8" lengthAdjust="spacingAndGlyphs">14</text><text x="206.9" y="1356.6" font-size="10.4" font-weight="bold" fill="#fff" stroke="#fff" stroke-width="2.6" stroke-linejoin="round" text-anchor="middle" textLength="11.8" lengthAdjust="spacingAndGlyphs">21</text><text x="206.9" y="1356.6" font-size="10.4" font-weight="bold" fill="#2a2a2a" stroke="#2a2a2a" stroke-width="0.35" text-anchor="middle" textLength="11.8" lengthAdjust="spacingAndGlyphs">21</text><text x="221.5" y="1354.1" font-size="10.4" font-weight="bold" fill="#fff" stroke="#fff" stroke-width="2.6" stroke-linejoin="round" text-anchor="middle" textLength="11.8" lengthAdjust="spacingAndGlyphs">20</text><text x="221.5" y="1354.1" font-size="10.4" font-weight="bold" fill="#2a2a2a" stroke="#2a2a2a" stroke-width="0.35" text-anchor="middle" textLength="11.8" lengthAdjust="spacingAndGlyphs">20</text><text x="191.5" y="1359.8" font-size="10.4" font-weight="bold" fill="#fff" stroke="#fff" stroke-width="2.6" stroke-linejoin="round" text-anchor="middle" textLength="11.8" lengthAdjust="spacingAndGlyphs">32</text><text x="191.5" y="1359.8" font-size="10.4" font-weight="bold" fill="#2a2a2a" stroke="#2a2a2a" stroke-width="0.35" text-anchor="middle" textLength="11.8" lengthAdjust="spacingAndGlyphs">32</text><text x="254.6" y="1368.7" font-size="10.4" font-weight="bold" fill="#fff" stroke="#fff" stroke-width="2.6" stroke-linejoin="round" text-anchor="middle" textLength="5.9" lengthAdjust="spacingAndGlyphs">4</text><text x="254.6" y="1368.7" font-size="10.4" font-weight="bold" fill="#2a2a2a" stroke="#2a2a2a" stroke-width="0.35" text-anchor="middle" textLength="5.9" lengthAdjust="spacingAndGlyphs">4</text><text x="267.5" y="1376.6" font-size="10.4" font-weight="bold" fill="#fff" stroke="#fff" stroke-width="2.6" stroke-linejoin="round" text-anchor="middle" textLength="11.8" lengthAdjust="spacingAndGlyphs">31</text><text x="267.5" y="1376.6" font-size="10.4" font-weight="bold" fill="#2a2a2a" stroke="#2a2a2a" stroke-width="0.35" text-anchor="middle" textLength="11.8" lengthAdjust="spacingAndGlyphs">31</text><text x="285.8" y="1372.2" font-size="10.4" font-weight="bold" fill="#fff" stroke="#fff" stroke-width="2.6" stroke-linejoin="round" text-anchor="middle" textLength="11.8" lengthAdjust="spacingAndGlyphs">25</text><text x="285.8" y="1372.2" font-size="10.4" font-weight="bold" fill="#2a2a2a" stroke="#2a2a2a" stroke-width="0.35" text-anchor="middle" textLength="11.8" lengthAdjust="spacingAndGlyphs">25</text><text x="121.2" y="1376.6" font-size="10.4" font-weight="bold" fill="#fff" stroke="#fff" stroke-width="2.6" stroke-linejoin="round" text-anchor="middle" textLength="11.8" lengthAdjust="spacingAndGlyphs">10</text><text x="121.2" y="1376.6" font-size="10.4" font-weight="bold" fill="#2a2a2a" stroke="#2a2a2a" stroke-width="0.35" text-anchor="middle" textLength="11.8" lengthAdjust="spacingAndGlyphs">10</text><text x="158.1" y="1380.1" font-size="10.4" font-weight="bold" fill="#fff" stroke="#fff" stroke-width="2.6" stroke-linejoin="round" text-anchor="middle" textLength="5.9" lengthAdjust="spacingAndGlyphs">5</text><text x="158.1" y="1380.1" font-size="10.4" font-weight="bold" fill="#2a2a2a" stroke="#2a2a2a" stroke-width="0.35" text-anchor="middle" textLength="5.9" lengthAdjust="spacingAndGlyphs">5</text><text x="199.4" y="1393.5" font-size="10.4" font-weight="bold" fill="#fff" stroke="#fff" stroke-width="2.6" stroke-linejoin="round" text-anchor="middle" textLength="11.8" lengthAdjust="spacingAndGlyphs">12</text><text x="199.4" y="1393.5" font-size="10.4" font-weight="bold" fill="#2a2a2a" stroke="#2a2a2a" stroke-width="0.35" text-anchor="middle" textLength="11.8" lengthAdjust="spacingAndGlyphs">12</text><text x="183.4" y="1406.8" font-size="10.4" font-weight="bold" fill="#fff" stroke="#fff" stroke-width="2.6" stroke-linejoin="round" text-anchor="middle" textLength="11.8" lengthAdjust="spacingAndGlyphs">28</text><text x="183.4" y="1406.8" font-size="10.4" font-weight="bold" fill="#2a2a2a" stroke="#2a2a2a" stroke-width="0.35" text-anchor="middle" textLength="11.8" lengthAdjust="spacingAndGlyphs">28</text><text x="194.2" y="1409.8" font-size="10.4" font-weight="bold" fill="#fff" stroke="#fff" stroke-width="2.6" stroke-linejoin="round" text-anchor="middle" textLength="5.9" lengthAdjust="spacingAndGlyphs">7</text><text x="194.2" y="1409.8" font-size="10.4" font-weight="bold" fill="#2a2a2a" stroke="#2a2a2a" stroke-width="0.35" text-anchor="middle" textLength="5.9" lengthAdjust="spacingAndGlyphs">7</text><text x="180.9" y="1418.7" font-size="10.4" font-weight="bold" fill="#fff" stroke="#fff" stroke-width="2.6" stroke-linejoin="round" text-anchor="middle" textLength="11.8" lengthAdjust="spacingAndGlyphs">29</text><text x="180.9" y="1418.7" font-size="10.4" font-weight="bold" fill="#2a2a2a" stroke="#2a2a2a" stroke-width="0.35" text-anchor="middle" textLength="11.8" lengthAdjust="spacingAndGlyphs">29</text><text x="277.2" y="1416.7" font-size="10.4" font-weight="bold" fill="#fff" stroke="#fff" stroke-width="2.6" stroke-linejoin="round" text-anchor="middle" textLength="5.9" lengthAdjust="spacingAndGlyphs">1</text><text x="277.2" y="1416.7" font-size="10.4" font-weight="bold" fill="#2a2a2a" stroke="#2a2a2a" stroke-width="0.35" text-anchor="middle" textLength="5.9" lengthAdjust="spacingAndGlyphs">1</text><text x="301.4" y="1416.0" font-size="10.4" font-weight="bold" fill="#fff" stroke="#fff" stroke-width="2.6" stroke-linejoin="round" text-anchor="middle" textLength="11.8" lengthAdjust="spacingAndGlyphs">33</text><text x="301.4" y="1416.0" font-size="10.4" font-weight="bold" fill="#2a2a2a" stroke="#2a2a2a" stroke-width="0.35" text-anchor="middle" textLength="11.8" lengthAdjust="spacingAndGlyphs">33</text><text x="209.8" y="1446.4" font-size="10.4" font-weight="bold" fill="#fff" stroke="#fff" stroke-width="2.6" stroke-linejoin="round" text-anchor="middle" textLength="11.8" lengthAdjust="spacingAndGlyphs">17</text><text x="209.8" y="1446.4" font-size="10.4" font-weight="bold" fill="#2a2a2a" stroke="#2a2a2a" stroke-width="0.35" text-anchor="middle" textLength="11.8" lengthAdjust="spacingAndGlyphs">17</text><text x="238.5" y="1443.5" font-size="10.4" font-weight="bold" fill="#fff" stroke="#fff" stroke-width="2.6" stroke-linejoin="round" text-anchor="middle" textLength="5.9" lengthAdjust="spacingAndGlyphs">6</text><text x="238.5" y="1443.5" font-size="10.4" font-weight="bold" fill="#2a2a2a" stroke="#2a2a2a" stroke-width="0.35" text-anchor="middle" textLength="5.9" lengthAdjust="spacingAndGlyphs">6</text><text x="213.8" y="1457.8" font-size="10.4" font-weight="bold" fill="#fff" stroke="#fff" stroke-width="2.6" stroke-linejoin="round" text-anchor="middle" textLength="11.8" lengthAdjust="spacingAndGlyphs">30</text><text x="213.8" y="1457.8" font-size="10.4" font-weight="bold" fill="#2a2a2a" stroke="#2a2a2a" stroke-width="0.35" text-anchor="middle" textLength="11.8" lengthAdjust="spacingAndGlyphs">30</text><text x="169.2" y="1472.2" font-size="10.4" font-weight="bold" fill="#fff" stroke="#fff" stroke-width="2.6" stroke-linejoin="round" text-anchor="middle" textLength="11.8" lengthAdjust="spacingAndGlyphs">27</text><text x="169.2" y="1472.2" font-size="10.4" font-weight="bold" fill="#2a2a2a" stroke="#2a2a2a" stroke-width="0.35" text-anchor="middle" textLength="11.8" lengthAdjust="spacingAndGlyphs">27</text><rect x="339.0" y="1188.2" width="11.8" height="342.8" fill="url(#cmap)" stroke="#555" stroke-width="0.9"/><line x1="350.8" y1="1210.0" x2="354.3" y2="1210.0" stroke="#333" stroke-width="0.9"/><text x="356.6" y="1213.1" font-size="9.00" font-weight="bold" fill="#262626" text-anchor="start" textLength="14.2" lengthAdjust="spacingAndGlyphs">0.2</text><line x1="350.8" y1="1284.5" x2="354.3" y2="1284.5" stroke="#333" stroke-width="0.9"/><text x="356.6" y="1287.6" font-size="9.00" font-weight="bold" fill="#262626" text-anchor="start" textLength="14.2" lengthAdjust="spacingAndGlyphs">0.1</text><line x1="350.8" y1="1358.8" x2="354.3" y2="1358.8" stroke="#333" stroke-width="0.9"/><text x="356.6" y="1361.9" font-size="9.00" font-weight="bold" fill="#262626" text-anchor="start" textLength="14.2" lengthAdjust="spacingAndGlyphs">0.0</text><line x1="350.8" y1="1433.3" x2="354.3" y2="1433.3" stroke="#333" stroke-width="0.9"/><text x="356.6" y="1436.4" font-size="9.00" font-weight="bold" fill="#262626" text-anchor="start" textLength="21.1" lengthAdjust="spacingAndGlyphs">−0.1</text><line x1="350.8" y1="1508.4" x2="354.3" y2="1508.4" stroke="#333" stroke-width="0.9"/><text x="356.6" y="1511.5" font-size="9.00" font-weight="bold" fill="#262626" text-anchor="start" textLength="21.1" lengthAdjust="spacingAndGlyphs">−0.2</text><text transform="translate(424.3,1164.6) scale(1.010,1)" x="0" y="0" font-size="28.5" font-weight="bold" fill="#000">G</text><text x="568.4" y="1183.8" font-size="12.30" font-weight="bold" fill="#262626" text-anchor="middle" textLength="107.2" lengthAdjust="spacingAndGlyphs">Wound Healing</text><g transform="matrix(0.9900,0,0,0.9900,376.34,405.90)"><linearGradient id="tg6" gradientUnits="userSpaceOnUse" x1="120" y1="1024" x2="96" y2="1059"><stop offset="0" stop-color="#dce5f3" stop-opacity="0.21"/><stop offset="1" stop-color="#dce5f3" stop-opacity="0.60"/></linearGradient><use href="#ut" fill="url(#tg6)" filter="url(#fsoft1)"/><g mask="url(#um)"><rect x="40" y="780" width="305" height="360" fill="#f2f0f0"/><g filter="url(#fblob)"><path d="M188.8,824.7 L210.2,850.0 L211.1,867.8 L204.0,877.4 L184.7,886.4 L147.7,872.6 L144.6,869.7Z" fill="#e9cec7"/><path d="M255.3,873.3 L242.3,875.0 L211.1,867.8 L210.2,850.0 L232.4,833.1 L271.9,837.8 L273.0,843.7Z" fill="#b5c6df"/><path d="M134.4,865.7 L105.0,919.6 L79.7,919.1 L40.0,899.1 L40.0,889.3Z" fill="#f0e8e6"/><path d="M144.6,869.7 L147.7,872.6 L141.1,917.4 L128.0,931.2 L105.0,919.6 L134.4,865.7 L135.1,865.2Z" fill="#d2816c"/><path d="M141.1,917.4 L147.7,872.6 L184.7,886.4 L182.1,897.1 L167.2,913.6Z" fill="#c9664d"/><path d="M204.0,877.4 L211.1,867.8 L242.3,875.0 L245.1,913.5 L225.7,920.8Z" fill="#e3e5ec"/><path d="M245.1,913.5 L242.3,875.0 L255.3,873.3 L271.7,889.2 L273.8,918.6Z" fill="#ebd7d1"/><path d="M345.0,875.0 L345.0,937.1 L288.8,933.8 L278.8,924.9 L273.8,918.6 L271.7,889.2 L312.7,870.1Z" fill="#eaebee"/><path d="M193.0,927.3 L182.1,897.1 L184.7,886.4 L204.0,877.4 L225.7,920.8 L222.6,929.8 L216.1,933.1Z" fill="#e4beb3"/><path d="M128.0,931.2 L141.1,917.4 L167.2,913.6 L168.8,931.7 L134.9,945.1Z" fill="#c9664d"/><path d="M168.8,931.7 L167.2,913.6 L182.1,897.1 L193.0,927.3 L180.5,940.0Z" fill="#d07a64"/><path d="M222.6,929.8 L225.7,920.8 L245.1,913.5 L273.8,918.6 L278.8,924.9 L233.6,941.5Z" fill="#f2f0f0"/><path d="M240.9,957.2 L233.6,941.5 L278.8,924.9 L288.8,933.8 L273.7,951.4Z" fill="#dbe0ea"/><path d="M135.7,950.5 L134.9,945.1 L168.8,931.7 L180.5,940.0 L180.6,948.1 L170.9,963.3 L141.6,958.0Z" fill="#d2816c"/><path d="M180.6,948.1 L180.5,940.0 L193.0,927.3 L216.1,933.1 L212.4,941.0 L198.4,952.1Z" fill="#dda494"/><path d="M79.7,919.1 L105.0,919.6 L128.0,931.2 L134.9,945.1 L135.7,950.5 L95.9,975.5 L91.7,974.2Z" fill="#e4beb3"/><path d="M203.3,975.3 L198.4,952.1 L212.4,941.0 L218.8,978.4Z" fill="#e9cec7"/><path d="M218.8,978.4 L212.4,941.0 L216.1,933.1 L222.6,929.8 L233.6,941.5 L240.9,957.2 L229.1,984.2Z" fill="#eddfdc"/><path d="M170.9,963.3 L180.6,948.1 L198.4,952.1 L203.3,975.3 L181.3,980.5Z" fill="#e2b5a9"/><path d="M229.1,984.2 L240.9,957.2 L273.7,951.4 L273.2,955.2 L242.8,1004.7 L241.3,1005.4 L238.3,1004.7Z" fill="#a6bbdb"/><path d="M242.8,1004.7 L273.2,955.2 L282.9,995.0Z" fill="#aec0dd"/><path d="M345.0,937.1 L345.0,976.9 L290.1,996.4 L282.9,995.0 L273.2,955.2 L273.7,951.4 L288.8,933.8Z" fill="#c4d0e3"/><path d="M95.9,975.5 L135.7,950.5 L141.6,958.0 L138.2,994.0 L108.9,993.1Z" fill="#e6c6bd"/><path d="M138.2,994.0 L141.6,958.0 L170.9,963.3 L181.3,980.5 L179.6,985.9 L156.2,1008.0 L151.2,1010.9Z" fill="#e0ad9e"/><path d="M179.6,985.9 L181.3,980.5 L203.3,975.3 L218.8,978.4 L229.1,984.2 L238.3,1004.7 L228.7,1012.2 L191.6,1000.4Z" fill="#e4beb3"/><path d="M156.2,1008.0 L179.6,985.9 L191.6,1000.4 L187.7,1014.6Z" fill="#e4beb3"/><path d="M198.5,1030.8 L187.7,1014.6 L191.6,1000.4 L228.7,1012.2 L222.4,1020.6Z" fill="#e6c6bd"/><path d="M151.2,1010.9 L156.2,1008.0 L187.7,1014.6 L198.5,1030.8 L182.0,1048.0 L168.5,1045.0 L150.5,1015.8Z" fill="#e9cec7"/><path d="M241.3,1005.4 L242.8,1004.7 L282.9,995.0 L290.1,996.4 L291.4,1037.7 L270.8,1048.1Z" fill="#bdcbe1"/><path d="M345.0,976.9 L345.0,1041.4 L291.4,1037.7 L290.1,996.4Z" fill="#d4dbe8"/><path d="M182.0,1048.0 L198.5,1030.8 L222.4,1020.6 L225.3,1048.8 L190.3,1061.0Z" fill="#dbe0ea"/><path d="M239.7,1073.6 L225.3,1048.8 L222.4,1020.6 L228.7,1012.2 L238.3,1004.7 L241.3,1005.4 L270.8,1048.1 L262.1,1082.2Z" fill="#b5c6df"/><path d="M196.5,1080.2 L190.3,1061.0 L225.3,1048.8 L239.7,1073.6Z" fill="#d4dbe8"/><path d="M168.5,1045.0 L182.0,1048.0 L190.3,1061.0 L196.5,1080.2 L187.3,1101.7 L134.1,1080.6Z" fill="#bdcbe1"/><path d="M40.0,1000.0 L40.0,899.1 L79.7,919.1 L91.7,974.2Z" fill="#e9cec7"/><path d="M40.0,1103.8 L40.0,1000.0 L91.7,974.2 L95.9,975.5 L108.9,993.1 L89.9,1050.4 L44.0,1101.4Z" fill="#e6c6bd"/><path d="M108.9,993.1 L138.2,994.0 L151.2,1010.9 L150.5,1015.8 L89.9,1050.4Z" fill="#e6c6bd"/><path d="M40.0,780.0 L106.7,780.0 L135.1,865.2 L134.4,865.7 L40.0,889.3Z" fill="#f0e8e6"/><path d="M170.2,780.0 L241.2,780.0 L232.4,833.1 L210.2,850.0 L188.8,824.7Z" fill="#d4dbe8"/><path d="M241.2,780.0 L295.0,780.0 L271.9,837.8 L232.4,833.1Z" fill="#b5c6df"/><path d="M295.0,780.0 L345.0,780.0 L345.0,875.0 L312.7,870.1 L273.0,843.7 L271.9,837.8Z" fill="#c4d0e3"/><path d="M312.7,870.1 L271.7,889.2 L255.3,873.3 L273.0,843.7Z" fill="#bdcbe1"/><path d="M345.0,1041.4 L345.0,1140.0 L287.3,1140.0 L262.1,1082.2 L270.8,1048.1 L291.4,1037.7Z" fill="#d4dbe8"/><path d="M287.3,1140.0 L196.2,1140.0 L187.3,1101.7 L196.5,1080.2 L239.7,1073.6 L262.1,1082.2Z" fill="#ccd6e6"/><path d="M196.2,1140.0 L40.0,1140.0 L40.0,1103.8 L44.0,1101.4 L134.1,1080.6 L187.3,1101.7Z" fill="#bdcbe1"/><path d="M44.0,1101.4 L89.9,1050.4 L150.5,1015.8 L168.5,1045.0 L134.1,1080.6Z" fill="#eaebee"/><path d="M106.7,780.0 L170.2,780.0 L188.8,824.7 L144.6,869.7 L135.1,865.2Z" fill="#ebd7d1"/></g></g></g><text x="548.6" y="1254.6" font-size="10.4" font-weight="bold" fill="#fff" stroke="#fff" stroke-width="2.6" stroke-linejoin="round" text-anchor="middle" textLength="5.9" lengthAdjust="spacingAndGlyphs">0</text><text x="548.6" y="1254.6" font-size="10.4" font-weight="bold" fill="#2a2a2a" stroke="#2a2a2a" stroke-width="0.35" text-anchor="middle" textLength="5.9" lengthAdjust="spacingAndGlyphs">0</text><text x="620.4" y="1250.9" font-size="10.4" font-weight="bold" fill="#fff" stroke="#fff" stroke-width="2.6" stroke-linejoin="round" text-anchor="middle" textLength="5.9" lengthAdjust="spacingAndGlyphs">2</text><text x="620.4" y="1250.9" font-size="10.4" font-weight="bold" fill="#2a2a2a" stroke="#2a2a2a" stroke-width="0.35" text-anchor="middle" textLength="5.9" lengthAdjust="spacingAndGlyphs">2</text><text x="482.0" y="1287.5" font-size="10.4" font-weight="bold" fill="#fff" stroke="#fff" stroke-width="2.6" stroke-linejoin="round" text-anchor="middle" textLength="11.8" lengthAdjust="spacingAndGlyphs">26</text><text x="482.0" y="1287.5" font-size="10.4" font-weight="bold" fill="#2a2a2a" stroke="#2a2a2a" stroke-width="0.35" text-anchor="middle" textLength="11.8" lengthAdjust="spacingAndGlyphs">26</text><text x="506.5" y="1300.9" font-size="10.4" font-weight="bold" fill="#fff" stroke="#fff" stroke-width="2.6" stroke-linejoin="round" text-anchor="middle" textLength="11.8" lengthAdjust="spacingAndGlyphs">13</text><text x="506.5" y="1300.9" font-size="10.4" font-weight="bold" fill="#2a2a2a" stroke="#2a2a2a" stroke-width="0.35" text-anchor="middle" textLength="11.8" lengthAdjust="spacingAndGlyphs">13</text><text x="530.0" y="1304.4" font-size="10.4" font-weight="bold" fill="#fff" stroke="#fff" stroke-width="2.6" stroke-linejoin="round" text-anchor="middle" textLength="5.9" lengthAdjust="spacingAndGlyphs">3</text><text x="530.0" y="1304.4" font-size="10.4" font-weight="bold" fill="#2a2a2a" stroke="#2a2a2a" stroke-width="0.35" text-anchor="middle" textLength="5.9" lengthAdjust="spacingAndGlyphs">3</text><text x="609.2" y="1299.7" font-size="10.4" font-weight="bold" fill="#fff" stroke="#fff" stroke-width="2.6" stroke-linejoin="round" text-anchor="middle" textLength="5.9" lengthAdjust="spacingAndGlyphs">9</text><text x="609.2" y="1299.7" font-size="10.4" font-weight="bold" fill="#2a2a2a" stroke="#2a2a2a" stroke-width="0.35" text-anchor="middle" textLength="5.9" lengthAdjust="spacingAndGlyphs">9</text><text x="626.6" y="1298.4" font-size="10.4" font-weight="bold" fill="#fff" stroke="#fff" stroke-width="2.6" stroke-linejoin="round" text-anchor="middle" textLength="11.8" lengthAdjust="spacingAndGlyphs">23</text><text x="626.6" y="1298.4" font-size="10.4" font-weight="bold" fill="#2a2a2a" stroke="#2a2a2a" stroke-width="0.35" text-anchor="middle" textLength="11.8" lengthAdjust="spacingAndGlyphs">23</text><text x="665.2" y="1295.7" font-size="10.4" font-weight="bold" fill="#fff" stroke="#fff" stroke-width="2.6" stroke-linejoin="round" text-anchor="middle" textLength="11.8" lengthAdjust="spacingAndGlyphs">19</text><text x="665.2" y="1295.7" font-size="10.4" font-weight="bold" fill="#2a2a2a" stroke="#2a2a2a" stroke-width="0.35" text-anchor="middle" textLength="11.8" lengthAdjust="spacingAndGlyphs">19</text><text x="577.1" y="1315.7" font-size="10.4" font-weight="bold" fill="#fff" stroke="#fff" stroke-width="2.6" stroke-linejoin="round" text-anchor="middle" textLength="11.8" lengthAdjust="spacingAndGlyphs">24</text><text x="577.1" y="1315.7" font-size="10.4" font-weight="bold" fill="#2a2a2a" stroke="#2a2a2a" stroke-width="0.35" text-anchor="middle" textLength="11.8" lengthAdjust="spacingAndGlyphs">24</text><text x="533.3" y="1326.4" font-size="10.4" font-weight="bold" fill="#fff" stroke="#fff" stroke-width="2.6" stroke-linejoin="round" text-anchor="middle" textLength="11.8" lengthAdjust="spacingAndGlyphs">18</text><text x="533.3" y="1326.4" font-size="10.4" font-weight="bold" fill="#2a2a2a" stroke="#2a2a2a" stroke-width="0.35" text-anchor="middle" textLength="11.8" lengthAdjust="spacingAndGlyphs">18</text><text x="552.6" y="1324.7" font-size="10.4" font-weight="bold" fill="#fff" stroke="#fff" stroke-width="2.6" stroke-linejoin="round" text-anchor="middle" textLength="11.8" lengthAdjust="spacingAndGlyphs">15</text><text x="552.6" y="1324.7" font-size="10.4" font-weight="bold" fill="#2a2a2a" stroke="#2a2a2a" stroke-width="0.35" text-anchor="middle" textLength="11.8" lengthAdjust="spacingAndGlyphs">15</text><text x="620.9" y="1330.8" font-size="10.4" font-weight="bold" fill="#fff" stroke="#fff" stroke-width="2.6" stroke-linejoin="round" text-anchor="middle" textLength="11.8" lengthAdjust="spacingAndGlyphs">11</text><text x="620.9" y="1330.8" font-size="10.4" font-weight="bold" fill="#2a2a2a" stroke="#2a2a2a" stroke-width="0.35" text-anchor="middle" textLength="11.8" lengthAdjust="spacingAndGlyphs">11</text><text x="624.6" y="1341.0" font-size="10.4" font-weight="bold" fill="#fff" stroke="#fff" stroke-width="2.6" stroke-linejoin="round" text-anchor="middle" textLength="11.8" lengthAdjust="spacingAndGlyphs">22</text><text x="624.6" y="1341.0" font-size="10.4" font-weight="bold" fill="#2a2a2a" stroke="#2a2a2a" stroke-width="0.35" text-anchor="middle" textLength="11.8" lengthAdjust="spacingAndGlyphs">22</text><text x="539.7" y="1342.7" font-size="10.4" font-weight="bold" fill="#fff" stroke="#fff" stroke-width="2.6" stroke-linejoin="round" text-anchor="middle" textLength="11.8" lengthAdjust="spacingAndGlyphs">16</text><text x="539.7" y="1342.7" font-size="10.4" font-weight="bold" fill="#2a2a2a" stroke="#2a2a2a" stroke-width="0.35" text-anchor="middle" textLength="11.8" lengthAdjust="spacingAndGlyphs">16</text><text x="570.4" y="1342.2" font-size="10.4" font-weight="bold" fill="#fff" stroke="#fff" stroke-width="2.6" stroke-linejoin="round" text-anchor="middle" textLength="5.9" lengthAdjust="spacingAndGlyphs">8</text><text x="570.4" y="1342.2" font-size="10.4" font-weight="bold" fill="#2a2a2a" stroke="#2a2a2a" stroke-width="0.35" text-anchor="middle" textLength="5.9" lengthAdjust="spacingAndGlyphs">8</text><text x="480.8" y="1352.1" font-size="10.4" font-weight="bold" fill="#fff" stroke="#fff" stroke-width="2.6" stroke-linejoin="round" text-anchor="middle" textLength="11.8" lengthAdjust="spacingAndGlyphs">14</text><text x="480.8" y="1352.1" font-size="10.4" font-weight="bold" fill="#2a2a2a" stroke="#2a2a2a" stroke-width="0.35" text-anchor="middle" textLength="11.8" lengthAdjust="spacingAndGlyphs">14</text><text x="581.8" y="1356.6" font-size="10.4" font-weight="bold" fill="#fff" stroke="#fff" stroke-width="2.6" stroke-linejoin="round" text-anchor="middle" textLength="11.8" lengthAdjust="spacingAndGlyphs">21</text><text x="581.8" y="1356.6" font-size="10.4" font-weight="bold" fill="#2a2a2a" stroke="#2a2a2a" stroke-width="0.35" text-anchor="middle" textLength="11.8" lengthAdjust="spacingAndGlyphs">21</text><text x="596.4" y="1354.1" font-size="10.4" font-weight="bold" fill="#fff" stroke="#fff" stroke-width="2.6" stroke-linejoin="round" text-anchor="middle" textLength="11.8" lengthAdjust="spacingAndGlyphs">20</text><text x="596.4" y="1354.1" font-size="10.4" font-weight="bold" fill="#2a2a2a" stroke="#2a2a2a" stroke-width="0.35" text-anchor="middle" textLength="11.8" lengthAdjust="spacingAndGlyphs">20</text><text x="566.4" y="1359.8" font-size="10.4" font-weight="bold" fill="#fff" stroke="#fff" stroke-width="2.6" stroke-linejoin="round" text-anchor="middle" textLength="11.8" lengthAdjust="spacingAndGlyphs">32</text><text x="566.4" y="1359.8" font-size="10.4" font-weight="bold" fill="#2a2a2a" stroke="#2a2a2a" stroke-width="0.35" text-anchor="middle" textLength="11.8" lengthAdjust="spacingAndGlyphs">32</text><text x="629.5" y="1368.7" font-size="10.4" font-weight="bold" fill="#fff" stroke="#fff" stroke-width="2.6" stroke-linejoin="round" text-anchor="middle" textLength="5.9" lengthAdjust="spacingAndGlyphs">4</text><text x="629.5" y="1368.7" font-size="10.4" font-weight="bold" fill="#2a2a2a" stroke="#2a2a2a" stroke-width="0.35" text-anchor="middle" textLength="5.9" lengthAdjust="spacingAndGlyphs">4</text><text x="642.4" y="1376.6" font-size="10.4" font-weight="bold" fill="#fff" stroke="#fff" stroke-width="2.6" stroke-linejoin="round" text-anchor="middle" textLength="11.8" lengthAdjust="spacingAndGlyphs">31</text><text x="642.4" y="1376.6" font-size="10.4" font-weight="bold" fill="#2a2a2a" stroke="#2a2a2a" stroke-width="0.35" text-anchor="middle" textLength="11.8" lengthAdjust="spacingAndGlyphs">31</text><text x="660.7" y="1372.2" font-size="10.4" font-weight="bold" fill="#fff" stroke="#fff" stroke-width="2.6" stroke-linejoin="round" text-anchor="middle" textLength="11.8" lengthAdjust="spacingAndGlyphs">25</text><text x="660.7" y="1372.2" font-size="10.4" font-weight="bold" fill="#2a2a2a" stroke="#2a2a2a" stroke-width="0.35" text-anchor="middle" textLength="11.8" lengthAdjust="spacingAndGlyphs">25</text><text x="496.1" y="1376.6" font-size="10.4" font-weight="bold" fill="#fff" stroke="#fff" stroke-width="2.6" stroke-linejoin="round" text-anchor="middle" textLength="11.8" lengthAdjust="spacingAndGlyphs">10</text><text x="496.1" y="1376.6" font-size="10.4" font-weight="bold" fill="#2a2a2a" stroke="#2a2a2a" stroke-width="0.35" text-anchor="middle" textLength="11.8" lengthAdjust="spacingAndGlyphs">10</text><text x="533.0" y="1380.1" font-size="10.4" font-weight="bold" fill="#fff" stroke="#fff" stroke-width="2.6" stroke-linejoin="round" text-anchor="middle" textLength="5.9" lengthAdjust="spacingAndGlyphs">5</text><text x="533.0" y="1380.1" font-size="10.4" font-weight="bold" fill="#2a2a2a" stroke="#2a2a2a" stroke-width="0.35" text-anchor="middle" textLength="5.9" lengthAdjust="spacingAndGlyphs">5</text><text x="574.3" y="1393.5" font-size="10.4" font-weight="bold" fill="#fff" stroke="#fff" stroke-width="2.6" stroke-linejoin="round" text-anchor="middle" textLength="11.8" lengthAdjust="spacingAndGlyphs">12</text><text x="574.3" y="1393.5" font-size="10.4" font-weight="bold" fill="#2a2a2a" stroke="#2a2a2a" stroke-width="0.35" text-anchor="middle" textLength="11.8" lengthAdjust="spacingAndGlyphs">12</text><text x="558.3" y="1406.8" font-size="10.4" font-weight="bold" fill="#fff" stroke="#fff" stroke-width="2.6" stroke-linejoin="round" text-anchor="middle" textLength="11.8" lengthAdjust="spacingAndGlyphs">28</text><text x="558.3" y="1406.8" font-size="10.4" font-weight="bold" fill="#2a2a2a" stroke="#2a2a2a" stroke-width="0.35" text-anchor="middle" textLength="11.8" lengthAdjust="spacingAndGlyphs">28</text><text x="569.1" y="1409.8" font-size="10.4" font-weight="bold" fill="#fff" stroke="#fff" stroke-width="2.6" stroke-linejoin="round" text-anchor="middle" textLength="5.9" lengthAdjust="spacingAndGlyphs">7</text><text x="569.1" y="1409.8" font-size="10.4" font-weight="bold" fill="#2a2a2a" stroke="#2a2a2a" stroke-width="0.35" text-anchor="middle" textLength="5.9" lengthAdjust="spacingAndGlyphs">7</text><text x="555.8" y="1418.7" font-size="10.4" font-weight="bold" fill="#fff" stroke="#fff" stroke-width="2.6" stroke-linejoin="round" text-anchor="middle" textLength="11.8" lengthAdjust="spacingAndGlyphs">29</text><text x="555.8" y="1418.7" font-size="10.4" font-weight="bold" fill="#2a2a2a" stroke="#2a2a2a" stroke-width="0.35" text-anchor="middle" textLength="11.8" lengthAdjust="spacingAndGlyphs">29</text><text x="652.1" y="1416.7" font-size="10.4" font-weight="bold" fill="#fff" stroke="#fff" stroke-width="2.6" stroke-linejoin="round" text-anchor="middle" textLength="5.9" lengthAdjust="spacingAndGlyphs">1</text><text x="652.1" y="1416.7" font-size="10.4" font-weight="bold" fill="#2a2a2a" stroke="#2a2a2a" stroke-width="0.35" text-anchor="middle" textLength="5.9" lengthAdjust="spacingAndGlyphs">1</text><text x="676.3" y="1416.0" font-size="10.4" font-weight="bold" fill="#fff" stroke="#fff" stroke-width="2.6" stroke-linejoin="round" text-anchor="middle" textLength="11.8" lengthAdjust="spacingAndGlyphs">33</text><text x="676.3" y="1416.0" font-size="10.4" font-weight="bold" fill="#2a2a2a" stroke="#2a2a2a" stroke-width="0.35" text-anchor="middle" textLength="11.8" lengthAdjust="spacingAndGlyphs">33</text><text x="584.7" y="1446.4" font-size="10.4" font-weight="bold" fill="#fff" stroke="#fff" stroke-width="2.6" stroke-linejoin="round" text-anchor="middle" textLength="11.8" lengthAdjust="spacingAndGlyphs">17</text><text x="584.7" y="1446.4" font-size="10.4" font-weight="bold" fill="#2a2a2a" stroke="#2a2a2a" stroke-width="0.35" text-anchor="middle" textLength="11.8" lengthAdjust="spacingAndGlyphs">17</text><text x="613.4" y="1443.5" font-size="10.4" font-weight="bold" fill="#fff" stroke="#fff" stroke-width="2.6" stroke-linejoin="round" text-anchor="middle" textLength="5.9" lengthAdjust="spacingAndGlyphs">6</text><text x="613.4" y="1443.5" font-size="10.4" font-weight="bold" fill="#2a2a2a" stroke="#2a2a2a" stroke-width="0.35" text-anchor="middle" textLength="5.9" lengthAdjust="spacingAndGlyphs">6</text><text x="588.7" y="1457.8" font-size="10.4" font-weight="bold" fill="#fff" stroke="#fff" stroke-width="2.6" stroke-linejoin="round" text-anchor="middle" textLength="11.8" lengthAdjust="spacingAndGlyphs">30</text><text x="588.7" y="1457.8" font-size="10.4" font-weight="bold" fill="#2a2a2a" stroke="#2a2a2a" stroke-width="0.35" text-anchor="middle" textLength="11.8" lengthAdjust="spacingAndGlyphs">30</text><text x="544.1" y="1472.2" font-size="10.4" font-weight="bold" fill="#fff" stroke="#fff" stroke-width="2.6" stroke-linejoin="round" text-anchor="middle" textLength="11.8" lengthAdjust="spacingAndGlyphs">27</text><text x="544.1" y="1472.2" font-size="10.4" font-weight="bold" fill="#2a2a2a" stroke="#2a2a2a" stroke-width="0.35" text-anchor="middle" textLength="11.8" lengthAdjust="spacingAndGlyphs">27</text><rect x="713.2" y="1189.0" width="11.9" height="341.0" fill="url(#cmap)" stroke="#555" stroke-width="0.9"/><line x1="725.1" y1="1189.0" x2="728.6" y2="1189.0" stroke="#333" stroke-width="0.9"/><text x="730.9" y="1192.1" font-size="9.00" font-weight="bold" fill="#262626" text-anchor="start" textLength="19.8" lengthAdjust="spacingAndGlyphs">0.16</text><line x1="725.1" y1="1274.0" x2="728.6" y2="1274.0" stroke="#333" stroke-width="0.9"/><text x="730.9" y="1277.1" font-size="9.00" font-weight="bold" fill="#262626" text-anchor="start" textLength="19.8" lengthAdjust="spacingAndGlyphs">0.08</text><line x1="725.1" y1="1359.0" x2="728.6" y2="1359.0" stroke="#333" stroke-width="0.9"/><text x="730.9" y="1362.1" font-size="9.00" font-weight="bold" fill="#262626" text-anchor="start" textLength="19.8" lengthAdjust="spacingAndGlyphs">0.00</text><line x1="725.1" y1="1444.0" x2="728.6" y2="1444.0" stroke="#333" stroke-width="0.9"/><text x="730.9" y="1447.1" font-size="9.00" font-weight="bold" fill="#262626" text-anchor="start" textLength="26.7" lengthAdjust="spacingAndGlyphs">−0.08</text><line x1="725.1" y1="1529.0" x2="728.6" y2="1529.0" stroke="#333" stroke-width="0.9"/><text x="730.9" y="1532.1" font-size="9.00" font-weight="bold" fill="#262626" text-anchor="start" textLength="26.7" lengthAdjust="spacingAndGlyphs">−0.16</text><text transform="translate(780.6,1165.1) scale(1.120,1)" x="0" y="0" font-size="28.5" font-weight="bold" fill="#000">H</text><text x="943.0" y="1183.5" font-size="12.30" font-weight="bold" fill="#262626" text-anchor="middle" textLength="117.9" lengthAdjust="spacingAndGlyphs">Stromal Fraction</text><g transform="matrix(0.9900,0,0,0.9900,751.14,405.90)"><linearGradient id="tg7" gradientUnits="userSpaceOnUse" x1="120" y1="1024" x2="96" y2="1059"><stop offset="0" stop-color="#e0e7f3" stop-opacity="0.21"/><stop offset="1" stop-color="#e0e7f3" stop-opacity="0.60"/></linearGradient><use href="#ut" fill="url(#tg7)" filter="url(#fsoft1)"/><g mask="url(#um)"><rect x="40" y="780" width="305" height="360" fill="#f2f0f0"/><g filter="url(#fblob)"><path d="M130.5,780.0 L151.2,780.0 L210.2,850.0 L211.1,867.8 L204.0,877.4 L184.7,886.4 L147.7,872.6 L137.5,863.3Z" fill="#d2816c"/><path d="M277.0,864.8 L270.5,871.3 L242.3,875.0 L211.1,867.8 L210.2,850.0 L266.2,807.5Z" fill="#d68e7b"/><path d="M134.4,865.7 L105.0,919.6 L79.7,919.1 L40.0,899.1 L40.0,889.3Z" fill="#d4dbe8"/><path d="M137.5,863.3 L147.7,872.6 L141.1,917.4 L128.0,931.2 L105.0,919.6 L134.4,865.7Z" fill="#e2b5a9"/><path d="M141.1,917.4 L147.7,872.6 L184.7,886.4 L182.1,897.1 L167.2,913.6Z" fill="#e4beb3"/><path d="M204.0,877.4 L211.1,867.8 L242.3,875.0 L245.1,913.5 L225.7,920.8Z" fill="#dda494"/><path d="M245.1,913.5 L242.3,875.0 L270.5,871.3 L273.8,918.6Z" fill="#e0ad9e"/><path d="M279.7,925.7 L278.8,924.9 L273.8,918.6 L270.5,871.3 L277.0,864.8 L311.8,870.0Z" fill="#eddfdc"/><path d="M193.0,927.3 L182.1,897.1 L184.7,886.4 L204.0,877.4 L225.7,920.8 L222.6,929.8 L216.1,933.1Z" fill="#e2b5a9"/><path d="M128.0,931.2 L141.1,917.4 L167.2,913.6 L168.8,931.7 L134.9,945.1Z" fill="#e0ad9e"/><path d="M168.8,931.7 L167.2,913.6 L182.1,897.1 L193.0,927.3 L180.5,940.0Z" fill="#e2b5a9"/><path d="M222.6,929.8 L225.7,920.8 L245.1,913.5 L273.8,918.6 L278.8,924.9 L233.6,941.5Z" fill="#dda494"/><path d="M240.9,957.2 L233.6,941.5 L278.8,924.9 L279.7,925.7 L287.6,935.2 L273.7,951.4Z" fill="#dda494"/><path d="M135.7,950.5 L134.9,945.1 L168.8,931.7 L180.5,940.0 L180.6,948.1 L170.9,963.3 L141.6,958.0Z" fill="#e6c6bd"/><path d="M180.6,948.1 L180.5,940.0 L193.0,927.3 L216.1,933.1 L212.4,941.0 L198.4,952.1Z" fill="#f0e8e6"/><path d="M79.7,919.1 L105.0,919.6 L128.0,931.2 L134.9,945.1 L135.7,950.5 L95.9,975.5 L91.7,974.2Z" fill="#e0ad9e"/><path d="M203.3,975.3 L198.4,952.1 L212.4,941.0 L218.8,978.4Z" fill="#e9cec7"/><path d="M218.8,978.4 L212.4,941.0 L216.1,933.1 L222.6,929.8 L233.6,941.5 L240.9,957.2 L229.1,984.2Z" fill="#e4beb3"/><path d="M170.9,963.3 L180.6,948.1 L198.4,952.1 L203.3,975.3 L181.3,980.5Z" fill="#d4dbe8"/><path d="M229.1,984.2 L240.9,957.2 L273.7,951.4 L273.2,955.2 L242.8,1004.7 L241.3,1005.4 L238.3,1004.7Z" fill="#e0ad9e"/><path d="M242.8,1004.7 L273.2,955.2 L282.9,995.0Z" fill="#e4beb3"/><path d="M345.0,945.3 L345.0,976.9 L290.1,996.4 L282.9,995.0 L273.2,955.2 L273.7,951.4 L287.6,935.2Z" fill="#f0e8e6"/><path d="M95.9,975.5 L135.7,950.5 L141.6,958.0 L138.2,994.0 L108.9,993.1Z" fill="#dda494"/><path d="M138.2,994.0 L141.6,958.0 L170.9,963.3 L181.3,980.5 L179.6,985.9 L156.2,1008.0 L151.2,1010.9Z" fill="#dbe0ea"/><path d="M179.6,985.9 L181.3,980.5 L203.3,975.3 L218.8,978.4 L229.1,984.2 L238.3,1004.7 L228.7,1012.2 L191.6,1000.4Z" fill="#dbe0ea"/><path d="M156.2,1008.0 L179.6,985.9 L191.6,1000.4 L187.7,1014.6Z" fill="#ccd6e6"/><path d="M198.5,1030.8 L187.7,1014.6 L191.6,1000.4 L228.7,1012.2 L222.4,1020.6Z" fill="#c4d0e3"/><path d="M151.2,1010.9 L156.2,1008.0 L187.7,1014.6 L198.5,1030.8 L182.0,1048.0 L168.5,1045.0 L150.5,1015.8Z" fill="#ccd6e6"/><path d="M241.3,1005.4 L242.8,1004.7 L282.9,995.0 L290.1,996.4 L291.4,1037.7 L270.8,1048.1Z" fill="#f0e8e6"/><path d="M345.0,976.9 L345.0,980.4 L299.9,1038.3 L291.4,1037.7 L290.1,996.4Z" fill="#f2f0f0"/><path d="M182.0,1048.0 L198.5,1030.8 L222.4,1020.6 L225.3,1048.8 L190.3,1061.0Z" fill="#aec0dd"/><path d="M239.7,1073.6 L225.3,1048.8 L222.4,1020.6 L228.7,1012.2 L238.3,1004.7 L241.3,1005.4 L270.8,1048.1 L262.1,1082.2Z" fill="#9db5d8"/><path d="M196.5,1080.2 L190.3,1061.0 L225.3,1048.8 L239.7,1073.6Z" fill="#b5c6df"/><path d="M168.5,1045.0 L182.0,1048.0 L190.3,1061.0 L196.5,1080.2 L187.3,1101.7 L134.1,1080.6Z" fill="#d4dbe8"/><path d="M40.0,1000.0 L40.0,899.1 L79.7,919.1 L91.7,974.2Z" fill="#e6c6bd"/><path d="M40.0,1103.8 L40.0,1000.0 L91.7,974.2 L95.9,975.5 L108.9,993.1 L89.9,1050.4 L44.0,1101.4Z" fill="#e4beb3"/><path d="M108.9,993.1 L138.2,994.0 L151.2,1010.9 L150.5,1015.8 L89.9,1050.4Z" fill="#e4beb3"/><path d="M40.0,780.0 L130.5,780.0 L137.5,863.3 L134.4,865.7 L40.0,889.3Z" fill="#e3e5ec"/><path d="M151.2,780.0 L274.8,780.0 L266.2,807.5 L210.2,850.0Z" fill="#d99582"/><path d="M274.8,780.0 L345.0,780.0 L345.0,870.0 L311.8,870.0 L277.0,864.8 L266.2,807.5Z" fill="#e6c6bd"/><path d="M345.0,870.0 L345.0,945.3 L287.6,935.2 L279.7,925.7 L311.8,870.0Z" fill="#f2f0f0"/><path d="M345.0,1068.3 L345.0,1140.0 L287.3,1140.0 L262.1,1082.2 L270.8,1048.1 L291.4,1037.7 L299.9,1038.3Z" fill="#f0e8e6"/><path d="M287.3,1140.0 L196.2,1140.0 L187.3,1101.7 L196.5,1080.2 L239.7,1073.6 L262.1,1082.2Z" fill="#c4d0e3"/><path d="M196.2,1140.0 L40.0,1140.0 L40.0,1103.8 L44.0,1101.4 L134.1,1080.6 L187.3,1101.7Z" fill="#d4dbe8"/><path d="M44.0,1101.4 L89.9,1050.4 L150.5,1015.8 L168.5,1045.0 L134.1,1080.6Z" fill="#e3e5ec"/><path d="M345.0,980.4 L345.0,1068.3 L299.9,1038.3Z" fill="#eddfdc"/></g></g></g><text x="923.4" y="1254.6" font-size="10.4" font-weight="bold" fill="#fff" stroke="#fff" stroke-width="2.6" stroke-linejoin="round" text-anchor="middle" textLength="5.9" lengthAdjust="spacingAndGlyphs">0</text><text x="923.4" y="1254.6" font-size="10.4" font-weight="bold" fill="#2a2a2a" stroke="#2a2a2a" stroke-width="0.35" text-anchor="middle" textLength="5.9" lengthAdjust="spacingAndGlyphs">0</text><text x="995.2" y="1250.9" font-size="10.4" font-weight="bold" fill="#fff" stroke="#fff" stroke-width="2.6" stroke-linejoin="round" text-anchor="middle" textLength="5.9" lengthAdjust="spacingAndGlyphs">2</text><text x="995.2" y="1250.9" font-size="10.4" font-weight="bold" fill="#2a2a2a" stroke="#2a2a2a" stroke-width="0.35" text-anchor="middle" textLength="5.9" lengthAdjust="spacingAndGlyphs">2</text><text x="856.8" y="1287.5" font-size="10.4" font-weight="bold" fill="#fff" stroke="#fff" stroke-width="2.6" stroke-linejoin="round" text-anchor="middle" textLength="11.8" lengthAdjust="spacingAndGlyphs">26</text><text x="856.8" y="1287.5" font-size="10.4" font-weight="bold" fill="#2a2a2a" stroke="#2a2a2a" stroke-width="0.35" text-anchor="middle" textLength="11.8" lengthAdjust="spacingAndGlyphs">26</text><text x="881.3" y="1300.9" font-size="10.4" font-weight="bold" fill="#fff" stroke="#fff" stroke-width="2.6" stroke-linejoin="round" text-anchor="middle" textLength="11.8" lengthAdjust="spacingAndGlyphs">13</text><text x="881.3" y="1300.9" font-size="10.4" font-weight="bold" fill="#2a2a2a" stroke="#2a2a2a" stroke-width="0.35" text-anchor="middle" textLength="11.8" lengthAdjust="spacingAndGlyphs">13</text><text x="904.8" y="1304.4" font-size="10.4" font-weight="bold" fill="#fff" stroke="#fff" stroke-width="2.6" stroke-linejoin="round" text-anchor="middle" textLength="5.9" lengthAdjust="spacingAndGlyphs">3</text><text x="904.8" y="1304.4" font-size="10.4" font-weight="bold" fill="#2a2a2a" stroke="#2a2a2a" stroke-width="0.35" text-anchor="middle" textLength="5.9" lengthAdjust="spacingAndGlyphs">3</text><text x="984.0" y="1299.7" font-size="10.4" font-weight="bold" fill="#fff" stroke="#fff" stroke-width="2.6" stroke-linejoin="round" text-anchor="middle" textLength="5.9" lengthAdjust="spacingAndGlyphs">9</text><text x="984.0" y="1299.7" font-size="10.4" font-weight="bold" fill="#2a2a2a" stroke="#2a2a2a" stroke-width="0.35" text-anchor="middle" textLength="5.9" lengthAdjust="spacingAndGlyphs">9</text><text x="1001.4" y="1298.4" font-size="10.4" font-weight="bold" fill="#fff" stroke="#fff" stroke-width="2.6" stroke-linejoin="round" text-anchor="middle" textLength="11.8" lengthAdjust="spacingAndGlyphs">23</text><text x="1001.4" y="1298.4" font-size="10.4" font-weight="bold" fill="#2a2a2a" stroke="#2a2a2a" stroke-width="0.35" text-anchor="middle" textLength="11.8" lengthAdjust="spacingAndGlyphs">23</text><text x="1040.0" y="1295.7" font-size="10.4" font-weight="bold" fill="#fff" stroke="#fff" stroke-width="2.6" stroke-linejoin="round" text-anchor="middle" textLength="11.8" lengthAdjust="spacingAndGlyphs">19</text><text x="1040.0" y="1295.7" font-size="10.4" font-weight="bold" fill="#2a2a2a" stroke="#2a2a2a" stroke-width="0.35" text-anchor="middle" textLength="11.8" lengthAdjust="spacingAndGlyphs">19</text><text x="951.9" y="1315.7" font-size="10.4" font-weight="bold" fill="#fff" stroke="#fff" stroke-width="2.6" stroke-linejoin="round" text-anchor="middle" textLength="11.8" lengthAdjust="spacingAndGlyphs">24</text><text x="951.9" y="1315.7" font-size="10.4" font-weight="bold" fill="#2a2a2a" stroke="#2a2a2a" stroke-width="0.35" text-anchor="middle" textLength="11.8" lengthAdjust="spacingAndGlyphs">24</text><text x="908.1" y="1326.4" font-size="10.4" font-weight="bold" fill="#fff" stroke="#fff" stroke-width="2.6" stroke-linejoin="round" text-anchor="middle" textLength="11.8" lengthAdjust="spacingAndGlyphs">18</text><text x="908.1" y="1326.4" font-size="10.4" font-weight="bold" fill="#2a2a2a" stroke="#2a2a2a" stroke-width="0.35" text-anchor="middle" textLength="11.8" lengthAdjust="spacingAndGlyphs">18</text><text x="927.4" y="1324.7" font-size="10.4" font-weight="bold" fill="#fff" stroke="#fff" stroke-width="2.6" stroke-linejoin="round" text-anchor="middle" textLength="11.8" lengthAdjust="spacingAndGlyphs">15</text><text x="927.4" y="1324.7" font-size="10.4" font-weight="bold" fill="#2a2a2a" stroke="#2a2a2a" stroke-width="0.35" text-anchor="middle" textLength="11.8" lengthAdjust="spacingAndGlyphs">15</text><text x="995.7" y="1330.8" font-size="10.4" font-weight="bold" fill="#fff" stroke="#fff" stroke-width="2.6" stroke-linejoin="round" text-anchor="middle" textLength="11.8" lengthAdjust="spacingAndGlyphs">11</text><text x="995.7" y="1330.8" font-size="10.4" font-weight="bold" fill="#2a2a2a" stroke="#2a2a2a" stroke-width="0.35" text-anchor="middle" textLength="11.8" lengthAdjust="spacingAndGlyphs">11</text><text x="999.4" y="1341.0" font-size="10.4" font-weight="bold" fill="#fff" stroke="#fff" stroke-width="2.6" stroke-linejoin="round" text-anchor="middle" textLength="11.8" lengthAdjust="spacingAndGlyphs">22</text><text x="999.4" y="1341.0" font-size="10.4" font-weight="bold" fill="#2a2a2a" stroke="#2a2a2a" stroke-width="0.35" text-anchor="middle" textLength="11.8" lengthAdjust="spacingAndGlyphs">22</text><text x="914.5" y="1342.7" font-size="10.4" font-weight="bold" fill="#fff" stroke="#fff" stroke-width="2.6" stroke-linejoin="round" text-anchor="middle" textLength="11.8" lengthAdjust="spacingAndGlyphs">16</text><text x="914.5" y="1342.7" font-size="10.4" font-weight="bold" fill="#2a2a2a" stroke="#2a2a2a" stroke-width="0.35" text-anchor="middle" textLength="11.8" lengthAdjust="spacingAndGlyphs">16</text><text x="945.2" y="1342.2" font-size="10.4" font-weight="bold" fill="#fff" stroke="#fff" stroke-width="2.6" stroke-linejoin="round" text-anchor="middle" textLength="5.9" lengthAdjust="spacingAndGlyphs">8</text><text x="945.2" y="1342.2" font-size="10.4" font-weight="bold" fill="#2a2a2a" stroke="#2a2a2a" stroke-width="0.35" text-anchor="middle" textLength="5.9" lengthAdjust="spacingAndGlyphs">8</text><text x="855.6" y="1352.1" font-size="10.4" font-weight="bold" fill="#fff" stroke="#fff" stroke-width="2.6" stroke-linejoin="round" text-anchor="middle" textLength="11.8" lengthAdjust="spacingAndGlyphs">14</text><text x="855.6" y="1352.1" font-size="10.4" font-weight="bold" fill="#2a2a2a" stroke="#2a2a2a" stroke-width="0.35" text-anchor="middle" textLength="11.8" lengthAdjust="spacingAndGlyphs">14</text><text x="956.6" y="1356.6" font-size="10.4" font-weight="bold" fill="#fff" stroke="#fff" stroke-width="2.6" stroke-linejoin="round" text-anchor="middle" textLength="11.8" lengthAdjust="spacingAndGlyphs">21</text><text x="956.6" y="1356.6" font-size="10.4" font-weight="bold" fill="#2a2a2a" stroke="#2a2a2a" stroke-width="0.35" text-anchor="middle" textLength="11.8" lengthAdjust="spacingAndGlyphs">21</text><text x="971.2" y="1354.1" font-size="10.4" font-weight="bold" fill="#fff" stroke="#fff" stroke-width="2.6" stroke-linejoin="round" text-anchor="middle" textLength="11.8" lengthAdjust="spacingAndGlyphs">20</text><text x="971.2" y="1354.1" font-size="10.4" font-weight="bold" fill="#2a2a2a" stroke="#2a2a2a" stroke-width="0.35" text-anchor="middle" textLength="11.8" lengthAdjust="spacingAndGlyphs">20</text><text x="941.2" y="1359.8" font-size="10.4" font-weight="bold" fill="#fff" stroke="#fff" stroke-width="2.6" stroke-linejoin="round" text-anchor="middle" textLength="11.8" lengthAdjust="spacingAndGlyphs">32</text><text x="941.2" y="1359.8" font-size="10.4" font-weight="bold" fill="#2a2a2a" stroke="#2a2a2a" stroke-width="0.35" text-anchor="middle" textLength="11.8" lengthAdjust="spacingAndGlyphs">32</text><text x="1004.3" y="1368.7" font-size="10.4" font-weight="bold" fill="#fff" stroke="#fff" stroke-width="2.6" stroke-linejoin="round" text-anchor="middle" textLength="5.9" lengthAdjust="spacingAndGlyphs">4</text><text x="1004.3" y="1368.7" font-size="10.4" font-weight="bold" fill="#2a2a2a" stroke="#2a2a2a" stroke-width="0.35" text-anchor="middle" textLength="5.9" lengthAdjust="spacingAndGlyphs">4</text><text x="1017.2" y="1376.6" font-size="10.4" font-weight="bold" fill="#fff" stroke="#fff" stroke-width="2.6" stroke-linejoin="round" text-anchor="middle" textLength="11.8" lengthAdjust="spacingAndGlyphs">31</text><text x="1017.2" y="1376.6" font-size="10.4" font-weight="bold" fill="#2a2a2a" stroke="#2a2a2a" stroke-width="0.35" text-anchor="middle" textLength="11.8" lengthAdjust="spacingAndGlyphs">31</text><text x="1035.5" y="1372.2" font-size="10.4" font-weight="bold" fill="#fff" stroke="#fff" stroke-width="2.6" stroke-linejoin="round" text-anchor="middle" textLength="11.8" lengthAdjust="spacingAndGlyphs">25</text><text x="1035.5" y="1372.2" font-size="10.4" font-weight="bold" fill="#2a2a2a" stroke="#2a2a2a" stroke-width="0.35" text-anchor="middle" textLength="11.8" lengthAdjust="spacingAndGlyphs">25</text><text x="870.9" y="1376.6" font-size="10.4" font-weight="bold" fill="#fff" stroke="#fff" stroke-width="2.6" stroke-linejoin="round" text-anchor="middle" textLength="11.8" lengthAdjust="spacingAndGlyphs">10</text><text x="870.9" y="1376.6" font-size="10.4" font-weight="bold" fill="#2a2a2a" stroke="#2a2a2a" stroke-width="0.35" text-anchor="middle" textLength="11.8" lengthAdjust="spacingAndGlyphs">10</text><text x="907.8" y="1380.1" font-size="10.4" font-weight="bold" fill="#fff" stroke="#fff" stroke-width="2.6" stroke-linejoin="round" text-anchor="middle" textLength="5.9" lengthAdjust="spacingAndGlyphs">5</text><text x="907.8" y="1380.1" font-size="10.4" font-weight="bold" fill="#2a2a2a" stroke="#2a2a2a" stroke-width="0.35" text-anchor="middle" textLength="5.9" lengthAdjust="spacingAndGlyphs">5</text><text x="949.1" y="1393.5" font-size="10.4" font-weight="bold" fill="#fff" stroke="#fff" stroke-width="2.6" stroke-linejoin="round" text-anchor="middle" textLength="11.8" lengthAdjust="spacingAndGlyphs">12</text><text x="949.1" y="1393.5" font-size="10.4" font-weight="bold" fill="#2a2a2a" stroke="#2a2a2a" stroke-width="0.35" text-anchor="middle" textLength="11.8" lengthAdjust="spacingAndGlyphs">12</text><text x="933.1" y="1406.8" font-size="10.4" font-weight="bold" fill="#fff" stroke="#fff" stroke-width="2.6" stroke-linejoin="round" text-anchor="middle" textLength="11.8" lengthAdjust="spacingAndGlyphs">28</text><text x="933.1" y="1406.8" font-size="10.4" font-weight="bold" fill="#2a2a2a" stroke="#2a2a2a" stroke-width="0.35" text-anchor="middle" textLength="11.8" lengthAdjust="spacingAndGlyphs">28</text><text x="943.9" y="1409.8" font-size="10.4" font-weight="bold" fill="#fff" stroke="#fff" stroke-width="2.6" stroke-linejoin="round" text-anchor="middle" textLength="5.9" lengthAdjust="spacingAndGlyphs">7</text><text x="943.9" y="1409.8" font-size="10.4" font-weight="bold" fill="#2a2a2a" stroke="#2a2a2a" stroke-width="0.35" text-anchor="middle" textLength="5.9" lengthAdjust="spacingAndGlyphs">7</text><text x="930.6" y="1418.7" font-size="10.4" font-weight="bold" fill="#fff" stroke="#fff" stroke-width="2.6" stroke-linejoin="round" text-anchor="middle" textLength="11.8" lengthAdjust="spacingAndGlyphs">29</text><text x="930.6" y="1418.7" font-size="10.4" font-weight="bold" fill="#2a2a2a" stroke="#2a2a2a" stroke-width="0.35" text-anchor="middle" textLength="11.8" lengthAdjust="spacingAndGlyphs">29</text><text x="1026.9" y="1416.7" font-size="10.4" font-weight="bold" fill="#fff" stroke="#fff" stroke-width="2.6" stroke-linejoin="round" text-anchor="middle" textLength="5.9" lengthAdjust="spacingAndGlyphs">1</text><text x="1026.9" y="1416.7" font-size="10.4" font-weight="bold" fill="#2a2a2a" stroke="#2a2a2a" stroke-width="0.35" text-anchor="middle" textLength="5.9" lengthAdjust="spacingAndGlyphs">1</text><text x="1051.1" y="1416.0" font-size="10.4" font-weight="bold" fill="#fff" stroke="#fff" stroke-width="2.6" stroke-linejoin="round" text-anchor="middle" textLength="11.8" lengthAdjust="spacingAndGlyphs">33</text><text x="1051.1" y="1416.0" font-size="10.4" font-weight="bold" fill="#2a2a2a" stroke="#2a2a2a" stroke-width="0.35" text-anchor="middle" textLength="11.8" lengthAdjust="spacingAndGlyphs">33</text><text x="959.5" y="1446.4" font-size="10.4" font-weight="bold" fill="#fff" stroke="#fff" stroke-width="2.6" stroke-linejoin="round" text-anchor="middle" textLength="11.8" lengthAdjust="spacingAndGlyphs">17</text><text x="959.5" y="1446.4" font-size="10.4" font-weight="bold" fill="#2a2a2a" stroke="#2a2a2a" stroke-width="0.35" text-anchor="middle" textLength="11.8" lengthAdjust="spacingAndGlyphs">17</text><text x="988.2" y="1443.5" font-size="10.4" font-weight="bold" fill="#fff" stroke="#fff" stroke-width="2.6" stroke-linejoin="round" text-anchor="middle" textLength="5.9" lengthAdjust="spacingAndGlyphs">6</text><text x="988.2" y="1443.5" font-size="10.4" font-weight="bold" fill="#2a2a2a" stroke="#2a2a2a" stroke-width="0.35" text-anchor="middle" textLength="5.9" lengthAdjust="spacingAndGlyphs">6</text><text x="963.5" y="1457.8" font-size="10.4" font-weight="bold" fill="#fff" stroke="#fff" stroke-width="2.6" stroke-linejoin="round" text-anchor="middle" textLength="11.8" lengthAdjust="spacingAndGlyphs">30</text><text x="963.5" y="1457.8" font-size="10.4" font-weight="bold" fill="#2a2a2a" stroke="#2a2a2a" stroke-width="0.35" text-anchor="middle" textLength="11.8" lengthAdjust="spacingAndGlyphs">30</text><text x="918.9" y="1472.2" font-size="10.4" font-weight="bold" fill="#fff" stroke="#fff" stroke-width="2.6" stroke-linejoin="round" text-anchor="middle" textLength="11.8" lengthAdjust="spacingAndGlyphs">27</text><text x="918.9" y="1472.2" font-size="10.4" font-weight="bold" fill="#2a2a2a" stroke="#2a2a2a" stroke-width="0.35" text-anchor="middle" textLength="11.8" lengthAdjust="spacingAndGlyphs">27</text><rect x="1088.2" y="1187.7" width="11.8" height="342.3" fill="url(#cmap)" stroke="#555" stroke-width="0.9"/><line x1="1100.0" y1="1212.0" x2="1103.5" y2="1212.0" stroke="#333" stroke-width="0.9"/><text x="1105.8" y="1215.1" font-size="9.00" font-weight="bold" fill="#262626" text-anchor="start" textLength="19.8" lengthAdjust="spacingAndGlyphs">0.16</text><line x1="1100.0" y1="1285.9" x2="1103.5" y2="1285.9" stroke="#333" stroke-width="0.9"/><text x="1105.8" y="1289.0" font-size="9.00" font-weight="bold" fill="#262626" text-anchor="start" textLength="19.8" lengthAdjust="spacingAndGlyphs">0.08</text><line x1="1100.0" y1="1358.6" x2="1103.5" y2="1358.6" stroke="#333" stroke-width="0.9"/><text x="1105.8" y="1361.7" font-size="9.00" font-weight="bold" fill="#262626" text-anchor="start" textLength="19.8" lengthAdjust="spacingAndGlyphs">0.00</text><line x1="1100.0" y1="1432.0" x2="1103.5" y2="1432.0" stroke="#333" stroke-width="0.9"/><text x="1105.8" y="1435.1" font-size="9.00" font-weight="bold" fill="#262626" text-anchor="start" textLength="26.7" lengthAdjust="spacingAndGlyphs">−0.08</text><line x1="1100.0" y1="1505.9" x2="1103.5" y2="1505.9" stroke="#333" stroke-width="0.9"/><text x="1105.8" y="1509.0" font-size="9.00" font-weight="bold" fill="#262626" text-anchor="start" textLength="26.7" lengthAdjust="spacingAndGlyphs">−0.16</text></svg></body></html>
